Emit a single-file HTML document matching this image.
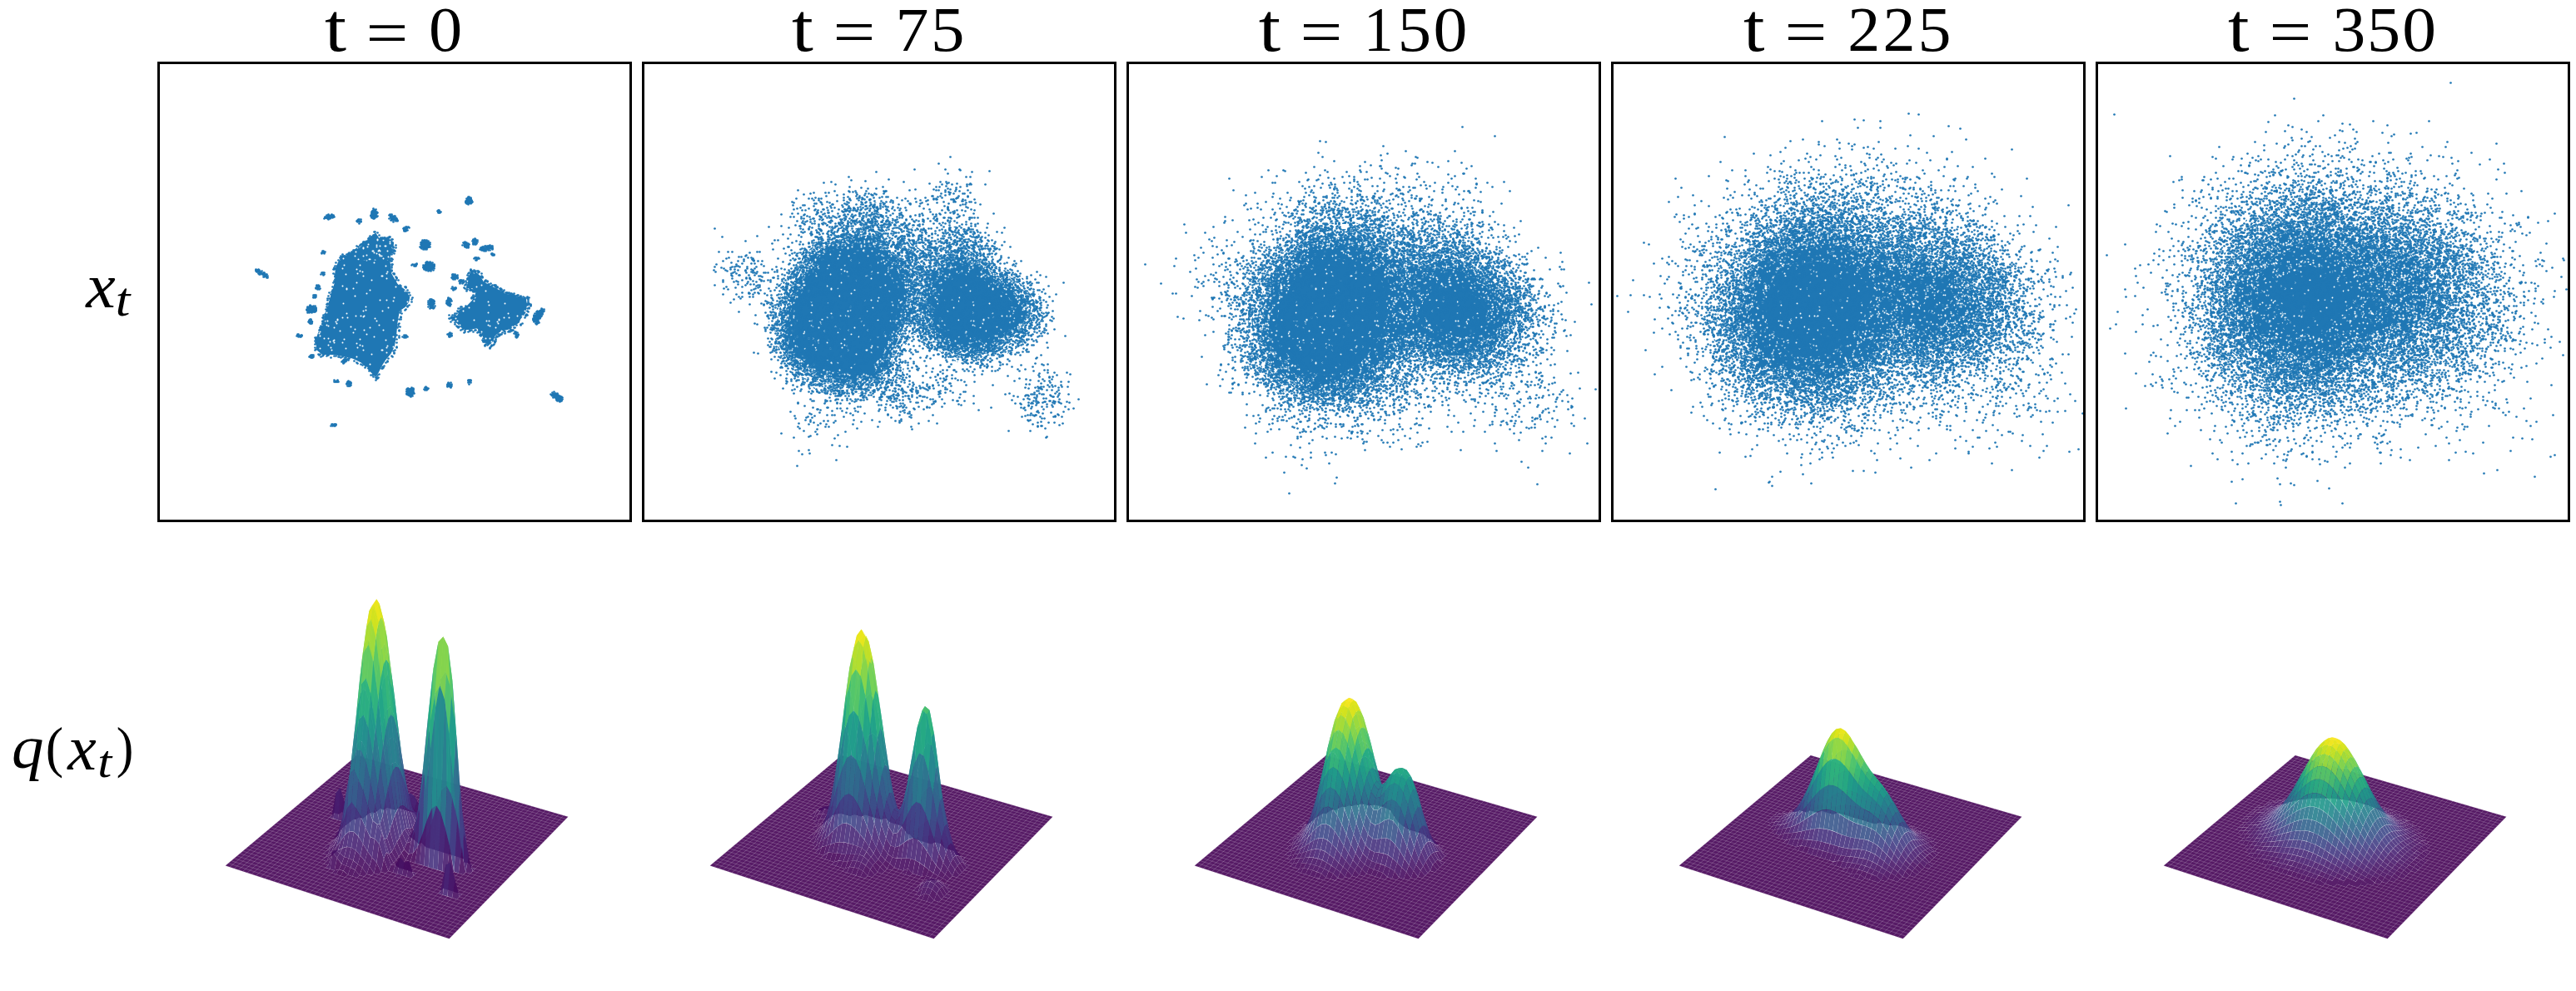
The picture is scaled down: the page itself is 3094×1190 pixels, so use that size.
<!DOCTYPE html>
<html><head><meta charset="utf-8"><title>Diffusion of data distribution</title>
<style>html,body{margin:0;padding:0;background:#fff;}body{width:3094px;height:1190px;overflow:hidden;font-family:"Liberation Serif",serif;}svg{display:block}</style>
</head><body>
<svg width="3094" height="1190" viewBox="0 0 3094 1190">
<clipPath id="bc0"><path clip-rule="evenodd" d="M270.7 1039.5 539.6 1127.3 682.4 980.7 428.8 907ZM389.5 1017.7 392.7 1014.8 396 1012 399.2 1009.1 402.4 1006.3 405.6 1003.5 400.4 1001.9 403.6 999.1 406.8 996.3 409.9 993.5 413.1 990.7 416.2 987.9 411.1 986.3 405.9 984.8 400.7 983.2 395.6 981.6 398.7 978.9 401.9 976.1 407 977.7 410.2 975 415.3 976.6 420.5 978.1 417.3 980.9 422.5 982.4 427.7 984 430.8 981.3 436 982.9 439.1 980.1 442.2 977.4 445.2 974.7 450.4 976.2 453.5 973.5 456.5 970.8 461.7 972.4 464.7 969.7 469.9 971.2 475.1 972.8 478.1 970.1 483.3 971.7 488.5 973.2 493.7 974.8 496.7 972.1 501.9 973.6 499 976.4 504.2 977.9 509.5 979.5 506.5 982.2 511.7 983.8 517 985.4 514.1 988.2 511.1 990.9 516.4 992.5 521.7 994.1 518.7 996.9 524 998.5 521.1 1001.3 526.4 1003 523.4 1005.8 520.4 1008.6 525.8 1010.3 522.8 1013.1 517.4 1011.5 514.4 1014.3 511.4 1017.2 516.8 1018.8 522.2 1020.5 527.6 1022.1 533 1023.8 538.4 1025.5 543.9 1027.1 549.3 1028.8 554.8 1030.5 560.3 1032.2 557.3 1035.1 562.8 1036.8 568.3 1038.5 565.3 1041.4 570.8 1043.1 567.9 1046.1 564.9 1049.1 559.3 1047.4 556.3 1050.3 550.8 1048.6 545.3 1046.9 542.2 1049.9 536.7 1048.2 531.2 1046.4 525.7 1044.7 520.2 1043 514.7 1041.3 509.3 1039.6 503.8 1037.9 498.4 1036.2 493 1034.5 487.5 1032.8 484.4 1035.8 481.3 1038.7 478.2 1041.7 483.6 1043.4 489.1 1045.1 494.5 1046.8 500 1048.5 496.9 1051.5 493.7 1054.5 488.3 1052.7 482.8 1051 479.6 1054 474.2 1052.3 477.3 1049.3 471.9 1047.6 466.4 1045.9 463.3 1048.8 457.8 1047.1 454.6 1050.1 449.2 1048.4 446 1051.4 440.6 1049.6 437.3 1052.6 431.9 1050.9 428.7 1053.9 423.3 1052.2 417.9 1050.4 414.6 1053.4 409.2 1051.7 403.8 1050 398.4 1048.3 401.7 1045.3 396.4 1043.6 391 1041.9 394.3 1038.9 389 1037.2 392.3 1034.3 387 1032.6 390.2 1029.7 393.5 1026.8 388.2 1025.1 391.5 1022.2 394.7 1019.3ZM546.5 990.6 551.8 992.2 557.2 993.8 554.3 996.6 551.3 999.4 546 997.8 540.6 996.2 543.6 993.4ZM532.5 1066.7 538 1068.5 543.6 1070.2 549.2 1072 554.8 1073.8 551.8 1076.8 548.7 1079.9 543.1 1078.1 537.4 1076.4 531.8 1074.6 526.3 1072.8 529.4 1069.7Z"/></clipPath>
<path fill="#440154" fill-opacity="0.9" fill-rule="evenodd" d="M270.7 1039.5 539.6 1127.3 682.4 980.7 428.8 907ZM389.5 1017.7 392.7 1014.8 396 1012 399.2 1009.1 402.4 1006.3 405.6 1003.5 400.4 1001.9 403.6 999.1 406.8 996.3 409.9 993.5 413.1 990.7 416.2 987.9 411.1 986.3 405.9 984.8 400.7 983.2 395.6 981.6 398.7 978.9 401.9 976.1 407 977.7 410.2 975 415.3 976.6 420.5 978.1 417.3 980.9 422.5 982.4 427.7 984 430.8 981.3 436 982.9 439.1 980.1 442.2 977.4 445.2 974.7 450.4 976.2 453.5 973.5 456.5 970.8 461.7 972.4 464.7 969.7 469.9 971.2 475.1 972.8 478.1 970.1 483.3 971.7 488.5 973.2 493.7 974.8 496.7 972.1 501.9 973.6 499 976.4 504.2 977.9 509.5 979.5 506.5 982.2 511.7 983.8 517 985.4 514.1 988.2 511.1 990.9 516.4 992.5 521.7 994.1 518.7 996.9 524 998.5 521.1 1001.3 526.4 1003 523.4 1005.8 520.4 1008.6 525.8 1010.3 522.8 1013.1 517.4 1011.5 514.4 1014.3 511.4 1017.2 516.8 1018.8 522.2 1020.5 527.6 1022.1 533 1023.8 538.4 1025.5 543.9 1027.1 549.3 1028.8 554.8 1030.5 560.3 1032.2 557.3 1035.1 562.8 1036.8 568.3 1038.5 565.3 1041.4 570.8 1043.1 567.9 1046.1 564.9 1049.1 559.3 1047.4 556.3 1050.3 550.8 1048.6 545.3 1046.9 542.2 1049.9 536.7 1048.2 531.2 1046.4 525.7 1044.7 520.2 1043 514.7 1041.3 509.3 1039.6 503.8 1037.9 498.4 1036.2 493 1034.5 487.5 1032.8 484.4 1035.8 481.3 1038.7 478.2 1041.7 483.6 1043.4 489.1 1045.1 494.5 1046.8 500 1048.5 496.9 1051.5 493.7 1054.5 488.3 1052.7 482.8 1051 479.6 1054 474.2 1052.3 477.3 1049.3 471.9 1047.6 466.4 1045.9 463.3 1048.8 457.8 1047.1 454.6 1050.1 449.2 1048.4 446 1051.4 440.6 1049.6 437.3 1052.6 431.9 1050.9 428.7 1053.9 423.3 1052.2 417.9 1050.4 414.6 1053.4 409.2 1051.7 403.8 1050 398.4 1048.3 401.7 1045.3 396.4 1043.6 391 1041.9 394.3 1038.9 389 1037.2 392.3 1034.3 387 1032.6 390.2 1029.7 393.5 1026.8 388.2 1025.1 391.5 1022.2 394.7 1019.3ZM546.5 990.6 551.8 992.2 557.2 993.8 554.3 996.6 551.3 999.4 546 997.8 540.6 996.2 543.6 993.4ZM532.5 1066.7 538 1068.5 543.6 1070.2 549.2 1072 554.8 1073.8 551.8 1076.8 548.7 1079.9 543.1 1078.1 537.4 1076.4 531.8 1074.6 526.3 1072.8 529.4 1069.7Z"/>
<g fill-opacity="0.9">
<path clip-path="url(#bc0)" stroke="#fff" stroke-opacity="0.25" stroke-width="0.75" fill="none" d="M270.7 1039.5L428.8 907M270.7 1039.5L539.6 1127.3M275.9 1041.2L433.7 908.4M274.2 1036.5L542.8 1124M281.2 1042.9L438.7 909.8M277.7 1033.6L546 1120.8M286.4 1044.6L443.6 911.3M281.2 1030.7L549.1 1117.5M291.6 1046.3L448.6 912.7M284.7 1027.8L552.3 1114.3M296.9 1048L453.6 914.2M288.1 1024.9L555.4 1111.1M302.2 1049.7L458.6 915.6M291.6 1022L558.5 1107.9M307.4 1051.5L463.6 917.1M295 1019.1L561.6 1104.7M312.7 1053.2L468.6 918.5M298.4 1016.2L564.7 1101.5M318 1054.9L473.6 920M301.8 1013.4L567.8 1098.3M323.3 1056.6L478.6 921.4M305.2 1010.5L570.9 1095.2M328.7 1058.4L483.6 922.9M308.6 1007.7L574 1092M334 1060.1L488.7 924.4M312 1004.9L577 1088.9M339.3 1061.9L493.7 925.8M315.4 1002.1L580.1 1085.8M344.7 1063.6L498.8 927.3M318.7 999.3L583.1 1082.7M350.1 1065.4L503.9 928.8M322 996.5L586.1 1079.6M355.4 1067.1L509 930.3M325.4 993.7L589.1 1076.5M360.8 1068.9L514 931.7M328.7 990.9L592.1 1073.4M366.2 1070.7L519.1 933.2M332 988.1L595.1 1070.3M371.6 1072.4L524.3 934.7M335.3 985.4L598.1 1067.3M377.1 1074.2L529.4 936.2M338.5 982.6L601 1064.2M382.5 1076L534.5 937.7M341.8 979.9L604 1061.2M388 1077.7L539.7 939.2M345.1 977.2L606.9 1058.2M393.4 1079.5L544.8 940.7M348.3 974.5L609.9 1055.2M398.9 1081.3L550 942.2M351.5 971.7L612.8 1052.2M404.4 1083.1L555.2 943.7M354.7 969L615.7 1049.2M409.9 1084.9L560.3 945.2M358 966.4L618.6 1046.2M415.4 1086.7L565.5 946.7M361.2 963.7L621.5 1043.3M420.9 1088.5L570.7 948.2M364.3 961L624.3 1040.3M426.4 1090.3L575.9 949.7M367.5 958.3L627.2 1037.4M432 1092.1L581.2 951.3M370.7 955.7L630.1 1034.4M437.5 1093.9L586.4 952.8M373.8 953L632.9 1031.5M443.1 1095.8L591.7 954.3M377 950.4L635.8 1028.6M448.7 1097.6L596.9 955.8M380.1 947.8L638.6 1025.7M454.3 1099.4L602.2 957.4M383.2 945.2L641.4 1022.8M459.9 1101.2L607.5 958.9M386.3 942.6L644.2 1019.9M465.5 1103.1L612.7 960.4M389.4 940L647 1017.1M471.1 1104.9L618 962M392.5 937.4L649.8 1014.2M476.7 1106.7L623.3 963.5M395.6 934.8L652.6 1011.4M482.4 1108.6L628.7 965.1M398.7 932.2L655.3 1008.5M488.1 1110.4L634 966.6M401.7 929.7L658.1 1005.7M493.7 1112.3L639.3 968.2M404.8 927.1L660.8 1002.9M499.4 1114.2L644.7 969.7M407.8 924.6L663.6 1000.1M505.1 1116L650 971.3M410.9 922L666.3 997.3M510.8 1117.9L655.4 972.8M413.9 919.5L669 994.5M516.6 1119.8L660.8 974.4M416.9 917L671.7 991.7M522.3 1121.6L666.2 976M419.9 914.5L674.4 988.9M528.1 1123.5L671.6 977.5M422.9 912L677.1 986.2M533.8 1125.4L677 979.1M425.8 909.5L679.8 983.4M539.6 1127.3L682.4 980.7M428.8 907L682.4 980.7"/>
<path fill="#46075a" d="M475.1 972.8l5.2-3.2 3 2.1-5.2-1.6z"/>
<path fill="#470d60" d="M461.7 972.4l5.1-15.3 3.1 14.1-5.2-1.5z"/>
<path fill="#46075a" d="M453.5 973.5l5.1-5.5 3.1 4.4-5.2-1.6z"/>
<path fill="#440154" d="M493.7 974.8l5.3 1.6 2.9-2.8-5.2-1.5z"/>
<path fill="#46075a" d="M480.3 969.6l5.2 1.6 3 2-5.2-1.5zM485.5 971.2l5.3-.5 2.9 4.1-5.2-1.6z"/>
<path fill="#471365" d="M466.9 957.1l5.1-3.8 3.1 19.5-5.2-1.6z"/>
<path fill="#46075a" d="M450.4 976.2l5.2-4.6 3-3.6-5.1 5.5zM442.2 977.4l5.1-2.7 3.1 1.5-5.1-1.5z"/>
<path fill="#471365" d="M458.7 968l5.1-11.3 3 .5-5.1 15.1zM472.1 953.3l5.2 9 3 7.2-5.2 3.3z"/>
<path fill="#470d60" d="M490.8 970.7l5.2-6.2 3 11.8-5.3-1.5zM407.1 977.7l4.8-19.5 3.4 18.3-5.1-1.5zM477.3 962.3l5.2 6.1 3 2.8-5.2-1.7z"/>
<path fill="#46075a" d="M447.3 974.7l5.2-3.5 3.1 .4-5.2 4.6zM439.1 980.1l5.1-5.1 3.1-.3-5.1 2.7z"/>
<path fill="#470d60" d="M411.9 958.2l5.4 22.6 3.2-2.7-5.2-1.6z"/>
<path fill="#471365" d="M398.8 978.8l4.6-26.4 3.6 25.3-5.1-1.6z"/>
<path fill="#470d60" d="M496 964.5l5.3 4.6 2.9 8.8-5.2-1.6z"/>
<path fill="#46075a" d="M501.3 969.1l5.2 13.1 2.9-2.7-5.2-1.6z"/>
<path fill="#470d60" d="M482.6 968.5l5.2-1.9 2.9 4-5.2 .6z"/>
<path fill="#471365" d="M455.6 971.6l5.1-5 3.1-9.9-5.2 11.3zM395.6 981.6l5.1 1.5 2.7-30.7-4.6 26.4z"/>
<path fill="#481d6f" d="M463.8 956.6l5.2-5.6 3 2.2-5.1 3.9z"/>
<path fill="#46075a" d="M436 982.8l5.1-8.3 3.1 .5-5.1 5.1zM427.7 984l5.1-3.9 3.2 2.8-5.2-1.6z"/>
<path fill="#471365" d="M452.5 971.2l5.2-6.5 3 1.9-5.1 5z"/>
<path fill="#470d60" d="M444.3 975l5.1-6.3 3.1 2.5-5.2 3.5z"/>
<path fill="#48186a" d="M474.3 958.4l5.2 5.1 3 4.9-5.2-6.1z"/>
<path fill="#481d6f" d="M469 951l5.2 7.3 3.1 3.9-5.2-8.9z"/>
<path fill="#470d60" d="M413.9 963.3l5.4 16.2 3.2 2.9-5.1-1.6z"/>
<path fill="#46075a" d="M419.3 979.5l5.2 4.3 3.2 .2-5.2-1.6z"/>
<path fill="#48186a" d="M487.8 966.5l5.3-14.1 2.9 12-5.2 6.2z"/>
<path fill="#481d6f" d="M460.8 966.5l5.1-5.5 3.1-10-5.2 5.7z"/>
<path fill="#48186a" d="M479.5 963.6l5.2-1 3 4-5.2 1.8z"/>
<path fill="#46075a" d="M508.9 973.6l5.1 14.6 3-2.8-5.2-1.6z"/>
<path fill="#470d60" d="M503.6 966.9l5.2 6.7 2.9 10.2-5.2-1.6z"/>
<path fill="#482374" d="M403.5 952.5l5-6.4 3.3 12-4.8 19.5z"/>
<path fill="#46075a" d="M424.6 983.8l5.1-2.7 3.1-1-5.1 3.9z"/>
<path fill="#470d60" d="M432.9 980.1l5.1-6.7 3.1 1.1-5.1 8.3z"/>
<path fill="#48186a" d="M498.4 956.9l5.2 10 2.9 15.3-5.2-13.1z"/>
<path fill="#470d60" d="M411.1 986.3l5.1 1.6 3.1-8.4-5.4-16.2z"/>
<path fill="#481d6f" d="M400.7 983.1l5.2 1.6 2.6-38.6-5.1 6.4zM408.5 946.1l5.4 17.1 3.4 17.6-5.4-22.6z"/>
<path fill="#46075a" d="M416.3 987.9l5.1-1.6 3.1-2.5-5.2-4.3z"/>
<path fill="#481d6f" d="M457.7 964.6l5.2-9 3 5.5-5.1 5.4zM493.1 952.4l5.2 4.5 3 12.1-5.2-4.6z"/>
<path fill="#471365" d="M441.1 974.5l5.1-9.9 3.1 4.1-5.1 6.3z"/>
<path fill="#481d6f" d="M466 961l5.1-3.6 3.1 1-5.2-7.4z"/>
<path fill="#48186a" d="M449.4 968.7l5.1-10.9 3.1 6.8-5.1 6.6zM405.9 984.7l5.2 1.6 2.8-23-5.4-17.2z"/>
<path fill="#481d6f" d="M471.3 957.5l5.1-2.4 3.1 8.4-5.2-5.1z"/>
<path fill="#46075a" d="M413.1 990.7l5.1-2 3.2-2.3-5.1 1.5z"/>
<path fill="#481d6f" d="M484.8 962.5l5.2-8.6 3-1.5-5.2 14.1z"/>
<path fill="#46075a" d="M421.4 986.3l5.1-4.1 3.2-1.1-5.1 2.7z"/>
<path fill="#471365" d="M505.9 970.4l5.2 20.5 2.9-2.8-5.1-14.5zM429.7 981.1l5.1-9.2 3.1 1.5-5.1 6.7z"/>
<path fill="#482374" d="M476.5 955.1l5.2-.3 3 7.7-5.2 1z"/>
<path fill="#482878" d="M463 955.5l5.1-9.3 3 11.2-5.1 3.6z"/>
<path fill="#48186a" d="M438 973.3l5-14.2 3.2 5.5-5.1 9.9z"/>
<path fill="#46075a" d="M409.9 993.5l5.2-2.4 3.1-2.4-5.1 2z"/>
<path fill="#48186a" d="M500.7 962.2l5.2 8.1 2.9 3.2-5.2-6.6z"/>
<path fill="#470d60" d="M418.3 988.7l5.1-5.3 3.1-1.2-5.1 4.1z"/>
<path fill="#482878" d="M490.1 953.8l5.2 2.9 3 .1-5.2-4.4z"/>
<path fill="#470d60" d="M543.6 993.4l5.6-15.8 2.6 14.6-5.3-1.6z"/>
<path fill="#482374" d="M495.4 956.8l5.2 5.3 3 4.7-5.2-9.9z"/>
<path fill="#46075a" d="M508.1 986.7l5.3 .7 3 5.1-5.3-1.6z"/>
<path fill="#482374" d="M446.3 964.5l5.1-16.5 3.1 9.8-5.1 10.8z"/>
<path fill="#482878" d="M454.6 957.7l5.1-14.6 3.1 12.4-5.1 9z"/>
<path fill="#471365" d="M502.9 980.3l5.2 6.3 3 4.3-5.2-20.5z"/>
<path fill="#482878" d="M481.8 954.7l5.1 1.5 3.1-2.4-5.2 8.7z"/>
<path fill="#46075a" d="M513.5 987.4l5.2 9.5 3-2.8-5.3-1.6z"/>
<path fill="#471365" d="M426.6 982.1l5-11.8 3.2 1.6-5.1 9.2zM549.2 977.6l5 19 2.9-2.8-5.3-1.6z"/>
<path fill="#46075a" d="M406.8 996.3l5.1-2.6 3.2-2.6-5.2 2.4z"/>
<path fill="#48186a" d="M497.6 972l5.2 8.2 3-9.8-5.2-8.2z"/>
<path fill="#482878" d="M487.1 956.1l5.2 7 2.9-6.3-5.1-2.9z"/>
<path fill="#470d60" d="M540.6 996.2l5.4 1.6 3.2-20.2-5.6 15.8zM415.1 991.1l5.1-6 3.2-1.7-5.1 5.3z"/>
<path fill="#482374" d="M492.4 963.2l5.2 8.7 2.9-9.7-5.1-5.3z"/>
<path fill="#472d7b" d="M468.2 946.2l5.2-6.4 3 15.2-5.2 2.3z"/>
<path fill="#482374" d="M434.8 971.7l5-18.8 3.2 6.3-5 14.1z"/>
<path fill="#471365" d="M499.9 979.8l5.2 3.8 3 3.1-5.2-6.4z"/>
<path fill="#470d60" d="M546 997.8l5.3 1.6 2.9-2.8-5-19z"/>
<path fill="#48186a" d="M494.6 968.7l5.2 11 3 .5-5.2-8.1z"/>
<path fill="#46075a" d="M403.6 999.1l5.1-2.5 3.2-2.8-5.1 2.5z"/>
<path fill="#48186a" d="M423.4 983.3l5-14 3.2 1-5.1 11.8z"/>
<path fill="#470d60" d="M411.9 993.7l5.1-6.3 3.2-2.3-5.1 6z"/>
<path fill="#46327e" d="M473.4 939.8l5.3-.7 3 15.5-5.2 .3z"/>
<path fill="#471365" d="M505.2 983.6l5.3-7.6 2.9 11.4-5.3-.8z"/>
<path fill="#482374" d="M489.3 955.8l5.2 12.8 3 3.3-5.2-8.6z"/>
<path fill="#453781" d="M459.8 943l5.1-15.1 3.1 18.2-5.1 9.3z"/>
<path fill="#472d7b" d="M443.1 959l5-23.2 3.2 12.2-5.1 16.5z"/>
<path fill="#471365" d="M515.9 975.4l5.1 25.9 3-2.8-5.3-1.6z"/>
<path fill="#46075a" d="M400.4 1001.9l5.2 1.6 3.1-6.9-5.1 2.5z"/>
<path fill="#472d7b" d="M484 944.8l5.2 10.9 3.1 7.4-5.2-7.1z"/>
<path fill="#46327e" d="M478.7 939l5.2 5.8 3.1 11.2-5.3-1.4z"/>
<path fill="#48186a" d="M510.6 976l5.3-.6 2.8 21.5-5.2-9.5z"/>
<path fill="#453781" d="M451.4 947.8l5.1-21.7 3.1 16.9-5.1 14.6z"/>
<path fill="#470d60" d="M408.7 996.6l5.1-6.2 3.2-3-5.1 6.3z"/>
<path fill="#48186a" d="M420.2 985l5-15.5 3.2-.2-5 14zM496.9 974.3l5.2 6.1 3 3.2-5.2-3.9z"/>
<path fill="#482878" d="M431.7 970.2l4.9-23.5 3.2 6.2-5 18.8z"/>
<path fill="#482374" d="M491.6 958.2l5.2 16 3 5.5-5.2-11z"/>
<path fill="#470d60" d="M518.2 988.7l5.2 17.1 3-2.8-5.3-1.7zM405.6 1003.5l5.1-9.4 3.1-3.7-5 6.2z"/>
<path fill="#481d6f" d="M502.2 980.4l5.4-9 2.9 4.5-5.3 7.6zM417 987.3l5-16.2 3.2-1.6-5 15.5z"/>
<path fill="#404588" d="M465 927.9l5.2-10.6 3.1 22.3-5.2 6.4z"/>
<path fill="#470d60" d="M402.4 1006.3l5.1-8 3.2-4.2-5.1 9.4z"/>
<path fill="#46327e" d="M486.3 939.5l5.2 18.5 3 10.5-5.1-12.8z"/>
<path fill="#443b84" d="M439.9 952.7l5-30.4 3.2 13.5-5 23.2z"/>
<path fill="#481d6f" d="M513 970l5.2 18.6 2.8 12.7-5.1-25.8z"/>
<path fill="#46327e" d="M428.5 969.2l4.9-27.6 3.2 5.1-5 23.5z"/>
<path fill="#482374" d="M493.9 966.4l5.2 11.3 3 2.7-5.2-6.1z"/>
<path fill="#481d6f" d="M413.9 990.3l4.9-15.9 3.2-3.3-5 16.2z"/>
<path fill="#471365" d="M515.2 986.1l5.2 22.5 3-2.8-5.2-17.1z"/>
<path fill="#482374" d="M507.7 971.4l5.2-1.4 2.9 5.4-5.2 .4z"/>
<path fill="#46075a" d="M399.2 1009.1l5.1-6.3 3.2-4.5-5.1 8z"/>
<path fill="#424086" d="M480.9 923.7l5.3 15.8 3.1 16.1-5.3-11.1z"/>
<path fill="#482374" d="M499.2 977.7l5.3-3.8 3-2.5-5.3 9z"/>
<path fill="#46075a" d="M517.4 1011.5l5.4 1.6 3-2.8-5.4-1.7z"/>
<path fill="#3e4989" d="M470.3 917.3l5.3-1.8 3 23.3-5.2 .7z"/>
<path fill="#3d4e8a" d="M456.6 926l5.1-22.3 3.1 24-5.1 15.2z"/>
<path fill="#3e4989" d="M448.2 935.6l5-30.1 3.2 20.6-5 21.7z"/>
<path fill="#481d6f" d="M410.7 994l5-14.7 3.1-4.9-4.9 15.9z"/>
<path fill="#46327e" d="M488.6 943.7l5.2 22.5 3 8-5.2-16z"/>
<path fill="#3e4989" d="M475.6 915.5l5.3 8.2 3 20.8-5.2-5.7z"/>
<path fill="#46075a" d="M396 1012l5.1-4.6 3.2-4.6-5.1 6.3z"/>
<path fill="#453781" d="M425.3 969.3l4.8-30.4 3.2 2.7-4.9 27.6z"/>
<path fill="#471365" d="M512.2 986.8l5.2 24.6 3-2.8-5.2-22.5z"/>
<path fill="#48186a" d="M407.5 998.2l5-12.7 3.2-6.2-5 14.7z"/>
<path fill="#482374" d="M510 971.7l5.2 14.3 3 2.6-5.2-18.6z"/>
<path fill="#482878" d="M504.6 973.8l5.2-2.1 3.1-1.7-5.2 1.4zM496.2 974.3l5.2 1.5 3.1-1.9-5.3 3.8z"/>
<path fill="#472d7b" d="M490.8 956.6l5.3 17.6 3 3.5-5.2-11.3z"/>
<path fill="#46075a" d="M392.7 1014.8l5.2-2.9 3.2-4.5-5.1 4.6z"/>
<path fill="#471365" d="M509.1 1001l5.3 13.3 3-2.9-5.2-24.6z"/>
<path fill="#3e4989" d="M436.7 946.4l4.9-37.4 3.2 13.3-4.9 30.3z"/>
<path fill="#48186a" d="M404.3 1002.7l5.1-10.3 3.1-7-5 12.8z"/>
<path fill="#46075a" d="M506 1011.6l5.4 5.5 3-2.8-5.3-13.3z"/>
<path fill="#443b84" d="M422.1 970.9l4.8-31.7 3.2-.3-4.9 30.4z"/>
<path fill="#404588" d="M483.2 917.6l5.3 25.8 3 14.6-5.1-18.6z"/>
<path fill="#470d60" d="M500.7 1005.2l5.3 6.4 3.1-10.6-5.3-8.5z"/>
<path fill="#46075a" d="M389.5 1017.7l5.2 1.6 3.2-7.4-5.2 2.9z"/>
<path fill="#482878" d="M501.6 975.8l5.2-1.1 3-3-5.2 2.1z"/>
<path fill="#471365" d="M401.1 1007.4l5.1-7.7 3.2-7.3-5.1 10.4z"/>
<path fill="#482374" d="M506.9 974.8l5.3 11.9 3-.7-5.3-14.2z"/>
<path fill="#48186a" d="M495.4 993.7l5.3 11.4 3-12.6-5.3-5.9z"/>
<path fill="#482878" d="M493.1 973.8l5.3 12.7 3-10.6-5.2-1.5z"/>
<path fill="#481d6f" d="M503.8 992.4l5.3 8.5 3-14.1-5.2-12z"/>
<path fill="#482374" d="M498.5 986.5l5.3 5.9 3.1-17.6-5.4 1.1z"/>
<path fill="#46075a" d="M497.6 1008.4l5.4 4.8 3-1.6-5.3-6.4z"/>
<path fill="#365c8d" d="M461.8 903.7l5.2-15.8 3.2 29.2-5.3 10.6z"/>
<path fill="#470d60" d="M397.9 1011.9l5.1-5.3 3.2-7-5.1 7.8z"/>
<path fill="#46075a" d="M503 1013.3l5.4-2 3 5.9-5.4-5.5z"/>
<path fill="#471365" d="M492.3 995.1l5.3 13.3 3-3.2-5.3-11.4z"/>
<path fill="#443b84" d="M418.9 974.2l4.8-31.2 3.2-3.8-4.9 31.7z"/>
<path fill="#424086" d="M485.5 925.9l5.3 30.4 3 9.9-5.2-22.5z"/>
<path fill="#482878" d="M490 972.1l5.3 21.6 3-7.2-5.2-12.7z"/>
<path fill="#470d60" d="M394.8 1019.3l5.1-6.3 3.1-6.4-5.1 5.3z"/>
<path fill="#453781" d="M487.8 946.4l5.3 27.2 3 .6-5.3-17.6z"/>
<path fill="#365c8d" d="M444.9 922.1l5-39.1 3.3 22.5-5.1 30.1z"/>
<path fill="#470d60" d="M508.4 1011.2l5.5-9.5 2.8 17.1-5.3-1.7z"/>
<path fill="#453781" d="M415.7 979.1l4.8-28.9 3.2-7.2-4.8 31.2z"/>
<path fill="#38588c" d="M477.8 895.7l5.3 21.9 3.1 21.7-5.3-15.9zM433.4 941.4l4.8-43.5 3.3 11.1-4.9 37.4z"/>
<path fill="#46075a" d="M391.5 1022.2l5.2-3.5 3.2-5.7-5.1 6.3z"/>
<path fill="#471365" d="M494.6 1006.2l5.4-2.9 2.9 9.9-5.3-4.8z"/>
<path fill="#32648e" d="M453.3 905.3l5.1-30.5 3.2 28.8-5.1 22.3z"/>
<path fill="#48186a" d="M489.2 994.8l5.3 11.3 3.1 2.3-5.3-13.3z"/>
<path fill="#46327e" d="M412.6 985.3l4.8-25.3 3.1-9.8-4.8 28.9z"/>
<path fill="#482878" d="M487 969.2l5.3 25.7 3-1.2-5.3-21.6z"/>
<path fill="#31688e" d="M467.1 887.9l5.3-3.3 3.1 30.6-5.3 1.8z"/>
<path fill="#472d7b" d="M409.4 992.3l4.9-20.9 3.1-11.4-4.9 25.3z"/>
<path fill="#482374" d="M406.2 999.5l5-16.1 3.1-12-4.9 20.9z"/>
<path fill="#46075a" d="M388.2 1025.1l5.3 1.7 3.2-8.1-5.2 3.5z"/>
<path fill="#32648e" d="M472.4 884.6l5.4 11.1 3.1 27.7-5.3-8.2z"/>
<path fill="#481d6f" d="M403.1 1006.6l5-11.6 3.1-11.6-5 16.2z"/>
<path fill="#48186a" d="M399.9 1013l5.1-7.7 3.1-10.3-5 11.6zM513.9 1001.7l5.6-16.9 2.6 35.6-5.3-1.6z"/>
<path fill="#424086" d="M484.7 936.1l5.3 35.8 3 1.7-5.2-27.2z"/>
<path fill="#48186a" d="M500 1003.3l5.5-18.3 2.9 26.2-5.4 2z"/>
<path fill="#470d60" d="M396.7 1018.7l5.1-4.6 3.2-8.8-5.1 7.7z"/>
<path fill="#481d6f" d="M486.1 995.4l5.4 9.1 3 1.6-5.3-11.3z"/>
<path fill="#472d7b" d="M483.9 967.4l5.3 27.2 3 .3-5.3-25.7z"/>
<path fill="#365c8d" d="M480.1 891.2l5.4 34.4 3 17.8-5.2-25.8z"/>
<path fill="#470d60" d="M393.5 1026.8l5.2-5.4 3.2-7.2-5.2 4.5z"/>
<path fill="#34608d" d="M430.2 938.6l4.7-47.7 3.3 7-4.8 43.5z"/>
<path fill="#48186a" d="M491.5 1004.6l5.4-8.2 3 6.9-5.3 2.8z"/>
<path fill="#3a538b" d="M482.4 906.5l5.3 39.6 3.1 10.2-5.3-30.4z"/>
<path fill="#46075a" d="M390.3 1029.7l5.2-2.4 3.2-5.8-5.2 5.3z"/>
<path fill="#481d6f" d="M483 1000.2l5.4 12.1 3-7.7-5.3-9.2z"/>
<path fill="#470d60" d="M485.3 1019.8l5.4 5.5 3.1-14.7-5.4 1.8z"/>
<path fill="#48186a" d="M488.4 1012.3l5.4-1.7 3.1-14.2-5.4 8.2z"/>
<path fill="#2d708e" d="M441.6 908.8l4.9-47.7 3.4 21.9-5 39z"/>
<path fill="#482374" d="M519.5 984.8l5.7-20.4 2.3 57.7-5.3-1.7z"/>
<path fill="#48186a" d="M479.9 1005.7l5.4 14.1 3-7.5-5.3-12.1z"/>
<path fill="#472d7b" d="M480.7 967.9l5.4 27.3 3-.6-5.3-27.2z"/>
<path fill="#46075a" d="M387 1032.6l5.3 1.7 3.2-7-5.2 2.4zM482.2 1024.2l5.3 8.6 3.1-7.4-5.3-5.5z"/>
<path fill="#471365" d="M398.7 1021.4l5.2-4.5 3.1-11.9-5.1 9.2z"/>
<path fill="#481d6f" d="M401.9 1014.1l5.1-9.2 3-15.3-5 15.6z"/>
<path fill="#3e4989" d="M481.6 927.3l5.3 41.7 3.1 2.9-5.3-35.8z"/>
<path fill="#46075a" d="M487.6 1032.8l5.4 1.7 3.1-10.1-5.4 1z"/>
<path fill="#482878" d="M405 1005.2l5-15.6 3.1-15-4.9 20.2z"/>
<path fill="#297b8e" d="M458.5 874.8l5.2-21.7 3.3 34.6-5.3 15.8z"/>
<path fill="#470d60" d="M395.5 1027.3l5.2-2.3 3.2-8.1-5.2 4.6z"/>
<path fill="#32648e" d="M426.9 939l4.8-49.7 3.2 1.6-4.8 47.7z"/>
<path fill="#471365" d="M476.8 1011.2l5.3 13 3.1-4.4-5.3-14.1z"/>
<path fill="#46327e" d="M408.2 994.8l4.9-20.2 3-17.6-4.9 26.2z"/>
<path fill="#46075a" d="M479 1028.4l5.4 7.4 3.1-3-5.4-8.6z"/>
<path fill="#48186a" d="M490.7 1025.3l5.4-.9 3.2-30.3-5.5 16.6z"/>
<path fill="#46327e" d="M477.6 972l5.4 28 3.1-4.7-5.4-27.4z"/>
<path fill="#472d7b" d="M505.6 985l5.6-35.8 2.6 52.4-5.4 9.5z"/>
<path fill="#46075a" d="M392.3 1034.3l5.1-5.4 3.3-3.8-5.2 2.2z"/>
<path fill="#471365" d="M552.4 998.7l4.9 36.4 2.9-3-5.4-1.6zM473.6 1017.3l5.4 11 3.1-4.1-5.4-13z"/>
<path fill="#2c738e" d="M474.7 862.4l5.3 28.7 3.2 26.2-5.4-21.9z"/>
<path fill="#424086" d="M411.3 983.2l4.8-26.2 3-19.2-4.8 33.4z"/>
<path fill="#46075a" d="M493 1034.5l5.4 1.7 3.2-19.4-5.5 7.6z"/>
<path fill="#277f8e" d="M450 882.7l5.1-39.1 3.2 31.1-5.1 30.5z"/>
<path fill="#472d7b" d="M497 996.2l5.5-27.4 2.9 16.2-5.4 18.2z"/>
<path fill="#32648e" d="M423.7 942.8l4.8-48.9 3.2-4.6-4.8 49.7z"/>
<path fill="#46327e" d="M525.2 964.5l5.7-16.1 2.1 75.3-5.4-1.7z"/>
<path fill="#46075a" d="M389 1037.2l5.3 1.7 3.2-10-5.2 5.4z"/>
<path fill="#472d7b" d="M474.5 978.5l5.4 27.1 3-5.6-5.3-28z"/>
<path fill="#46075a" d="M475.9 1032.5l5.4 6.2 3.1-2.9-5.4-7.4z"/>
<path fill="#3d4e8a" d="M414.3 971.2l4.9-33.4 3-18.3-4.8 40.2z"/>
<path fill="#471365" d="M400.7 1025l5.2-3.9 3.2-11-5.2 6.8z"/>
<path fill="#470d60" d="M470.5 1023.2l5.4 9.3 3.1-4.2-5.4-11z"/>
<path fill="#32648e" d="M479.3 887.5l5.4 48.4 3 10.2-5.3-39.6z"/>
<path fill="#482374" d="M403.9 1016.8l5.2-6.8 2.9-22-4.9 17z"/>
<path fill="#34608d" d="M420.6 949.9l4.7-45.6 3.1-10.4-4.7 48.9z"/>
<path fill="#3d4e8a" d="M478.4 921.9l5.4 45.2 3.1 1.9-5.4-41.7z"/>
<path fill="#38588c" d="M417.4 959.7l4.8-40.2 3.1-15.2-4.7 45.6z"/>
<path fill="#482878" d="M471.3 987l5.4 24.1 3.1-5.5-5.4-27.1z"/>
<path fill="#472d7b" d="M493.8 1010.5l5.4-16.5 3.3-25.2-5.5 27.4z"/>
<path fill="#471365" d="M397.5 1028.8l5.1-7.8 3.3 .2-5.2 3.8z"/>
<path fill="#482374" d="M547.2 974.7l5.2 24.1 2.4 31.6-5.5-1.7z"/>
<path fill="#26828e" d="M463.8 853.1l5.4-4.9 3.2 36.2-5.4 3.3z"/>
<path fill="#482374" d="M468.2 996.8l5.4 20.4 3.1-6.1-5.4-24.1z"/>
<path fill="#46075a" d="M472.8 1036l5.4 5.6 3.1-2.9-5.4-6.2z"/>
<path fill="#471365" d="M498.4 1036.2l5.4 1.7 3.3-35.3-5.5 14.2z"/>
<path fill="#2c738e" d="M476.9 862.7l5.5 43.5 3.1 19.4-5.4-34.4z"/>
<path fill="#26828e" d="M469.2 848.2l5.4 14.2 3.2 33-5.4-11z"/>
<path fill="#470d60" d="M467.3 1025.6l5.4 10.4 3.2-3.5-5.4-9.3z"/>
<path fill="#453781" d="M530.9 948.4l5.6-4.4 1.9 81.3-5.4-1.6z"/>
<path fill="#481d6f" d="M465 1006.3l5.5 16.8 3.1-5.9-5.5-20.4z"/>
<path fill="#277f8e" d="M438.3 897.7l4.9-55 3.3 18.4-4.9 47.6z"/>
<path fill="#470d60" d="M560.3 1012.8l5 28.6 3-2.9-5.5-1.7z"/>
<path fill="#472d7b" d="M541.9 953.9l5.3 20.9 2.1 53.9-5.4-1.7z"/>
<path fill="#481d6f" d="M406 1021.1l5.2-2.8 3.1-15.5-5.2 7.3z"/>
<path fill="#46327e" d="M407 1004.8l5-17 2.9-30.4-4.8 32z"/>
<path fill="#471365" d="M394.3 1038.9l5-15.7 3.3-2.2-5.1 7.9z"/>
<path fill="#453781" d="M536.5 944l5.4 9.9 1.9 73.1-5.4-1.7z"/>
<path fill="#482878" d="M496.1 1024.3l5.5-7.6 3.3-55.9-5.6 33.4z"/>
<path fill="#470d60" d="M391 1041.8l5.4 1.7 2.9-20.3-5 15.7z"/>
<path fill="#48186a" d="M402.7 1021l5.3 3.5 3.2-6.1-5.2 2.8z"/>
<path fill="#3a538b" d="M475.3 921l5.4 46.7 3.1-.6-5.4-45.2z"/>
<path fill="#481d6f" d="M461.8 1008l5.5 17.6 3.1-2.5-5.4-16.8z"/>
<path fill="#46075a" d="M469.6 1038.5l5.4-.2 3.2 3.3-5.4-5.6z"/>
<path fill="#470d60" d="M464.1 1023.4l5.5 15.1 3.1-2.5-5.4-10.3z"/>
<path fill="#404588" d="M410.1 989.4l4.8-32 3.1-14.1-4.9 31z"/>
<path fill="#48186a" d="M408.1 1024.5l5.3 4.4 3.1-12-5.2 1.5z"/>
<path fill="#481d6f" d="M503.8 1037.8l5.5 1.7 3.4-54.4-5.6 17.5z"/>
<path fill="#470d60" d="M562.6 1029.7l5.3 16.4 2.9-3-5.5-1.7z"/>
<path fill="#46327e" d="M409.1 1009.9l5.2-7.3 2.8-32.3-5 17.7z"/>
<path fill="#471365" d="M399.4 1023.2l5.4 6.8 3.2-5.5-5.4-3.5z"/>
<path fill="#470d60" d="M396.4 1043.5l5.3 1.8 3.1-15.2-5.5-6.9z"/>
<path fill="#482374" d="M555.4 975.5l4.8 37.4 2.6 23.8-5.5-1.7zM411.3 1018.3l5.3-1.5 3-18.6-5.3 4.6z"/>
<path fill="#471365" d="M404.8 1030l5.5 7.3 3.1-8.3-5.4-4.4z"/>
<path fill="#470d60" d="M475 1038.3l5.5-8.8 3.1 13.8-5.4-1.7z"/>
<path fill="#46075a" d="M466.4 1045.9l5.5 1.7 3.1-9.3-5.4 .2z"/>
<path fill="#38588c" d="M472.1 925.4l5.5 46.3 3.1-4-5.5-46.7z"/>
<path fill="#46075a" d="M401.7 1045.3l5.3-1.4 3.2-6.5-5.4-7.4z"/>
<path fill="#48186a" d="M413.5 1028.9l5.3 1.5 3.1-12.8-5.3-.7z"/>
<path fill="#470d60" d="M461 1031.3l5.4 14.5 3.2-7.3-5.5-15.1zM410.3 1037.4l5.3 2 3.2-8.9-5.4-1.5z"/>
<path fill="#3a538b" d="M413.1 974.3l4.9-31 3-20.9-4.8 34.3z"/>
<path fill="#2d708e" d="M476.1 871.6l5.4 55.5 3.1 8.8-5.4-48.4z"/>
<path fill="#46075a" d="M457.8 1047.1l5.5 1.7 3.1-2.9-5.4-14.6z"/>
<path fill="#453781" d="M459.5 980l5.5 26.1 3.1-9.5-5.5-32.7z"/>
<path fill="#46075a" d="M398.4 1048.3l5.4 1.7 3.2-6-5.3 1.3z"/>
<path fill="#3d4e8a" d="M511.3 949.2l5.8-49.5 2.3 84.9-5.5 17z"/>
<path fill="#482374" d="M458.6 999.3l5.5 24 3.2 2.3-5.5-17.6z"/>
<path fill="#470d60" d="M559.3 1047.4l5.6 1.7 2.9-3-5.2-16.4z"/>
<path fill="#46075a" d="M407.1 1043.9l5.3 1.7 3.2-6.2-5.3-2z"/>
<path fill="#48186a" d="M418.9 1030.4l5.3 2.9 3.1-12-5.4-3.7z"/>
<path fill="#3a538b" d="M468.9 934.7l5.5 43.6 3.1-6.6-5.4-46.3z"/>
<path fill="#470d60" d="M480.5 1029.5l5.4 6.5 3.1 9-5.4-1.7zM415.7 1039.4l5.3 2.3 3.2-8.4-5.4-2.8z"/>
<path fill="#46327e" d="M456.4 989.6l5.4 18.2 3.2-1.7-5.5-26.1z"/>
<path fill="#482878" d="M416.6 1016.8l5.3 .7 3.1-18.5-5.4-.8z"/>
<path fill="#424086" d="M462.6 963.9l5.5 32.7 3.1-9.8-5.5-38.8z"/>
<path fill="#46075a" d="M449.2 1048.4l5.4 1.7 3.2-3-5.5-11.1z"/>
<path fill="#470d60" d="M443.8 1040.2l5.4 8.2 3.1-12.4-5.4-6.3z"/>
<path fill="#3e4989" d="M465.8 948l5.5 38.8 3.1-8.5-5.5-43.6z"/>
<path fill="#471365" d="M438.3 1034.1l5.4 6 3.2-10.4-5.5-7.1zM424.3 1033.3l5.4 4.1 3.1-10.1-5.4-6z"/>
<path fill="#470d60" d="M471.9 1047.6l5.4 1.7 3.2-19.7-5.5 8.7z"/>
<path fill="#1f968b" d="M455.2 843.5l5.2-27.5 3.3 36.9-5.3 21.6z"/>
<path fill="#470d60" d="M429.7 1037.4l5.4 4.6 3.1-7.9-5.4-6.8z"/>
<path fill="#48186a" d="M432.9 1027.3l5.4 6.7 3.1-11.4-5.5-9.5z"/>
<path fill="#470d60" d="M435.1 1042l5.5 7.6 3.1-9.4-5.4-6.1z"/>
<path fill="#46075a" d="M412.4 1045.6l5.5 4.8 3.1-8.7-5.4-2.3z"/>
<path fill="#471365" d="M452.4 1035.9l5.4 11.2 3.1-15.8-5.5-18z"/>
<path fill="#46075a" d="M440.6 1049.6l5.4 1.7 3.2-2.9-5.5-8.2z"/>
<path fill="#470d60" d="M421.1 1041.7l5.4 2.9 3.1-7.1-5.4-4.1z"/>
<path fill="#1f968b" d="M446.6 860.8l5.1-47.2 3.3 30-5.1 39.1z"/>
<path fill="#238a8d" d="M435 890.6l4.8-60 3.3 12.1-4.8 55z"/>
<path fill="#481d6f" d="M557.5 1001.2l5.1 28.4 2.7 11.8-5-28.5z"/>
<path fill="#482374" d="M422 1017.5l5.4 3.7 3-16.9-5.4-5.3z"/>
<path fill="#440154" d="M403.8 1050l5.4 1.7 3.2-6-5.4-1.7z"/>
<path fill="#482374" d="M427.4 1021.2l5.4 6 3.1-14.1-5.4-8.8z"/>
<path fill="#470d60" d="M486 1036l5.4-2 3.1 12.8-5.4-1.8z"/>
<path fill="#482878" d="M509.3 1039.5l5.4 1.7 3.7-69.9-5.7 13.9z"/>
<path fill="#471365" d="M536.7 1048.1l5.5 1.7 3-2.9-5.1-30.9z"/>
<path fill="#470d60" d="M550.8 1048.6l5.5 1.7 3-3-5.1-26.1z"/>
<path fill="#46075a" d="M426.5 1044.7l5.4 6.2 3.2-8.9-5.4-4.5z"/>
<path fill="#470d60" d="M491.4 1034l5.5 17.5 3.1-3-5.5-1.7z"/>
<path fill="#3a538b" d="M502.5 968.6l5.8-47.8 2.8 28.4-5.6 35.6z"/>
<path fill="#46075a" d="M417.9 1050.4l5.4 1.8 3.2-7.5-5.5-3z"/>
<path fill="#482374" d="M441.5 1022.5l5.4 7.1 3-22.4-5.4-2.3z"/>
<path fill="#46075a" d="M431.9 1050.9l5.4 1.7 3.3-3-5.5-7.6z"/>
<path fill="#32648e" d="M416.2 956.7l4.8-34.3 3-27.8-4.8 42.9z"/>
<path fill="#218e8d" d="M471.4 826.7l5.5 35.7 3.2 28.6-5.4-28.9z"/>
<path fill="#481d6f" d="M446.9 1029.6l5.4 6.3 3.1-22.6-5.4-6.1z"/>
<path fill="#482374" d="M455.5 1013.3l5.4 17.9 3.2-7.9-5.5-24z"/>
<path fill="#443b84" d="M414.3 1002.6l5.3-4.6 2.8-34.9-5.2 7.2z"/>
<path fill="#482878" d="M436 1013l5.4 9.5 3-17.6-5.4-11.3z"/>
<path fill="#440154" d="M409.2 1051.7l5.4 1.7 3.3-3-5.5-4.7z"/>
<path fill="#471365" d="M477.3 1049.3l5.5 1.7 3.1-15-5.4-6.4z"/>
<path fill="#46075a" d="M474.2 1052.3l5.4 1.7 3.2-3-5.5-1.7zM423.3 1052.2l5.4 1.7 3.2-3-5.4-6.2z"/>
<path fill="#46327e" d="M453.1 990l5.4 9.1 3.3 8.7-5.5-18.1z"/>
<path fill="#481d6f" d="M554.3 1021.3l5 26 3.3-17.7-5.1-28.4z"/>
<path fill="#3d4e8a" d="M499.3 993.9l5.5-33.2 3.5-39.9-5.8 47.8z"/>
<path fill="#46327e" d="M430.5 1004.1l5.4 8.9 3-19.4-5.4-12.6z"/>
<path fill="#238a8d" d="M473.7 835.1l5.5 52.1 3.2 19-5.5-43.5z"/>
<path fill="#470d60" d="M482.8 1051l5.5 1.7 3.1-18.7-5.5 2z"/>
<path fill="#3d4e8a" d="M412.1 987.8l5-17.7 2.8-40.3-5 27.6z"/>
<path fill="#481d6f" d="M531.2 1046.4l5.5 1.7 3.4-32.1-5.3-21.1z"/>
<path fill="#470d60" d="M488.3 1052.7l5.4 1.8 3.1-3-5.4-17.5z"/>
<path fill="#46327e" d="M514.8 1041.2l5.4 1.7 3.8-75.3-5.6 3.7z"/>
<path fill="#424086" d="M419.6 998l5.4 .8 2.9-27.5-5.5-8.2z"/>
<path fill="#443b84" d="M425 998.8l5.4 5.3 3-23.2-5.4-9.6z"/>
<path fill="#46327e" d="M444.6 1004.7l5.3 2.3 3.1-17-5.4-4.6z"/>
<path fill="#482374" d="M545.3 1046.8l5.5 1.7 3.4-27.2-5-34.9z"/>
<path fill="#46327e" d="M450 1007l5.4 6.2 3.1-13.9-5.4-9.3z"/>
<path fill="#404588" d="M501.6 1016.7l5.5-14.3 3.7-88.4-5.8 46.8z"/>
<path fill="#482878" d="M525.7 1044.6l5.5 1.7 3.6-51.4-5.3-18.4z"/>
<path fill="#443b84" d="M439.1 993.4l5.4 11.3 3-19.4-5.4-16.4z"/>
<path fill="#424086" d="M447.7 985.2l5.4 4.6 3.1-.4-5.5-21.9z"/>
<path fill="#297b8e" d="M472.9 861.2l5.5 60.4 3.1 5.5-5.4-55.5z"/>
<path fill="#46327e" d="M520.2 1042.9l5.5 1.7 3.8-68.1-5.5-8.9z"/>
<path fill="#2a778e" d="M419.2 937.5l4.8-42.9 3-26.4-4.8 51.1z"/>
<path fill="#404588" d="M550.6 921.9l4.7 53.7 2 59.4-4.9-36.4z"/>
<path fill="#3e4989" d="M450.8 967.5l5.5 21.9 3.1-9.6-5.6-34.9z"/>
<path fill="#20928c" d="M431.7 889.1l4.8-62.2 3.3 3.7-4.8 60z"/>
<path fill="#21a585" d="M460.4 816l5.4-6.5 3.3 38.5-5.4 4.9z"/>
<path fill="#1fa187" d="M465.9 809.5l5.5 17.2 3.2 35.4-5.4-14.1z"/>
<path fill="#3e4989" d="M433.5 980.7l5.5 12.7 3-24.6-5.6-18z"/>
<path fill="#32648e" d="M414.9 957.2l5-27.4 3.1-14.6-5 27.9z"/>
<path fill="#38588c" d="M453.9 944.9l5.6 34.9 3.1-16.2-5.7-43.9z"/>
<path fill="#24868e" d="M422.2 919.3l4.8-51.1 3-21.6-4.7 57.5z"/>
<path fill="#3d4e8a" d="M442.1 968.6l5.5 16.5 3-17.8-5.5-27.9z"/>
<path fill="#1f968b" d="M428.5 893.6l4.7-61.3 3.2-5.4-4.7 62.2z"/>
<path fill="#218e8d" d="M425.3 904.1l4.7-57.5 3.2-14.3-4.7 61.3z"/>
<path fill="#3a538b" d="M428 971.1l5.5 9.6 2.9-29.9-5.5-13.8z"/>
<path fill="#26828e" d="M469.6 858.2l5.6 62.5 3.2 .9-5.5-60.4z"/>
<path fill="#34608d" d="M417.2 970.1l5.2-7.2 2.8-39.2-5.3 6.1z"/>
<path fill="#424086" d="M552.8 950.3l4.7 50.7 2.8 11.7-4.9-37.1z"/>
<path fill="#2c738e" d="M418 943.1l5-27.9 3-27.3-4.9 34.3z"/>
<path fill="#31688e" d="M457 919.7l5.6 43.9 3.1-15.8-5.6-51.8z"/>
<path fill="#26ad81" d="M443.2 842.4l5-53.7 3.4 24.9-5.1 47.2z"/>
<path fill="#34608d" d="M422.5 962.9l5.4 8.2 2.9-34.1-5.5-13.3z"/>
<path fill="#424086" d="M540.2 1015.8l5.1 31 3.8-60.3-4.8-50.7z"/>
<path fill="#2f6c8e" d="M517.1 899.7l6.1-50 1.9 114.5-5.6 20.4z"/>
<path fill="#424086" d="M549.3 986.4l4.9 34.7 3.3-20.1-4.7-50.7z"/>
<path fill="#26828e" d="M466.4 863.4l5.7 61.7 3.1-4.4-5.6-62.5z"/>
<path fill="#2a778e" d="M460.1 896l5.6 51.8 3.2-13.3-5.7-58.1z"/>
<path fill="#1f9e89" d="M470.5 812.1l5.5 59.2 3.2 15.9-5.5-52.1z"/>
<path fill="#32648e" d="M445.2 939.3l5.5 28 3-22.6-5.6-38.5zM436.5 950.6l5.5 18 3-29.2-5.6-24.8z"/>
<path fill="#2fb47c" d="M451.8 813.4l5.2-32.7 3.3 35.1-5.2 27.5z"/>
<path fill="#277f8e" d="M463.2 876.4l5.7 58.1 3.1-9.4-5.6-61.7z"/>
<path fill="#26ad81" d="M468.1 792.7l5.6 42.1 3.2 27.6-5.5-35.7z"/>
<path fill="#24868e" d="M421 922.2l4.9-34.3 3-36.4-4.9 42.8z"/>
<path fill="#2a778e" d="M419.9 929.6l5.3-6.2 3.1-22.7-5.2 14.5z"/>
<path fill="#31688e" d="M507.1 1002.4l5.6-17.5 4.1-118.9-6 48zM545.8 865.3l4.8 56.6 1.8 76.7-5.2-24.1z"/>
<path fill="#2d708e" d="M430.9 936.8l5.5 13.7 2.9-35.9-5.5-13.5z"/>
<path fill="#2a778e" d="M425.3 923.4l5.5 13.4 2.9-35.7-5.4-.4z"/>
<path fill="#277f8e" d="M508.3 920.5l6-61.2 2.8 40.4-5.9 49.3z"/>
<path fill="#297b8e" d="M448.2 906.2l5.6 38.4 3.1-25.1-5.8-47.6z"/>
<path fill="#48186a" d="M529.4 1069.7l6-31.3 2.6 30-5.5-1.8z"/>
<path fill="#3bbb75" d="M439.8 830.4l5-58.1 3.4 16.4-5 53.7z"/>
<path fill="#297b8e" d="M505 960.6l5.7-46.8 3.6-54.5-6 61.2z"/>
<path fill="#24868e" d="M423.1 914.9l5.2-14.5 2.9-36.5-5.1 24z"/>
<path fill="#277f8e" d="M439.5 914.4l5.6 24.8 2.9-33-5.7-32z"/>
<path fill="#4ac16d" d="M457 780.7l5.5-7.9 3.3 36.4-5.4 6.5z"/>
<path fill="#26ad81" d="M467.2 797l5.6 63.9 3.2 10.4-5.5-59.2z"/>
<path fill="#4ac16d" d="M462.5 772.8l5.6 19.9 3.3 33.8-5.5-17.3z"/>
<path fill="#1f9e89" d="M424 894.3l4.9-42.8 3-33.9-4.9 50.3z"/>
<path fill="#34608d" d="M534.9 994.7l5.2 21.1 4.2-80-4.9-54.3z"/>
<path fill="#48186a" d="M526.3 1072.8l5.5 1.7 3.6-36.1-6 31.3z"/>
<path fill="#470d60" d="M546.4 1056.4l5.4 20.4 3-3.1-5.6-1.7z"/>
<path fill="#24868e" d="M523.2 849.7l6-34.1 1.7 132.6-5.7 16z"/>
<path fill="#481d6f" d="M535.4 1038.4l5.7-2.7 2.5 34.4-5.6-1.7z"/>
<path fill="#20928c" d="M451.2 871.9l5.7 47.6 3.1-23.8-5.8-55.5z"/>
<path fill="#48186a" d="M541.1 1035.7l5.3 20.8 2.8 15.4-5.6-1.7z"/>
<path fill="#2c738e" d="M548.2 882.1l4.6 68 2.5 25.2-4.7-53.4z"/>
<path fill="#20928c" d="M428.3 900.4l5.5 .5 2.9-42.4-5.5 5.4z"/>
<path fill="#470d60" d="M543.1 1078.1l5.6 1.8 3.1-3.1-5.4-20.4z"/>
<path fill="#218e8d" d="M433.8 900.9l5.6 13.5 2.9-40.2-5.6-15.7z"/>
<path fill="#26828e" d="M540.6 823.4l5.2 41.9 1.4 109.2-5.3-20.8z"/>
<path fill="#65cb5e" d="M448.3 788.5l5.2-36.5 3.4 28.6-5.2 32.7z"/>
<path fill="#2d708e" d="M544.4 935.8l4.8 50.4 3.5-36.1-4.5-68z"/>
<path fill="#4ac16d" d="M436.5 826.6l4.9-59.8 3.4 5.5-5 58.1zM464.8 764.9l5.6 46.9 3.3 23-5.6-42.1z"/>
<path fill="#482374" d="M531.9 1074.5l5.5 1.8 3.6-40.6-5.6 2.7z"/>
<path fill="#2ab07f" d="M427 867.9l4.9-50.3 3.1-27.2-4.9 55.9z"/>
<path fill="#48186a" d="M537.5 1076.3l5.6 1.8 3.3-21.6-5.3-20.8z"/>
<path fill="#277f8e" d="M512.7 984.9l5.7-13.9 4.3-138.4-5.9 33.4z"/>
<path fill="#2fb47c" d="M463.9 791.9l5.7 66 3.2 3-5.6-63.9z"/>
<path fill="#21a585" d="M426 887.6l5.2-23.9 2.9-42.2-5.1 30zM454.3 840.2l5.8 55.5 3.1-19.5-5.8-61.7z"/>
<path fill="#1f9a8a" d="M442.4 874l5.7 32 2.9-34.2-5.7-38.9z"/>
<path fill="#52c569" d="M433.2 832.1l4.9-59.2 3.3-6.1-4.9 59.8z"/>
<path fill="#42be71" d="M430.1 846.3l4.9-55.9 3.1-17.5-4.9 59.2z"/>
<path fill="#1f968b" d="M529.2 815.6l5.9-9.3 1.4 137.5-5.6 4.4z"/>
<path fill="#297b8e" d="M529.5 976.2l5.3 18.5 4.5-113.2-5.2-41z"/>
<path fill="#35b779" d="M460.6 797.9l5.8 65.2 3.2-5.2-5.7-66z"/>
<path fill="#2ab07f" d="M457.4 814.5l5.8 61.7 3.2-13.1-5.8-65.2z"/>
<path fill="#1f968b" d="M535.1 806.3l5.5 17.1 1.3 130.3-5.4-9.9z"/>
<path fill="#218e8d" d="M518.4 971l5.6-3.7 4.6-143.9-5.8 9.2z"/>
<path fill="#95d840" d="M453.6 752l5.5-8.7 3.3 29.3-5.4 7.8z"/>
<path fill="#8bd646" d="M459.1 743.3l5.6 21.6 3.4 27.6-5.6-19.9z"/>
<path fill="#2ab07f" d="M431.2 863.7l5.5-5.4 2.9-43.9-5.5 7.1z"/>
<path fill="#238a8d" d="M524 967.3l5.5 8.9 4.6-135.7-5.5-17.1z"/>
<path fill="#2ab07f" d="M436.7 858.3l5.6 15.6 3-41-5.7-18.5z"/>
<path fill="#42be71" d="M428.9 851.3l5.2-30.1 3-38.4-5.1 34.7z"/>
<path fill="#95d840" d="M444.9 772.1l5.2-38.4 3.4 18.3-5.3 36.4z"/>
<path fill="#77d153" d="M461.4 746.9l5.8 49.8 3.2 15.1-5.6-46.9z"/>
<path fill="#2fb47c" d="M445.4 832.9l5.7 38.8 3.1-31.8-5.8-44.5z"/>
<path fill="#26ad81" d="M514.4 859.1l6.1-56.1 2.6 46.7-6 49.7z"/>
<path fill="#23a983" d="M510.8 913.7l5.9-48 3.7-62.7-6 56.3z"/>
<path fill="#1fa187" d="M543.4 816.7l4.7 65.2 2.5 39.8-4.8-56.4z"/>
<path fill="#77d153" d="M431.9 817.3l5.2-34.5 3.1-30.3-5.2 37.6z"/>
<path fill="#1f9e89" d="M539.5 881.3l4.8 54.3 3.7-53.7-4.7-65.2z"/>
<path fill="#5ac864" d="M448.4 795.3l5.8 44.6 3.1-25.6-5.8-48.6z"/>
<path fill="#b5de2b" d="M441.5 766.5l5.2-38.9 3.4 6.1-5.3 38.4z"/>
<path fill="#95d840" d="M458.1 740.8l5.8 50.8 3.2 5.1-5.7-49.8z"/>
<path fill="#65cb5e" d="M434.1 821.2l5.5-7.1 3-39.6-5.5 8.3zM439.7 814.1l5.6 18.6 3-37.4-5.7-20.8z"/>
<path fill="#c0df25" d="M455.7 724.9l5.6 21.8 3.4 17.9-5.6-21.3z"/>
<path fill="#cae11f" d="M450.2 733.6l5.5-8.7 3.3 18.2-5.5 8.6z"/>
<path fill="#aadc32" d="M435 790.1l5.2-37.6 3.2-18.7-5.2 38.8z"/>
<path fill="#8bd646" d="M451.6 765.7l5.8 48.6 3.2-16.7-5.8-50.5z"/>
<path fill="#b5de2b" d="M438.2 772.6l5.2-38.8 3.3-6.2-5.3 38.9z"/>
<path fill="#95d840" d="M454.8 747.1l5.8 50.5 3.2-5.9-5.7-50.9z"/>
<path fill="#aadc32" d="M437.1 782.5l5.5-8.3 3.1-30.5-5.5 8.8z"/>
<path fill="#a0da39" d="M442.7 774.2l5.7 20.9 3-29.4-5.7-22z"/>
<path fill="#dfe318" d="M452.3 719.4l5.7 21.2 3.4 6.1-5.7-21.8z"/>
<path fill="#eae51a" d="M446.8 727.4l5.5-8 3.2 5.4-5.4 8.6z"/>
<path fill="#65cb5e" d="M520.5 803l6-32.3 2.7 44.7-6 34.1z"/>
<path fill="#5ac864" d="M516.8 865.7l5.9-33.3 3.8-61.7-6 32.3z"/>
<path fill="#d5e21a" d="M445.9 743.6l5.6 21.9 3.1-18.6-5.6-21.7z"/>
<path fill="#dfe318" d="M440.2 752.3l5.5-8.9 3.2-18.2-5.5 8.6z"/>
<path fill="#5ac864" d="M538.1 776l5.2 40.7 2.5 48.3-5.1-41.9z"/>
<path fill="#eae51a" d="M449 725.2l5.7 21.7 3.3-6.3-5.7-21.2z"/>
<path fill="#f4e61e" d="M443.5 733.6l5.4-8.4 3.3-5.8-5.4 8z"/>
<path fill="#52c569" d="M534.2 840.2l5.2 41 3.9-64.5-5.2-40.7z"/>
<path fill="#95d840" d="M526.6 770.7l5.8-6.1 2.6 41.5-5.8 9.3z"/>
<path fill="#81d34d" d="M522.8 832.4l5.8-9.2 3.8-58.6-5.9 6.1z"/>
<path fill="#8bd646" d="M532.4 764.6l5.7 11.4 2.5 47.1-5.5-17z"/>
<path fill="#81d34d" d="M528.6 823.2l5.5 17 4-64.2-5.7-11.4z"/>
</g>
<clipPath id="bc1"><path clip-rule="evenodd" d="M852.7 1039.5 1121.6 1127.3 1264.4 980.7 1010.8 907ZM980.4 997.4 975.2 995.8 978.4 993.1 981.6 990.3 976.4 988.7 979.6 985.9 974.4 984.3 977.6 981.6 972.4 980 975.6 977.3 978.8 974.6 981.9 971.9 987 973.4 990.2 970.7 995.3 972.3 998.4 969.6 1003.5 971.1 1008.7 972.7 1013.8 974.3 1010.7 977 1015.9 978.5 1021.1 980.1 1024.2 977.4 1029.4 979 1034.6 980.5 1037.6 977.8 1042.8 979.4 1048 981 1053.2 982.6 1058.5 984.1 1061.5 981.4 1066.7 983 1072 984.6 1069 987.3 1074.2 988.9 1079.5 990.5 1084.8 992.1 1090.1 993.7 1087.1 996.5 1092.4 998.1 1089.4 1000.9 1094.7 1002.5 1100.1 1004.2 1097.1 1007 1102.4 1008.6 1107.8 1010.3 1113.2 1011.9 1118.6 1013.5 1121.5 1010.7 1126.9 1012.3 1132.3 1014 1137.8 1015.6 1134.8 1018.5 1140.2 1020.1 1145.7 1021.8 1151.1 1023.5 1148.2 1026.4 1153.7 1028 1159.2 1029.7 1156.2 1032.6 1161.7 1034.3 1158.8 1037.3 1164.3 1039 1161.3 1041.9 1158.4 1044.9 1163.9 1046.6 1161 1049.5 1155.4 1047.8 1152.4 1050.8 1149.4 1053.8 1143.9 1052.1 1140.9 1055.1 1137.8 1058.1 1134.8 1061.1 1140.4 1062.8 1137.3 1065.9 1142.9 1067.6 1139.9 1070.7 1136.8 1073.8 1142.5 1075.5 1139.4 1078.6 1133.8 1076.8 1130.7 1079.9 1127.6 1083 1122 1081.2 1118.9 1084.3 1113.2 1082.5 1107.6 1080.7 1102 1079 1105.1 1075.9 1099.5 1074.1 1102.7 1071 1097.1 1069.3 1100.2 1066.2 1103.3 1063.2 1106.4 1060.2 1109.5 1057.1 1104 1055.4 1107.1 1052.4 1101.6 1050.7 1096.1 1049 1093 1051.9 1087.5 1050.2 1082 1048.5 1085.1 1045.5 1079.6 1043.8 1074.2 1042.1 1071.1 1045.1 1065.6 1043.4 1062.5 1046.3 1059.3 1049.3 1053.9 1047.6 1050.7 1050.6 1047.5 1053.6 1042.1 1051.8 1038.9 1054.8 1033.4 1053.1 1028 1051.4 1022.6 1049.6 1017.2 1047.9 1011.8 1046.2 1015 1043.2 1009.6 1041.5 1004.2 1039.8 998.9 1038.1 1002.1 1035.2 996.8 1033.5 991.4 1031.8 986.1 1030.1 989.4 1027.2 984.1 1025.6 978.8 1023.9 982 1021 976.7 1019.3 980 1016.5 974.7 1014.8 978 1012 972.7 1010.3 976 1007.5 970.7 1005.9 974 1003.1 977.2 1000.2Z"/></clipPath>
<path fill="#440154" fill-opacity="0.9" fill-rule="evenodd" d="M852.7 1039.5 1121.6 1127.3 1264.4 980.7 1010.8 907ZM980.4 997.4 975.2 995.8 978.4 993.1 981.6 990.3 976.4 988.7 979.6 985.9 974.4 984.3 977.6 981.6 972.4 980 975.6 977.3 978.8 974.6 981.9 971.9 987 973.4 990.2 970.7 995.3 972.3 998.4 969.6 1003.5 971.1 1008.7 972.7 1013.8 974.3 1010.7 977 1015.9 978.5 1021.1 980.1 1024.2 977.4 1029.4 979 1034.6 980.5 1037.6 977.8 1042.8 979.4 1048 981 1053.2 982.6 1058.5 984.1 1061.5 981.4 1066.7 983 1072 984.6 1069 987.3 1074.2 988.9 1079.5 990.5 1084.8 992.1 1090.1 993.7 1087.1 996.5 1092.4 998.1 1089.4 1000.9 1094.7 1002.5 1100.1 1004.2 1097.1 1007 1102.4 1008.6 1107.8 1010.3 1113.2 1011.9 1118.6 1013.5 1121.5 1010.7 1126.9 1012.3 1132.3 1014 1137.8 1015.6 1134.8 1018.5 1140.2 1020.1 1145.7 1021.8 1151.1 1023.5 1148.2 1026.4 1153.7 1028 1159.2 1029.7 1156.2 1032.6 1161.7 1034.3 1158.8 1037.3 1164.3 1039 1161.3 1041.9 1158.4 1044.9 1163.9 1046.6 1161 1049.5 1155.4 1047.8 1152.4 1050.8 1149.4 1053.8 1143.9 1052.1 1140.9 1055.1 1137.8 1058.1 1134.8 1061.1 1140.4 1062.8 1137.3 1065.9 1142.9 1067.6 1139.9 1070.7 1136.8 1073.8 1142.5 1075.5 1139.4 1078.6 1133.8 1076.8 1130.7 1079.9 1127.6 1083 1122 1081.2 1118.9 1084.3 1113.2 1082.5 1107.6 1080.7 1102 1079 1105.1 1075.9 1099.5 1074.1 1102.7 1071 1097.1 1069.3 1100.2 1066.2 1103.3 1063.2 1106.4 1060.2 1109.5 1057.1 1104 1055.4 1107.1 1052.4 1101.6 1050.7 1096.1 1049 1093 1051.9 1087.5 1050.2 1082 1048.5 1085.1 1045.5 1079.6 1043.8 1074.2 1042.1 1071.1 1045.1 1065.6 1043.4 1062.5 1046.3 1059.3 1049.3 1053.9 1047.6 1050.7 1050.6 1047.5 1053.6 1042.1 1051.8 1038.9 1054.8 1033.4 1053.1 1028 1051.4 1022.6 1049.6 1017.2 1047.9 1011.8 1046.2 1015 1043.2 1009.6 1041.5 1004.2 1039.8 998.9 1038.1 1002.1 1035.2 996.8 1033.5 991.4 1031.8 986.1 1030.1 989.4 1027.2 984.1 1025.6 978.8 1023.9 982 1021 976.7 1019.3 980 1016.5 974.7 1014.8 978 1012 972.7 1010.3 976 1007.5 970.7 1005.9 974 1003.1 977.2 1000.2Z"/>
<g fill-opacity="0.9">
<path clip-path="url(#bc1)" stroke="#fff" stroke-opacity="0.25" stroke-width="0.75" fill="none" d="M852.7 1039.5L1010.8 907M852.7 1039.5L1121.6 1127.3M857.9 1041.2L1015.7 908.4M856.2 1036.5L1124.8 1124M863.2 1042.9L1020.7 909.8M859.7 1033.6L1128 1120.8M868.4 1044.6L1025.6 911.3M863.2 1030.7L1131.1 1117.5M873.6 1046.3L1030.6 912.7M866.7 1027.8L1134.3 1114.3M878.9 1048L1035.6 914.2M870.1 1024.9L1137.4 1111.1M884.2 1049.7L1040.6 915.6M873.6 1022L1140.5 1107.9M889.4 1051.5L1045.6 917.1M877 1019.1L1143.6 1104.7M894.7 1053.2L1050.6 918.5M880.4 1016.2L1146.7 1101.5M900 1054.9L1055.6 920M883.8 1013.4L1149.8 1098.3M905.3 1056.6L1060.6 921.4M887.2 1010.5L1152.9 1095.2M910.7 1058.4L1065.6 922.9M890.6 1007.7L1156 1092M916 1060.1L1070.7 924.4M894 1004.9L1159 1088.9M921.3 1061.9L1075.7 925.8M897.4 1002.1L1162.1 1085.8M926.7 1063.6L1080.8 927.3M900.7 999.3L1165.1 1082.7M932.1 1065.4L1085.9 928.8M904 996.5L1168.1 1079.6M937.4 1067.1L1091 930.3M907.4 993.7L1171.1 1076.5M942.8 1068.9L1096 931.7M910.7 990.9L1174.1 1073.4M948.2 1070.7L1101.1 933.2M914 988.1L1177.1 1070.3M953.6 1072.4L1106.3 934.7M917.3 985.4L1180.1 1067.3M959.1 1074.2L1111.4 936.2M920.5 982.6L1183 1064.2M964.5 1076L1116.5 937.7M923.8 979.9L1186 1061.2M970 1077.7L1121.7 939.2M927.1 977.2L1188.9 1058.2M975.4 1079.5L1126.8 940.7M930.3 974.5L1191.9 1055.2M980.9 1081.3L1132 942.2M933.5 971.7L1194.8 1052.2M986.4 1083.1L1137.2 943.7M936.7 969L1197.7 1049.2M991.9 1084.9L1142.3 945.2M940 966.4L1200.6 1046.2M997.4 1086.7L1147.5 946.7M943.2 963.7L1203.5 1043.3M1002.9 1088.5L1152.7 948.2M946.3 961L1206.3 1040.3M1008.4 1090.3L1157.9 949.7M949.5 958.3L1209.2 1037.4M1014 1092.1L1163.2 951.3M952.7 955.7L1212.1 1034.4M1019.5 1093.9L1168.4 952.8M955.8 953L1214.9 1031.5M1025.1 1095.8L1173.7 954.3M959 950.4L1217.8 1028.6M1030.7 1097.6L1178.9 955.8M962.1 947.8L1220.6 1025.7M1036.3 1099.4L1184.2 957.4M965.2 945.2L1223.4 1022.8M1041.9 1101.2L1189.5 958.9M968.3 942.6L1226.2 1019.9M1047.5 1103.1L1194.7 960.4M971.4 940L1229 1017.1M1053.1 1104.9L1200 962M974.5 937.4L1231.8 1014.2M1058.7 1106.7L1205.3 963.5M977.6 934.8L1234.6 1011.4M1064.4 1108.6L1210.7 965.1M980.7 932.2L1237.3 1008.5M1070.1 1110.4L1216 966.6M983.7 929.7L1240.1 1005.7M1075.7 1112.3L1221.3 968.2M986.8 927.1L1242.8 1002.9M1081.4 1114.2L1226.7 969.7M989.8 924.6L1245.6 1000.1M1087.1 1116L1232 971.3M992.9 922L1248.3 997.3M1092.8 1117.9L1237.4 972.8M995.9 919.5L1251 994.5M1098.6 1119.8L1242.8 974.4M998.9 917L1253.7 991.7M1104.3 1121.6L1248.2 976M1001.9 914.5L1256.4 988.9M1110.1 1123.5L1253.6 977.5M1004.9 912L1259.1 986.2M1115.8 1125.4L1259 979.1M1007.8 909.5L1261.8 983.4M1121.6 1127.3L1264.4 980.7M1010.8 907L1264.4 980.7"/>
<path fill="#46075a" d="M995.3 972.3l5.1-3.1 3.1 1.9-5.1-1.5zM987.1 973.4l5-4.9 3.2 3.8-5.1-1.6zM1000.4 969.2l5.1 1.8 3.2 1.7-5.1-1.6zM978.8 974.6l5-3.1 3.2 1.9-5.1-1.5zM1005.5 971l5.2 6 3.1-2.7-5.1-1.6z"/>
<path fill="#470d60" d="M992.1 968.5l5.1-.5 3.1 1.2-5 3.1zM983.8 971.5l5.1-2.3 3.2-.7-5.1 4.9z"/>
<path fill="#46075a" d="M975.6 977.3l5.1-2.8 3.1-3-5 3.1z"/>
<path fill="#470d60" d="M997.2 968l5.1 1.9 3.2 1.1-5.1-1.8z"/>
<path fill="#46075a" d="M1002.4 969.9l5.1 3.7 3.2 3.4-5.2-6zM972.5 980l5.1 1.6 3.1-7.1-5.1 2.8zM1021.1 980.1l5.1-2.2 3.2 1.1-5.2-1.6zM1007.6 973.6l5.1 3.2 3.2 1.7-5.1-1.5z"/>
<path fill="#470d60" d="M988.9 969.2l5.1-1.2 3.2 0-5.1 .5z"/>
<path fill="#46075a" d="M1034.6 980.5l5.1-2.4 3.1 1.3-5.2-1.6z"/>
<path fill="#470d60" d="M980.7 974.5l5-2.1 3.2-3.2-5.1 2.3z"/>
<path fill="#46075a" d="M1012.8 976.8l5.1 1 3.2 2.3-5.2-1.6zM1026.3 977.9l5.1-.8 3.1 3.4-5.1-1.5z"/>
<path fill="#471365" d="M994 968l5.2 1.9 3.1 0-5.1-1.9z"/>
<path fill="#46075a" d="M1039.8 978.1l5.1 0 3.1 2.9-5.2-1.6zM977.6 981.6l5-3.9 3.1-5.3-5 2.2z"/>
<path fill="#471365" d="M985.8 972.4l5-1.1 3.2-3.3-5.1 1.2z"/>
<path fill="#470d60" d="M999.2 969.9l5.2 4 3.1-.3-5.1-3.6z"/>
<path fill="#46075a" d="M1018 977.8l5.1-1.3 3.1 1.4-5.1 2.2zM1058.5 984.1l5.2-1.7 3 .6-5.2-1.6z"/>
<path fill="#470d60" d="M1004.4 973.9l5.2 3 3.1-.1-5.1-3.2z"/>
<path fill="#46075a" d="M974.4 984.3l5.2 1.6 3-8.2-5 3.9zM1045 978.1l5.2 0 3 4.4-5.2-1.5zM1031.5 977.1l5.1-1.7 3.1 2.7-5.1 2.4z"/>
<path fill="#471365" d="M990.9 971.3l5.1 1.5 3.2-2.9-5.2-1.9z"/>
<path fill="#470d60" d="M982.7 977.7l5.1-.5 3.1-5.9-5.1 1.2z"/>
<path fill="#46075a" d="M1063.7 982.4l5.3 4.9 3-2.7-5.3-1.6z"/>
<path fill="#470d60" d="M1009.6 976.9l5.2-.2 3.1 1.1-5.1-1z"/>
<path fill="#46075a" d="M1050.2 978.1l5.2 .5 3.1 5.5-5.2-1.6z"/>
<path fill="#471365" d="M996.1 972.8l5.1 3.1 3.2-2-5.2-4z"/>
<path fill="#470d60" d="M1023.1 976.5l5.2-3.4 3.1 4-5.1 .8z"/>
<path fill="#46075a" d="M979.6 985.9l5.1-2.5 3.1-6.1-5.2 .5z"/>
<path fill="#470d60" d="M1036.7 975.4l5.1-2.1 3.1 4.8-5.1 0zM987.8 977.3l5.1 .9 3.1-5.4-5.1-1.5zM1001.3 975.9l5.1 1.4 3.2-.4-5.2-3zM1055.4 978.6l5.3 1.2 3 2.6-5.2 1.7zM1014.8 976.7l5.1-4.1 3.2 3.9-5.1 1.3z"/>
<path fill="#46075a" d="M976.4 988.7l5.2 1.6 3.1-6.9-5.1 2.5z"/>
<path fill="#470d60" d="M993 978.2l5.1 1.1 3.1-3.4-5.1-3zM984.7 983.4l5.1 .3 3.1-5.5-5.1-.9z"/>
<path fill="#471365" d="M1041.9 973.3l5.2-1.9 3.1 6.7-5.2-.1zM1006.5 977.3l5.1-3 3.2 2.4-5.2 .2z"/>
<path fill="#470d60" d="M1060.7 979.7l5.2 2 3.1 5.6-5.3-4.9z"/>
<path fill="#471365" d="M1028.3 973l5.2-5 3.1 7.4-5.1 1.6zM998.2 979.4l5.1-1.5 3.1-.6-5.1-1.4z"/>
<path fill="#46075a" d="M981.6 990.3l5.1-2.2 3.1-4.3-5.1-.4zM1066 981.7l5.2 2.6 3 4.6-5.2-1.6z"/>
<path fill="#470d60" d="M989.8 983.7l5.2-.8 3.1-3.5-5.2-1.2z"/>
<path fill="#48186a" d="M1020 972.5l5.1-7.6 3.1 8.1-5.1 3.4z"/>
<path fill="#471365" d="M1047.1 971.4l5.2-1 3.1 8.2-5.2-.5z"/>
<path fill="#46075a" d="M1071.2 984.3l5.3 3.1 3 3.1-5.3-1.6zM978.4 993l5.1-1.5 3.2-3.4-5.1 2.2z"/>
<path fill="#481d6f" d="M1033.5 968l5.2-5.9 3.1 11.1-5.2 2.1z"/>
<path fill="#48186a" d="M1011.7 974.3l5-8.3 3.2 6.5-5.1 4.1z"/>
<path fill="#470d60" d="M986.7 988.1l5.1-2.1 3.2-3-5.2 .8z"/>
<path fill="#46075a" d="M1076.5 987.4l5.3 3.2 3 1.5-5.3-1.6z"/>
<path fill="#471365" d="M995 982.9l5.1-4.2 3.2-.8-5.1 1.5z"/>
<path fill="#48186a" d="M1003.3 977.9l5.1-6.7 3.2 3.1-5.1 2.9zM1052.4 970.4l5.2 .6 3 8.7-5.2-1.2z"/>
<path fill="#46075a" d="M1081.8 990.6l5.3 5.9 3-2.8-5.3-1.6zM975.2 995.8l5.2 1.6 3.1-5.9-5.1 1.6z"/>
<path fill="#48186a" d="M1057.7 971l5.2 2.4 3 8.2-5.2-1.9z"/>
<path fill="#46075a" d="M983.5 991.5l5.1-2.6 3.2-2.9-5.1 2.1z"/>
<path fill="#482374" d="M1025.2 964.9l5.1-10.5 3.1 13.5-5.1 5.1zM1038.8 962.1l5.1-5.4 3.1 14.6-5.1 1.9z"/>
<path fill="#471365" d="M991.8 986l5.1-6.2 3.2-1.1-5.1 4.2zM1062.9 973.4l5.3 3.9 3 7-5.2-2.7zM1068.2 977.3l5.3 5 3 5.1-5.2-3.1z"/>
<path fill="#481d6f" d="M1000.1 978.6l5.1-10.3 3.1 2.9-5 6.6z"/>
<path fill="#46075a" d="M980.4 997.4l5-5.1 3.2-3.4-5.1 2.6z"/>
<path fill="#482878" d="M1016.8 965.9l5-13.4 3.2 12.3-5 7.6z"/>
<path fill="#470d60" d="M1073.5 982.3l5.3 5.3 3 3-5.3-3.2z"/>
<path fill="#482374" d="M1008.5 971.1l5-13.2 3.2 8.1-5.1 8.2z"/>
<path fill="#470d60" d="M1078.8 987.6l5.3 5 3 3.9-5.3-5.9z"/>
<path fill="#46075a" d="M1084.1 992.6l5.3 8.3 3-2.8-5.3-1.6z"/>
<path fill="#471365" d="M988.7 988.9l5-6.9 3.2-2.2-5.1 6.2z"/>
<path fill="#482878" d="M1044 956.7l5.2-3.6 3.1 17.2-5.2 1z"/>
<path fill="#46075a" d="M977.2 1000.2l5.1-4 3.1-3.9-5 5.1z"/>
<path fill="#46327e" d="M1030.4 954.4l5.1-11.7 3.1 19.3-5.1 5.8z"/>
<path fill="#482374" d="M997 979.7l4.9-12.8 3.2 1.4-5 10.3z"/>
<path fill="#471365" d="M985.5 992.3l5-6.5 3.2-3.8-5 6.9z"/>
<path fill="#472d7b" d="M1049.3 953.1l5.2-.4 3.1 18.2-5.2-.6z"/>
<path fill="#46075a" d="M974 1003l5.1-2.5 3.2-4.3-5.1 4z"/>
<path fill="#470d60" d="M1081.1 988.1l5.3 6.9 3 5.9-5.3-8.3z"/>
<path fill="#472d7b" d="M1054.6 952.7l5.2 3.1 3.1 17.4-5.3-2.4z"/>
<path fill="#46075a" d="M1086.4 995l5.3 5.1 3 2.4-5.3-1.6z"/>
<path fill="#471365" d="M1075.8 979.7l5.3 8.3 3 4.5-5.3-4.9z"/>
<path fill="#472d7b" d="M1005.2 968.2l5-18.2 3.2 7.9-5 13.2z"/>
<path fill="#481d6f" d="M1070.5 970.6l5.2 9 3.1 8-5.3-5.4z"/>
<path fill="#471365" d="M982.3 996.2l5.1-5.2 3.1-5.2-5 6.5z"/>
<path fill="#453781" d="M1022 952.4l5-17.6 3.2 19.5-5.1 10.4z"/>
<path fill="#482878" d="M1059.9 955.8l5.2 6.4 3.1 15-5.3-4z"/>
<path fill="#482374" d="M1065.2 962.1l5.3 8.5 3 11.6-5.3-5z"/>
<path fill="#46075a" d="M1091.8 1000.2l5.3 6.8 3-2.8-5.4-1.7z"/>
<path fill="#482374" d="M993.8 981.9l4.9-13.7 3.2-1.3-5 12.8z"/>
<path fill="#46075a" d="M970.7 1005.9l5.3 1.6 3.1-7-5.1 2.6z"/>
<path fill="#453781" d="M1013.6 957.7l4.9-20.2 3.2 14.9-5 13.5z"/>
<path fill="#443b84" d="M1035.5 942.6l5.2-10.9 3.2 24.8-5.2 5.4z"/>
<path fill="#470d60" d="M979.1 1000.4l5.1-3.5 3.2-5.9-5.1 5.2z"/>
<path fill="#482374" d="M990.6 985.7l5-12.8 3.1-4.7-5 13.7z"/>
<path fill="#46075a" d="M976 1007.5l5.1-4.6 3.1-5.9-5.1 3.5z"/>
<path fill="#471365" d="M1083.5 990.1l5.2 7.7 3 2.3-5.2-5.1z"/>
<path fill="#470d60" d="M1088.8 997.8l5.3 4.6 2.9 4.6-5.2-6.8z"/>
<path fill="#453781" d="M1002 966.7l4.9-21.7 3.2 5-4.9 18.1z"/>
<path fill="#48186a" d="M1078.1 979l5.3 11 3 4.9-5.2-6.8z"/>
<path fill="#481d6f" d="M987.4 990.9l5-10.6 3.1-7.5-4.9 12.9z"/>
<path fill="#46075a" d="M972.7 1010.3l5.3 1.7 3.1-9.1-5.1 4.6zM1094.1 1002.4l5.4 2 2.9 4.2-5.3-1.6z"/>
<path fill="#404588" d="M1040.8 931.7l5.2-7.5 3.2 28.7-5.3 3.6z"/>
<path fill="#482374" d="M1072.8 965.2l5.2 13.7 3.1 9.1-5.2-8.5z"/>
<path fill="#48186a" d="M984.3 996.9l5-7.7 3.1-8.9-5 10.6z"/>
<path fill="#46075a" d="M1099.5 1004.4l5.4 .2 2.9 5.6-5.4-1.6z"/>
<path fill="#3d4e8a" d="M1027.1 934.7l5-19.7 3.3 27.4-5.1 11.8z"/>
<path fill="#471365" d="M981.1 1002.9l5.1-4.7 3.1-9-5 7.7z"/>
<path fill="#46075a" d="M1118.6 1013.5l5.4-2.8 2.9 1.6-5.4-1.6z"/>
<path fill="#46327e" d="M1067.5 950.2l5.2 15 3.1 14.3-5.3-9.1z"/>
<path fill="#470d60" d="M978 1012l5.1-5.9 3.1-7.9-5.1 4.7z"/>
<path fill="#3e4989" d="M1010.3 949.8l4.9-26.7 3.2 14.3-4.9 20.2z"/>
<path fill="#470d60" d="M1104.9 1004.6l5.4-.7 2.8 8-5.3-1.7z"/>
<path fill="#443b84" d="M998.8 968l4.9-22.9 3.2-.1-4.9 21.7z"/>
<path fill="#46075a" d="M974.7 1014.8l5.3 1.7 3.1-10.4-5.1 5.9z"/>
<path fill="#3d4e8a" d="M1046 924.2l5.3-2 3.2 30.3-5.3 .4z"/>
<path fill="#471365" d="M1085.8 992.5l5.3 5.2 3 4.6-5.3-4.5z"/>
<path fill="#3a538b" d="M1018.6 937.3l5-26 3.2 23.3-5 17.7z"/>
<path fill="#46075a" d="M1124 1010.7l5.4 1.7 2.9 1.6-5.4-1.7z"/>
<path fill="#481d6f" d="M1080.5 981.6l5.2 10.8 3 5.4-5.2-7.7z"/>
<path fill="#424086" d="M1062.1 936.5l5.3 13.7 3.1 20.2-5.3-8.5z"/>
<path fill="#471365" d="M1091.2 997.7l5.3 .4 2.9 6.2-5.3-2z"/>
<path fill="#470d60" d="M1110.3 1003.9l5.4-.5 2.8 10.1-5.3-1.6z"/>
<path fill="#46075a" d="M1129.4 1012.4l5.4 6.1 2.9-2.9-5.4-1.6z"/>
<path fill="#3d4e8a" d="M1051.4 922.2l5.3 4.3 3.1 29.1-5.3-3.1z"/>
<path fill="#3e4989" d="M1056.7 926.5l5.4 10 3 25.4-5.2-6.3z"/>
<path fill="#443b84" d="M995.6 972.7l4.9-21.6 3.2-6-4.9 22.9z"/>
<path fill="#482878" d="M1075.1 965l5.3 16.4 3 8.5-5.2-11z"/>
<path fill="#482374" d="M986.2 998.1l5.1-8.7 3-13.6-4.9 13.3z"/>
<path fill="#48186a" d="M983.1 1006.1l5.1-4.6 3.1-11.9-5 8.6z"/>
<path fill="#453781" d="M992.5 980.1l4.9-18 3.1-11-4.9 21.5z"/>
<path fill="#472d7b" d="M989.4 989.1l4.9-13.3 3.1-13.7-4.9 18z"/>
<path fill="#470d60" d="M980 1016.5l5.1-5.7 3.1-9.3-5.1 4.6z"/>
<path fill="#471365" d="M1096.6 998.1l5.4-3.2 2.8 9.6-5.3-.2z"/>
<path fill="#470d60" d="M1115.7 1003.4l5.5 .4 2.8 6.9-5.4 2.8z"/>
<path fill="#46075a" d="M976.8 1019.3l5.2 1.7 3.1-10.2-5.1 5.7z"/>
<path fill="#34608d" d="M1032.2 915l5.2-18.1 3.3 34.6-5.2 10.9z"/>
<path fill="#443b84" d="M1069.8 944.1l5.2 20.7 3.1 14-5.2-13.8z"/>
<path fill="#470d60" d="M1121.2 1003.8l5.4 1.9 2.8 6.7-5.4-1.7z"/>
<path fill="#38588c" d="M1007 944.8l4.8-31.4 3.3 9.7-4.9 26.7z"/>
<path fill="#482374" d="M1082.8 984.5l5.3 4.8 3 8.3-5.3-5.2z"/>
<path fill="#48186a" d="M1102 994.9l5.4-4.9 2.9 13.9-5.4 .6z"/>
<path fill="#470d60" d="M1126.6 1005.7l5.4 3.2 2.8 9.6-5.3-6.1z"/>
<path fill="#472d7b" d="M1077.4 970.5l5.3 13.8 3 8.1-5.2-10.8z"/>
<path fill="#48186a" d="M985.2 1010.8l5.1-3.3 3.1-13.4-5.1 7.4z"/>
<path fill="#470d60" d="M982 1021l5.2-4.2 3.1-9.3-5.2 3.3zM1132 1008.9l5.4 4.2 2.8 7-5.4-1.6z"/>
<path fill="#482374" d="M1088.2 989.3l5.4-3.4 2.9 12.1-5.4-.4zM988.3 1001.4l5.1-7.4 3-17.6-5 13.2z"/>
<path fill="#46075a" d="M978.8 1023.9l5.3 1.6 3.1-8.6-5.2 4.1zM1137.5 1013.1l5.3 4.5 2.9 4.2-5.5-1.7zM1142.9 1017.6l5.3 8.8 2.9-2.9-5.4-1.7z"/>
<path fill="#482374" d="M1107.5 990l5.4-4.4 2.8 17.7-5.4 .6z"/>
<path fill="#3d4e8a" d="M1064.4 921.3l5.3 22.7 3.1 20.9-5.3-14.9z"/>
<path fill="#453781" d="M991.4 989.4l4.9-13.2 3-20.4-4.9 19.8z"/>
<path fill="#2f6c8e" d="M1023.7 911.2l5-28.4 3.3 32-5 19.7z"/>
<path fill="#31688e" d="M1015.2 922.8l5-33.7 3.3 22.2-5 25.9z"/>
<path fill="#443b84" d="M1072.1 947.9l5.3 22.4 3 11.1-5.2-16.4z"/>
<path fill="#471365" d="M987.2 1016.8l5.3-1.4 3-12.6-5.2 4.8z"/>
<path fill="#46075a" d="M984.1 1025.5l5.3 1.7 3.1-11.8-5.3 1.5z"/>
<path fill="#365c8d" d="M1003.7 944.9l4.9-33 3.2 1.5-4.9 31.4z"/>
<path fill="#482878" d="M1093.7 985.9l5.4-9.8 2.8 18.7-5.4 3.2z"/>
<path fill="#2f6c8e" d="M1037.4 896.9l5.3-12.6 3.3 39.7-5.3 7.5z"/>
<path fill="#482374" d="M990.4 1007.4l5.1-4.7 3-18.5-5.1 9.9zM1113 985.6l5.4-1.7 2.7 19.8-5.4-.4z"/>
<path fill="#404588" d="M994.4 975.6l4.9-19.8 3-20.2-4.8 26.2z"/>
<path fill="#46327e" d="M1079.8 975.8l5.3 3.6 3 9.8-5.3-4.9z"/>
<path fill="#470d60" d="M989.4 1027.2l5.2-3.6 3.1-10-5.2 1.9z"/>
<path fill="#365c8d" d="M1000.5 950.9l4.9-31.1 3.2-7.9-4.9 33z"/>
<path fill="#38588c" d="M997.5 961.8l4.8-26.2 3.1-15.8-4.9 31.1z"/>
<path fill="#34608d" d="M1059 900.7l5.3 20.6 3.1 28.7-5.3-13.8z"/>
<path fill="#482878" d="M1118.5 983.8l5.4 2.2 2.7 19.6-5.4-1.9z"/>
<path fill="#48186a" d="M992.5 1015.4l5.2-1.8 3-16.2-5.1 5.5z"/>
<path fill="#443b84" d="M1074.4 959.4l5.3 16.2 3 8.7-5.2-13.8z"/>
<path fill="#46075a" d="M986.1 1030.1l5.3 1.7 3.2-8.1-5.2 3.5z"/>
<path fill="#453781" d="M993.4 993.9l5.1-9.9 2.9-24.7-4.9 17.1z"/>
<path fill="#470d60" d="M1145.5 1017.7l5.3 6.5 2.8 3.8-5.4-1.7z"/>
<path fill="#471365" d="M1140.1 1009.5l5.3 8.1 2.8 8.7-5.3-8.7z"/>
<path fill="#482374" d="M1124 986l5.3 6 2.7 16.8-5.4-3.2z"/>
<path fill="#48186a" d="M1134.7 1000.4l5.3 9.1 2.8 8-5.3-4.5z"/>
<path fill="#46075a" d="M1150.9 1024.2l5.3 8.4 2.9-2.9-5.4-1.7z"/>
<path fill="#481d6f" d="M1129.4 992l5.3 8.4 2.7 12.6-5.4-4.2z"/>
<path fill="#46327e" d="M1085.3 979.4l5.3-8.6 2.9 15-5.3 3.4z"/>
<path fill="#2c738e" d="M1042.7 884.3l5.4-4.1 3.2 41.7-5.3 2.1z"/>
<path fill="#38588c" d="M1066.7 918.9l5.3 28.8 3.1 17.1-5.2-20.9z"/>
<path fill="#453781" d="M1099.2 976.1l5.5-13.1 2.7 26.8-5.4 4.9z"/>
<path fill="#471365" d="M994.6 1023.6l5.3 .3 3.1-11.9-5.3 1.7z"/>
<path fill="#46075a" d="M991.5 1031.8l5.3 1.7 3.1-9.6-5.3-.2z"/>
<path fill="#472d7b" d="M995.6 1002.7l5.2-5.5 2.9-24.2-5.1 11.2z"/>
<path fill="#2d708e" d="M1053.5 886l5.4 14.7 3.2 35.5-5.4-10z"/>
<path fill="#482374" d="M997.8 1013.6l5.2-1.7 3-19.5-5.2 5z"/>
<path fill="#2c738e" d="M1048.1 880.2l5.4 5.8 3.2 40.2-5.3-4.3z"/>
<path fill="#46075a" d="M996.8 1033.5l5.3 1.7 3.1-10.8-5.3-.5z"/>
<path fill="#471365" d="M999.9 1023.9l5.3 .5 3.1-13.2-5.3 .8z"/>
<path fill="#3d4e8a" d="M996.4 976.2l5-17.2 2.9-28.7-4.8 25.3z"/>
<path fill="#3a538b" d="M1069 931.4l5.3 27.8 3.1 11.1-5.3-22.4z"/>
<path fill="#297b8e" d="M1011.9 913.2l4.9-39.3 3.3 15.2-4.9 33.7z"/>
<path fill="#443b84" d="M1076.8 970.4l5.2 2.7 3.1 6.1-5.3-3.6z"/>
<path fill="#46075a" d="M1153.4 1028.5l5.4 8.7 2.9-2.9-5.5-1.7z"/>
<path fill="#470d60" d="M1148 1020.4l5.4 8.1 2.8 4.1-5.3-8.4z"/>
<path fill="#26828e" d="M1028.8 882.7l5.1-25.9 3.4 39.9-5.2 18.1z"/>
<path fill="#46075a" d="M1002.1 1035.2l5.3-1.9 3.2-8.1-5.4-.8z"/>
<path fill="#482878" d="M1003.1 1011.9l5.2-.9 3-21.9-5.3 3.3z"/>
<path fill="#48186a" d="M1005.3 1024.4l5.3 .8 3.1-13.8-5.4-.2z"/>
<path fill="#3e4989" d="M1071.3 952.2l5.3 17.9 3.1 5.5-5.3-16.2z"/>
<path fill="#48186a" d="M1142.7 1008.6l5.3 11.7 2.8 3.9-5.3-6.6z"/>
<path fill="#424086" d="M1090.8 970.7l5.4-18.7 2.8 23.9-5.4 9.8zM1104.8 963l5.5-12 2.6 34.4-5.4 4.4z"/>
<path fill="#443b84" d="M1000.8 997.2l5.2-5 2.9-29.6-5.2 10.4z"/>
<path fill="#3e4989" d="M998.6 984l5.1-11.3 2.8-32.5-5 19.1z"/>
<path fill="#46075a" d="M998.9 1038.1l5.3 1.7 3.2-6.4-5.3 1.8z"/>
<path fill="#482374" d="M1137.4 993.2l5.2 15.3 2.8 9.1-5.3-8.2z"/>
<path fill="#470d60" d="M1007.4 1033.3l5.4 .9 3.1-8.3-5.3-.7z"/>
<path fill="#48186a" d="M1010.6 1025.2l5.3 .7 3.1-13.2-5.3-1.3z"/>
<path fill="#404588" d="M1082.2 973l5.4-12.3 2.9 10-5.3 8.5z"/>
<path fill="#2d708e" d="M1061.3 887.6l5.3 31.1 3.1 25.1-5.3-22.7z"/>
<path fill="#24868e" d="M1020.3 888.9l4.9-36.4 3.4 30.2-5 28.4z"/>
<path fill="#482878" d="M1008.4 1011l5.3 .3 3-22.8-5.4 .6z"/>
<path fill="#32648e" d="M999.4 955.6l4.8-25.3 3.1-28.2-4.9 33.2z"/>
<path fill="#48186a" d="M1061.1 1018.1l5.3 7.5 3.1-10.6-5.3-8.5z"/>
<path fill="#46075a" d="M1004.2 1039.8l5.4 1.7 3.2-7.3-5.4-.8z"/>
<path fill="#404588" d="M1073.7 971.6l5.3 3.6 3-2.2-5.3-2.6z"/>
<path fill="#470d60" d="M1150.5 1027.4l5.4 7.5 2.9 2.3-5.4-8.6z"/>
<path fill="#46075a" d="M1155.9 1035l5.4 6.9 3-3-5.5-1.6z"/>
<path fill="#471365" d="M1066.5 1025.6l5.4 3.8 3.1-11.9-5.4-2.4zM1057.9 1026.6l5.4 6.2 3.1-7.2-5.4-7.5z"/>
<path fill="#482878" d="M1064.2 1006.4l5.4 8.5 3-13.8-5.3-8.1z"/>
<path fill="#46327e" d="M1132.2 975.6l5.1 17.6 2.7 16.1-5.3-9.1z"/>
<path fill="#470d60" d="M1063.3 1032.9l5.4 3.8 3.2-7.3-5.4-3.7z"/>
<path fill="#48186a" d="M1016 1025.9l5.3 .1 3.1-11.7-5.3-1.6z"/>
<path fill="#470d60" d="M1012.8 1034.2l5.3 .1 3.2-8.2-5.3-.1z"/>
<path fill="#482374" d="M1069.6 1015l5.4 2.4 3.1-17.4-5.4 1.2z"/>
<path fill="#471365" d="M1145.2 1015.2l5.3 12.1 2.9 1.2-5.4-8.1z"/>
<path fill="#481d6f" d="M1052.5 1017.5l5.4 9.1 3.1-8.5-5.4-12.2z"/>
<path fill="#472d7b" d="M1013.7 1011.3l5.3 1.2 3-21.6-5.3-2.4z"/>
<path fill="#453781" d="M1067.4 992.8l5.3 8.2 3.1-14.7-5.4-6.2z"/>
<path fill="#482878" d="M1055.7 1005.9l5.3 12.1 3.1-11.6-5.4-15.8z"/>
<path fill="#470d60" d="M1068.8 1036.7l5.4 5.4 3.1-11.4-5.4-1.3z"/>
<path fill="#3d4e8a" d="M1068.2 952.2l5.3 19.2 3.1-1.3-5.3-17.9z"/>
<path fill="#26828e" d="M1008.6 911.6l4.9-41 3.2 3.3-4.9 39.3z"/>
<path fill="#3e4989" d="M1110.4 951l5.5-6.1 2.5 38.7-5.4 1.8z"/>
<path fill="#424086" d="M1070.5 980l5.3 6.1 3.1-10.7-5.3-3.7z"/>
<path fill="#471365" d="M1071.9 1029.4l5.4 1.2 3.2-14.9-5.5 1.8z"/>
<path fill="#46075a" d="M1009.6 1041.5l5.4 1.7 3.1-8.9-5.3-.1z"/>
<path fill="#470d60" d="M1054.8 1032l5.4 5.5 3.1-4.6-5.4-6.3z"/>
<path fill="#471365" d="M1049.3 1024.7l5.4 7.2 3.1-5.3-5.3-9z"/>
<path fill="#46075a" d="M1060.2 1037.6l5.4 5.7 3.1-6.6-5.4-3.8z"/>
<path fill="#404588" d="M1006.1 992.2l5.2-3.3 2.9-33.4-5.3 7.1z"/>
<path fill="#48186a" d="M1021.3 1026l5.4-.3 3.1-9.6-5.3-1.8z"/>
<path fill="#482878" d="M1019.1 1012.6l5.3 1.6 3.1-18.6-5.4-4.7z"/>
<path fill="#453781" d="M1058.8 990.5l5.3 15.8 3.1-13.5-5.3-18.6z"/>
<path fill="#34608d" d="M1065.9 920.3l5.4 31.6 3 7.3-5.3-27.8z"/>
<path fill="#424086" d="M1126.9 959l5.2 16.6 2.6 24.6-5.3-8.4z"/>
<path fill="#46075a" d="M1065.6 1043.4l5.5 1.7 3.1-3-5.5-5.4z"/>
<path fill="#2f6c8e" d="M1063.6 895l5.4 36.1 3 16.6-5.3-28.8z"/>
<path fill="#453781" d="M1072.8 1001l5.4-1.2 3.1-20.4-5.4 6.9z"/>
<path fill="#470d60" d="M1074.2 1042.1l5.4 1.7 3.2-13.2-5.5 .1z"/>
<path fill="#481d6f" d="M1043.9 1016.6l5.4 8 3.1-7.1-5.4-11.5z"/>
<path fill="#470d60" d="M1018.2 1034.3l5.3-.5 3.2-8.1-5.4 .4z"/>
<path fill="#2a778e" d="M1002.4 935.3l4.9-33.2 3-21.5-4.9 38.9z"/>
<path fill="#482374" d="M1140 997l5.2 18.1 2.8 5.2-5.3-11.7z"/>
<path fill="#482878" d="M1047.1 1005.9l5.3 11.6 3.1-11.7-5.4-16.8z"/>
<path fill="#46075a" d="M1153 1036.6l5.4 8.2 2.9-2.9-5.4-6.9z"/>
<path fill="#482878" d="M1024.5 1014.2l5.3 1.7 3.1-14.2-5.4-6.1z"/>
<path fill="#3e4989" d="M1079.1 975.2l5.4-11.6 3.1-3-5.5 12.3z"/>
<path fill="#3d4e8a" d="M1065.1 960.2l5.3 19.7 3.1-8.4-5.3-19.3z"/>
<path fill="#404588" d="M1062 974.1l5.3 18.6 3-12.8-5.3-19.7z"/>
<path fill="#482878" d="M1075 1017.4l5.5-1.9 3.2-23.8-5.5 8.3z"/>
<path fill="#470d60" d="M1147.6 1027.5l5.4 9.1 2.9-1.6-5.4-7.6z"/>
<path fill="#46075a" d="M1015 1043.2l5.3-2.4 3.2-7-5.3 .5z"/>
<path fill="#3d4e8a" d="M1116 944.9l5.4 2.7 2.5 38.2-5.4-2.2z"/>
<path fill="#471365" d="M1046.2 1028.9l5.4 6.5 3.1-3.4-5.4-7.3z"/>
<path fill="#46075a" d="M1051.6 1035.5l5.4 5.4 3.2-3.3-5.5-5.6z"/>
<path fill="#482374" d="M1029.9 1016l5.3 2.5 3.1-9.7-5.3-7z"/>
<path fill="#26828e" d="M1005.4 919.5l4.9-38.9 3.2-10.1-4.9 41.1z"/>
<path fill="#48186a" d="M1077.3 1030.6l5.5-.1 3.1-18.8-5.4 4z"/>
<path fill="#3e4989" d="M1121.5 947.6l5.3 11.4 2.5 32.8-5.4-6z"/>
<path fill="#48186a" d="M1040.7 1022.8l5.4 6.1 3.1-4.2-5.3-8zM1026.7 1025.7l5.4 .2 3.1-7.3-5.3-2.5z"/>
<path fill="#46075a" d="M1057 1041l5.5 5.3 3.1-2.9-5.4-5.8z"/>
<path fill="#482878" d="M1038.5 1008.7l5.3 7.8 3.1-10.6-5.4-13.3z"/>
<path fill="#481d6f" d="M1035.3 1018.5l5.4 4.3 3.1-6.2-5.4-7.8z"/>
<path fill="#404588" d="M1075.9 986.1l5.4-6.9 3.2-15.6-5.4 11.8z"/>
<path fill="#31688e" d="M1001.5 959l5-19 2.9-37.5-5 27.8z"/>
<path fill="#1f968b" d="M1034 856.8l5.3-18.1 3.3 45.3-5.2 12.7z"/>
<path fill="#470d60" d="M1079.6 1043.8l5.5 1.7 3.2-15-5.5 .1z"/>
<path fill="#365c8d" d="M1003.7 972.7l5.2-10.4 2.8-39.6-5.1 17.5z"/>
<path fill="#38588c" d="M1096.4 951.9l5.6-24.5 2.6 35.4-5.5 13.1z"/>
<path fill="#443b84" d="M1050.2 988.9l5.4 16.8 3-15.2-5.4-23.1z"/>
<path fill="#471365" d="M1023.6 1033.8l5.3-.1 3.2-7.7-5.4-.2z"/>
<path fill="#3e4989" d="M1011.4 988.9l5.3-.6 2.9-34.8-5.4 2z"/>
<path fill="#24868e" d="M1055.8 859.4l5.4 28.2 3.2 33.5-5.4-20.7z"/>
<path fill="#46075a" d="M1011.8 1046.2l5.4 1.7 3.1-7.1-5.3 2.4z"/>
<path fill="#481d6f" d="M1142.3 1012.5l5.3 14.9 2.9-.1-5.3-12z"/>
<path fill="#48186a" d="M1032.1 1025.9l5.4 2.4 3.1-5.5-5.3-4.2z"/>
<path fill="#453781" d="M1033 1001.6l5.4 7 3-16-5.4-13.7z"/>
<path fill="#46075a" d="M1150 1039.6l5.4 8.2 3-3-5.4-8.2z"/>
<path fill="#471365" d="M1037.6 1028.4l5.4 4.8 3.1-4.3-5.4-6z"/>
<path fill="#470d60" d="M1020.4 1040.8l5.3 .6 3.2-7.6-5.4 0z"/>
<path fill="#46075a" d="M1048.4 1039.1l5.5 8.5 3.1-6.6-5.4-5.5z"/>
<path fill="#470d60" d="M1043 1033.2l5.4 5.9 3.2-3.6-5.5-6.5z"/>
<path fill="#443b84" d="M1041.6 992.4l5.4 13.4 3-16.9-5.4-20.6z"/>
<path fill="#440154" d="M1155.4 1047.8l5.6 1.7 2.9-2.9-5.5-1.7z"/>
<path fill="#38588c" d="M1087.7 960.4l5.6-25.4 2.8 16.9-5.4 18.6z"/>
<path fill="#46075a" d="M1053.9 1047.6l5.4 1.7 3.2-3-5.5-5.3z"/>
<path fill="#471365" d="M1144.6 1030.6l5.4 9 2.9-3-5.3-9.1z"/>
<path fill="#424086" d="M1027.6 995.4l5.3 6.1 3.1-22.7-5.5-12.4z"/>
<path fill="#471365" d="M1029 1033.7l5.3 1.7 3.2-7-5.4-2.4z"/>
<path fill="#470d60" d="M1085.1 1045.5l5.5-2.4 3.1-12-5.4-.6z"/>
<path fill="#453781" d="M1134.8 972.2l5.1 24.6 2.8 11.7-5.2-15.4z"/>
<path fill="#481d6f" d="M1082.8 1030.5l5.5-.1 3.2-22.5-5.5 3.8z"/>
<path fill="#3e4989" d="M1016.7 988.3l5.4 2.4 2.9-33.3-5.4-3.9z"/>
<path fill="#46075a" d="M1017.2 1047.9l5.4 1.7 3.1-8.2-5.4-.5zM1082 1048.5l5.5 1.7 3.1-7.1-5.5 2.4z"/>
<path fill="#404588" d="M1022.1 990.7l5.4 4.7 3-29-5.5-9z"/>
<path fill="#3d4e8a" d="M1053.4 967.3l5.3 23.1 3.1-16.4-5.4-28.8z"/>
<path fill="#424086" d="M1078.2 999.8l5.5-8.3 3.2-29.5-5.5 17.4z"/>
<path fill="#471365" d="M1034.4 1035.4l5.4 3.7 3.1-5.9-5.4-4.8z"/>
<path fill="#31688e" d="M1062.7 918.5l5.4 33.4 3.1 0-5.3-31.6z"/>
<path fill="#470d60" d="M1025.8 1041.4l5.4 1.6 3.1-7.6-5.4-1.6z"/>
<path fill="#46327e" d="M1080.5 1015.5l5.5-4 3.2-31.7-5.5 11.9z"/>
<path fill="#46075a" d="M1045.3 1043.9l5.4 6.6 3.2-2.9-5.5-8.5z"/>
<path fill="#470d60" d="M1039.8 1039.2l5.4 4.7 3.2-4.8-5.4-5.9zM1090.6 1043.1l5.5 5.8 3.1-15.9-5.4-1.9z"/>
<path fill="#46075a" d="M1147 1044l5.4 6.8 3-3-5.4-8.2z"/>
<path fill="#481d6f" d="M1139.3 1015.7l5.3 14.8 2.9-3.1-5.2-14.9z"/>
<path fill="#46075a" d="M1087.5 1050.2l5.5 1.7 3.1-2.9-5.5-5.9zM1022.6 1049.6l5.4 1.7 3.2-8.3-5.5-1.5z"/>
<path fill="#46327e" d="M1137.2 989.5l5.1 22.8 2.8 2.8-5.1-18.1z"/>
<path fill="#470d60" d="M1141.6 1036.5l5.4 7.5 3-4.4-5.4-9zM1031.2 1043l5.4 2.8 3.2-6.6-5.5-3.7z"/>
<path fill="#482374" d="M1088.3 1030.4l5.5 .6 3.2-24.6-5.5 1.5z"/>
<path fill="#470d60" d="M1096.1 1048.9l5.5 1.8 3.1-14.5-5.4-3.2z"/>
<path fill="#34608d" d="M1056.5 945.2l5.4 28.7 3-14-5.4-32.4z"/>
<path fill="#46075a" d="M1036.6 1045.8l5.5 6 3.1-7.9-5.4-4.7z"/>
<path fill="#1f9e89" d="M1016.8 873.7l5-41.9 3.4 20.7-5 36.3z"/>
<path fill="#3d4e8a" d="M1036.1 978.6l5.4 13.8 3-24.1-5.4-22z"/>
<path fill="#1fa187" d="M1039.3 838.7l5.4-6.2 3.3 47.4-5.3 4.1z"/>
<path fill="#1f9a8a" d="M1050.2 839.8l5.5 19.6 3.2 41-5.4-14.7z"/>
<path fill="#31688e" d="M1059.6 927.5l5.4 32.4 3.1-8-5.4-33.4z"/>
<path fill="#3a538b" d="M1044.7 968.1l5.4 20.6 3-21.5-5.4-28.7z"/>
<path fill="#46075a" d="M1028 1051.4l5.4 1.7 3.2-7.3-5.4-2.8zM1042.1 1051.8l5.4 1.7 3.2-2.9-5.5-6.7z"/>
<path fill="#481d6f" d="M1136.2 1024.6l5.3 11.9 3-6-5.2-14.8z"/>
<path fill="#470d60" d="M1138.5 1043.6l5.4 8.4 3-8-5.4-7.5z"/>
<path fill="#46075a" d="M1143.9 1052.1l5.5 1.7 3-3-5.4-6.8z"/>
<path fill="#31688e" d="M1008.9 962.3l5.3-7.1 2.8-44.6-5.3 12.1z"/>
<path fill="#470d60" d="M1101.6 1050.7l5.5 1.7 3.1-12.2-5.4-4z"/>
<path fill="#482374" d="M1093.8 1031l5.4 1.9 3.3-24.3-5.5-2.2z"/>
<path fill="#21a585" d="M1025.4 852.4l5-32.8 3.4 36.9-5.1 26z"/>
<path fill="#471365" d="M1133 1035.7l5.4 7.8 3.1-7-5.3-11.9z"/>
<path fill="#46075a" d="M1033.4 1053.1l5.5 1.7 3.2-3-5.5-6z"/>
<path fill="#38588c" d="M1081.4 979.2l5.4-17.4 3.4-23.3-5.6 24.9z"/>
<path fill="#24868e" d="M1004.4 930.1l4.9-27.9 3-36.1-5 35.8z"/>
<path fill="#34608d" d="M1084.6 963.4l5.6-24.9 3.1-3.5-5.7 25.4z"/>
<path fill="#1fa187" d="M1044.7 832.5l5.5 7.3 3.3 45.9-5.4-5.8z"/>
<path fill="#218e8d" d="M1058.1 856l5.4 38.8 3.2 23.9-5.4-31.1z"/>
<path fill="#277f8e" d="M1060.4 878.7l5.4 41.3 3.2 11.1-5.4-36.1z"/>
<path fill="#3d4e8a" d="M1129.7 943l5 29 2.7 21-5.2-17.6z"/>
<path fill="#46075a" d="M1107.1 1052.4l5.5-.7 3.1-7.2-5.5-4.3zM1135.4 1049.9l5.4 5.2 3.1-3-5.5-8.5z"/>
<path fill="#482374" d="M1099.3 1032.9l5.4 3.2 3.3-21.7-5.5-5.8z"/>
<path fill="#470d60" d="M1129.9 1045.2l5.4 4.7 3.1-6.3-5.4-7.9z"/>
<path fill="#481d6f" d="M1104.8 1036.1l5.4 4 3.2-17.7-5.4-8z"/>
<path fill="#48186a" d="M1110.3 1040.1l5.4 4.3 3.2-13.3-5.4-8.7z"/>
<path fill="#424086" d="M1086 1011.5l5.5-3.8 3.3-39-5.5 11.1z"/>
<path fill="#471365" d="M1115.8 1044.4l5.4 3.9 3.1-9.4-5.4-7.8zM1124.4 1038.8l5.4 6.3 3.1-9.4-5.3-11.4z"/>
<path fill="#453781" d="M1134.1 992.9l5.2 22.6 2.9-3.2-5.1-22.8z"/>
<path fill="#2f6c8e" d="M1102 927.4l5.8-23.1 2.5 46.5-5.6 12z"/>
<path fill="#470d60" d="M1121.3 1048.4l5.5 3.3 3-6.5-5.4-6.3z"/>
<path fill="#46075a" d="M1112.6 1051.7l5.5 2 3.1-5.3-5.5-3.9z"/>
<path fill="#440154" d="M1104 1055.4l5.5 1.7 3.1-5.4-5.5 .7z"/>
<path fill="#482374" d="M1127.7 1024.3l5.3 11.3 3.1-11-5.2-17.8z"/>
<path fill="#34608d" d="M1030.6 966.2l5.4 12.4 3-32.3-5.5-19.9z"/>
<path fill="#46075a" d="M1126.8 1051.7l5.5 2.9 3-4.7-5.4-4.7z"/>
<path fill="#277f8e" d="M1006.6 940l5.1-17.5 2.8-45.4-5.1 25.4z"/>
<path fill="#482374" d="M1119 1031l5.4 7.8 3.1-14.5-5.3-14.8z"/>
<path fill="#46327e" d="M1131 1006.8l5.1 17.7 3.1-9-5.1-22.6z"/>
<path fill="#46075a" d="M1132.3 1054.6l5.5 3.5 3-3-5.4-5.2zM1118.2 1053.7l5.5 1.8 3-3.8-5.5-3.3z"/>
<path fill="#2d708e" d="M1014.2 955.2l5.4-2 2.8-46.5-5.4 3.9z"/>
<path fill="#38588c" d="M1083.7 991.5l5.5-12 3.4-40.9-5.6 23.4z"/>
<path fill="#3e4989" d="M1132.1 957.7l5 31.6 2.8 7.5-5.1-24.6z"/>
<path fill="#2f6c8e" d="M1047.8 938.4l5.4 28.7 3.1-22.1-5.5-36.3z"/>
<path fill="#46075a" d="M1109.5 1057.1l5.6-.7 3-2.6-5.5-2.1z"/>
<path fill="#472d7b" d="M1113.5 1022.3l5.4 8.6 3.3-21.4-5.3-16.9z"/>
<path fill="#46075a" d="M1123.7 1055.5l5.6 1.8 3-2.7-5.5-2.9z"/>
<path fill="#2f6c8e" d="M1025.1 957.1l5.4 9.1 3-39.8-5.6-14.1z"/>
<path fill="#2d708e" d="M1019.6 953.2l5.4 3.9 2.9-44.8-5.5-5.6z"/>
<path fill="#404588" d="M1091.5 1007.7l5.5-1.5 3.4-43.2-5.5 5.7z"/>
<path fill="#2f6c8e" d="M1039.1 946.1l5.5 21.9 3-29.6-5.5-30.8z"/>
<path fill="#2c738e" d="M1093.4 934.7l5.7-33.5 2.8 26.1-5.6 24.4z"/>
<path fill="#440154" d="M1129.3 1057.3l5.5 3.8 3-3-5.5-3.5z"/>
<path fill="#453781" d="M1122.3 1009.3l5.3 14.9 3.1-17.5-5.1-24z"/>
<path fill="#26ad81" d="M1013.5 870.3l5-43.7 3.3 5.2-5 41.9z"/>
<path fill="#46075a" d="M1115.1 1056.4l5.6 .3 3-1.2-5.5-1.7z"/>
<path fill="#1f9e89" d="M1007.3 901.9l4.9-35.8 3.1-27.3-5 41.5z"/>
<path fill="#31688e" d="M1124.5 914.6l5.1 28.3 2.5 32.4-5.2-16.6z"/>
<path fill="#443b84" d="M1108.1 1014.2l5.4 8 3.3-29.6-5.3-15.9z"/>
<path fill="#46075a" d="M1106.4 1060.2l5.6-2.5 3.1-1.3-5.6 .7z"/>
<path fill="#238a8d" d="M1057.2 875.1l5.5 43.2 3.1 1.7-5.4-41.3z"/>
<path fill="#3e4989" d="M1097 1006.2l5.5 2.2 3.5-42.6-5.5-2.8z"/>
<path fill="#46075a" d="M1120.7 1056.7l5.5 .9 3-.3-5.5-1.8z"/>
<path fill="#404588" d="M1102.6 1008.4l5.4 5.8 3.4-37.5-5.4-10.9z"/>
<path fill="#277f8e" d="M1050.9 908.7l5.5 36.3 3.1-17.7-5.5-41.5z"/>
<path fill="#297b8e" d="M1107.8 904.3l5.7-12.8 2.4 53.1-5.6 6.2z"/>
<path fill="#26ad81" d="M1010.3 880.3l5-41.5 3.1-12.2-4.9 43.7z"/>
<path fill="#3a538b" d="M1129 961.3l5.1 31.4 3-3.4-5.1-31.6z"/>
<path fill="#3e4989" d="M1125.7 982.6l5.2 24 3.1-13.9-5-31.4z"/>
<path fill="#46075a" d="M1126.3 1057.6l5.5 2.3 3 1.2-5.5-3.8zM1112 1057.7l5.6-1.4 3 .4-5.5-.3z"/>
<path fill="#23a983" d="M1052.5 821.4l5.4 34.5 3.3 31.4-5.4-28.1z"/>
<path fill="#238a8d" d="M1054 885.8l5.5 41.5 3.2-9-5.5-43.2z"/>
<path fill="#46075a" d="M1103.3 1063.2l5.6-4.2 3.1-1.3-5.6 2.5zM1131.8 1060l5.5 5.9 3.1-3.1-5.6-1.7z"/>
<path fill="#42be71" d="M1030.5 819.6l5.3-22.5 3.4 41.3-5.3 18.1z"/>
<path fill="#2a778e" d="M1119.1 895.1l5.3 19.5 2.4 44.1-5.3-11.3z"/>
<path fill="#2c738e" d="M1087 961.7l5.6-23.3 3.3-33.2-5.7 33.1z"/>
<path fill="#20928c" d="M1011.8 922.5l5.2-12.2 2.8-50.9-5.3 17.7z"/>
<path fill="#3d4e8a" d="M1116.9 992.4l5.3 16.9 3.3-26.7-5.1-28.4z"/>
<path fill="#277f8e" d="M1113.5 891.5l5.6 3.6 2.3 52.3-5.5-2.8z"/>
<path fill="#31688e" d="M1089.3 979.5l5.5-11.1 3.5-51.9-5.7 22.1z"/>
<path fill="#470d60" d="M1117.7 1056.3l5.5-.1 3 1.4-5.5-.9z"/>
<path fill="#26828e" d="M1033.5 926.1l5.6 19.9 2.9-38.4-5.5-27.7z"/>
<path fill="#21a585" d="M1054.8 834.5l5.6 44 3.1 16.3-5.4-38.8z"/>
<path fill="#2f6c8e" d="M1127 919.2l5 38.2 2.8 14.6-5.1-29z"/>
<path fill="#277f8e" d="M1090.2 938.2l5.8-33 3.1-4-5.8 33.5z"/>
<path fill="#1fa187" d="M1009.4 902.2l5.1-25.4 2.9-43.2-5.1 32.4z"/>
<path fill="#46075a" d="M1100.2 1066.2l5.6-4.2 3.1-3-5.6 4.2z"/>
<path fill="#4ac16d" d="M1021.9 831.6l5.1-36.9 3.4 24.9-5.2 32.6z"/>
<path fill="#470d60" d="M1109 1059l5.6-2.7 3 0-5.6 1.3z"/>
<path fill="#238a8d" d="M1042.2 907.4l5.5 30.8 3-29.6-5.5-38.7z"/>
<path fill="#470d60" d="M1123.3 1056.2l5.5 2.7 3 1-5.5-2.2z"/>
<path fill="#46075a" d="M1128.8 1059l5.6 4.7 2.9 2.2-5.5-5.9zM1134.4 1063.7l5.5 7 3-3.1-5.6-1.7zM1097.1 1069.3l5.6 1.7 3.1-9-5.6 4.2z"/>
<path fill="#471365" d="M1114.6 1056.3l5.6-.9 3 .8-5.5 .1z"/>
<path fill="#42be71" d="M1046.9 797.8l5.5 23.6 3.3 37.8-5.5-19.7z"/>
<path fill="#470d60" d="M1105.9 1062l5.5-2.8 3.2-2.9-5.6 2.7z"/>
<path fill="#32648e" d="M1111.5 976.4l5.4 16 3.4-38.2-5.2-27.4z"/>
<path fill="#1f9e89" d="M1017 910.3l5.4-3.9 2.8-53-5.4 6z"/>
<path fill="#20928c" d="M1028 912l5.5 14.1 2.9-46.2-5.6-19.3z"/>
<path fill="#5ac864" d="M1035.8 797.1l5.5-7.8 3.4 42.9-5.4 6.2z"/>
<path fill="#31688e" d="M1120.5 954.2l5.1 28.2 3.3-21.3-5-37.9z"/>
<path fill="#471365" d="M1120.2 1055.4l5.6 3.1 3 .4-5.5-2.7z"/>
<path fill="#20928c" d="M1099.2 901l5.8-32.9 2.7 36-5.7 23z"/>
<path fill="#2a778e" d="M1094.9 968.4l5.6-5.6 3.6-58.5-5.7 12.2z"/>
<path fill="#46075a" d="M1131.4 1064.6l5.4 9.1 3.1-3-5.5-7z"/>
<path fill="#1f9e89" d="M1022.5 906.4l5.4 5.6 2.9-51.4-5.5-7.2z"/>
<path fill="#470d60" d="M1125.8 1058.6l5.5 6 3-.9-5.5-4.7zM1102.7 1071l5.6-5.8 3.2-6-5.6 2.8z"/>
<path fill="#2c738e" d="M1123.9 923.2l5.1 37.9 3-3.7-5-38.2z"/>
<path fill="#65cb5e" d="M1041.3 789.3l5.6 8.5 3.3 41.7-5.5-7.3z"/>
<path fill="#471365" d="M1111.5 1059.2l5.6-.9 3.1-2.9-5.6 .9z"/>
<path fill="#1fa187" d="M1045.3 869.9l5.5 38.6 3.1-22.9-5.6-44z"/>
<path fill="#2ab07f" d="M1051.6 829l5.6 45.8 3.2 3.7-5.6-44z"/>
<path fill="#46075a" d="M1099.6 1074.1l5.5 1.8 3.2-10.6-5.6 5.7z"/>
<path fill="#2c738e" d="M1106 965.5l5.5 10.9 3.6-49.6-5.4-18.9z"/>
<path fill="#42be71" d="M1012.3 865.8l5-32.2 3.1-31.8-5.1 36.7z"/>
<path fill="#471365" d="M1117.2 1058.3l5.5 3.2 3-2.9-5.5-3.2z"/>
<path fill="#46075a" d="M1128.3 1067.6l5.5 9.2 3-3.1-5.5-9.1z"/>
<path fill="#297b8e" d="M1100.5 962.8l5.5 2.7 3.7-57.6-5.6-3.6z"/>
<path fill="#6ece58" d="M1018.5 826.4l5.1-38.2 3.3 6.5-5.1 36.9z"/>
<path fill="#471365" d="M1108.4 1065.2l5.5-.1 3.2-6.8-5.6 .9z"/>
<path fill="#238a8d" d="M1121.9 880.6l5.1 38.3 2.6 23.8-5-28.2z"/>
<path fill="#46075a" d="M1133.8 1076.8l5.6 1.8 3.1-3.1-5.7-1.7z"/>
<path fill="#470d60" d="M1122.7 1061.5l5.6 6.1 3-3-5.5-6z"/>
<path fill="#2ab07f" d="M1048.4 841.6l5.6 44 3.1-10.8-5.5-45.8z"/>
<path fill="#21a585" d="M1036.5 879.6l5.6 27.7 3-37.4-5.6-34.3z"/>
<path fill="#218e8d" d="M1092.6 938.4l5.7-22.1 3.5-43.6-5.8 32.5z"/>
<path fill="#470d60" d="M1105.1 1075.9l5.7-3.1 3.1-7.7-5.6 .2z"/>
<path fill="#52c569" d="M1049.2 795.9l5.6 38.3 3.2 21.5-5.5-34.3z"/>
<path fill="#3bbb75" d="M1014.5 876.8l5.3-17.7 2.9-47.7-5.3 22.2z"/>
<path fill="#471365" d="M1114 1065.1l5.5 2.8 3.2-6.4-5.6-3.1z"/>
<path fill="#46075a" d="M1125.2 1072.8l5.5 7.1 3.1-3.1-5.5-9.2z"/>
<path fill="#6ece58" d="M1015.3 838.5l5.1-36.7 3.2-13.6-5.1 38.2z"/>
<path fill="#46075a" d="M1102 1079l5.6 1.7 3.2-7.9-5.7 3.1z"/>
<path fill="#470d60" d="M1119.6 1067.9l5.5 4.9 3.1-5.2-5.5-6.1zM1110.8 1072.8l5.6 2.3 3.1-7.2-5.5-2.8z"/>
<path fill="#8bd646" d="M1027.1 794.6l5.2-24.6 3.4 26.9-5.3 22.5z"/>
<path fill="#46075a" d="M1116.4 1075.1l5.6 6.1 3.1-8.4-5.5-4.9z"/>
<path fill="#1fa187" d="M1096 905l5.8-32.3 3.2-4.6-5.9 32.8z"/>
<path fill="#46075a" d="M1107.6 1080.7l5.6 1.8 3.2-7.4-5.6-2.3zM1122 1081.2l5.6 1.8 3.1-3.1-5.6-7.1z"/>
<path fill="#24868e" d="M1115.2 926.6l5.2 27.4 3.4-30.9-5.1-37.9z"/>
<path fill="#46075a" d="M1113.2 1082.5l5.7 1.8 3.1-3.1-5.6-6.1z"/>
<path fill="#21a585" d="M1105.1 868.1l5.8-20.2 2.6 43.3-5.7 12.9z"/>
<path fill="#3bbb75" d="M1030.9 860.3l5.6 19.3 3-44-5.7-23.5z"/>
<path fill="#1fa187" d="M1116.5 852.7l5.3 27.9 2.6 33.8-5.3-19.5z"/>
<path fill="#1f968b" d="M1118.7 885.2l5.2 37.8 3.1-4.1-5.1-38.3z"/>
<path fill="#52c569" d="M1019.8 859.1l5.5-6 2.9-49.4-5.5 7.7z"/>
<path fill="#4ac16d" d="M1039.6 835.5l5.6 34.2 3-28.3-5.6-38.3z"/>
<path fill="#95d840" d="M1043.5 770.5l5.5 25.3 3.4 25.3-5.5-23.5z"/>
<path fill="#77d153" d="M1045.9 789.3l5.6 39.5 3.3 5.4-5.6-38.3z"/>
<path fill="#26ad81" d="M1110.9 847.9l5.6 4.8 2.6 42.2-5.6-3.7z"/>
<path fill="#5ac864" d="M1025.3 853.1l5.5 7.2 3-48.2-5.6-8.4z"/>
<path fill="#21a585" d="M1098.4 916.3l5.7-12.3 3.6-51-5.8 19.7z"/>
<path fill="#b5de2b" d="M1032.4 770l5.5-8.2 3.3 27.3-5.4 7.8z"/>
<path fill="#8bd646" d="M1017.4 833.4l5.3-22.3 3-33.9-5.3 24.6z"/>
<path fill="#1fa187" d="M1109.7 907.7l5.4 18.8 3.6-41.4-5.3-27.3z"/>
<path fill="#c0df25" d="M1023.7 787.9l5.3-24.7 3.3 6.8-5.3 24.4z"/>
<path fill="#77d153" d="M1042.7 803.1l5.6 38.3 3.2-12.6-5.6-39.5z"/>
<path fill="#c0df25" d="M1037.9 761.8l5.6 8.7 3.3 27-5.5-8.4z"/>
<path fill="#23a983" d="M1104.1 904l5.6 3.7 3.6-49.9-5.6-4.8z"/>
<path fill="#b5de2b" d="M1020.4 801.6l5.3-24.4 3.2-14-5.3 24.7z"/>
<path fill="#35b779" d="M1101.9 872.4l5.8-19.4 3.1-5.1-5.8 19.9z"/>
<path fill="#2fb47c" d="M1113.4 857.8l5.3 27.1 3.1-4.6-5.3-27.6z"/>
<path fill="#8bd646" d="M1033.9 811.9l5.6 23.4 3-32.2-5.6-25.4z"/>
<path fill="#b5de2b" d="M1022.7 811.1l5.5-7.7 3-34.4-5.4 8.2z"/>
<path fill="#cae11f" d="M1040.2 763.7l5.6 25.3 3.3 6.6-5.6-25.1z"/>
<path fill="#eae51a" d="M1029.1 763l5.4-7.3 3.2 6-5.3 8.1z"/>
<path fill="#4ac16d" d="M1107.8 852.9l5.5 4.6 3.1-4.9-5.5-4.7z"/>
<path fill="#b5de2b" d="M1028.2 803.5l5.6 8.4 3.1-34.2-5.6-8.7z"/>
<path fill="#c0df25" d="M1037 777.7l5.6 25.2 3.2-13.9-5.6-25.3z"/>
<path fill="#eae51a" d="M1034.6 755.6l5.5 7.9 3.3 6.8-5.4-8.5zM1025.8 777l5.4-8.3 3.3-13-5.5 7.5zM1031.4 768.8l5.5 8.7 3.1-13.8-5.5-8z"/>
</g>
<clipPath id="bc2"><path clip-rule="evenodd" d="M1434.7 1039.5 1703.6 1127.3 1846.4 980.7 1592.8 907ZM1548.2 1016 1551.5 1013.2 1546.2 1011.5 1549.5 1008.7 1552.7 1005.9 1556 1003.1 1559.2 1000.2 1562.4 997.4 1557.2 995.8 1560.4 993.1 1563.6 990.3 1566.7 987.5 1571.9 989.1 1575.1 986.3 1578.2 983.6 1581.3 980.9 1584.5 978.1 1587.6 975.4 1592.7 977 1595.8 974.3 1598.9 971.6 1604.1 973.1 1607.2 970.4 1610.2 967.7 1615.4 969.3 1618.4 966.6 1623.6 968.1 1626.6 965.4 1631.8 967 1634.8 964.3 1639.9 965.9 1645.1 967.4 1648.1 964.7 1653.3 966.3 1658.5 967.8 1663.7 969.4 1668.9 970.9 1674.1 972.5 1679.4 974.1 1684.6 975.6 1681.7 978.4 1686.9 979.9 1684 982.7 1689.3 984.3 1686.3 987 1691.6 988.6 1688.7 991.4 1694 993 1691 995.7 1696.3 997.4 1701.7 999 1707 1000.6 1712.4 1002.2 1717.8 1003.8 1714.8 1006.7 1720.2 1008.3 1725.6 1009.9 1722.7 1012.8 1728.1 1014.4 1733.6 1016.1 1730.6 1018.9 1736.1 1020.6 1733.1 1023.5 1738.6 1025.1 1735.7 1028 1732.7 1031 1729.8 1033.9 1735.3 1035.6 1732.3 1038.5 1729.3 1041.4 1726.3 1044.4 1723.3 1047.4 1717.8 1045.7 1714.8 1048.6 1711.8 1051.6 1708.7 1054.6 1703.2 1052.9 1700.1 1055.9 1694.6 1054.1 1691.5 1057.1 1686 1055.4 1680.5 1053.7 1677.4 1056.7 1671.9 1054.9 1666.4 1053.2 1663.2 1056.2 1657.7 1054.5 1652.3 1052.7 1646.8 1051 1641.3 1049.3 1638.2 1052.3 1632.7 1050.6 1629.5 1053.6 1624.1 1051.8 1620.9 1054.8 1615.4 1053.1 1612.2 1056.1 1606.8 1054.4 1603.5 1057.4 1598.1 1055.6 1592.7 1053.9 1589.4 1056.9 1584 1055.2 1578.6 1053.4 1573.2 1051.7 1567.8 1050 1562.4 1048.3 1557.1 1046.5 1560.4 1043.6 1555 1041.9 1549.7 1040.2 1553 1037.2 1547.7 1035.5 1551 1032.6 1545.7 1030.9 1549 1028 1543.7 1026.3 1547 1023.4 1550.2 1020.6 1545 1018.9Z"/></clipPath>
<path fill="#440154" fill-opacity="0.9" fill-rule="evenodd" d="M1434.7 1039.5 1703.6 1127.3 1846.4 980.7 1592.8 907ZM1548.2 1016 1551.5 1013.2 1546.2 1011.5 1549.5 1008.7 1552.7 1005.9 1556 1003.1 1559.2 1000.2 1562.4 997.4 1557.2 995.8 1560.4 993.1 1563.6 990.3 1566.7 987.5 1571.9 989.1 1575.1 986.3 1578.2 983.6 1581.3 980.9 1584.5 978.1 1587.6 975.4 1592.7 977 1595.8 974.3 1598.9 971.6 1604.1 973.1 1607.2 970.4 1610.2 967.7 1615.4 969.3 1618.4 966.6 1623.6 968.1 1626.6 965.4 1631.8 967 1634.8 964.3 1639.9 965.9 1645.1 967.4 1648.1 964.7 1653.3 966.3 1658.5 967.8 1663.7 969.4 1668.9 970.9 1674.1 972.5 1679.4 974.1 1684.6 975.6 1681.7 978.4 1686.9 979.9 1684 982.7 1689.3 984.3 1686.3 987 1691.6 988.6 1688.7 991.4 1694 993 1691 995.7 1696.3 997.4 1701.7 999 1707 1000.6 1712.4 1002.2 1717.8 1003.8 1714.8 1006.7 1720.2 1008.3 1725.6 1009.9 1722.7 1012.8 1728.1 1014.4 1733.6 1016.1 1730.6 1018.9 1736.1 1020.6 1733.1 1023.5 1738.6 1025.1 1735.7 1028 1732.7 1031 1729.8 1033.9 1735.3 1035.6 1732.3 1038.5 1729.3 1041.4 1726.3 1044.4 1723.3 1047.4 1717.8 1045.7 1714.8 1048.6 1711.8 1051.6 1708.7 1054.6 1703.2 1052.9 1700.1 1055.9 1694.6 1054.1 1691.5 1057.1 1686 1055.4 1680.5 1053.7 1677.4 1056.7 1671.9 1054.9 1666.4 1053.2 1663.2 1056.2 1657.7 1054.5 1652.3 1052.7 1646.8 1051 1641.3 1049.3 1638.2 1052.3 1632.7 1050.6 1629.5 1053.6 1624.1 1051.8 1620.9 1054.8 1615.4 1053.1 1612.2 1056.1 1606.8 1054.4 1603.5 1057.4 1598.1 1055.6 1592.7 1053.9 1589.4 1056.9 1584 1055.2 1578.6 1053.4 1573.2 1051.7 1567.8 1050 1562.4 1048.3 1557.1 1046.5 1560.4 1043.6 1555 1041.9 1549.7 1040.2 1553 1037.2 1547.7 1035.5 1551 1032.6 1545.7 1030.9 1549 1028 1543.7 1026.3 1547 1023.4 1550.2 1020.6 1545 1018.9Z"/>
<g fill-opacity="0.9">
<path clip-path="url(#bc2)" stroke="#fff" stroke-opacity="0.25" stroke-width="0.75" fill="none" d="M1434.7 1039.5L1592.8 907M1434.7 1039.5L1703.6 1127.3M1439.9 1041.2L1597.7 908.4M1438.2 1036.5L1706.8 1124M1445.2 1042.9L1602.7 909.8M1441.7 1033.6L1710 1120.8M1450.4 1044.6L1607.6 911.3M1445.2 1030.7L1713.1 1117.5M1455.6 1046.3L1612.6 912.7M1448.7 1027.8L1716.3 1114.3M1460.9 1048L1617.6 914.2M1452.1 1024.9L1719.4 1111.1M1466.2 1049.7L1622.6 915.6M1455.6 1022L1722.5 1107.9M1471.4 1051.5L1627.6 917.1M1459 1019.1L1725.6 1104.7M1476.7 1053.2L1632.6 918.5M1462.4 1016.2L1728.7 1101.5M1482 1054.9L1637.6 920M1465.8 1013.4L1731.8 1098.3M1487.3 1056.6L1642.6 921.4M1469.2 1010.5L1734.9 1095.2M1492.7 1058.4L1647.6 922.9M1472.6 1007.7L1738 1092M1498 1060.1L1652.7 924.4M1476 1004.9L1741 1088.9M1503.3 1061.9L1657.7 925.8M1479.4 1002.1L1744.1 1085.8M1508.7 1063.6L1662.8 927.3M1482.7 999.3L1747.1 1082.7M1514.1 1065.4L1667.9 928.8M1486 996.5L1750.1 1079.6M1519.4 1067.1L1673 930.3M1489.4 993.7L1753.1 1076.5M1524.8 1068.9L1678 931.7M1492.7 990.9L1756.1 1073.4M1530.2 1070.7L1683.1 933.2M1496 988.1L1759.1 1070.3M1535.6 1072.4L1688.3 934.7M1499.3 985.4L1762.1 1067.3M1541.1 1074.2L1693.4 936.2M1502.5 982.6L1765 1064.2M1546.5 1076L1698.5 937.7M1505.8 979.9L1768 1061.2M1552 1077.7L1703.7 939.2M1509.1 977.2L1770.9 1058.2M1557.4 1079.5L1708.8 940.7M1512.3 974.5L1773.9 1055.2M1562.9 1081.3L1714 942.2M1515.5 971.7L1776.8 1052.2M1568.4 1083.1L1719.2 943.7M1518.7 969L1779.7 1049.2M1573.9 1084.9L1724.3 945.2M1522 966.4L1782.6 1046.2M1579.4 1086.7L1729.5 946.7M1525.2 963.7L1785.5 1043.3M1584.9 1088.5L1734.7 948.2M1528.3 961L1788.3 1040.3M1590.4 1090.3L1739.9 949.7M1531.5 958.3L1791.2 1037.4M1596 1092.1L1745.2 951.3M1534.7 955.7L1794.1 1034.4M1601.5 1093.9L1750.4 952.8M1537.8 953L1796.9 1031.5M1607.1 1095.8L1755.7 954.3M1541 950.4L1799.8 1028.6M1612.7 1097.6L1760.9 955.8M1544.1 947.8L1802.6 1025.7M1618.3 1099.4L1766.2 957.4M1547.2 945.2L1805.4 1022.8M1623.9 1101.2L1771.5 958.9M1550.3 942.6L1808.2 1019.9M1629.5 1103.1L1776.7 960.4M1553.4 940L1811 1017.1M1635.1 1104.9L1782 962M1556.5 937.4L1813.8 1014.2M1640.7 1106.7L1787.3 963.5M1559.6 934.8L1816.6 1011.4M1646.4 1108.6L1792.7 965.1M1562.7 932.2L1819.3 1008.5M1652.1 1110.4L1798 966.6M1565.7 929.7L1822.1 1005.7M1657.7 1112.3L1803.3 968.2M1568.8 927.1L1824.8 1002.9M1663.4 1114.2L1808.7 969.7M1571.8 924.6L1827.6 1000.1M1669.1 1116L1814 971.3M1574.9 922L1830.3 997.3M1674.8 1117.9L1819.4 972.8M1577.9 919.5L1833 994.5M1680.6 1119.8L1824.8 974.4M1580.9 917L1835.7 991.7M1686.3 1121.6L1830.2 976M1583.9 914.5L1838.4 988.9M1692.1 1123.5L1835.6 977.5M1586.9 912L1841.1 986.2M1697.8 1125.4L1841 979.1M1589.8 909.5L1843.8 983.4M1703.6 1127.3L1846.4 980.7M1592.8 907L1846.4 980.7"/>
<path fill="#46075a" d="M1631.8 967l5.1-1.6 3 .5-5.1-1.6zM1645.1 967.4l5.2-1.5 3 .4-5.2-1.6zM1623.6 968.1l5.1-2.1 3 1-5.1-1.5zM1636.9 965.4l5.2 .3 3 1.7-5.1-1.5zM1650.3 965.9l5.2 1.1 3 .8-5.2-1.5zM1615.4 969.3l5.1-2.2 3.1 1-5.2-1.5zM1607.2 970.4l5.1-1.8 3.1 .7-5.2-1.6zM1628.7 966l5.2-.4 3-.2-5.1 1.6zM1655.5 967l5.2 1.3 3 1.1-5.2-1.6z"/>
<path fill="#470d60" d="M1642.1 965.7l5.2 .3 3-.1-5.2 1.5zM1620.5 967.1l5.2-1 3-.1-5.1 2.1z"/>
<path fill="#46075a" d="M1660.7 968.3l5.2 1.7 3 .9-5.2-1.5z"/>
<path fill="#470d60" d="M1633.9 965.6l5.2-.6 3 .7-5.1-.3z"/>
<path fill="#46075a" d="M1612.3 968.6l5.1-1.1 3.1-.4-5.1 2.2z"/>
<path fill="#470d60" d="M1647.3 966l5.2 .7 3 .3-5.2-1z"/>
<path fill="#46075a" d="M1604.1 973.1l5.1-3.6 3.1-.9-5.1 1.8zM1666 970l5.2 1.9 2.9 .6-5.2-1.6z"/>
<path fill="#470d60" d="M1625.7 966.1l5.1-1.5 3.1 1-5.1 .4z"/>
<path fill="#46075a" d="M1595.9 974.3l5.1-2.3 3.1 1.1-5.2-1.5z"/>
<path fill="#470d60" d="M1652.6 966.7l5.1 1.1 3 .5-5.2-1.3z"/>
<path fill="#471365" d="M1639.1 965l5.2-.4 3 1.4-5.1-.3z"/>
<path fill="#46075a" d="M1671.2 972l5.2 2.1 3 0-5.3-1.6z"/>
<path fill="#471365" d="M1617.5 967.5l5.1-2.3 3 .9-5.1 .9z"/>
<path fill="#470d60" d="M1657.8 967.9l5.2 1.7 2.9 .4-5.1-1.7zM1609.2 969.5l5.1-2.5 3.1 .5-5.1 1.1z"/>
<path fill="#46075a" d="M1676.4 974.1l5.3 4.2 2.9-2.7-5.2-1.5z"/>
<path fill="#471365" d="M1630.9 964.5l5.1-1.9 3.1 2.4-5.2 .6z"/>
<path fill="#470d60" d="M1601 972l5.1-2.1 3.1-.4-5.1 3.6z"/>
<path fill="#471365" d="M1644.4 964.5l5.1 .1 3 2.1-5.1-.7z"/>
<path fill="#46075a" d="M1592.8 977l5-3.7 3.1-1.3-5 2.3z"/>
<path fill="#470d60" d="M1663 969.6l5.2 2.3 3 0-5.2-1.9z"/>
<path fill="#46075a" d="M1584.5 978.1l5.1-1.6 3.1 .5-5.1-1.6z"/>
<path fill="#48186a" d="M1622.7 965.1l5.1-3.2 3 2.6-5.1 1.6zM1649.6 964.6l5.1 .8 3 2.4-5.1-1.1z"/>
<path fill="#470d60" d="M1668.3 971.9l5.2 2.6 2.9-.4-5.2-2.1z"/>
<path fill="#481d6f" d="M1636.1 962.6l5.2-1.7 3 3.6-5.2 .5z"/>
<path fill="#48186a" d="M1614.4 967l5.1-4.1 3.1 2.2-5.1 2.3z"/>
<path fill="#471365" d="M1606.2 969.9l5-4.2 3.1 1.3-5.1 2.5z"/>
<path fill="#46075a" d="M1673.5 974.6l5.2 2.8 2.9 .9-5.2-4.2z"/>
<path fill="#48186a" d="M1654.8 965.4l5.2 1.9 2.9 2.3-5.1-1.8z"/>
<path fill="#471365" d="M1597.9 973.2l5.1-3.4 3.1 .1-5.1 2.1z"/>
<path fill="#470d60" d="M1589.6 976.4l5.1-2.1 3.1-1-5 3.7z"/>
<path fill="#46075a" d="M1678.8 977.4l5.2 5.3 2.9-2.8-5.2-1.5zM1581.4 980.9l5-2.6 3.2-1.8-5.1 1.6z"/>
<path fill="#482374" d="M1627.9 961.8l5.1-3.7 3 4.5-5.1 1.9z"/>
<path fill="#481d6f" d="M1641.4 960.9l5.1-.9 3 4.5-5.2 0z"/>
<path fill="#471365" d="M1660.1 967.3l5.1 2.8 3 1.8-5.2-2.3z"/>
<path fill="#482374" d="M1619.6 962.8l5.1-5.5 3 4.5-5.1 3.3z"/>
<path fill="#471365" d="M1665.3 970.1l5.2 3.4 2.9 1-5.1-2.6z"/>
<path fill="#482374" d="M1646.6 960l5.1 .4 3 5-5.1-.9zM1611.3 965.6l5.1-6.4 3.1 3.6-5.1 4.1z"/>
<path fill="#470d60" d="M1670.6 973.6l5.2 3.7 2.9 .1-5.2-2.8z"/>
<path fill="#46075a" d="M1578.2 983.6l5.1-3.4 3.1-1.9-5 2.6z"/>
<path fill="#48186a" d="M1594.8 974.2l5-4.9 3.2 .5-5.1 3.4z"/>
<path fill="#481d6f" d="M1603.1 969.7l5-6.2 3.1 2.2-5.1 4.1z"/>
<path fill="#470d60" d="M1586.5 978.3l5.1-3.1 3.1-.9-5.1 2.1z"/>
<path fill="#482878" d="M1633.1 958l5.1-3.4 3 6.2-5.1 1.7z"/>
<path fill="#470d60" d="M1675.8 977.3l5.2 3.6 3 1.8-5.3-5.3z"/>
<path fill="#46075a" d="M1681.1 980.9l5.2 6.1 2.9-2.8-5.2-1.5z"/>
<path fill="#482374" d="M1651.8 960.4l5.2 2.1 3 4.7-5.2-1.9zM1657.1 962.5l5.1 3.5 3 4-5.1-2.8z"/>
<path fill="#472d7b" d="M1624.8 957.2l5.1-6.2 3 7-5.1 3.7z"/>
<path fill="#46075a" d="M1575.1 986.3l5.1-4.1 3.1-2-5.1 3.4z"/>
<path fill="#46327e" d="M1638.3 954.6l5.2-2.2 2.9 7.5-5.1 .8z"/>
<path fill="#471365" d="M1583.4 980.2l5-4.1 3.2-.9-5.1 3.1z"/>
<path fill="#481d6f" d="M1662.4 966l5.1 4.6 3 2.9-5.2-3.4zM1591.6 975.1l5.1-6.5 3.1 .7-5 4.9z"/>
<path fill="#46327e" d="M1616.5 959l5.1-8.3 3 6.5-5 5.5z"/>
<path fill="#48186a" d="M1667.6 970.6l5.2 5 2.9 1.7-5.1-3.7z"/>
<path fill="#482374" d="M1599.9 969.2l5.1-8.5 3.1 2.8-5.1 6.2z"/>
<path fill="#472d7b" d="M1608.2 963.4l5.1-9.2 3 4.9-5 6.4z"/>
<path fill="#471365" d="M1672.9 975.7l5.2 4.9 2.9 .3-5.2-3.6z"/>
<path fill="#470d60" d="M1678.1 980.6l5.3 4.4 2.9 2-5.2-6.1z"/>
<path fill="#453781" d="M1643.6 952.4l5.1-.1 3 8-5.1-.5z"/>
<path fill="#470d60" d="M1571.9 989.1l5.1-4.7 3.1-2.2-5 4.1z"/>
<path fill="#46075a" d="M1683.4 985l5.2 6.3 3-2.7-5.3-1.6zM1563.6 990.3l5.1-1.2 3.2 0-5.2-1.6z"/>
<path fill="#471365" d="M1580.2 982.2l5.1-4.8 3.1-1.3-5.1 4.1z"/>
<path fill="#443b84" d="M1630.1 950.9l5-5.6 3 9.1-5.1 3.5z"/>
<path fill="#482374" d="M1588.5 976.1l5-8.1 3.1 .6-5 6.5z"/>
<path fill="#453781" d="M1648.8 952.3l5.2 2.3 3 7.7-5.2-2.1z"/>
<path fill="#46327e" d="M1654.1 954.5l5.2 4.6 2.9 6.8-5.1-3.6z"/>
<path fill="#472d7b" d="M1596.8 968.5l5-10.8 3.1 3-5 8.4z"/>
<path fill="#470d60" d="M1568.7 989.1l5.1-2.2 3.2-2.5-5.1 4.7z"/>
<path fill="#424086" d="M1621.7 950.6l5.1-9.1 3 9.4-5.1 6.1z"/>
<path fill="#472d7b" d="M1659.4 959.1l5.1 6.1 3 5.3-5.1-4.6z"/>
<path fill="#482374" d="M1664.7 965.3l5.1 6.8 3 3.5-5.1-5z"/>
<path fill="#46075a" d="M1560.4 993l5.1-1.1 3.2-2.8-5.1 1.2z"/>
<path fill="#481d6f" d="M1669.9 972.2l5.2 6.7 3 1.7-5.2-4.9z"/>
<path fill="#471365" d="M1675.2 978.9l5.2 5.9 3 .2-5.3-4.3z"/>
<path fill="#48186a" d="M1577 984.4l5.1-5.4 3.1-1.7-5 4.8z"/>
<path fill="#470d60" d="M1680.5 984.8l5.2 4.7 2.9 1.8-5.2-6.3z"/>
<path fill="#443b84" d="M1605.1 960.5l5-12.1 3.1 5.8-5 9.1z"/>
<path fill="#424086" d="M1613.4 954l5-11.5 3.1 8.2-5.1 8.3z"/>
<path fill="#404588" d="M1635.3 945.3l5.1-3.8 3 10.7-5.1 2.2z"/>
<path fill="#46075a" d="M1685.7 989.5l5.3 6.2 2.9-2.7-5.2-1.6z"/>
<path fill="#482374" d="M1585.3 977.2l5-9.3 3.2 .1-5 8z"/>
<path fill="#46075a" d="M1557.2 995.8l5.2 1.6 3.1-5.5-5.1 1.2z"/>
<path fill="#470d60" d="M1565.5 991.8l5.1-2.2 3.2-2.7-5.1 2.2z"/>
<path fill="#48186a" d="M1573.9 986.8l5-5.7 3.2-2.1-5.1 5.3z"/>
<path fill="#3e4989" d="M1640.5 941.5l5.2-.9 3 11.5-5.2 .1z"/>
<path fill="#453781" d="M1593.6 967.9l5-13 3.1 2.8-5 10.7z"/>
<path fill="#3a538b" d="M1626.9 941.4l5.1-8.2 3.1 11.9-5.2 5.7z"/>
<path fill="#481d6f" d="M1672.2 975.6l5.3 7.7 2.9 1.5-5.2-5.8z"/>
<path fill="#471365" d="M1677.5 983.4l5.3 5.9 2.9 .2-5.2-4.7z"/>
<path fill="#470d60" d="M1682.8 989.3l5.3 4.1 2.9 2.3-5.3-6.2z"/>
<path fill="#482878" d="M1667 966.5l5.2 9 2.9 3.3-5.1-6.6z"/>
<path fill="#470d60" d="M1562.4 997.4l5-4.6 3.2-3.1-5.1 2.2z"/>
<path fill="#482878" d="M1582.2 978.8l5-10.2 3.1-.7-5 9.3z"/>
<path fill="#3e4989" d="M1645.8 940.6l5.2 2.6 3 11.1-5.2-2.3z"/>
<path fill="#46327e" d="M1661.7 957.3l5.1 9.1 3 5.6-5.1-6.8z"/>
<path fill="#46075a" d="M1688.1 993.5l5.3 2.6 2.9 1.3-5.3-1.7z"/>
<path fill="#404588" d="M1601.9 957.5l5-15.2 3.1 6.1-5 12.1z"/>
<path fill="#424086" d="M1656.4 949l5.1 8.2 3 7.9-5.1-6.2z"/>
<path fill="#3e4989" d="M1651.1 943.2l5.2 5.8 3 9.9-5.2-4.6z"/>
<path fill="#48186a" d="M1570.7 989.6l5-5.7 3.2-2.8-5 5.7z"/>
<path fill="#38588c" d="M1618.6 942.4l5-12.4 3.1 11.4-5.1 9.1z"/>
<path fill="#3a538b" d="M1610.2 948.2l5-15 3.1 9.3-5 11.5z"/>
<path fill="#46075a" d="M1693.4 996.1l5.4 1.9 2.9 1-5.3-1.6z"/>
<path fill="#470d60" d="M1559.2 1000.2l5.1-4.1 3.2-3.3-5.1 4.6z"/>
<path fill="#443b84" d="M1590.4 967.7l5-14.8 3.1 2-4.9 12.9z"/>
<path fill="#472d7b" d="M1579 981l5-10.7 3.1-1.7-5 10.2z"/>
<path fill="#365c8d" d="M1632.2 933.1l5.1-5.7 3.1 13.9-5.2 3.8z"/>
<path fill="#46075a" d="M1698.8 998l5.3 1.6 2.9 1-5.3-1.6z"/>
<path fill="#481d6f" d="M1674.6 980.4l5.2 7.1 2.9 1.8-5.2-5.9z"/>
<path fill="#48186a" d="M1567.5 992.7l5-5.3 3.2-3.5-5 5.7z"/>
<path fill="#471365" d="M1679.9 987.6l5.2 4.4 2.9 1.4-5.2-4z"/>
<path fill="#482878" d="M1669.3 970.4l5.2 9.8 2.9 3.1-5.1-7.7z"/>
<path fill="#471365" d="M1685.2 992.1l5.3 2.3 2.9 1.7-5.3-2.6z"/>
<path fill="#46075a" d="M1556 1003l5.1-3.3 3.2-3.6-5.1 4.1zM1704.1 999.6l5.4 1.8 2.9 .8-5.4-1.6z"/>
<path fill="#453781" d="M1664 958.7l5.2 11.5 2.9 5.2-5.1-8.8z"/>
<path fill="#3a538b" d="M1598.7 954.7l5-18 3.1 5.6-5 15.1z"/>
<path fill="#472d7b" d="M1575.8 983.8l5-10.7 3.1-2.8-4.9 10.7z"/>
<path fill="#470d60" d="M1690.5 994.4l5.3 1.3 2.9 2.3-5.2-1.9z"/>
<path fill="#48186a" d="M1564.3 996.1l5.1-4.8 3.1-3.9-5 5.3z"/>
<path fill="#46075a" d="M1709.5 1001.4l5.3 5.2 3-2.8-5.4-1.6z"/>
<path fill="#32648e" d="M1637.4 927.4l5.2-1.7 3.1 14.7-5.2 .8z"/>
<path fill="#404588" d="M1587.2 968.4l5-16.2 3.2 .7-5 14.8z"/>
<path fill="#3e4989" d="M1658.7 946.5l5.2 11.9 3 7.9-5.1-9.2z"/>
<path fill="#31688e" d="M1623.8 929.9l5.1-11.2 3 14.3-5.1 8.3z"/>
<path fill="#46075a" d="M1552.7 1005.9l5.2-2.5 3.2-3.7-5.1 3.4z"/>
<path fill="#470d60" d="M1695.9 995.7l5.3 1.2 2.9 2.7-5.3-1.6z"/>
<path fill="#32648e" d="M1607 942.1l5-18.4 3.2 9.5-5.1 15z"/>
<path fill="#38588c" d="M1653.4 935.9l5.1 10.6 3.1 10.5-5.2-8.2z"/>
<path fill="#32648e" d="M1642.7 925.7l5.3 2.9 3 14.4-5.2-2.6z"/>
<path fill="#482878" d="M1671.6 975.5l5.2 8.1 3 3.9-5.2-7.1z"/>
<path fill="#481d6f" d="M1676.9 983.7l5.2 4.2 3 4.1-5.2-4.4z"/>
<path fill="#471365" d="M1561.1 999.7l5.1-4 3.2-4.4-5.1 4.8z"/>
<path fill="#2f6c8e" d="M1615.4 933l5-15.8 3.1 12.7-5 12.4z"/>
<path fill="#472d7b" d="M1572.6 987.2l5-10.2 3.2-3.9-5 10.7z"/>
<path fill="#34608d" d="M1648 928.6l5.3 7.3 3 12.9-5.2-5.8z"/>
<path fill="#470d60" d="M1701.3 996.9l5.3 1.9 2.9 2.6-5.3-1.8z"/>
<path fill="#481d6f" d="M1682.3 987.9l5.2 1.3 2.9 5.2-5.2-2.4z"/>
<path fill="#453781" d="M1666.3 963.5l5.2 11.8 3 4.9-5.2-9.7z"/>
<path fill="#404588" d="M1584 970.1l5-17 3.2-.9-5 16.2z"/>
<path fill="#46075a" d="M1549.5 1008.7l5.2-1.6 3.2-3.7-5.2 2.5z"/>
<path fill="#470d60" d="M1706.6 998.8l5.4 2.8 2.8 5-5.3-5.2z"/>
<path fill="#365c8d" d="M1595.5 952.6l5-20.3 3.1 4.4-5 17.9z"/>
<path fill="#471365" d="M1557.9 1003.4l5.1-3.1 3.2-4.6-5.1 4z"/>
<path fill="#482878" d="M1569.4 991.2l5-9.2 3.2-5-5 10.2z"/>
<path fill="#481d6f" d="M1687.6 989.2l5.3 0 2.9 6.5-5.3-1.3z"/>
<path fill="#470d60" d="M1712 1001.6l5.4 3.4 2.8 3.3-5.3-1.7z"/>
<path fill="#3e4989" d="M1661 948.7l5.2 14.5 3 7-5.2-11.6z"/>
<path fill="#2a778e" d="M1629 918.7l5.2-7.8 3.1 16.3-5.2 5.7z"/>
<path fill="#46075a" d="M1717.4 1005l5.3 7.8 2.9-2.9-5.4-1.6zM1546.3 1011.5l5.2 1.7 3.2-6.1-5.2 1.6z"/>
<path fill="#482374" d="M1566.3 995.6l5-7.9 3.1-5.7-5 9.2z"/>
<path fill="#3e4989" d="M1580.9 972.9l4.9-17 3.2-2.8-5 16.9z"/>
<path fill="#470d60" d="M1554.7 1007.1l5.1-2.1 3.2-4.6-5.1 3z"/>
<path fill="#481d6f" d="M1693 989.2l5.4 .4 2.8 7.3-5.3-1.3z"/>
<path fill="#453781" d="M1668.6 968.7l5.2 8.3 3 6.5-5.1-8z"/>
<path fill="#46327e" d="M1674 977.2l5.2 3.1 2.9 7.5-5.2-4.2z"/>
<path fill="#34608d" d="M1655.7 933.6l5.2 14.9 3 9.9-5.1-12z"/>
<path fill="#2c738e" d="M1603.8 936.4l5-21.4 3.2 8.7-5.1 18.4z"/>
<path fill="#481d6f" d="M1698.4 989.6l5.4 2 2.8 7.2-5.3-1.9zM1563.1 1000.3l5-6.4 3.2-6.2-5 7.9z"/>
<path fill="#470d60" d="M1551.5 1013.2l5.1-3.6 3.2-4.6-5.1 2.1z"/>
<path fill="#32648e" d="M1592.3 951.9l4.9-22 3.2 2.4-5 20.3z"/>
<path fill="#277f8e" d="M1620.6 917.1l5.1-14.1 3.1 15.5-5.1 11.2z"/>
<path fill="#404588" d="M1577.7 976.8l4.9-16.2 3.2-4.7-5 17z"/>
<path fill="#472d7b" d="M1679.4 980.3l5.3-.7 2.8 9.4-5.3-1.2z"/>
<path fill="#277f8e" d="M1634.3 910.9l5.2-2.6 3.1 17.2-5.2 1.7z"/>
<path fill="#3e4989" d="M1663.3 954.9l5.2 13.6 3 6.8-5.2-11.9z"/>
<path fill="#481d6f" d="M1703.8 991.6l5.3 3.9 2.9 6-5.3-2.7z"/>
<path fill="#277f8e" d="M1612.1 923.5l5.1-19.1 3.1 12.7-5 15.9z"/>
<path fill="#2d708e" d="M1650.3 920.5l5.2 13 3.1 12.8-5.2-10.6z"/>
<path fill="#48186a" d="M1559.9 1005l5-4.9 3.2-6.2-5 6.4zM1709.2 995.5l5.3 5.2 2.8 4.3-5.2-3.4z"/>
<path fill="#471365" d="M1714.6 1000.7l5.3 5.7 2.8 6.3-5.3-7.7z"/>
<path fill="#46075a" d="M1548.2 1016l5.2-2.1 3.2-4.3-5.1 3.6z"/>
<path fill="#470d60" d="M1719.9 1006.5l5.4 5.2 2.8 2.7-5.4-1.6z"/>
<path fill="#404588" d="M1574.5 981.8l5-14.8 3.1-6.4-4.9 16.2z"/>
<path fill="#277f8e" d="M1639.6 908.3l5.3 3.3 3 16.8-5.2-2.9z"/>
<path fill="#297b8e" d="M1645 911.6l5.2 8.9 3.1 15.2-5.3-7.3z"/>
<path fill="#46327e" d="M1684.8 979.6l5.3-2 2.8 11.4-5.3 0z"/>
<path fill="#46075a" d="M1725.3 1011.8l5.3 7.1 2.9-2.8-5.4-1.7z"/>
<path fill="#34608d" d="M1658 937.4l5.2 17.2 3 8.6-5.2-14.5z"/>
<path fill="#471365" d="M1556.7 1009.5l5.1-3.3 3.1-6.1-5 4.9z"/>
<path fill="#2f6c8e" d="M1589.1 952.9l4.9-22.9 3.2-.1-5 22z"/>
<path fill="#443b84" d="M1571.4 987.5l4.9-12.8 3.2-7.7-5 14.8z"/>
<path fill="#46075a" d="M1545 1018.9l5.2 1.7 3.2-6.7-5.2 2.1z"/>
<path fill="#277f8e" d="M1600.5 932.1l5-24 3.2 6.9-5 21.4z"/>
<path fill="#453781" d="M1690.2 977.6l5.3-.7 2.8 12.6-5.3-.5zM1568.2 993.7l5-10.6 3.1-8.4-5 12.8z"/>
<path fill="#3e4989" d="M1665.6 960.3l5.2 8 3 8.7-5.1-8.4z"/>
<path fill="#471365" d="M1553.4 1013.9l5.2-2 3.2-5.7-5.1 3.4z"/>
<path fill="#404588" d="M1671 968.3l5.3 1.2 2.9 10.6-5.3-3.1z"/>
<path fill="#20928c" d="M1625.8 903l5.2-9.8 3.1 17.5-5.2 7.7z"/>
<path fill="#472d7b" d="M1565 1000l5-8.3 3.2-8.6-5 10.6z"/>
<path fill="#453781" d="M1695.6 976.9l5.4 2.1 2.7 12.5-5.3-2z"/>
<path fill="#2c738e" d="M1652.6 919.3l5.3 17.9 3 11.3-5.2-15z"/>
<path fill="#2f6c8e" d="M1585.9 955.7l4.9-22.9 3.2-2.8-5 22.9z"/>
<path fill="#365c8d" d="M1660.3 945.3l5.2 14.8 3 8.4-5.2-13.6z"/>
<path fill="#470d60" d="M1550.2 1020.5l5.2-3.4 3.2-5.1-5.2 2zM1722.4 1009.4l5.4 6.7 2.8 2.8-5.3-7.1z"/>
<path fill="#46075a" d="M1727.8 1016.1l5.3 7.4 3-2.9-5.5-1.7z"/>
<path fill="#48186a" d="M1717.1 1001.1l5.3 8.3 2.8 2.3-5.2-5.2z"/>
<path fill="#482374" d="M1561.8 1006.1l5.1-6.1 3.1-8.3-5 8.4z"/>
<path fill="#404588" d="M1676.4 969.5l5.4-3.3 2.8 13.2-5.3 .7z"/>
<path fill="#482374" d="M1711.8 992.2l5.2 8.8 2.9 5.4-5.3-5.7z"/>
<path fill="#453781" d="M1701.1 979l5.2 5.4 2.8 10.9-5.3-3.9z"/>
<path fill="#472d7b" d="M1706.4 984.4l5.3 7.8 2.8 8.4-5.3-5.3z"/>
<path fill="#20928c" d="M1608.9 914.7l5.1-21.9 3.1 11.5-5 19.1z"/>
<path fill="#1f9a8a" d="M1617.4 904.2l5.1-16.7 3.1 15.4-5.1 14z"/>
<path fill="#481d6f" d="M1558.6 1011.9l5.1-4.1 3.2-7.7-5 6.1z"/>
<path fill="#46075a" d="M1547 1023.4l5.2-1.6 3.2-4.6-5.2 3.4z"/>
<path fill="#31688e" d="M1582.7 960.4l4.9-22 3.2-5.6-5 22.9z"/>
<path fill="#24868e" d="M1647.2 903.7l5.3 15.5 3.1 14.1-5.2-13.1z"/>
<path fill="#1f9e89" d="M1631.1 893.2l5.3-3.5 3.1 18.4-5.3 2.6z"/>
<path fill="#238a8d" d="M1597.3 929.6l5-25.7 3.2 4.2-5 23.9z"/>
<path fill="#471365" d="M1555.4 1017.1l5.2-2.4 3.2-6.8-5.2 4.1z"/>
<path fill="#2c738e" d="M1654.9 925.6l5.3 19.5 3 9.5-5.2-17.2z"/>
<path fill="#3d4e8a" d="M1681.9 966.2l5.4-4.3 2.8 15.5-5.4 1.9z"/>
<path fill="#32648e" d="M1579.5 966.8l5-20.3 3.1-8.1-4.9 22z"/>
<path fill="#470d60" d="M1724.9 1014.9l5.4 6.8 2.8 1.8-5.3-7.4z"/>
<path fill="#46075a" d="M1543.7 1026.3l5.3 1.7 3.2-6.2-5.2 1.7zM1730.3 1021.8l5.4 6.2 2.9-2.9-5.5-1.6z"/>
<path fill="#365c8d" d="M1576.4 974.4l5-17.9 3.1-10-5 20.3z"/>
<path fill="#48186a" d="M1719.6 1005l5.3 9.8 2.8 1.2-5.2-6.5z"/>
<path fill="#1f968b" d="M1641.8 893.4l5.4 10.3 3 16.5-5.2-8.9z"/>
<path fill="#470d60" d="M1552.2 1021.8l5.2-1 3.2-6-5.2 2.4z"/>
<path fill="#34608d" d="M1662.6 951.4l5.3 7 3 9.7-5.2-8z"/>
<path fill="#1f9e89" d="M1636.5 889.7l5.3 3.7 3.1 17.9-5.3-3.3z"/>
<path fill="#3a538b" d="M1573.3 982.8l4.9-15 3.1-11.3-4.9 17.9z"/>
<path fill="#404588" d="M1570.1 991.5l5-12 3.1-11.7-4.9 15z"/>
<path fill="#453781" d="M1567 999.9l4.9-9.1 3.2-11.3-4.9 12z"/>
<path fill="#365c8d" d="M1668 958.4l5.4-1 2.9 11.9-5.3-1.2z"/>
<path fill="#482878" d="M1714.3 992.9l5.2 12 2.9 4.4-5.2-8.2z"/>
<path fill="#472d7b" d="M1563.8 1007.7l5.1-6.4 3.1-10.4-5 9.1z"/>
<path fill="#38588c" d="M1687.3 961.9l5.5-2 2.7 16.7-5.4 .8z"/>
<path fill="#2f6c8e" d="M1657.2 935.9l5.3 15.2 3 9-5.2-14.8z"/>
<path fill="#46075a" d="M1549 1028l5.2-2 3.2-5.2-5.2 1z"/>
<path fill="#482374" d="M1560.6 1014.7l5.2-4 3.1-9.2-5.1 6.4z"/>
<path fill="#218e8d" d="M1594.1 929.7l5-26.6 3.2 .8-5 25.7z"/>
<path fill="#453781" d="M1709 980.1l5.2 12.6 2.8 8.3-5.1-8.9z"/>
<path fill="#1fa187" d="M1605.6 907.8l5.1-24.2 3.2 9.1-5.1 22z"/>
<path fill="#238a8d" d="M1649.5 904.9l5.3 20.4 3.1 11.9-5.3-17.9z"/>
<path fill="#470d60" d="M1727.4 1022.2l5.3 8.7 2.9-2.9-5.3-6.2z"/>
<path fill="#48186a" d="M1557.4 1020.8l5.2-2.2 3.2-7.8-5.2 4z"/>
<path fill="#26ad81" d="M1622.6 887.4l5.2-11.4 3.1 17-5.2 9.7z"/>
<path fill="#471365" d="M1722.1 1012.8l5.3 9.4 2.8-.5-5.3-6.8z"/>
<path fill="#38588c" d="M1692.8 959.9l5.4 2.3 2.7 16.6-5.3-2.2z"/>
<path fill="#34608d" d="M1673.5 957.3l5.4-5.8 2.8 14.5-5.3 3.3z"/>
<path fill="#3e4989" d="M1703.7 969.2l5.2 10.9 2.8 11.9-5.3-7.8z"/>
<path fill="#46075a" d="M1545.7 1030.9l5.3 1.7 3.2-6.6-5.2 2z"/>
<path fill="#3a538b" d="M1698.3 962.2l5.3 7 2.7 14.9-5.3-5.3z"/>
<path fill="#470d60" d="M1554.2 1026l5.2-.8 3.2-6.5-5.2 2.1z"/>
<path fill="#482878" d="M1716.8 999.4l5.2 13.3 2.9 2.1-5.3-9.7z"/>
<path fill="#2ab07f" d="M1614.1 892.6l5.1-18.9 3.2 13.7-5.2 16.7z"/>
<path fill="#20928c" d="M1590.9 932.5l4.9-26.6 3.2-2.9-5 26.7z"/>
<path fill="#26828e" d="M1651.8 914.5l5.4 21.1 3 9.5-5.3-19.5z"/>
<path fill="#470d60" d="M1724.5 1022.7l5.2 11.1 3-2.9-5.3-8.7z"/>
<path fill="#472d7b" d="M1565.9 1010.6l5.1-5.5 3.1-11.9-5.1 8.3z"/>
<path fill="#46075a" d="M1551 1032.6l5.2-2 3.2-5.4-5.2 .8z"/>
<path fill="#424086" d="M1569 1001.3l5-8.3 3.1-13.6-4.9 11.5z"/>
<path fill="#482374" d="M1562.7 1018.6l5.1-3.2 3.2-10.1-5.2 5.5z"/>
<path fill="#2d708e" d="M1659.6 943.5l5.2 5.9 3.1 8.8-5.2-7z"/>
<path fill="#1fa187" d="M1644.1 887.3l5.3 17.4 3.1 14.3-5.2-15.4z"/>
<path fill="#3d4e8a" d="M1572.1 990.7l5-11.5 3.1-14.7-4.9 14.8z"/>
<path fill="#443b84" d="M1711.5 983.2l5.2 16 2.8 5.7-5.2-12z"/>
<path fill="#48186a" d="M1559.5 1025.2l5.2-1.5 3.1-8.2-5.1 3.2z"/>
<path fill="#481d6f" d="M1719.2 1010.9l5.2 11.7 2.9-.5-5.3-9.3z"/>
<path fill="#2f6c8e" d="M1679 951.5l5.4-6.2 2.8 16.4-5.4 4.3z"/>
<path fill="#35b779" d="M1627.9 876l5.3-4.2 3.1 17.7-5.2 3.5z"/>
<path fill="#218e8d" d="M1587.7 938.1l5-25.7 3.1-6.5-5 26.6z"/>
<path fill="#34608d" d="M1575.2 979.3l5-14.9 3.1-15.1-5 18.3z"/>
<path fill="#46075a" d="M1547.7 1035.5l5.3 1.7 3.2-6.5-5.2 1.9z"/>
<path fill="#2d708e" d="M1665 949.4l5.4-2.8 2.9 10.6-5.3 1z"/>
<path fill="#277f8e" d="M1654.1 927.9l5.4 15.4 3 7.8-5.3-15.2z"/>
<path fill="#2d708e" d="M1578.3 967.5l5-18.2 3.1-14.4-5 21.4z"/>
<path fill="#2ab07f" d="M1602.4 903.6l5-25.6 3.3 5.6-5.1 24.2z"/>
<path fill="#470d60" d="M1556.2 1030.6l5.3-.2 3.2-6.6-5.3 1.4z"/>
<path fill="#24868e" d="M1584.5 946.2l5-23.9 3.1-9.9-4.9 25.7z"/>
<path fill="#277f8e" d="M1581.4 956.3l5-21.4 3.1-12.6-5 23.9z"/>
<path fill="#46075a" d="M1726.9 1032.1l5.4 6.4 2.9-2.9-5.4-1.7z"/>
<path fill="#2fb47c" d="M1638.7 875.7l5.3 11.6 3.2 16.2-5.4-10.4z"/>
<path fill="#471365" d="M1721.5 1023.8l5.4 8.3 2.8 1.7-5.3-11.1z"/>
<path fill="#46327e" d="M1713.9 994.3l5.2 16.4 2.9 1.9-5.2-13.1z"/>
<path fill="#3bbb75" d="M1633.3 871.8l5.3 3.9 3.2 17.4-5.4-3.6z"/>
<path fill="#3a538b" d="M1706.2 966.7l5.2 16.2 2.8 9.7-5.1-12.5z"/>
<path fill="#472d7b" d="M1567.9 1015.4l5.2-3.7 3.1-12.5-5.2 6.2z"/>
<path fill="#481d6f" d="M1564.7 1023.7l5.3-1.8 3.1-10-5.2 3.6z"/>
<path fill="#46075a" d="M1553 1037.2l5.2-1.4 3.3-5.3-5.3 .2z"/>
<path fill="#1fa187" d="M1646.4 891.9l5.4 22.4 3 11-5.3-20.4z"/>
<path fill="#424086" d="M1571.1 1005.1l5.1-6.1 3-14.8-5 9z"/>
<path fill="#2c738e" d="M1684.5 945.3l5.4-3 2.8 17.4-5.4 2z"/>
<path fill="#471365" d="M1561.5 1030.4l5.3-.4 3.1-8-5.2 1.8z"/>
<path fill="#482374" d="M1716.2 1010.3l5.3 13.4 2.9-1.1-5.3-11.7z"/>
<path fill="#2a778e" d="M1670.5 946.5l5.4-7.5 2.9 12.3-5.4 5.8z"/>
<path fill="#52c569" d="M1619.4 873.6l5.2-12.6 3.1 14.8-5.2 11.4z"/>
<path fill="#3a538b" d="M1574.1 993l5.2-9.1 3-16.9-5 12.4z"/>
<path fill="#4ac16d" d="M1610.8 883.4l5.2-20.3 3.1 10.6-5.1 18.8z"/>
<path fill="#32648e" d="M1700.9 953.1l5.2 13.5 2.8 13.3-5.2-10.9z"/>
<path fill="#46075a" d="M1549.7 1040.2l5.3 1.7 3.2-6.1-5.2 1.4zM1723.9 1034.8l5.4 6.6 3-2.9-5.4-6.4z"/>
<path fill="#1f968b" d="M1648.7 905.5l5.4 22.2 3 7.9-5.3-21.1z"/>
<path fill="#470d60" d="M1558.3 1035.8l5.3 .5 3.2-6.3-5.3 .5z"/>
<path fill="#277f8e" d="M1656.5 938.5l5.2 5.2 3.1 5.5-5.2-5.8z"/>
<path fill="#471365" d="M1718.5 1026l5.4 8.7 2.9-2.6-5.3-8.3z"/>
<path fill="#2c738e" d="M1690 942.3l5.4 2.4 2.8 17.2-5.4-2.3z"/>
<path fill="#3d4e8a" d="M1708.7 974.5l5.1 19.6 2.9 5.1-5.2-16z"/>
<path fill="#35b779" d="M1599.1 902.8l5.1-26.4 3.2 1.6-5.1 25.6z"/>
<path fill="#482878" d="M1570 1021.9l5.3-1.6 3.1-11.7-5.3 3.3z"/>
<path fill="#2d708e" d="M1695.5 944.7l5.3 8.4 2.8 15.9-5.3-7.1z"/>
<path fill="#48186a" d="M1566.8 1030l5.3-.4 3.1-9.1-5.2 1.6z"/>
<path fill="#31688e" d="M1577.2 979.2l5.1-12.5 3-18.1-4.9 15.8z"/>
<path fill="#443b84" d="M1573.2 1011.7l5.2-3.3 3-14.7-5.1 5.6z"/>
<path fill="#238a8d" d="M1651 922.9l5.4 15.4 3.1 5-5.4-15.4z"/>
<path fill="#46075a" d="M1555 1041.9l5.4 1.7 3.2-7.3-5.3-.5z"/>
<path fill="#443b84" d="M1711 991.5l5.2 18.6 2.9 .6-5.2-16.4z"/>
<path fill="#277f8e" d="M1662 943.7l5.3-3.8 3 6.5-5.3 2.8z"/>
<path fill="#482878" d="M1713.2 1012l5.3 13.9 2.9-2.2-5.2-13.4z"/>
<path fill="#471365" d="M1563.6 1036.3l5.3 .5 3.2-7.1-5.3 .4z"/>
<path fill="#46075a" d="M1720.9 1038l5.4 6.4 3-3-5.4-6.6z"/>
<path fill="#35b779" d="M1641 872.8l5.3 18.9 3.2 13-5.4-17.4z"/>
<path fill="#3d4e8a" d="M1576.3 999l5.2-5.5 3-17.6-5.2 8.3z"/>
<path fill="#471365" d="M1715.5 1029.7l5.4 8.3 3-3.3-5.4-8.6z"/>
<path fill="#297b8e" d="M1580.3 964.2l5-15.8 3.1-18.4-5 19.1z"/>
<path fill="#26828e" d="M1676 938.9l5.5-7.1 2.8 13.3-5.4 6.2z"/>
<path fill="#481d6f" d="M1572.2 1029.6l5.2 .2 3.2-10.1-5.3 .8z"/>
<path fill="#472d7b" d="M1575.3 1020.3l5.3-.8 3.1-13-5.3 2.1z"/>
<path fill="#46075a" d="M1560.4 1043.6l5.3-1.3 3.2-5.5-5.3-.5z"/>
<path fill="#35b779" d="M1595.9 905.6l5.1-26.3 3.2-2.9-5.1 26.4z"/>
<path fill="#6ece58" d="M1624.7 861l5.3-4.6 3.1 15.2-5.3 4.1z"/>
<path fill="#471365" d="M1568.9 1036.8l5.4 .8 3.1-7.7-5.3-.2z"/>
<path fill="#31688e" d="M1703.4 955.2l5.2 19.1 2.8 8.6-5.2-16.2z"/>
<path fill="#404588" d="M1578.5 1008.4l5.2-2.1 3-16.3-5.2 3.7z"/>
<path fill="#482878" d="M1710.2 1016.3l5.3 13.3 2.9-3.7-5.2-13.9z"/>
<path fill="#24868e" d="M1653.4 937.9l5.3 5.1 3 .6-5.2-5z"/>
<path fill="#46075a" d="M1717.8 1045.6l5.5 1.8 3-3-5.4-6.4z"/>
<path fill="#31688e" d="M1579.3 983.9l5.2-8.2 3-19.9-5.1 11.2z"/>
<path fill="#218e8d" d="M1583.4 949l5-19 3.1-17.3-5 21.9z"/>
<path fill="#482374" d="M1636.8 1024.3l5.4 6.2 3-10-5.3-6.2z"/>
<path fill="#471365" d="M1712.5 1034.5l5.3 11.1 3-7.6-5.3-8.3z"/>
<path fill="#453781" d="M1640 1014.2l5.3 6.1 3.1-13.2-5.4-5.2z"/>
<path fill="#2fb47c" d="M1643.3 881.6l5.4 23.7 3.1 9-5.4-22.4z"/>
<path fill="#424086" d="M1708 992.4l5.2 19.4 2.9-1.7-5.2-18.6z"/>
<path fill="#482374" d="M1577.5 1029.8l5.3 1 3.1-10.5-5.3-.6z"/>
<path fill="#46075a" d="M1557.1 1046.5l5.3 1.7 3.3-5.9-5.3 1.3z"/>
<path fill="#481d6f" d="M1642.2 1030.5l5.4 3.5 3.1-10.9-5.4-2.6z"/>
<path fill="#5ac864" d="M1635.5 860.4l5.3 12.3 3.2 14.3-5.3-11.5z"/>
<path fill="#48186a" d="M1633.6 1032.4l5.4 5.6 3.1-7.4-5.4-6.2z"/>
<path fill="#46327e" d="M1631.4 1014.6l5.3 9.6 3-10-5.3-10.7z"/>
<path fill="#470d60" d="M1565.7 1042.3l5.3 1.2 3.2-5.9-5.3-.8z"/>
<path fill="#6ece58" d="M1607.5 877.7l5.2-21.1 3.2 6.5-5.2 20.3z"/>
<path fill="#238a8d" d="M1667.5 939.8l5.4-8.3 2.9 7.4-5.4 7.4z"/>
<path fill="#21a585" d="M1645.6 899.8l5.4 22.8 3.1 5.1-5.4-22.2z"/>
<path fill="#46327e" d="M1580.7 1019.5l5.3 .6 3-13.6-5.3 .1z"/>
<path fill="#424086" d="M1634.5 1003.3l5.4 10.8 3-12.3-5.3-11.1z"/>
<path fill="#35b779" d="M1592.7 912.2l5.1-25.7 3.1-7.2-5 26.3z"/>
<path fill="#482374" d="M1628.2 1024.4l5.4 7.9 3-8-5.3-9.6z"/>
<path fill="#471365" d="M1574.3 1037.6l5.3 1.3 3.2-8-5.3-1z"/>
<path fill="#365c8d" d="M1705.7 969.5l5.2 21.7 2.9 2.9-5.2-19.5z"/>
<path fill="#46327e" d="M1645.4 1020.3l5.4 2.6 3.1-15.2-5.4-.6z"/>
<path fill="#20928c" d="M1647.9 921.9l5.4 15.8 3.1 .6-5.4-15.4z"/>
<path fill="#77d153" d="M1630.1 856.4l5.3 4 3.2 15.1-5.4-3.9z"/>
<path fill="#471365" d="M1639.1 1038l5.4 3.6 3.1-7.5-5.4-3.5z"/>
<path fill="#1fa187" d="M1586.4 934.6l5.1-21.9 3.1-14.8-5.1 24.1z"/>
<path fill="#3e4989" d="M1643.1 1001.7l5.3 5.1 3.1-16.1-5.3-3.2z"/>
<path fill="#24868e" d="M1658.9 943.1l5.3-3.9 3 .6-5.3 3.8z"/>
<path fill="#26ad81" d="M1589.6 922l5-24.1 3.1-11.4-5 25.7z"/>
<path fill="#482374" d="M1707.1 1022.8l5.3 11.6 3-4.8-5.3-13.3z"/>
<path fill="#365c8d" d="M1581.5 993.5l5.3-3.7 3-19.5-5.3 5.6z"/>
<path fill="#3a538b" d="M1637.7 990.5l5.3 11.2 3-14.3-5.3-10.5z"/>
<path fill="#481d6f" d="M1647.7 1034l5.4 2 3.1-12.1-5.4-.8z"/>
<path fill="#48186a" d="M1625 1032.6l5.4 6.3 3.1-6.5-5.4-8z"/>
<path fill="#81d34d" d="M1616.1 862.9l5.2-13.1 3.2 11.1-5.3 12.6z"/>
<path fill="#470d60" d="M1709.4 1040l5.4 8.6 3-3-5.4-11.1z"/>
<path fill="#471365" d="M1630.5 1039l5.4 4.6 3.1-5.6-5.4-5.5z"/>
<path fill="#482374" d="M1582.9 1030.8l5.3 2 3.1-10.4-5.3-2.1z"/>
<path fill="#218e8d" d="M1681.6 931.7l5.4-3.1 2.9 13.5-5.5 2.9z"/>
<path fill="#3e4989" d="M1583.8 1006.3l5.3 0 3-17-5.3 .7z"/>
<path fill="#471365" d="M1644.5 1041.6l5.4 2.4 3.2-7.9-5.5-2z"/>
<path fill="#46075a" d="M1562.4 1048.2l5.4 1.8 3.2-6.4-5.3-1.3z"/>
<path fill="#453781" d="M1622.8 1013.9l5.3 10.4 3-9.7-5.3-12.9z"/>
<path fill="#470d60" d="M1571.1 1043.5l5.3 1.5 3.2-6.1-5.3-1.3zM1635.9 1043.6l5.4 5.7 3.2-7.7-5.5-3.6z"/>
<path fill="#46327e" d="M1586.1 1020.1l5.3 2.2 3-13.4-5.3-2.4z"/>
<path fill="#482878" d="M1619.6 1024.6l5.3 8 3.1-8.2-5.3-10.4z"/>
<path fill="#24868e" d="M1650.3 942.1l5.3 6 3-5-5.3-5.2z"/>
<path fill="#471365" d="M1579.7 1038.9l5.3 1.9 3.2-7.9-5.4-2z"/>
<path fill="#404588" d="M1625.9 1001.6l5.4 12.9 3-11.2-5.4-15.3z"/>
<path fill="#277f8e" d="M1582.4 966.7l5.1-11.1 3.1-21.2-5.2 14.2z"/>
<path fill="#297b8e" d="M1698 940l5.3 15 2.9 11.4-5.2-13.4z"/>
<path fill="#3e4989" d="M1648.5 1006.9l5.4 .6 3.1-18.8-5.4 2z"/>
<path fill="#32648e" d="M1640.8 976.7l5.3 10.6 3.1-15-5.3-9.2z"/>
<path fill="#46327e" d="M1650.8 1022.9l5.4 .8 3.1-17.1-5.4 1.2z"/>
<path fill="#34608d" d="M1646.2 987.3l5.4 3.1 3.1-17.3-5.4-.7z"/>
<path fill="#424086" d="M1704.9 997.5l5.2 18.6 3-4.3-5.2-19.4z"/>
<path fill="#481d6f" d="M1704 1030.6l5.4 9.3 3-5.4-5.3-11.7z"/>
<path fill="#482374" d="M1588.3 1032.8l5.3 2.9 3.1-9.6-5.3-3.6z"/>
<path fill="#471365" d="M1621.8 1039.6l5.4 4.8 3.2-5.4-5.4-6.3z"/>
<path fill="#481d6f" d="M1616.4 1033.6l5.4 5.9 3.1-6.9-5.4-7.9z"/>
<path fill="#38588c" d="M1629.1 987.9l5.3 15.3 3-12.7-5.3-17z"/>
<path fill="#46075a" d="M1641.3 1049.3l5.5 1.7 3.1-7-5.4-2.4z"/>
<path fill="#46327e" d="M1591.5 1022.3l5.3 3.6 3.1-12.4-5.4-4.6z"/>
<path fill="#470d60" d="M1627.3 1044.5l5.4 6 3.1-6.9-5.4-4.6z"/>
<path fill="#481d6f" d="M1653.1 1036l5.4 1.6 3.2-12.9-5.5-.8z"/>
<path fill="#482878" d="M1611 1026.7l5.3 6.8 3.1-8.9-5.4-9.1z"/>
<path fill="#2c738e" d="M1644 962.9l5.3 9.2 3.1-13.6-5.4-7.5z"/>
<path fill="#470d60" d="M1650 1044l5.4 1.9 3.1-8.2-5.4-1.6z"/>
<path fill="#453781" d="M1614.1 1015.4l5.4 9.1 3-10.6-5.3-11.9z"/>
<path fill="#277f8e" d="M1647.1 950.9l5.4 7.4 3-10.1-5.3-6z"/>
<path fill="#46075a" d="M1567.8 1050l5.4 1.7 3.2-6.7-5.4-1.4z"/>
<path fill="#470d60" d="M1576.4 1045l5.4 1.8 3.2-6-5.4-1.9z"/>
<path fill="#471365" d="M1585.1 1040.8l5.3 2.4 3.2-7.4-5.4-2.9z"/>
<path fill="#3e4989" d="M1589.2 1006.3l5.3 2.4 3-16.8-5.3-2.6z"/>
<path fill="#472d7b" d="M1596.9 1026l5.3 4.6 3.1-10.8-5.3-6.3z"/>
<path fill="#1f968b" d="M1644.8 925.5l5.3 16.4 3.1-4.2-5.3-15.8z"/>
<path fill="#481d6f" d="M1593.7 1035.7l5.4 3.6 3.1-8.5-5.4-4.7z"/>
<path fill="#46075a" d="M1632.7 1050.6l5.5 1.7 3.1-3-5.4-5.7z"/>
<path fill="#482374" d="M1602.3 1030.7l5.4 5.1 3.1-9-5.4-7z"/>
<path fill="#470d60" d="M1706.3 1045.4l5.4 6.2 3.1-3-5.4-8.6z"/>
<path fill="#218e8d" d="M1687.1 928.6l5.4 2.6 2.9 13.3-5.4-2.4z"/>
<path fill="#48186a" d="M1607.8 1035.9l5.3 5 3.2-7.3-5.4-6.8z"/>
<path fill="#46327e" d="M1605.5 1019.7l5.4 6.9 3-11.1-5.4-9.4z"/>
<path fill="#24868e" d="M1655.7 948.1l5.3-3.3 3.2-5.6-5.3 4z"/>
<path fill="#31688e" d="M1632.2 973.4l5.4 17 3-13.7-5.4-17.9z"/>
<path fill="#3e4989" d="M1617.3 1001.9l5.3 11.9 3.1-12.2-5.4-15.1z"/>
<path fill="#238a8d" d="M1692.6 931.2l5.3 8.8 2.9 12.8-5.3-8.3z"/>
<path fill="#2c738e" d="M1649.4 972.2l5.4 .6 3.1-15.9-5.4 1.7z"/>
<path fill="#471365" d="M1613.2 1040.9l5.4 4.5 3.1-5.8-5.4-6z"/>
<path fill="#443b84" d="M1701.8 1006.3l5.2 16.3 3.1-6.5-5.2-18.6z"/>
<path fill="#471365" d="M1700.9 1038.5l5.4 6.8 3-5.4-5.3-9.3z"/>
<path fill="#2c738e" d="M1584.6 975.7l5.2-5.6 3-22-5.2 7.7z"/>
<path fill="#32648e" d="M1586.8 989.8l5.3-.8 3.1-20.3-5.4 1.6z"/>
<path fill="#404588" d="M1594.6 1008.7l5.3 4.6 3.1-15.5-5.4-5.9z"/>
<path fill="#443b84" d="M1600 1013.4l5.4 6.2 3-13.5-5.3-8.2z"/>
<path fill="#470d60" d="M1618.6 1045.4l5.5 6.4 3.1-7.3-5.4-4.9z"/>
<path fill="#48186a" d="M1599.1 1039.3l5.4 3.9 3.2-7.3-5.4-5.1z"/>
<path fill="#46075a" d="M1646.8 1051l5.5 1.7 3.1-6.7-5.5-1.9z"/>
<path fill="#453781" d="M1656.3 1023.7l5.4 .8 3.1-18.2-5.4 .3z"/>
<path fill="#471365" d="M1590.5 1043.2l5.4 2.8 3.1-6.6-5.4-3.6z"/>
<path fill="#481d6f" d="M1658.6 1037.6l5.4 2 3.2-12.7-5.5-2.2z"/>
<path fill="#65cb5e" d="M1637.8 861.7l5.4 19.7 3.1 10.3-5.3-18.9z"/>
<path fill="#277f8e" d="M1652.5 958.4l5.4-1.7 3.1-11.7-5.3 3.3z"/>
<path fill="#470d60" d="M1655.4 1046l5.5 1.9 3.1-8.2-5.4-2z"/>
<path fill="#34608d" d="M1702.7 969.6l5.2 22.5 3-.9-5.2-21.7z"/>
<path fill="#404588" d="M1608.6 1005.9l5.4 9.4 3-13.4-5.3-12.1z"/>
<path fill="#32648e" d="M1651.7 990.4l5.4-1.9 3.1-20.1-5.4 4.7z"/>
<path fill="#46075a" d="M1624.1 1051.8l5.4 1.7 3.2-2.9-5.5-6.1z"/>
<path fill="#1f968b" d="M1673 931.4l5.4-7 2.9 7.2-5.4 7.1z"/>
<path fill="#470d60" d="M1581.8 1046.8l5.4 2.1 3.2-5.7-5.4-2.4z"/>
<path fill="#2a778e" d="M1635.3 958.7l5.4 17.9 3-13.7-5.3-17.9z"/>
<path fill="#3d4e8a" d="M1654 1007.5l5.4-1.1 3.2-21.2-5.5 3.5z"/>
<path fill="#46327e" d="M1698.7 1017.3l5.2 13.1 3.1-7.7-5.3-16.4z"/>
<path fill="#26ad81" d="M1642.4 898.4l5.4 23.3 3.1 .9-5.3-22.8z"/>
<path fill="#471365" d="M1604.5 1043.2l5.5 3.7 3.1-5.9-5.4-5z"/>
<path fill="#46075a" d="M1573.2 1051.7l5.4 1.7 3.2-6.5-5.4-1.8z"/>
<path fill="#81d34d" d="M1604.2 876.2l5.2-21.5 3.2 1.9-5.1 21.1z"/>
<path fill="#1f968b" d="M1585.4 948.3l5.1-14.1 3.1-21-5.1 16.8z"/>
<path fill="#20928c" d="M1664.3 939l5.5-8.2 3 .7-5.4 8.2z"/>
<path fill="#365c8d" d="M1620.4 986.4l5.4 15.1 3-13.6-5.4-18.2z"/>
<path fill="#218e8d" d="M1641.6 933.5l5.4 17.3 3.1-8.8-5.4-16.5z"/>
<path fill="#2a778e" d="M1700.5 948.6l5.2 20.6 2.9 5.1-5.2-19.1z"/>
<path fill="#482374" d="M1695.5 1028.7l5.3 9.7 3.1-7.9-5.3-13.2z"/>
<path fill="#470d60" d="M1610 1046.9l5.4 6.2 3.2-7.7-5.4-4.4z"/>
<path fill="#24868e" d="M1638.5 945l5.3 17.9 3.1-12.1-5.3-17.3z"/>
<path fill="#470d60" d="M1697.7 1045.6l5.5 7.2 3.1-7.4-5.5-6.9zM1595.9 1046l5.4 3 3.2-5.8-5.4-3.8z"/>
<path fill="#46075a" d="M1703.2 1052.9l5.5 1.7 3-3-5.4-6.2z"/>
<path fill="#481d6f" d="M1664.1 1039.7l5.4 2.8 3.1-11.7-5.4-3.9z"/>
<path fill="#470d60" d="M1660.9 1047.9l5.5 5.3 3.1-10.6-5.5-2.9z"/>
<path fill="#4ac16d" d="M1640.1 875.2l5.4 24.4 3.2 5.7-5.4-23.7z"/>
<path fill="#46075a" d="M1652.3 1052.7l5.4 1.8 3.2-6.5-5.5-2z"/>
<path fill="#470d60" d="M1587.2 1049l5.5 4.9 3.1-7.9-5.4-2.7z"/>
<path fill="#48186a" d="M1692.3 1038.9l5.4 6.6 3.1-7-5.4-9.7z"/>
<path fill="#46075a" d="M1615.4 1053.1l5.5 1.7 3.2-3-5.5-6.4z"/>
<path fill="#3a538b" d="M1603.1 997.6l5.4 8.3 3-16.2-5.4-10.6z"/>
<path fill="#32648e" d="M1592.2 989l5.4 2.7 3-20-5.4-3z"/>
<path fill="#453781" d="M1661.8 1024.5l5.4 2.2 3.1-18.1-5.4-2.3z"/>
<path fill="#aadc32" d="M1621.4 849.7l5.3-4.6 3.2 11.1-5.3 4.6z"/>
<path fill="#470d60" d="M1601.3 1049l5.5 5.3 3.1-7.3-5.4-3.8z"/>
<path fill="#365c8d" d="M1611.8 989.6l5.3 12.1 3.1-15.3-5.4-15.2z"/>
<path fill="#46075a" d="M1578.6 1053.4l5.4 1.7 3.2-6.1-5.4-2.1z"/>
<path fill="#34608d" d="M1597.7 991.7l5.3 5.9 3.1-18.5-5.4-7.4z"/>
<path fill="#48186a" d="M1669.6 1042.5l5.4 3.5 3.1-9.9-5.4-5.3z"/>
<path fill="#2d708e" d="M1623.5 969.6l5.4 18.2 3.1-14.5-5.4-20.8z"/>
<path fill="#470d60" d="M1689.2 1047l5.4 7.1 3.1-8.5-5.4-6.6zM1666.4 1053.2l5.5 1.7 3.1-8.8-5.5-3.5z"/>
<path fill="#471365" d="M1675 1046l5.5 7.6 3.1-11.8-5.4-5.7z"/>
<path fill="#482878" d="M1686.9 1030.6l5.3 8.2 3.1-10.1-5.3-12z"/>
<path fill="#48186a" d="M1683.7 1041.7l5.4 5.3 3.1-8.1-5.4-8.2z"/>
<path fill="#46075a" d="M1694.6 1054.1l5.5 1.8 3.1-3-5.5-7.3zM1592.7 1053.9l5.4 1.7 3.2-6.6-5.4-2.9zM1606.8 1054.3l5.4 1.8 3.2-3-5.4-6.1z"/>
<path fill="#2a778e" d="M1654.8 972.8l5.5-4.7 3.1-18-5.4 6.9z"/>
<path fill="#46075a" d="M1657.8 1054.5l5.4 1.7 3.1-3-5.4-5.2z"/>
<path fill="#46327e" d="M1667.3 1026.7l5.4 4 3.1-16.6-5.4-5.5z"/>
<path fill="#482374" d="M1678.2 1036l5.4 5.7 3.1-11-5.3-8.8z"/>
<path fill="#470d60" d="M1680.5 1053.7l5.5 1.7 3.1-8.3-5.5-5.3z"/>
<path fill="#34608d" d="M1699.6 975.5l5.2 21.7 3.1-5.1-5.2-22.5z"/>
<path fill="#472d7b" d="M1672.8 1030.7l5.3 5.2 3.2-14-5.4-7.8z"/>
<path fill="#3a538b" d="M1659.5 1006.4l5.4-.3 3.2-22.5-5.5 1.6z"/>
<path fill="#443b84" d="M1690.1 1016.6l5.3 12 3-11.4-5.2-16z"/>
<path fill="#46075a" d="M1584 1055.2l5.4 1.7 3.3-3-5.5-4.9z"/>
<path fill="#277f8e" d="M1589.9 970.1l5.3-1.7 3-22.8-5.3 2.5z"/>
<path fill="#46075a" d="M1671.9 1054.9l5.5 1.8 3.1-3-5.5-7.6z"/>
<path fill="#aadc32" d="M1612.8 856.4l5.2-13.1 3.2 6.5-5.2 13z"/>
<path fill="#218e8d" d="M1587.6 955.6l5.2-7.7 3.1-23.2-5.3 9.7z"/>
<path fill="#26ad81" d="M1588.5 929.8l5-16.8 3.2-19.3-5.1 18.9z"/>
<path fill="#95d840" d="M1632.3 849.1l5.3 12.4 3.3 11-5.3-12.1z"/>
<path fill="#20928c" d="M1661.2 944.8l5.4-7.7 3.1-6.3-5.4 8.2z"/>
<path fill="#46075a" d="M1686 1055.4l5.5 1.7 3.1-3-5.5-7z"/>
<path fill="#26ad81" d="M1639.3 901.6l5.4 23.7 3.1-3.6-5.4-23.3z"/>
<path fill="#46075a" d="M1598.1 1055.6l5.4 1.7 3.3-2.9-5.5-5.4z"/>
<path fill="#2f6c8e" d="M1657.1 988.5l5.5-3.5 3.2-22.2-5.5 5.6z"/>
<path fill="#3e4989" d="M1693.3 1001.1l5.3 16 3-11-5.2-19.5z"/>
<path fill="#26828e" d="M1626.7 952.4l5.4 20.8 3-14.7-5.4-22.6z"/>
<path fill="#453781" d="M1681.4 1021.8l5.4 8.8 3.1-13.9-5.3-12.6z"/>
<path fill="#8bd646" d="M1601 879l5.2-21.4 3.2-2.9-5.2 21.5z"/>
<path fill="#238a8d" d="M1658 956.7l5.4-6.8 3.2-12.8-5.4 7.9z"/>
<path fill="#b5de2b" d="M1626.8 845.1l5.4 4 3.2 11.1-5.4-4z"/>
<path fill="#365c8d" d="M1696.5 986.6l5.2 19.4 3.1-8.7-5.2-21.8z"/>
<path fill="#1f9e89" d="M1678.6 924.3l5.4-2.3 2.9 6.5-5.4 3z"/>
<path fill="#2f6c8e" d="M1606.2 978.9l5.4 10.6 3-18.4-5.4-13.2z"/>
<path fill="#2c738e" d="M1614.9 971l5.4 15.3 3-16.7-5.4-18.4z"/>
<path fill="#218e8d" d="M1695.1 933l5.3 15.3 2.9 6.7-5.3-15z"/>
<path fill="#38588c" d="M1665 1006.1l5.4 2.3 3.2-22.4-5.5-2.4z"/>
<path fill="#404588" d="M1676 1013.9l5.3 7.8 3.2-17.7-5.4-10.8z"/>
<path fill="#277f8e" d="M1595.3 968.5l5.3 3 3.1-22.5-5.4-3.4z"/>
<path fill="#20928c" d="M1629.8 935.8l5.4 22.7 3.1-13.7-5.4-23.7z"/>
<path fill="#1f9e89" d="M1669.9 930.6l5.4-6.7 3.1 .4-5.5 7z"/>
<path fill="#42be71" d="M1591.5 912.5l5.1-18.8 3.2-16.4-5.1 20.3z"/>
<path fill="#2a778e" d="M1600.7 971.5l5.4 7.3 3-20.9-5.4-8.9z"/>
<path fill="#277f8e" d="M1697.4 948.3l5.3 21.1 3-.2-5.3-20.6z"/>
<path fill="#23a983" d="M1636.1 909.4l5.4 23.9 3.1-8-5.4-23.7z"/>
<path fill="#3a538b" d="M1670.5 1008.4l5.4 5.4 3.2-20.7-5.5-7z"/>
<path fill="#81d34d" d="M1597.8 886.3l5.2-21.2 3.2-7.5-5.2 21.4z"/>
<path fill="#3d4e8a" d="M1684.7 1003.9l5.3 12.6 3.1-15.4-5.3-16.4z"/>
<path fill="#1fa187" d="M1632.9 921.1l5.5 23.7 3.1-11.5-5.5-23.9zM1684.1 921.9l5.4 2.7 3 6.3-5.4-2.5z"/>
<path fill="#65cb5e" d="M1594.7 897.6l5.1-20.3 3.2-12.2-5.2 21.2z"/>
<path fill="#5ac864" d="M1636.9 873.4l5.5 24.7 3.1 1.5-5.4-24.4z"/>
<path fill="#1f9e89" d="M1689.6 924.6l5.3 8.2 3 7-5.3-8.7z"/>
<path fill="#8bd646" d="M1634.6 855l5.4 20 3.2 6.4-5.4-19.7z"/>
<path fill="#24868e" d="M1618 951.1l5.4 18.4 3-17.2-5.4-21.1z"/>
<path fill="#26828e" d="M1660.3 968.1l5.5-5.6 3.2-19.1-5.5 6.7z"/>
<path fill="#2c738e" d="M1662.6 985l5.5-1.7 3.2-23.2-5.5 2.7z"/>
<path fill="#23a983" d="M1590.6 934.2l5.3-9.7 3-22.8-5.2 11.5z"/>
<path fill="#1f9a8a" d="M1592.9 947.9l5.3-2.6 3-24-5.3 3.4z"/>
<path fill="#24868e" d="M1609.3 957.7l5.4 13.2 3.1-19.7-5.5-15.7z"/>
<path fill="#32648e" d="M1688 984.6l5.2 16.3 3.1-14.5-5.2-19.1z"/>
<path fill="#1f9e89" d="M1666.7 936.9l5.4-6.8 3.2-6.2-5.4 6.7z"/>
<path fill="#277f8e" d="M1694.3 954.6l5.3 20.7 3-5.9-5.2-21.1z"/>
<path fill="#32648e" d="M1679.2 992.9l5.4 10.9 3.1-19.1-5.3-13.6z"/>
<path fill="#cae11f" d="M1609.5 854.5l5.3-12.9 3.2 1.7-5.3 13.1z"/>
<path fill="#d5e21a" d="M1618.2 843.2l5.3-4.2 3.1 6-5.3 4.5z"/>
<path fill="#1f968b" d="M1663.5 949.9l5.5-6.8 3.2-13-5.5 7z"/>
<path fill="#2a778e" d="M1691.2 967.2l5.2 19.1 3.1-11-5.2-20.7z"/>
<path fill="#23a983" d="M1675.5 923.8l5.3-1.6 3.1-.3-5.3 2.3z"/>
<path fill="#2c738e" d="M1668.2 983.4l5.4 2.4 3.2-23.1-5.4-2.6z"/>
<path fill="#1f9e89" d="M1621.1 931.1l5.4 21.1 3.1-16.5-5.5-23.2z"/>
<path fill="#1f968b" d="M1603.8 948.7l5.4 9 3-22.2-5.4-10.5z"/>
<path fill="#1f9e89" d="M1598.3 945.4l5.4 3.3 3-23.7-5.4-3.7z"/>
<path fill="#1f968b" d="M1692 932.8l5.4 15.2 3 .3-5.3-15.3z"/>
<path fill="#2d708e" d="M1673.7 985.8l5.4 7.1 3.2-21.8-5.4-8.4z"/>
<path fill="#65cb5e" d="M1633.7 876.4l5.5 25 3.1-3.3-5.4-24.7z"/>
<path fill="#c0df25" d="M1629.1 842.7l5.4 12 3.2 6.7-5.4-12.3z"/>
<path fill="#238a8d" d="M1665.9 962.5l5.5-2.6 3.2-19.5-5.5 3z"/>
<path fill="#4ac16d" d="M1593.7 913l5.2-11.5 3.1-20.5-5.3 12.7z"/>
<path fill="#dfe318" d="M1623.6 838.9l5.3 3.8 3.3 6.2-5.4-4z"/>
<path fill="#1fa187" d="M1612.4 935.3l5.5 15.7 3-19.9-5.5-17.8z"/>
<path fill="#23a983" d="M1681.1 922.2l5.3 2.5 3-.3-5.3-2.4z"/>
<path fill="#2ab07f" d="M1624.2 912.5l5.5 23.1 3.1-14.7-5.5-24.4z"/>
<path fill="#297b8e" d="M1682.5 970.9l5.3 13.6 3.1-17.3-5.2-15.1z"/>
<path fill="#21a585" d="M1686.6 924.9l5.3 7.6 3 .3-5.3-8.2z"/>
<path fill="#5ac864" d="M1630.5 884.2l5.5 24.9 3.2-7.7-5.5-25z"/>
<path fill="#35b779" d="M1595.9 924.5l5.4-3.4 3-23.5-5.4 4.1z"/>
<path fill="#a0da39" d="M1631.4 853.1l5.5 20 3.1 1.9-5.4-20z"/>
<path fill="#23a983" d="M1672.3 929.9l5.4-2.3 3.1-5.4-5.4 1.7z"/>
<path fill="#cae11f" d="M1606.3 857.3l5.2-12.9 3.2-2.8-5.2 12.9z"/>
<path fill="#42be71" d="M1627.4 896.4l5.5 24.5 3.1-11.7-5.5-25z"/>
<path fill="#1f968b" d="M1688.9 939l5.3 15.4 3.1-6.3-5.3-15.3z"/>
<path fill="#1f9e89" d="M1669.1 943.1l5.5-2.9 3.1-12.4-5.4 2.4z"/>
<path fill="#218e8d" d="M1671.4 959.9l5.5 2.5 3.2-19.3-5.5-2.6z"/>
<path fill="#238a8d" d="M1685.8 952l5.3 15 3-12.5-5.2-15.5z"/>
<path fill="#24868e" d="M1677 962.5l5.4 8.4 3.2-18.9-5.4-8.9z"/>
<path fill="#81d34d" d="M1596.7 893.4l5.3-12.7 3.1-16.7-5.2 13.3z"/>
<path fill="#eae51a" d="M1614.9 841.4l5.3-3.5 3.2 1-5.3 4.1z"/>
<path fill="#2ab07f" d="M1606.8 924.8l5.5 10.4 3-22-5.4-11.6z"/>
<path fill="#cae11f" d="M1603 864.9l5.3-13.2 3.2-7.3-5.3 12.9z"/>
<path fill="#23a983" d="M1677.9 927.6l5.4 2.6 3.1-5.3-5.4-2.6z"/>
<path fill="#35b779" d="M1601.3 921.1l5.5 3.7 3-23.2-5.4-4zM1615.5 913.1l5.5 17.8 3-18.5-5.5-19.4z"/>
<path fill="#21a585" d="M1683.5 930.4l5.3 8.4 3.1-6.2-5.4-7.6z"/>
<path fill="#aadc32" d="M1599.9 877.1l5.1-13.2 3.3-12.2-5.2 13.2z"/>
<path fill="#1fa187" d="M1674.7 940.2l5.4 2.6 3.2-12.3-5.5-2.7z"/>
<path fill="#1f9a8a" d="M1680.3 942.9l5.3 8.9 3.1-12.9-5.3-8.4z"/>
<path fill="#dfe318" d="M1625.8 841.3l5.5 11.5 3.2 1.9-5.5-12z"/>
<path fill="#aadc32" d="M1628.2 856l5.5 20.1 3.1-3-5.5-20z"/>
<path fill="#6ece58" d="M1599 901.5l5.3-4.1 3.1-21-5.4 4.6z"/>
<path fill="#f4e61e" d="M1620.4 837.8l5.3 3.3 3.2 1.4-5.3-3.6z"/>
<path fill="#5ac864" d="M1618.7 892.9l5.4 19.3 3.1-15.9-5.5-20.2z"/>
<path fill="#f4e61e" d="M1611.7 844.2l5.2-3.6 3.3-2.8-5.3 3.6z"/>
<path fill="#5ac864" d="M1609.9 901.3l5.5 11.7 3-20.1-5.4-12.4z"/>
<path fill="#a0da39" d="M1625 863.6l5.5 20.3 3.1-7.7-5.5-20.2z"/>
<path fill="#8bd646" d="M1621.8 876.1l5.5 20.1 3.1-12.2-5.5-20.4z"/>
<path fill="#6ece58" d="M1604.4 897.4l5.4 3.9 3.1-20.8-5.4-4.1z"/>
<path fill="#aadc32" d="M1602.1 880.7l5.3-4.6 3.2-16.8-5.4 4.7z"/>
<path fill="#dfe318" d="M1622.6 844.1l5.5 11.6 3.1-2.8-5.4-11.6z"/>
<path fill="#eae51a" d="M1608.4 851.5l5.3-4.3 3.2-6.6-5.3 3.8z"/>
<path fill="#fde725" d="M1617.2 840.5l5.3 3.4 3.1-2.7-5.3-3.3z"/>
<path fill="#d5e21a" d="M1605.2 863.8l5.4-4.7 3.1-11.7-5.3 4.3z"/>
<path fill="#95d840" d="M1613.1 880.3l5.4 12.4 3.1-16.7-5.5-12.6z"/>
<path fill="#aadc32" d="M1607.5 876.2l5.5 4 3.1-16.8-5.5-4.1z"/>
<path fill="#dfe318" d="M1619.4 851.2l5.5 12.2 3.1-7.6-5.4-11.7z"/>
<path fill="#c0df25" d="M1616.3 863.3l5.4 12.6 3.1-12.4-5.5-12.3z"/>
<path fill="#f4e61e" d="M1613.9 847.2l5.4 3.8 3.1-7-5.4-3.3z"/>
<path fill="#d5e21a" d="M1610.7 859.1l5.4 4 3.1-11.9-5.4-3.8z"/>
</g>
<clipPath id="bc3"><path clip-rule="evenodd" d="M2016.7 1039.5 2285.6 1127.3 2428.4 980.7 2174.8 907ZM2140 1007.5 2134.7 1005.9 2138 1003.1 2132.7 1001.4 2127.6 999.8 2130.8 997 2125.6 995.4 2128.8 992.6 2123.7 991 2126.9 988.3 2121.7 986.7 2124.9 983.9 2128.1 981.2 2131.3 978.4 2134.5 975.7 2139.6 977.3 2142.8 974.6 2147.9 976.1 2151 973.4 2156.2 975 2159.3 972.3 2164.4 973.8 2169.6 975.4 2172.7 972.7 2177.8 974.3 2183 975.8 2186.1 973.1 2191.2 974.7 2196.4 976.2 2201.6 977.8 2204.7 975.1 2209.9 976.7 2215.1 978.2 2220.3 979.8 2225.5 981.4 2230.7 983 2236 984.6 2241.2 986.2 2246.5 987.7 2251.8 989.3 2254.8 986.6 2260.1 988.2 2265.3 989.8 2270.7 991.4 2273.6 988.6 2278.9 990.2 2284.2 991.8 2287.2 989 2292.5 990.6 2297.8 992.2 2303.2 993.8 2308.5 995.4 2305.6 998.2 2311 999.8 2316.4 1001.5 2313.5 1004.3 2318.9 1005.9 2324.3 1007.5 2321.4 1010.4 2326.8 1012 2323.9 1014.9 2321 1017.7 2326.5 1019.4 2323.5 1022.3 2329 1023.9 2326.1 1026.8 2323.2 1029.7 2320.2 1032.6 2317.3 1035.6 2322.8 1037.3 2319.8 1040.2 2316.8 1043.1 2311.3 1041.4 2308.3 1044.4 2305.3 1047.4 2302.3 1050.3 2299.3 1053.3 2293.8 1051.6 2290.7 1054.6 2285.2 1052.9 2282.1 1055.9 2279.1 1058.9 2273.5 1057.1 2268 1055.4 2264.9 1058.4 2259.4 1056.7 2256.3 1059.7 2250.7 1057.9 2245.2 1056.2 2239.7 1054.5 2236.6 1057.5 2231.1 1055.7 2225.6 1054 2220.2 1052.3 2223.3 1049.3 2217.9 1047.6 2212.4 1045.9 2215.6 1042.9 2210.2 1041.2 2204.8 1039.5 2199.4 1037.8 2202.5 1034.9 2197.2 1033.2 2191.8 1031.5 2186.4 1029.8 2181.1 1028.1 2175.8 1026.5 2170.4 1024.8 2165.1 1023.1 2159.8 1021.5 2154.5 1019.8 2157.8 1016.9 2152.5 1015.3 2147.2 1013.6 2142 1012 2145.2 1009.1Z"/></clipPath>
<path fill="#440154" fill-opacity="0.9" fill-rule="evenodd" d="M2016.7 1039.5 2285.6 1127.3 2428.4 980.7 2174.8 907ZM2140 1007.5 2134.7 1005.9 2138 1003.1 2132.7 1001.4 2127.6 999.8 2130.8 997 2125.6 995.4 2128.8 992.6 2123.7 991 2126.9 988.3 2121.7 986.7 2124.9 983.9 2128.1 981.2 2131.3 978.4 2134.5 975.7 2139.6 977.3 2142.8 974.6 2147.9 976.1 2151 973.4 2156.2 975 2159.3 972.3 2164.4 973.8 2169.6 975.4 2172.7 972.7 2177.8 974.3 2183 975.8 2186.1 973.1 2191.2 974.7 2196.4 976.2 2201.6 977.8 2204.7 975.1 2209.9 976.7 2215.1 978.2 2220.3 979.8 2225.5 981.4 2230.7 983 2236 984.6 2241.2 986.2 2246.5 987.7 2251.8 989.3 2254.8 986.6 2260.1 988.2 2265.3 989.8 2270.7 991.4 2273.6 988.6 2278.9 990.2 2284.2 991.8 2287.2 989 2292.5 990.6 2297.8 992.2 2303.2 993.8 2308.5 995.4 2305.6 998.2 2311 999.8 2316.4 1001.5 2313.5 1004.3 2318.9 1005.9 2324.3 1007.5 2321.4 1010.4 2326.8 1012 2323.9 1014.9 2321 1017.7 2326.5 1019.4 2323.5 1022.3 2329 1023.9 2326.1 1026.8 2323.2 1029.7 2320.2 1032.6 2317.3 1035.6 2322.8 1037.3 2319.8 1040.2 2316.8 1043.1 2311.3 1041.4 2308.3 1044.4 2305.3 1047.4 2302.3 1050.3 2299.3 1053.3 2293.8 1051.6 2290.7 1054.6 2285.2 1052.9 2282.1 1055.9 2279.1 1058.9 2273.5 1057.1 2268 1055.4 2264.9 1058.4 2259.4 1056.7 2256.3 1059.7 2250.7 1057.9 2245.2 1056.2 2239.7 1054.5 2236.6 1057.5 2231.1 1055.7 2225.6 1054 2220.2 1052.3 2223.3 1049.3 2217.9 1047.6 2212.4 1045.9 2215.6 1042.9 2210.2 1041.2 2204.8 1039.5 2199.4 1037.8 2202.5 1034.9 2197.2 1033.2 2191.8 1031.5 2186.4 1029.8 2181.1 1028.1 2175.8 1026.5 2170.4 1024.8 2165.1 1023.1 2159.8 1021.5 2154.5 1019.8 2157.8 1016.9 2152.5 1015.3 2147.2 1013.6 2142 1012 2145.2 1009.1Z"/>
<g fill-opacity="0.9">
<path clip-path="url(#bc3)" stroke="#fff" stroke-opacity="0.25" stroke-width="0.75" fill="none" d="M2016.7 1039.5L2174.8 907M2016.7 1039.5L2285.6 1127.3M2021.9 1041.2L2179.7 908.4M2020.2 1036.5L2288.8 1124M2027.2 1042.9L2184.7 909.8M2023.7 1033.6L2292 1120.8M2032.4 1044.6L2189.6 911.3M2027.2 1030.7L2295.1 1117.5M2037.6 1046.3L2194.6 912.7M2030.7 1027.8L2298.3 1114.3M2042.9 1048L2199.6 914.2M2034.1 1024.9L2301.4 1111.1M2048.2 1049.7L2204.6 915.6M2037.6 1022L2304.5 1107.9M2053.4 1051.5L2209.6 917.1M2041 1019.1L2307.6 1104.7M2058.7 1053.2L2214.6 918.5M2044.4 1016.2L2310.7 1101.5M2064 1054.9L2219.6 920M2047.8 1013.4L2313.8 1098.3M2069.3 1056.6L2224.6 921.4M2051.2 1010.5L2316.9 1095.2M2074.7 1058.4L2229.6 922.9M2054.6 1007.7L2320 1092M2080 1060.1L2234.7 924.4M2058 1004.9L2323 1088.9M2085.3 1061.9L2239.7 925.8M2061.4 1002.1L2326.1 1085.8M2090.7 1063.6L2244.8 927.3M2064.7 999.3L2329.1 1082.7M2096.1 1065.4L2249.9 928.8M2068 996.5L2332.1 1079.6M2101.4 1067.1L2255 930.3M2071.4 993.7L2335.1 1076.5M2106.8 1068.9L2260 931.7M2074.7 990.9L2338.1 1073.4M2112.2 1070.7L2265.1 933.2M2078 988.1L2341.1 1070.3M2117.6 1072.4L2270.3 934.7M2081.3 985.4L2344.1 1067.3M2123.1 1074.2L2275.4 936.2M2084.5 982.6L2347 1064.2M2128.5 1076L2280.5 937.7M2087.8 979.9L2350 1061.2M2134 1077.7L2285.7 939.2M2091.1 977.2L2352.9 1058.2M2139.4 1079.5L2290.8 940.7M2094.3 974.5L2355.9 1055.2M2144.9 1081.3L2296 942.2M2097.5 971.7L2358.8 1052.2M2150.4 1083.1L2301.2 943.7M2100.7 969L2361.7 1049.2M2155.9 1084.9L2306.3 945.2M2104 966.4L2364.6 1046.2M2161.4 1086.7L2311.5 946.7M2107.2 963.7L2367.5 1043.3M2166.9 1088.5L2316.7 948.2M2110.3 961L2370.3 1040.3M2172.4 1090.3L2321.9 949.7M2113.5 958.3L2373.2 1037.4M2178 1092.1L2327.2 951.3M2116.7 955.7L2376.1 1034.4M2183.5 1093.9L2332.4 952.8M2119.8 953L2378.9 1031.5M2189.1 1095.8L2337.7 954.3M2123 950.4L2381.8 1028.6M2194.7 1097.6L2342.9 955.8M2126.1 947.8L2384.6 1025.7M2200.3 1099.4L2348.2 957.4M2129.2 945.2L2387.4 1022.8M2205.9 1101.2L2353.5 958.9M2132.3 942.6L2390.2 1019.9M2211.5 1103.1L2358.7 960.4M2135.4 940L2393 1017.1M2217.1 1104.9L2364 962M2138.5 937.4L2395.8 1014.2M2222.7 1106.7L2369.3 963.5M2141.6 934.8L2398.6 1011.4M2228.4 1108.6L2374.7 965.1M2144.7 932.2L2401.3 1008.5M2234.1 1110.4L2380 966.6M2147.7 929.7L2404.1 1005.7M2239.7 1112.3L2385.3 968.2M2150.8 927.1L2406.8 1002.9M2245.4 1114.2L2390.7 969.7M2153.8 924.6L2409.6 1000.1M2251.1 1116L2396 971.3M2156.9 922L2412.3 997.3M2256.8 1117.9L2401.4 972.8M2159.9 919.5L2415 994.5M2262.6 1119.8L2406.8 974.4M2162.9 917L2417.7 991.7M2268.3 1121.6L2412.2 976M2165.9 914.5L2420.4 988.9M2274.1 1123.5L2417.6 977.5M2168.9 912L2423.1 986.2M2279.8 1125.4L2423 979.1M2171.8 909.5L2425.8 983.4M2285.6 1127.3L2428.4 980.7M2174.8 907L2428.4 980.7"/>
<path fill="#46075a" d="M2156.2 975l5.1-1.9 3.1 .7-5.1-1.5zM2169.6 975.4l5.1-2.6 3.1 1.5-5.1-1.6zM2183 975.8l5.1-2.2 3.1 1.1-5.1-1.6zM2147.9 976.1l5.1-1.9 3.2 .8-5.2-1.6z"/>
<path fill="#470d60" d="M2161.3 973.1l5.1-.2 3.2 2.5-5.1-1.6z"/>
<path fill="#46075a" d="M2139.6 977.3l5.1-1.4 3.2 .2-5.1-1.5z"/>
<path fill="#470d60" d="M2174.7 972.8l5.1-.1 3.2 3.1-5.1-1.6z"/>
<path fill="#46075a" d="M2201.6 977.8l5.2-1.6 3 .5-5.1-1.6z"/>
<path fill="#470d60" d="M2188.2 973.6l5.1 .4 3.1 2.2-5.1-1.5z"/>
<path fill="#46075a" d="M2131.3 978.4l5.1-.6 3.2-.5-5.1-1.6z"/>
<path fill="#470d60" d="M2153 974.2l5.1-.4 3.1-.7-5 1.9zM2166.4 972.9l5.1-.7 3.2 .6-5.1 2.6zM2144.7 975.9l5.1-.3 3.2-1.4-5.1 1.9zM2193.3 974l5.2 .3 3.1 3.5-5.1-1.6z"/>
<path fill="#46075a" d="M2206.8 976.2l5.2 1 3 1-5.1-1.5z"/>
<path fill="#471365" d="M2179.9 972.7l5.1-.5 3.1 1.4-5.1 2.2z"/>
<path fill="#46075a" d="M2136.4 977.8l5.1 .1 3.2-2-5.1 1.4z"/>
<path fill="#471365" d="M2158.1 973.8l5.1-1.2 3.2 .3-5.1 .2z"/>
<path fill="#46075a" d="M2128.1 981.2l5.1-.8 3.2-2.6-5.1 .6zM2212 977.2l5.2 1 3.1 1.6-5.2-1.6z"/>
<path fill="#470d60" d="M2198.5 974.2l5.2 .3 3.1 1.6-5.2 1.7z"/>
<path fill="#471365" d="M2171.6 972.1l5.1-1.4 3.1 2-5.1 .1zM2149.8 975.6l5.1-1.2 3.2-.6-5.1 .4zM2185.1 972.2l5.1-.8 3.1 2.6-5.1-.5z"/>
<path fill="#470d60" d="M2141.5 977.9l5.1-.7 3.2-1.6-5.1 .3zM2217.3 978.2l5.2 1.2 3 2-5.2-1.6z"/>
<path fill="#48186a" d="M2163.3 972.6l5-2.2 3.2 1.7-5.1 .8z"/>
<path fill="#46075a" d="M2133.2 980.4l5.1 0 3.2-2.5-5.1-.1z"/>
<path fill="#471365" d="M2203.8 974.5l5.1 .2 3.1 2.5-5.2-1.1z"/>
<path fill="#46075a" d="M2124.9 983.9l5.1-.6 3.2-2.9-5.1 .8z"/>
<path fill="#481d6f" d="M2176.8 970.6l5-2.1 3.2 3.7-5.1 .4z"/>
<path fill="#48186a" d="M2190.3 971.3l5.1-1 3.1 3.9-5.1-.3zM2155 974.4l5-2.3 3.2 .5-5 1.2z"/>
<path fill="#470d60" d="M2222.5 979.4l5.2 1.3 3 2.3-5.2-1.6z"/>
<path fill="#471365" d="M2146.7 977.2l5-1.7 3.2-1.1-5 1.2z"/>
<path fill="#470d60" d="M2138.4 980.4l5-.9 3.2-2.3-5.1 .7z"/>
<path fill="#471365" d="M2209 974.7l5.1 .4 3.1 3.1-5.2-1.1z"/>
<path fill="#46075a" d="M2130 983.3l5.1 .1 3.2-3-5.1 0z"/>
<path fill="#482374" d="M2168.4 970.4l5.1-3.2 3.1 3.4-5 1.5z"/>
<path fill="#470d60" d="M2227.7 980.7l5.3 1.4 3 2.5-5.2-1.6z"/>
<path fill="#46075a" d="M2121.7 986.7l5.2 1.5 3.1-4.9-5.1 .6z"/>
<path fill="#481d6f" d="M2195.5 970.2l5.1-1.2 3.1 5.4-5.2-.2z"/>
<path fill="#482374" d="M2181.9 968.5l5.1-2.8 3.1 5.6-5.1 .8zM2160.1 972.1l5-3.6 3.2 1.9-5 2.1z"/>
<path fill="#48186a" d="M2214.2 975.1l5.2 .7 3 3.6-5.1-1.2z"/>
<path fill="#470d60" d="M2233 982.1l5.2 1.4 3 2.6-5.2-1.5z"/>
<path fill="#481d6f" d="M2151.8 975.4l5-3.1 3.2-.2-5 2.2z"/>
<path fill="#48186a" d="M2143.5 979.5l5-1.9 3.2-2.1-5 1.7z"/>
<path fill="#470d60" d="M2135.2 983.4l5-.7 3.2-3.1-5 .8z"/>
<path fill="#46075a" d="M2126.9 988.2l5.1-1.4 3.1-3.4-5.1-.1z"/>
<path fill="#482374" d="M2200.7 969l5.1-1.1 3.1 6.8-5.2-.3z"/>
<path fill="#46075a" d="M2251.8 989.3l5.3-1.4 2.9 .3-5.2-1.6z"/>
<path fill="#472d7b" d="M2173.6 967.1l5-4.3 3.1 5.6-5 2.1z"/>
<path fill="#48186a" d="M2219.5 975.8l5.1 .9 3.1 4-5.2-1.3z"/>
<path fill="#470d60" d="M2238.3 983.6l5.2 1.4 3 2.7-5.2-1.6z"/>
<path fill="#472d7b" d="M2187.1 965.6l5.1-3.2 3.1 7.7-5.1 1.1z"/>
<path fill="#46075a" d="M2123.7 991l5.1 1.6 3.1-5.7-5 1.4z"/>
<path fill="#46327e" d="M2165.3 968.4l5-5.1 3.1 3.8-5 3.2z"/>
<path fill="#470d60" d="M2132 986.8l5.1-.2 3.1-3.8-5 .6z"/>
<path fill="#48186a" d="M2140.3 982.7l5-1.8 3.2-3.3-5 2z"/>
<path fill="#470d60" d="M2243.6 985l5.2 1.3 3 3-5.3-1.6z"/>
<path fill="#46075a" d="M2257.1 987.9l5.3 .9 2.9 1-5.2-1.6z"/>
<path fill="#48186a" d="M2224.7 976.7l5.2 1.2 3 4.2-5.1-1.5z"/>
<path fill="#46075a" d="M2270.7 991.4l5.3-1.4 2.9 .2-5.3-1.6z"/>
<path fill="#482878" d="M2205.9 967.9l5.1-.9 3.1 8-5.1-.4z"/>
<path fill="#482374" d="M2148.6 977.5l5-3.4 3.2-1.8-5 3.1z"/>
<path fill="#472d7b" d="M2156.9 972.2l5-4.6 3.2 .8-5 3.6z"/>
<path fill="#46075a" d="M2284.2 991.8l5.4-.5 2.9-.7-5.3-1.6z"/>
<path fill="#48186a" d="M2230 977.9l5.2 1.5 3 4.1-5.2-1.5z"/>
<path fill="#470d60" d="M2262.4 988.8l5.3 .8 2.9 1.8-5.2-1.6z"/>
<path fill="#443b84" d="M2178.8 962.7l5-5.4 3.1 8.2-5 2.8z"/>
<path fill="#453781" d="M2192.3 962.3l5.1-3.5 3.1 10.1-5.1 1.2z"/>
<path fill="#470d60" d="M2248.8 986.3l5.3 1.1 3 .5-5.3 1.4z"/>
<path fill="#46075a" d="M2276 990l5.3 1 2.9 .8-5.3-1.6z"/>
<path fill="#470d60" d="M2128.8 992.6l5.1-1.9 3.2-4.1-5.1 .3z"/>
<path fill="#46075a" d="M2289.6 991.3l5.3 1.5 2.9-.6-5.3-1.6z"/>
<path fill="#472d7b" d="M2211.2 967l5.1-.4 3 9.1-5.1-.7z"/>
<path fill="#471365" d="M2137.1 986.6l5.1-1.2 3.1-4.4-5 1.8z"/>
<path fill="#482374" d="M2145.5 980.9l4.9-3.1 3.2-3.7-5 3.5z"/>
<path fill="#48186a" d="M2235.3 979.4l5.2 1.6 3 3.9-5.2-1.4z"/>
<path fill="#424086" d="M2170.4 963.1l5-6.6 3.1 6.1-5 4.4z"/>
<path fill="#470d60" d="M2267.8 989.6l5.2 .7 3-.3-5.3 1.3z"/>
<path fill="#46075a" d="M2294.9 992.8l5.4 1.7 2.9-.7-5.4-1.6zM2281.4 991.1l5.3 1.2 2.9-1-5.3 .5z"/>
<path fill="#46327e" d="M2153.8 974l4.9-5.1 3.2-1.4-5 4.7z"/>
<path fill="#470d60" d="M2254.2 987.4l5.2 .7 3 .7-5.3-.9z"/>
<path fill="#46075a" d="M2125.6 995.4l5.2 1.6 3.1-6.3-5.1 1.9z"/>
<path fill="#443b84" d="M2162.1 967.4l4.9-6.6 3.2 2.4-5 5.1z"/>
<path fill="#46327e" d="M2216.4 966.6l5.2 .3 3 9.7-5.1-1z"/>
<path fill="#471365" d="M2133.9 990.7l5.2-.4 3.1-4.9-5.1 1.2z"/>
<path fill="#424086" d="M2197.5 958.8l5.1-3.4 3.1 12.3-5.1 1.1z"/>
<path fill="#48186a" d="M2240.6 981l5.2 1.5 3 3.7-5.2-1.3z"/>
<path fill="#46075a" d="M2300.3 994.5l5.3 3.7 2.9-2.8-5.3-1.6z"/>
<path fill="#481d6f" d="M2142.3 985.4l5-2.3 3.1-5.2-5 3.1z"/>
<path fill="#3e4989" d="M2183.9 957.2l5.1-6.2 3.1 11.2-5.1 3.3z"/>
<path fill="#46075a" d="M2286.7 992.3l5.3 1.5 2.9-1-5.3-1.5z"/>
<path fill="#470d60" d="M2273.1 990.3l5.3 .8 2.9 0-5.3-1.1z"/>
<path fill="#471365" d="M2259.5 988.1l5.2 .6 3 .9-5.3-.8z"/>
<path fill="#46327e" d="M2221.7 966.9l5.2 1 3 9.9-5.2-1.3z"/>
<path fill="#470d60" d="M2130.8 997l5.1-1.8 3.1-4.8-5.1 .4z"/>
<path fill="#481d6f" d="M2245.9 982.5l5.2 1.3 3 3.5-5.2-1.1z"/>
<path fill="#46327e" d="M2150.6 977.7l4.9-4.7 3.2-4.1-4.9 5.1z"/>
<path fill="#48186a" d="M2139.1 990.3l5.1-1.2 3.1-5.9-5 2.3z"/>
<path fill="#46075a" d="M2292.1 993.8l5.3 1.8 2.9-1.1-5.3-1.7z"/>
<path fill="#470d60" d="M2278.4 991.1l5.3 1.1 2.9 .1-5.2-1.2z"/>
<path fill="#3e4989" d="M2202.7 955.4l5.2-2.9 3.1 14.3-5.2 .9z"/>
<path fill="#471365" d="M2264.8 988.7l5.3 .4 2.9 1.2-5.2-.7z"/>
<path fill="#46327e" d="M2227 967.9l5.2 1.6 3 9.8-5.2-1.5z"/>
<path fill="#3a538b" d="M2175.5 956.3l5-8.1 3.2 8.9-5 5.4z"/>
<path fill="#424086" d="M2158.9 968.7l4.9-7.1 3.2-.8-5 6.5z"/>
<path fill="#481d6f" d="M2251.2 983.8l5.2 .9 3 3.4-5.2-.8z"/>
<path fill="#46075a" d="M2127.6 999.8l5.1 1.6 3.2-6.2-5.1 1.8zM2297.4 995.6l5.3 2.1 2.9 .5-5.3-3.6z"/>
<path fill="#472d7b" d="M2147.4 983.1l5-3.7 3.1-6.3-4.9 4.8z"/>
<path fill="#3d4e8a" d="M2167.2 960.7l4.9-8.5 3.2 4.2-5 6.6z"/>
<path fill="#471365" d="M2135.9 995.2l5.2-.2 3.1-5.8-5.1 1.2zM2283.8 992.2l5.3 1.5 2.9 .1-5.3-1.5z"/>
<path fill="#38588c" d="M2189.1 951l5.1-6.6 3.1 14.2-5.1 3.5z"/>
<path fill="#46327e" d="M2232.3 969.5l5.2 2.1 3 9.3-5.2-1.6z"/>
<path fill="#48186a" d="M2270.2 989.1l5.2 .5 3 1.5-5.3-.8z"/>
<path fill="#46075a" d="M2302.8 997.7l5.3 2.2 2.9-.1-5.4-1.6z"/>
<path fill="#482374" d="M2144.3 989.1l5-2.2 3.1-7.3-5 3.6z"/>
<path fill="#3d4e8a" d="M2208 952.5l5.2-2 3.1 15.9-5.2 .4z"/>
<path fill="#481d6f" d="M2256.6 984.7l5.2 .5 2.9 3.4-5.2-.5z"/>
<path fill="#470d60" d="M2132.8 1001.4l5.2 1.6 3.1-7.9-5.2 .1z"/>
<path fill="#471365" d="M2289.2 993.8l5.3 1.9 2.9-.1-5.3-1.7z"/>
<path fill="#424086" d="M2155.7 972.9l4.9-6.5 3.2-4.8-5 7.1z"/>
<path fill="#46327e" d="M2237.6 971.5l5.2 2.2 3 8.7-5.2-1.5z"/>
<path fill="#46075a" d="M2308.1 999.9l5.4 4.4 2.9-2.8-5.4-1.6z"/>
<path fill="#48186a" d="M2141.1 995l5.1-.8 3.1-7.1-5.1 2.1zM2275.5 989.6l5.3 1 2.9 1.6-5.2-1.1z"/>
<path fill="#470d60" d="M2294.5 995.7l5.3 2.4 2.9-.4-5.3-2z"/>
<path fill="#482374" d="M2261.9 985.1l5.3 .3 2.9 3.6-5.3-.4z"/>
<path fill="#46327e" d="M2242.9 973.7l5.2 1.9 3 8.1-5.2-1.3z"/>
<path fill="#443b84" d="M2152.6 979.4l4.9-5.2 3.1-7.8-4.9 6.6z"/>
<path fill="#3a538b" d="M2213.3 950.5l5.2-.8 3.1 17-5.2-.3z"/>
<path fill="#32648e" d="M2180.7 948.1l5-9.3 3.2 12-5.1 6.2z"/>
<path fill="#470d60" d="M2138 1003l5.1-2.5 3.1-6.2-5.1 .8z"/>
<path fill="#38588c" d="M2163.9 961.4l5-9.2 3.2-.1-5 8.5z"/>
<path fill="#32648e" d="M2194.3 944.3l5.1-6.4 3.2 17.3-5.2 3.4z"/>
<path fill="#48186a" d="M2280.9 990.6l5.3 1.6 2.9 1.5-5.3-1.5z"/>
<path fill="#472d7b" d="M2149.4 986.9l5.1-3.2 3-9.3-5 5.2z"/>
<path fill="#470d60" d="M2299.9 998.1l5.3 2.7 2.9-.9-5.3-2.2z"/>
<path fill="#32648e" d="M2172.3 952l5-10.4 3.1 6.5-5 8.1z"/>
<path fill="#46327e" d="M2248.3 975.6l5.2 1.5 2.9 7.4-5.2-.9z"/>
<path fill="#482374" d="M2146.3 994.2l5.1-1.4 3.1-9-5.1 3.3zM2267.3 985.4l5.2 .5 2.9 3.7-5.2-.6z"/>
<path fill="#46075a" d="M2134.7 1005.9l5.3 1.6 3.1-7-5.1 2.6z"/>
<path fill="#470d60" d="M2305.3 1000.8l5.3 2.7 2.9 .8-5.4-4.4z"/>
<path fill="#38588c" d="M2218.6 949.7l5.2 .6 3.1 17.4-5.3-1z"/>
<path fill="#48186a" d="M2286.3 992.2l5.3 2.2 2.8 1.3-5.2-1.9z"/>
<path fill="#471365" d="M2143.1 1000.5l5.2-.1 3.1-7.5-5.1 1.4z"/>
<path fill="#46075a" d="M2310.6 1003.6l5.4 2.6 2.9-.3-5.4-1.6z"/>
<path fill="#38588c" d="M2160.8 966.2l5-8.5 3.1-5.5-5 9.2z"/>
<path fill="#46327e" d="M2253.6 977l5.3 1 2.8 7-5.2-.5z"/>
<path fill="#48186a" d="M2291.7 994.5l5.2 2.9 2.9 .7-5.3-2.4z"/>
<path fill="#482878" d="M2272.7 985.9l5.2 1 2.9 3.6-5.2-1z"/>
<path fill="#38588c" d="M2223.9 950.3l5.3 1.9 3 17.1-5.3-1.6z"/>
<path fill="#470d60" d="M2140 1007.5l5.2 1.6 3.1-8.6-5.2 0z"/>
<path fill="#2d708e" d="M2199.5 937.9l5.2-5.6 3.2 19.9-5.2 2.9z"/>
<path fill="#46075a" d="M2316 1006.2l5.4 4.2 2.9-2.9-5.4-1.6z"/>
<path fill="#3d4e8a" d="M2157.7 974.2l4.9-6.8 3.2-9.7-5 8.6z"/>
<path fill="#471365" d="M2297 997.4l5.3 3.3 2.9 .1-5.3-2.6z"/>
<path fill="#424086" d="M2154.6 983.7l5-4.5 3.1-11.6-5 6.8z"/>
<path fill="#472d7b" d="M2151.5 992.8l5.1-2.2 3-11.1-5 4.4z"/>
<path fill="#2a778e" d="M2185.8 938.7l5.1-9.9 3.2 15.4-5.1 6.6z"/>
<path fill="#38588c" d="M2229.2 952.2l5.3 2.9 3 16.2-5.3-2z"/>
<path fill="#481d6f" d="M2148.3 1000.4l5.2-.4 3.1-9.2-5.2 2.1z"/>
<path fill="#482878" d="M2278 986.9l5.3 1.8 2.9 3.4-5.3-1.6z"/>
<path fill="#453781" d="M2259 978l5.2 .6 2.9 6.7-5.2-.3z"/>
<path fill="#471365" d="M2302.4 1000.8l5.3 3.4 2.9-.7-5.3-2.7z"/>
<path fill="#2d708e" d="M2169 952l5.1-11.1 3.1 .7-5 10.3z"/>
<path fill="#470d60" d="M2145.2 1009.1l5.2-2.2 3.1-6.9-5.2 .5z"/>
<path fill="#3a538b" d="M2234.6 955.1l5.2 3.3 3 15.1-5.2-2.2z"/>
<path fill="#482878" d="M2283.4 988.7l5.2 2.8 2.9 2.9-5.2-2.3z"/>
<path fill="#470d60" d="M2307.8 1004.2l5.3 3.3 2.9-1.3-5.4-2.6z"/>
<path fill="#297b8e" d="M2177.4 941.5l5-11.7 3.2 8.9-5 9.2z"/>
<path fill="#453781" d="M2264.4 978.6l5.2 .7 2.9 6.4-5.3-.4z"/>
<path fill="#3a538b" d="M2239.9 958.4l5.3 3.3 2.9 13.7-5.2-1.9z"/>
<path fill="#2a778e" d="M2204.8 932.3l5.2-4.1 3.2 22.1-5.3 1.9z"/>
<path fill="#46075a" d="M2142 1012l5.2 1.6 3.2-6.6-5.2 2.2zM2313.1 1007.6l5.4 3 2.9-.2-5.4-4.2z"/>
<path fill="#482374" d="M2288.8 991.6l5.2 3.7 2.9 2-5.2-2.8zM2153.6 999.9l5.1-.8 3.1-11.1-5.2 2.8z"/>
<path fill="#453781" d="M2156.7 990.6l5.1-2.8 3-13.8-5.1 5.5z"/>
<path fill="#471365" d="M2150.4 1006.9l5.2 .5 3.1-8.1-5.2 .8z"/>
<path fill="#481d6f" d="M2294.2 995.3l5.2 4.3 2.9 1.1-5.3-3.3z"/>
<path fill="#46075a" d="M2318.5 1010.6l5.4 4.3 2.9-2.9-5.4-1.6z"/>
<path fill="#2d708e" d="M2165.9 957.5l5-10.3 3.1-6.3-5 11.1z"/>
<path fill="#3a538b" d="M2245.3 961.7l5.3 2.8 2.9 12.3-5.3-1.4z"/>
<path fill="#3d4e8a" d="M2159.7 979.2l5.1-5.4 3-14.4-5 8.2z"/>
<path fill="#443b84" d="M2269.8 979.3l5.2 1.4 2.9 6-5.3-1z"/>
<path fill="#48186a" d="M2299.5 999.6l5.3 4.4 2.9 .2-5.3-3.4z"/>
<path fill="#32648e" d="M2162.8 967.4l5-8.3 3.1-11.9-5 10.4z"/>
<path fill="#470d60" d="M2147.2 1013.6l5.3 1.7 3.1-7.9-5.2-.4z"/>
<path fill="#24868e" d="M2191 928.8l5.1-9.7 3.3 18.6-5.2 6.4z"/>
<path fill="#471365" d="M2304.9 1004.1l5.3 4.2 2.9-.8-5.3-3.3z"/>
<path fill="#3d4e8a" d="M2250.7 964.5l5.2 2.1 2.9 11.2-5.2-1z"/>
<path fill="#277f8e" d="M2210.1 928.2l5.2-2.1 3.2 23.4-5.3 .7z"/>
<path fill="#443b84" d="M2275.2 980.6l5.2 2.5 2.9 5.5-5.3-1.9z"/>
<path fill="#472d7b" d="M2158.8 999.1l5.1-1 3.1-13.4-5.2 3.3z"/>
<path fill="#48186a" d="M2155.7 1007.4l5.2 .3 3-9.5-5.2 1.1z"/>
<path fill="#470d60" d="M2310.3 1008.3l5.3 3.8 2.9-1.5-5.4-3zM2152.5 1015.3l5.2 1.6 3.1-9.1-5.2-.3z"/>
<path fill="#453781" d="M2280.6 983.1l5.1 3.8 2.9 4.5-5.2-2.8z"/>
<path fill="#46075a" d="M2315.6 1012.1l5.4 5.6 2.9-2.8-5.4-4.3z"/>
<path fill="#404588" d="M2161.9 987.8l5.1-3.3 3-16.7-5.1 6.3z"/>
<path fill="#3a538b" d="M2256 966.6l5.3 1.6 2.9 10.2-5.3-.6z"/>
<path fill="#24868e" d="M2174.2 940.7l5-12.6 3.2 1.6-5.1 11.7z"/>
<path fill="#46327e" d="M2285.9 986.9l5.2 4.8 2.9 3.5-5.1-3.7z"/>
<path fill="#20928c" d="M2182.6 929.6l5-12.4 3.2 11.5-5.1 9.8z"/>
<path fill="#26828e" d="M2215.4 926.1l5.3 .1 3.1 23.9-5.3-.6z"/>
<path fill="#481d6f" d="M2160.9 1007.7l5.2 .3 3.1-11-5.2 1.2z"/>
<path fill="#472d7b" d="M2291.3 991.8l5.2 5.5 2.9 2.2-5.2-4.2z"/>
<path fill="#482374" d="M2296.7 997.5l5.2 5.6 2.9 .9-5.3-4.3z"/>
<path fill="#470d60" d="M2157.8 1016.9l5.2-1.6 3.1-7.2-5.2-.3z"/>
<path fill="#32648e" d="M2164.9 973.8l5.1-6.2 3-17.6-5.1 9.4z"/>
<path fill="#453781" d="M2164 998l5.2-1.1 3-15.7-5.2 3.6z"/>
<path fill="#3a538b" d="M2261.4 968.1l5.3 1.6 2.9 9.4-5.3-.8z"/>
<path fill="#48186a" d="M2302 1003.2l5.3 5.3 2.9-.2-5.3-4.2z"/>
<path fill="#471365" d="M2307.4 1008.6l5.3 4.7 2.9-1.2-5.3-3.7z"/>
<path fill="#26828e" d="M2220.8 926.2l5.3 2.3 3 23.5-5.3-1.9z"/>
<path fill="#1f9a8a" d="M2196.2 919.1l5.2-8.5 3.2 21.5-5.2 5.6z"/>
<path fill="#24868e" d="M2171 947l5-11.6 3.2-7.4-5.1 12.6z"/>
<path fill="#46075a" d="M2154.5 1019.8l5.3 1.6 3.2-6-5.2 1.5z"/>
<path fill="#297b8e" d="M2167.9 959.1l5.1-9.4 3-14.3-5 11.8z"/>
<path fill="#470d60" d="M2312.8 1013.3l5.3 3.9 2.9 .5-5.4-5.6z"/>
<path fill="#482374" d="M2166.2 1008l5.2 .3 3-12.4-5.2 1.2z"/>
<path fill="#3a538b" d="M2266.8 969.7l5.3 2.3 2.9 8.5-5.3-1.4z"/>
<path fill="#471365" d="M2163 1015.3l5.3 1.1 3.1-8-5.3-.3z"/>
<path fill="#38588c" d="M2167.1 984.5l5.1-3.5 3-19.8-5.1 6.6z"/>
<path fill="#26828e" d="M2226.1 928.5l5.4 4 3 22.3-5.3-2.8z"/>
<path fill="#46075a" d="M2318.2 1017.2l5.3 5 2.9-2.8-5.4-1.7z"/>
<path fill="#277f8e" d="M2231.5 932.5l5.3 5.1 3 20.6-5.3-3.4z"/>
<path fill="#424086" d="M2169.3 996.9l5.2-1.2 3-17.8-5.2 3.4z"/>
<path fill="#3d4e8a" d="M2272.3 972l5.2 3.6 2.9 7.3-5.3-2.5z"/>
<path fill="#46075a" d="M2159.8 1021.4l5.3 1.7 3.2-6.6-5.3-1.1z"/>
<path fill="#2a778e" d="M2236.9 937.6l5.3 5.3 3 18.6-5.3-3.3z"/>
<path fill="#471365" d="M2168.3 1016.4l5.3 1.2 3.1-8.7-5.3-.5z"/>
<path fill="#3e4989" d="M2277.7 975.6l5.2 5.1 2.9 6-5.3-3.8z"/>
<path fill="#482878" d="M2171.5 1008.3l5.2 .5 3-13.7-5.2 .9z"/>
<path fill="#482374" d="M2299.1 1001.7l5.3 6.7 2.9 .1-5.3-5.2z"/>
<path fill="#472d7b" d="M2293.8 994.4l5.2 7.2 2.9 1.5-5.2-5.6z"/>
<path fill="#2c738e" d="M2242.3 942.9l5.3 4.9 2.9 16.4-5.3-2.8z"/>
<path fill="#404588" d="M2283.1 980.7l5.1 6.3 2.9 4.7-5.1-4.9z"/>
<path fill="#443b84" d="M2288.4 987.2l5.2 7 2.9 3.1-5.2-5.5z"/>
<path fill="#48186a" d="M2304.5 1008.5l5.3 5.7 2.9-.9-5.3-4.7z"/>
<path fill="#471365" d="M2309.9 1014.2l5.3 4.7 2.9-1.7-5.4-3.9z"/>
<path fill="#2c738e" d="M2170.1 967.6l5.1-6.6 3-21-5.1 10z"/>
<path fill="#1fa187" d="M2179.3 927.8l5.1-13.3 3.2 2.7-5.1 12.3z"/>
<path fill="#46075a" d="M2165.1 1023.1l5.3 1.7 3.2-7.2-5.3-1.1z"/>
<path fill="#23a983" d="M2187.8 917.1l5.1-12.2 3.1 14-5.1 9.6z"/>
<path fill="#21a585" d="M2201.5 910.6l5.3-6.5 3.2 23.8-5.3 4.2z"/>
<path fill="#2d708e" d="M2247.7 947.8l5.3 4 2.9 14.5-5.3-2.1z"/>
<path fill="#470d60" d="M2315.2 1018.9l5.4 3.7 2.9-.4-5.3-5z"/>
<path fill="#48186a" d="M2173.6 1017.6l5.3 1.2 3.1-9.2-5.3-.7z"/>
<path fill="#3e4989" d="M2174.5 995.8l5.3-.9 2.9-19.9-5.2 2.9z"/>
<path fill="#32648e" d="M2172.3 981l5.2-3.4 2.9-22.8-5.1 6.4z"/>
<path fill="#472d7b" d="M2176.8 1008.8l5.2 .6 3-14.6-5.2 .4z"/>
<path fill="#2d708e" d="M2253.1 951.8l5.3 3.3 2.9 12.8-5.3-1.6z"/>
<path fill="#46075a" d="M2320.7 1022.6l5.4 4.2 2.9-2.9-5.5-1.6z"/>
<path fill="#470d60" d="M2170.5 1024.8l5.3 1.6 3.1-7.5-5.3-1.3z"/>
<path fill="#20928c" d="M2173.1 949.7l5.1-9.9 3-17-5 12.5z"/>
<path fill="#48186a" d="M2178.9 1018.8l5.3 1.4 3.1-9.6-5.3-1z"/>
<path fill="#1fa187" d="M2176.1 935.1l5.1-12.3 3.2-8.3-5.1 13.3z"/>
<path fill="#2d708e" d="M2258.5 955.1l5.3 3.1 2.9 11.3-5.3-1.6z"/>
<path fill="#481d6f" d="M2301.6 1008.3l5.3 6.8 2.9-.9-5.3-5.7z"/>
<path fill="#46327e" d="M2182.1 1009.5l5.2 .9 3.1-15.2-5.3-.3z"/>
<path fill="#471365" d="M2306.9 1015.1l5.4 5.5 2.9-1.7-5.4-4.6z"/>
<path fill="#472d7b" d="M2296.2 1000.1l5.3 8 2.9 .3-5.3-6.6z"/>
<path fill="#470d60" d="M2175.8 1026.4l5.3 1.7 3.1-7.9-5.3-1.3z"/>
<path fill="#3d4e8a" d="M2179.8 994.9l5.3-.3 3-21.5-5.3 1.9z"/>
<path fill="#2ab07f" d="M2206.8 904.1l5.3-3.6 3.2 25.3-5.3 2.1z"/>
<path fill="#470d60" d="M2312.3 1020.6l5.4 4.2 2.9-2.2-5.4-3.7z"/>
<path fill="#443b84" d="M2290.9 991.1l5.2 8.8 2.9 1.7-5.2-7.1z"/>
<path fill="#2f6c8e" d="M2263.9 958.2l5.3 3.7 2.9 9.9-5.3-2.3z"/>
<path fill="#48186a" d="M2184.3 1020.2l5.3 1.4 3.1-9.7-5.3-1.3z"/>
<path fill="#46075a" d="M2317.7 1024.8l5.4 4.9 3-2.9-5.4-4.2z"/>
<path fill="#3e4989" d="M2285.5 982l5.3 8.9 2.8 3.3-5.2-7z"/>
<path fill="#2d708e" d="M2177.5 977.6l5.3-2.8 2.9-25.6-5.2 5.6z"/>
<path fill="#31688e" d="M2269.3 961.9l5.3 5.1 2.9 8.4-5.3-3.6z"/>
<path fill="#24868e" d="M2175.3 961l5.2-6.4 2.9-24.2-5.2 9.6z"/>
<path fill="#470d60" d="M2181.1 1028.1l5.3 1.7 3.2-8.1-5.4-1.5z"/>
<path fill="#46327e" d="M2187.4 1010.4l5.3 1.3 3-15.5-5.3-1z"/>
<path fill="#38588c" d="M2280.2 973.8l5.2 8 2.9 5.2-5.2-6.4z"/>
<path fill="#34608d" d="M2274.8 967l5.2 6.7 2.9 6.8-5.2-5.1z"/>
<path fill="#3bbb75" d="M2193 904.8l5.2-10.7 3.1 16.3-5.1 8.4z"/>
<path fill="#3a538b" d="M2185.1 994.6l5.3 .3 3-22.5-5.3 .7z"/>
<path fill="#48186a" d="M2189.6 1021.6l5.3 1.6 3.1-9.8-5.3-1.5z"/>
<path fill="#2fb47c" d="M2212.2 900.5l5.3-.4 3.2 25.8-5.3-.1z"/>
<path fill="#48186a" d="M2304 1016.3l5.3 6.1 3-1.8-5.4-5.4z"/>
<path fill="#3bbb75" d="M2184.5 914.3l5.1-13.1 3.2 3.7-5.1 12z"/>
<path fill="#470d60" d="M2186.5 1029.8l5.3 1.7 3.1-8.3-5.3-1.5z"/>
<path fill="#482374" d="M2298.7 1008.4l5.2 7.8 2.9-1.1-5.2-6.8z"/>
<path fill="#46327e" d="M2192.8 1011.7l5.2 1.6 3.1-15.4-5.3-1.7z"/>
<path fill="#470d60" d="M2309.4 1022.5l5.4 4.6 2.9-2.3-5.4-4.1z"/>
<path fill="#453781" d="M2293.3 998.9l5.3 9.3 2.8-.1-5.2-8z"/>
<path fill="#46075a" d="M2314.8 1027.2l5.4 5.4 2.9-2.9-5.4-4.8z"/>
<path fill="#48186a" d="M2195 1023.2l5.3 1.5 3.1-9.6-5.3-1.6z"/>
<path fill="#38588c" d="M2190.5 995l5.3 1 3-23-5.3-.6z"/>
<path fill="#2a778e" d="M2182.8 974.8l5.3-2 2.9-27.6-5.2 4z"/>
<path fill="#35b779" d="M2217.6 900.1l5.3 2.8 3.1 25.3-5.3-2.3z"/>
<path fill="#470d60" d="M2191.8 1031.5l5.4 1.7 3.1-8.5-5.4-1.5z"/>
<path fill="#46327e" d="M2198.1 1013.3l5.3 1.6 3.1-14.9-5.3-2.1z"/>
<path fill="#23a983" d="M2178.3 939.8l5.1-9.7 3.1-19.5-5.2 12.2z"/>
<path fill="#404588" d="M2288 988.4l5.2 10.3 2.9 1.2-5.2-8.8z"/>
<path fill="#2fb47c" d="M2223 902.9l5.4 5.4 3 24-5.3-4.1z"/>
<path fill="#1f9a8a" d="M2239.3 923.1l5.3 7.3 3 17.1-5.3-4.8z"/>
<path fill="#3bbb75" d="M2181.3 922.6l5.1-12.1 3.2-9.3-5.1 13z"/>
<path fill="#48186a" d="M2200.3 1024.7l5.4 1.4 3.1-9.4-5.4-1.6z"/>
<path fill="#21a585" d="M2233.8 915.4l5.4 7.7 3 19.6-5.3-5.4z"/>
<path fill="#26ad81" d="M2228.4 908.3l5.4 7.1 3 22-5.3-5.2z"/>
<path fill="#20928c" d="M2244.7 930.4l5.3 6.3 3 14.9-5.3-4.1z"/>
<path fill="#1f968b" d="M2180.5 954.6l5.2-5.6 3-27.1-5.2 8.5z"/>
<path fill="#38588c" d="M2282.6 977.6l5.2 10.6 2.9 2.7-5.2-8.8zM2195.8 996l5.3 1.6 3.1-22.7-5.4-1.9z"/>
<path fill="#481d6f" d="M2301.1 1018l5.3 6.6 2.9-2.2-5.3-6.1z"/>
<path fill="#46327e" d="M2203.5 1015l5.3 1.5 3-14.3-5.3-2.2z"/>
<path fill="#470d60" d="M2197.2 1033.2l5.3 1.6 3.2-8.7-5.4-1.3z"/>
<path fill="#471365" d="M2306.4 1024.7l5.4 4.9 3-2.4-5.4-4.7z"/>
<path fill="#218e8d" d="M2250.1 936.7l5.3 5.3 3 12.9-5.3-3.3z"/>
<path fill="#482878" d="M2295.7 1009.4l5.3 8.4 2.9-1.6-5.3-7.8z"/>
<path fill="#46075a" d="M2311.9 1029.7l5.3 5.8 3-2.9-5.4-5.4z"/>
<path fill="#238a8d" d="M2255.5 942l5.4 5 2.9 11-5.3-3.2z"/>
<path fill="#31688e" d="M2277.2 967.7l5.3 9.7 2.9 4.4-5.2-8z"/>
<path fill="#65cb5e" d="M2198.3 894l5.2-8.2 3.2 18.1-5.2 6.4z"/>
<path fill="#481d6f" d="M2205.7 1026.1l5.4 1.1 3.1-9.2-5.4-1.3z"/>
<path fill="#277f8e" d="M2188.1 972.8l5.3-.7 3-29-5.3 2.1z"/>
<path fill="#443b84" d="M2290.4 999l5.2 10.2 2.9-1-5.2-9.2z"/>
<path fill="#38588c" d="M2201.2 997.6l5.3 2.1 3.1-21.9-5.4-2.9z"/>
<path fill="#46327e" d="M2208.9 1016.5l5.3 1.3 3-13.7-5.3-1.9z"/>
<path fill="#26828e" d="M2261 947l5.3 5.4 2.9 9.3-5.3-3.7z"/>
<path fill="#2c738e" d="M2271.8 959.2l5.3 8.3 2.9 6.1-5.2-6.7z"/>
<path fill="#277f8e" d="M2266.4 952.4l5.3 6.7 2.9 7.7-5.2-5.1z"/>
<path fill="#470d60" d="M2202.6 1034.8l5.3-1.3 3.1-6.2-5.3-1.2z"/>
<path fill="#3a538b" d="M2206.6 999.7l5.3 2.2 3.1-20.7-5.4-3.4z"/>
<path fill="#3d4e8a" d="M2285 987.3l5.2 11.5 3-.1-5.3-10.3z"/>
<path fill="#481d6f" d="M2298.1 1020.4l5.3 6.9 2.9-2.7-5.3-6.6z"/>
<path fill="#6ece58" d="M2189.7 901l5.2-11.5 3.2 4.5-5.2 10.7z"/>
<path fill="#481d6f" d="M2211.1 1027.2l5.4 .8 3.1-9.1-5.4-.9z"/>
<path fill="#471365" d="M2303.5 1027.3l5.3 5.1 3-2.7-5.4-5z"/>
<path fill="#46327e" d="M2214.3 1017.9l5.3 .9 3.1-13.2-5.4-1.5z"/>
<path fill="#472d7b" d="M2292.7 1011.6l5.3 8.7 2.9-2.4-5.3-8.5z"/>
<path fill="#470d60" d="M2308.9 1032.5l5.4 3.7 2.9-.6-5.4-5.9z"/>
<path fill="#26828e" d="M2193.5 972.1l5.3 .7 3-29.6-5.4-.1z"/>
<path fill="#46075a" d="M2199.4 1037.8l5.4 1.7 3.1-6-5.3 1.4z"/>
<path fill="#3a538b" d="M2212 1001.9l5.3 2 3.1-19.4-5.4-3.3z"/>
<path fill="#470d60" d="M2208 1033.5l5.3 1 3.1-6.4-5.3-.8z"/>
<path fill="#21a585" d="M2185.8 949l5.3-4.1 2.9-29.4-5.2 6.4z"/>
<path fill="#3bbb75" d="M2183.5 930.1l5.2-8.5 3.1-21.9-5.3 10.9z"/>
<path fill="#46075a" d="M2314.3 1036.3l5.5 3.9 3-2.9-5.5-1.7z"/>
<path fill="#32648e" d="M2279.6 975.4l5.3 11.7 2.9 1.1-5.2-10.5z"/>
<path fill="#424086" d="M2287.4 1000.9l5.2 10.5 2.9-2.2-5.2-10.2z"/>
<path fill="#481d6f" d="M2216.5 1028.1l5.4 .5 3.1-9.1-5.4-.5z"/>
<path fill="#46327e" d="M2219.7 1018.8l5.3 .5 3.1-12.7-5.3-1z"/>
<path fill="#81d34d" d="M2203.6 885.8l5.3-4.8 3.2 19.3-5.3 3.6z"/>
<path fill="#3d4e8a" d="M2217.4 1003.9l5.3 1.5 3.1-18.1-5.4-2.8z"/>
<path fill="#26828e" d="M2198.9 972.8l5.3 1.9 3-29.2-5.4-2.3z"/>
<path fill="#46075a" d="M2204.8 1039.5l5.4 1.7 3.1-6.7-5.4-1z"/>
<path fill="#481d6f" d="M2295.1 1023.8l5.3 6.6 3-3.1-5.4-6.8z"/>
<path fill="#6ece58" d="M2186.5 910.3l5.2-10.6 3.2-10.2-5.2 11.5z"/>
<path fill="#471365" d="M2300.5 1030.5l5.4 5 2.9-3-5.4-5.1zM2213.4 1034.5l5.3 .9 3.2-6.7-5.4-.6z"/>
<path fill="#2c738e" d="M2274.3 964.1l5.2 11 3 2.3-5.3-9.7z"/>
<path fill="#472d7b" d="M2289.7 1015.2l5.3 8.5 2.9-3.3-5.3-8.8z"/>
<path fill="#470d60" d="M2305.9 1035.5l5.4 5.9 3-5.2-5.4-3.7z"/>
<path fill="#3a538b" d="M2282 988.8l5.2 11.8 3-1.8-5.3-11.4z"/>
<path fill="#26828e" d="M2204.2 974.7l5.4 2.9 3-28-5.3-4.1z"/>
<path fill="#3d4e8a" d="M2222.8 1005.4l5.3 .9 3.1-16.9-5.3-2.1z"/>
<path fill="#482374" d="M2221.9 1028.6l5.4 .5 3.1-9.3-5.4-.3z"/>
<path fill="#453781" d="M2225.1 1019.3l5.3 .3 3.1-12.4-5.3-.6z"/>
<path fill="#46075a" d="M2311.3 1041.4l5.5 1.7 3-2.9-5.5-3.9z"/>
<path fill="#277f8e" d="M2209.6 977.6l5.4 3.4 3.1-26.3-5.4-5.1z"/>
<path fill="#470d60" d="M2210.2 1041.2l5.4 1.7 3.1-7.5-5.4-.8z"/>
<path fill="#424086" d="M2284.3 1004.8l5.3 10.2 2.9-3.6-5.2-10.5z"/>
<path fill="#26828e" d="M2268.9 954.3l5.2 9.5 3 3.6-5.3-8.2z"/>
<path fill="#2ab07f" d="M2191.1 944.9l5.3-2.1 3-30.9-5.3 3.6z"/>
<path fill="#471365" d="M2218.8 1035.4l5.4 .7 3.1-6.9-5.4-.5z"/>
<path fill="#2a778e" d="M2215.1 981l5.3 3.3 3.1-24.2-5.4-5.4z"/>
<path fill="#95d840" d="M2209 881l5.3-.8 3.2 19.7-5.3 .4z"/>
<path fill="#23a983" d="M2247.1 925.8l5.3 7 3 9-5.3-5.4z"/>
<path fill="#218e8d" d="M2263.4 946.2l5.3 7.9 3 4.8-5.2-6.6z"/>
<path fill="#1fa187" d="M2252.5 932.8l5.3 6.5 3 7.4-5.2-4.9z"/>
<path fill="#481d6f" d="M2292 1027.9l5.4 6.2 3-3.6-5.4-6.7z"/>
<path fill="#2ab07f" d="M2241.6 917.5l5.4 8.3 3 10.6-5.3-6.3z"/>
<path fill="#1f9a8a" d="M2258 939.3l5.2 6.8 3.1 6.1-5.3-5.4z"/>
<path fill="#31688e" d="M2276.6 976.3l5.3 12.3 2.9-1.5-5.2-11.7z"/>
<path fill="#3d4e8a" d="M2228.2 1006.4l5.4 .6 3.1-16-5.4-1.6z"/>
<path fill="#471365" d="M2297.4 1034.2l5.5 4.7 2.9-3.4-5.4-5z"/>
<path fill="#aadc32" d="M2195 889.3l5.3-8.7 3.1 5.1-5.2 8.1z"/>
<path fill="#482878" d="M2286.6 1020l5.3 7.8 3-4.1-5.3-8.5z"/>
<path fill="#2c738e" d="M2220.5 984.3l5.3 2.8 3.1-22.2-5.3-4.8z"/>
<path fill="#3bbb75" d="M2236.2 908.2l5.3 9.3 3.1 12.6-5.3-7.3z"/>
<path fill="#46075a" d="M2302.9 1038.9l5.4 5.5 3-3-5.4-5.8z"/>
<path fill="#482374" d="M2227.4 1029.1l5.3 .6 3.1-9.4-5.3-.5z"/>
<path fill="#453781" d="M2230.5 1019.6l5.4 .5 3.1-12.1-5.4-.8z"/>
<path fill="#3a538b" d="M2278.9 993.1l5.3 11.5 3-3.9-5.3-11.9z"/>
<path fill="#65cb5e" d="M2188.8 921.6l5.3-6.4 3-23.7-5.3 8.2z"/>
<path fill="#470d60" d="M2215.6 1042.9l5.4-1.3 3.2-5.4-5.4-.8z"/>
<path fill="#52c569" d="M2230.7 898.6l5.4 9.6 3.1 14.6-5.4-7.7z"/>
<path fill="#443b84" d="M2281.3 1010.5l5.2 9.3 3-4.7-5.3-10.3z"/>
<path fill="#2d708e" d="M2225.9 987.1l5.4 2.1 3.1-20.2-5.4-4.1z"/>
<path fill="#95d840" d="M2214.4 880.2l5.4 3.2 3.1 19.3-5.3-2.8z"/>
<path fill="#48186a" d="M2224.2 1036.2l5.4 .8 3.1-7.2-5.4-.6z"/>
<path fill="#77d153" d="M2225.3 889.9l5.4 8.7 3.1 16.5-5.4-7.1z"/>
<path fill="#3a538b" d="M2233.7 1007l5.3 .7 3.1-15.1-5.3-1.6z"/>
<path fill="#2fb47c" d="M2196.5 942.8l5.3 .2 3-31.5-5.3 .4z"/>
<path fill="#297b8e" d="M2271.2 964.6l5.3 11.5 3-1-5.3-11z"/>
<path fill="#8bd646" d="M2219.8 883.4l5.4 6.5 3.1 18.2-5.3-5.5z"/>
<path fill="#48186a" d="M2289 1032.6l5.4 5.5 2.9-3.9-5.3-6.2z"/>
<path fill="#482374" d="M2283.6 1025.7l5.3 6.8 3-4.6-5.3-7.8z"/>
<path fill="#443b84" d="M2236 1020.1l5.3 1.1 3.1-11.8-5.3-1.4z"/>
<path fill="#2d708e" d="M2231.4 989.2l5.3 1.6 3.1-18.6-5.3-3.2z"/>
<path fill="#482878" d="M2232.8 1029.7l5.4 1 3.1-9.4-5.4-1z"/>
<path fill="#470d60" d="M2294.4 1038.2l5.4 4.2 3-3.5-5.4-4.7z"/>
<path fill="#3d4e8a" d="M2275.9 999.9l5.2 10.4 3-5.7-5.2-11.5z"/>
<path fill="#31688e" d="M2273.6 981.1l5.2 11.8 3-4.3-5.2-12.2z"/>
<path fill="#a0da39" d="M2191.8 899.5l5.2-8.2 3.2-10.8-5.2 9z"/>
<path fill="#46075a" d="M2212.4 1045.9l5.5 1.7 3.1-6-5.4 1.3z"/>
<path fill="#453781" d="M2278.2 1017.4l5.3 8.1 2.9-5.6-5.2-9.3z"/>
<path fill="#46075a" d="M2299.9 1042.4l5.4 5 3-3-5.4-5.5z"/>
<path fill="#470d60" d="M2221.1 1041.6l5.4 1.1 3.1-5.6-5.4-.9z"/>
<path fill="#48186a" d="M2229.7 1037.1l5.4 1.1 3.1-7.3-5.4-1z"/>
<path fill="#3a538b" d="M2239.1 1007.7l5.4 1.4 3.1-14.1-5.4-2.3z"/>
<path fill="#238a8d" d="M2265.8 954.3l5.3 10 3-.4-5.3-9.6z"/>
<path fill="#2fb47c" d="M2201.9 943l5.3 2.3 3.1-31-5.4-2.8z"/>
<path fill="#2f6c8e" d="M2236.8 990.8l5.4 1.6 3.1-17-5.4-3.1z"/>
<path fill="#404588" d="M2272.8 1008.4l5.2 8.9 3-6.9-5.2-10.4z"/>
<path fill="#443b84" d="M2241.4 1021.2l5.4 1.9 3.1-11.2-5.4-2.5z"/>
<path fill="#482878" d="M2238.3 1030.8l5.4 1.6 3-9.1-5.3-1.9z"/>
<path fill="#481d6f" d="M2280.5 1031.7l5.3 5.8 3-4.9-5.3-6.9z"/>
<path fill="#32648e" d="M2270.5 989.1l5.2 10.6 3-6.8-5.2-11.8z"/>
<path fill="#471365" d="M2285.9 1037.6l5.4 4.7 3-4.1-5.4-5.5z"/>
<path fill="#1f9a8a" d="M2260.4 945.6l5.3 8.4 3 .1-5.3-7.9z"/>
<path fill="#472d7b" d="M2275 1024.9l5.4 6.7 3-5.9-5.3-8.2z"/>
<path fill="#2ab07f" d="M2207.3 945.3l5.4 4 3-29.6-5.4-5.4z"/>
<path fill="#cae11f" d="M2200.4 880.4l5.2-5.1 3.2 5.6-5.3 4.7z"/>
<path fill="#297b8e" d="M2268.2 969.8l5.2 11.1 3-4.7-5.2-11.6z"/>
<path fill="#3d4e8a" d="M2244.6 1009.2l5.4 2.5 3.1-13.1-5.4-3.6z"/>
<path fill="#1f9a8a" d="M2223.6 959.8l5.4 4.9 3.1-22.9-5.4-7.3z"/>
<path fill="#1fa187" d="M2218.2 954.5l5.3 5.3 3.1-25.3-5.4-7.7z"/>
<path fill="#26ad81" d="M2212.7 949.3l5.4 5.2 3.1-27.7-5.4-7.1z"/>
<path fill="#46075a" d="M2217.9 1047.6l5.4 1.7 3.2-6.5-5.5-1.2z"/>
<path fill="#470d60" d="M2226.5 1042.8l5.4 1.3 3.1-5.8-5.4-1.2z"/>
<path fill="#81d34d" d="M2194.1 915.2l5.3-3.6 3.1-24.9-5.4 4.8z"/>
<path fill="#21a585" d="M2254.9 938.2l5.4 7.2 3 .6-5.3-6.7z"/>
<path fill="#20928c" d="M2229.1 964.7l5.3 4 3.2-20.6-5.4-6.3z"/>
<path fill="#470d60" d="M2291.4 1042.3l5.4 3.7 3-3.6-5.4-4.2z"/>
<path fill="#443b84" d="M2269.6 1017.5l5.3 7.3 3-7.4-5.3-8.9z"/>
<path fill="#48186a" d="M2235.1 1038.2l5.4 1.6 3.1-7.3-5.4-1.6z"/>
<path fill="#2f6c8e" d="M2242.3 992.4l5.3 2.3 3.2-15.6-5.4-3.7z"/>
<path fill="#26ad81" d="M2249.5 931.2l5.3 6.8 3 1.1-5.3-6.3z"/>
<path fill="#38588c" d="M2267.3 999.2l5.3 9 3-8.4-5.2-10.6z"/>
<path fill="#453781" d="M2246.9 1023.1l5.4 2.9 3-10.3-5.3-3.8z"/>
<path fill="#35b779" d="M2244 923.4l5.3 7.5 3.1 1.7-5.3-6.8z"/>
<path fill="#218e8d" d="M2234.5 968.7l5.4 3.3 3.1-18.6-5.4-5.3z"/>
<path fill="#3e4989" d="M2250.1 1011.7l5.3 3.8 3.1-11.8-5.3-5.1z"/>
<path fill="#482878" d="M2243.8 1032.4l5.3 2.4 3.1-8.6-5.4-2.9z"/>
<path fill="#3e4989" d="M2264.2 1010.1l5.3 7.3 3-9-5.3-9z"/>
<path fill="#46075a" d="M2296.8 1046.1l5.5 4.2 3-2.9-5.4-4.9z"/>
<path fill="#482374" d="M2271.9 1032.2l5.4 5.4 3-5.9-5.3-6.7z"/>
<path fill="#472d7b" d="M2266.5 1026.3l5.3 5.8 3-7.2-5.3-7.3z"/>
<path fill="#31688e" d="M2247.7 994.7l5.4 3.6 3.1-14.1-5.3-5.1z"/>
<path fill="#4ac16d" d="M2238.6 914.4l5.3 8.8 3 2.4-5.3-8.1z"/>
<path fill="#404588" d="M2255.5 1015.6l5.4 4.9 3-10.3-5.3-6.4z"/>
<path fill="#2c738e" d="M2265.1 979l5.2 9.9 3-7.9-5.2-11.2z"/>
<path fill="#443b84" d="M2261 1020.6l5.3 5.6 3.1-8.7-5.3-7.2z"/>
<path fill="#46327e" d="M2252.4 1026.1l5.3 3.8 3.1-9.2-5.3-4.9z"/>
<path fill="#48186a" d="M2277.4 1037.7l5.4 4.7 3-4.8-5.4-5.8z"/>
<path fill="#238a8d" d="M2262.7 959.9l5.3 9.7 3-5.2-5.2-10.1z"/>
<path fill="#38588c" d="M2258.7 1003.6l5.3 6.4 3.1-10.7-5.3-8.2z"/>
<path fill="#238a8d" d="M2240 972l5.4 3.1 3.1-16.7-5.4-4.9z"/>
<path fill="#34608d" d="M2253.2 998.4l5.4 5.1 3.1-12.5-5.4-6.7z"/>
<path fill="#31688e" d="M2261.9 990.9l5.3 8.2 3-10-5.3-9.9z"/>
<path fill="#471365" d="M2232 1044.1l5.4 1.6 3.1-5.8-5.4-1.6z"/>
<path fill="#48186a" d="M2240.6 1039.8l5.4 2.1 3.1-7-5.4-2.3z"/>
<path fill="#471365" d="M2282.8 1042.5l5.5 3.9 3-4.1-5.4-4.7z"/>
<path fill="#472d7b" d="M2257.9 1030l5.3 4.3 3.1-7.9-5.4-5.6z"/>
<path fill="#46075a" d="M2223.3 1049.3l5.5-.4 3.1-4.8-5.4-1.3z"/>
<path fill="#482374" d="M2249.2 1034.8l5.4 3 3.1-7.8-5.4-3.8z"/>
<path fill="#26828e" d="M2245.4 975.1l5.4 3.8 3.1-15.1-5.3-5.4z"/>
<path fill="#6ece58" d="M2233.1 904.4l5.3 9.8 3.1 3.1-5.3-9.1z"/>
<path fill="#482374" d="M2263.3 1034.4l5.4 4.5 3-6.7-5.3-5.7z"/>
<path fill="#2c738e" d="M2256.4 984.1l5.3 6.7 3.1-11.7-5.3-8.5z"/>
<path fill="#1f9a8a" d="M2257.3 951.8l5.3 7.9 3-5.6-5.3-8.4z"/>
<path fill="#cae11f" d="M2197.2 891.2l5.3-4.7 3.1-11.2-5.3 5.2z"/>
<path fill="#26828e" d="M2259.6 970.5l5.3 8.4 3-9.2-5.3-9.7z"/>
<path fill="#277f8e" d="M2250.9 978.9l5.4 5.1 3.1-13.4-5.4-6.7z"/>
<path fill="#46075a" d="M2288.3 1046.5l5.4 5.1 3.1-5.5-5.5-3.7z"/>
<path fill="#48186a" d="M2268.8 1039l5.4 4.2 3-5.5-5.4-5.4z"/>
<path fill="#dfe318" d="M2205.8 875.3l5.3-.9 3.1 5.6-5.3 .8z"/>
<path fill="#481d6f" d="M2254.7 1037.9l5.4 3.4 3.1-6.9-5.4-4.3z"/>
<path fill="#21a585" d="M2251.8 944.9l5.4 6.7 3-6.1-5.3-7.2z"/>
<path fill="#95d840" d="M2199.5 911.6l5.4-.3 3-25.4-5.4 .8z"/>
<path fill="#23a983" d="M2237.7 947.9l5.4 5.3 3.1-14.7-5.4-7z"/>
<path fill="#26ad81" d="M2246.4 938.4l5.3 6.4 3-6.6-5.3-7z"/>
<path fill="#48186a" d="M2246.1 1041.9l5.4 2.5 3.1-6.5-5.4-3z"/>
<path fill="#218e8d" d="M2254.1 963.7l5.4 6.7 3-10.5-5.3-8z"/>
<path fill="#1fa187" d="M2243.2 953.2l5.3 5 3.1-13.2-5.3-6.4z"/>
<path fill="#2ab07f" d="M2232.2 941.6l5.4 6.3 3.1-16.4-5.4-8.2z"/>
<path fill="#471365" d="M2274.2 1043.3l5.5 3.8 3-4.6-5.4-4.8zM2237.4 1045.7l5.5 1.9 3.1-5.6-5.4-2.1z"/>
<path fill="#1f9a8a" d="M2248.7 958.2l5.3 5.4 3.1-11.8-5.4-6.7z"/>
<path fill="#35b779" d="M2240.9 931.4l5.3 6.9 3.1-7.2-5.3-7.7z"/>
<path fill="#8bd646" d="M2227.6 894l5.4 10.1 3.1 3.9-5.4-9.4z"/>
<path fill="#46075a" d="M2293.8 1051.6l5.5 1.7 3-3-5.5-4.2z"/>
<path fill="#48186a" d="M2260.2 1041.3l5.4 3.6 3.1-5.9-5.4-4.5z"/>
<path fill="#46075a" d="M2228.8 1048.9l5.5 1.6 3.1-4.7-5.5-1.6z"/>
<path fill="#3bbb75" d="M2226.8 934.3l5.3 7.3 3.1-18.4-5.3-9.2z"/>
<path fill="#470d60" d="M2279.7 1047.2l5.5 5.6 3-6.3-5.4-4z"/>
<path fill="#4ac16d" d="M2235.5 923.1l5.3 8.1 3-7.9-5.3-8.8z"/>
<path fill="#46075a" d="M2220.2 1052.3l5.4 1.7 3.2-5.1-5.5 .4z"/>
<path fill="#471365" d="M2251.5 1044.4l5.5 2.8 3.1-5.8-5.5-3.4z"/>
<path fill="#b5de2b" d="M2222.1 884.6l5.4 9.2 3.1 4.6-5.3-8.5z"/>
<path fill="#52c569" d="M2221.3 926.6l5.4 7.7 3.1-20.3-5.4-9.6z"/>
<path fill="#471365" d="M2265.6 1044.9l5.5 3.4 3.1-5-5.5-4.3z"/>
<path fill="#eae51a" d="M2211.2 874.4l5.3 3.3 3.2 5.5-5.3-3.2z"/>
<path fill="#46075a" d="M2285.2 1052.9l5.5 1.7 3-3-5.4-5.1z"/>
<path fill="#95d840" d="M2204.9 911.3l5.4 2.7 3.1-24.9-5.4-3.2z"/>
<path fill="#470d60" d="M2242.9 1047.7l5.5 2.1 3.1-5.3-5.5-2.5z"/>
<path fill="#6ece58" d="M2230 913.8l5.3 9.2 3.1-8.7-5.4-9.9z"/>
<path fill="#d5e21a" d="M2216.7 877.7l5.3 6.7 3.2 5.3-5.3-6.4z"/>
<path fill="#46075a" d="M2234.3 1050.6l5.4 3.9 3.2-6.8-5.5-1.9z"/>
<path fill="#6ece58" d="M2215.8 919.5l5.4 7.1 3.1-22.3-5.4-8.7z"/>
<path fill="#8bd646" d="M2210.4 914.1l5.4 5.4 3.1-23.9-5.5-6.5z"/>
<path fill="#471365" d="M2257 1047.2l5.5 2.9 3.1-5.2-5.5-3.5z"/>
<path fill="#470d60" d="M2271.1 1048.4l5.5 3.1 3.1-4.3-5.5-3.9z"/>
<path fill="#dfe318" d="M2202.6 886.5l5.3-.8 3.1-11.3-5.3 .9z"/>
<path fill="#46075a" d="M2225.6 1054l5.5 1.7 3.1-5.1-5.4-1.7z"/>
<path fill="#8bd646" d="M2224.5 904.2l5.3 9.5 3.1-9.5-5.3-10.2z"/>
<path fill="#46075a" d="M2276.6 1051.5l5.5 4.4 3.1-3-5.5-5.7z"/>
<path fill="#470d60" d="M2248.4 1049.8l5.5 2.4 3.1-5-5.5-2.7zM2262.5 1050.1l5.5 5.3 3.1-7-5.5-3.4z"/>
<path fill="#46075a" d="M2239.8 1054.5l5.4 1.7 3.2-6.3-5.5-2.2z"/>
<path fill="#b5de2b" d="M2219 895.5l5.4 8.6 3-10.2-5.3-9.3z"/>
<path fill="#46075a" d="M2231.1 1055.7l5.5 1.8 3.1-3-5.4-3.9z"/>
<path fill="#eae51a" d="M2208.1 885.7l5.3 3.2 3.1-11.2-5.4-3.3z"/>
<path fill="#470d60" d="M2253.9 1052.2l5.5 4.5 3.1-6.6-5.5-2.8z"/>
<path fill="#46075a" d="M2268 1055.4l5.5 1.7 3.1-5.6-5.5-3.1z"/>
<path fill="#d5e21a" d="M2213.5 888.9l5.4 6.5 3.1-10.8-5.4-6.9z"/>
<path fill="#46075a" d="M2245.2 1056.2l5.5 1.7 3.2-5.7-5.5-2.3zM2259.4 1056.7l5.5 1.7 3.1-3-5.5-5.3zM2273.5 1057.1l5.6 1.8 3-3-5.5-4.4zM2250.8 1057.9l5.5 1.8 3.1-3-5.5-4.5z"/>
</g>
<clipPath id="bc4"><path clip-rule="evenodd" d="M2598.7 1039.5 2867.6 1127.3 3010.4 980.7 2756.8 907ZM2687.5 1000.6 2690.8 997.8 2685.6 996.1 2688.9 993.4 2692.1 990.6 2695.4 987.8 2690.2 986.2 2693.5 983.5 2696.7 980.7 2699.9 978 2703.1 975.3 2706.3 972.6 2709.4 969.9 2712.6 967.2 2717.7 968.7 2720.8 966.1 2724 963.4 2727.1 960.7 2732.2 962.2 2735.3 959.6 2740.4 961.1 2743.5 958.5 2748.6 960 2751.7 957.3 2754.7 954.7 2759.8 956.2 2764.9 957.7 2768 955.1 2773.1 956.6 2776.1 954 2781.2 955.5 2784.2 952.9 2789.3 954.4 2794.5 955.9 2797.5 953.3 2802.6 954.8 2807.7 956.3 2812.9 957.9 2815.8 955.2 2821 956.7 2826.2 958.3 2831.3 959.8 2836.5 961.3 2841.7 962.9 2846.9 964.4 2852.2 966 2857.4 967.5 2862.6 969.1 2867.9 970.6 2873.1 972.2 2878.4 973.8 2883.7 975.3 2880.8 978 2886.1 979.6 2891.4 981.2 2888.5 983.9 2893.8 985.5 2899.2 987.1 2896.3 989.9 2901.7 991.5 2907 993.1 2904.2 995.9 2909.5 997.5 2906.7 1000.3 2912.1 1001.9 2909.2 1004.7 2914.6 1006.3 2911.7 1009.2 2917.1 1010.8 2914.3 1013.7 2919.7 1015.3 2916.8 1018.2 2913.9 1021 2919.4 1022.7 2916.5 1025.6 2913.6 1028.5 2910.7 1031.4 2916.2 1033.1 2913.2 1036 2910.3 1039 2907.3 1041.9 2904.4 1044.9 2901.4 1047.8 2895.9 1046.1 2892.9 1049.1 2889.9 1052.1 2886.9 1055.1 2881.3 1053.3 2878.3 1056.3 2875.2 1059.3 2869.7 1057.6 2866.6 1060.6 2861.1 1058.9 2858 1061.9 2852.4 1060.2 2849.3 1063.2 2843.8 1061.4 2840.7 1064.5 2835.1 1062.7 2832 1065.7 2826.5 1064 2821 1062.2 2817.8 1065.3 2812.3 1063.5 2806.8 1061.8 2803.6 1064.8 2798.1 1063.1 2792.6 1061.3 2789.4 1064.3 2783.9 1062.6 2778.4 1060.8 2773 1059.1 2767.5 1057.4 2762.1 1055.6 2756.7 1053.9 2751.3 1052.2 2745.9 1050.4 2740.5 1048.7 2735.1 1047 2729.7 1045.3 2724.4 1043.6 2719 1041.9 2722.3 1038.9 2717 1037.2 2711.7 1035.5 2706.4 1033.8 2709.7 1030.9 2704.4 1029.2 2699.1 1027.6 2702.4 1024.7 2697.1 1023 2700.4 1020.1 2695.2 1018.5 2698.5 1015.6 2693.3 1013.9 2688 1012.3 2691.3 1009.5 2694.6 1006.6 2689.4 1005 2692.7 1002.2Z"/></clipPath>
<path fill="#440154" fill-opacity="0.9" fill-rule="evenodd" d="M2598.7 1039.5 2867.6 1127.3 3010.4 980.7 2756.8 907ZM2687.5 1000.6 2690.8 997.8 2685.6 996.1 2688.9 993.4 2692.1 990.6 2695.4 987.8 2690.2 986.2 2693.5 983.5 2696.7 980.7 2699.9 978 2703.1 975.3 2706.3 972.6 2709.4 969.9 2712.6 967.2 2717.7 968.7 2720.8 966.1 2724 963.4 2727.1 960.7 2732.2 962.2 2735.3 959.6 2740.4 961.1 2743.5 958.5 2748.6 960 2751.7 957.3 2754.7 954.7 2759.8 956.2 2764.9 957.7 2768 955.1 2773.1 956.6 2776.1 954 2781.2 955.5 2784.2 952.9 2789.3 954.4 2794.5 955.9 2797.5 953.3 2802.6 954.8 2807.7 956.3 2812.9 957.9 2815.8 955.2 2821 956.7 2826.2 958.3 2831.3 959.8 2836.5 961.3 2841.7 962.9 2846.9 964.4 2852.2 966 2857.4 967.5 2862.6 969.1 2867.9 970.6 2873.1 972.2 2878.4 973.8 2883.7 975.3 2880.8 978 2886.1 979.6 2891.4 981.2 2888.5 983.9 2893.8 985.5 2899.2 987.1 2896.3 989.9 2901.7 991.5 2907 993.1 2904.2 995.9 2909.5 997.5 2906.7 1000.3 2912.1 1001.9 2909.2 1004.7 2914.6 1006.3 2911.7 1009.2 2917.1 1010.8 2914.3 1013.7 2919.7 1015.3 2916.8 1018.2 2913.9 1021 2919.4 1022.7 2916.5 1025.6 2913.6 1028.5 2910.7 1031.4 2916.2 1033.1 2913.2 1036 2910.3 1039 2907.3 1041.9 2904.4 1044.9 2901.4 1047.8 2895.9 1046.1 2892.9 1049.1 2889.9 1052.1 2886.9 1055.1 2881.3 1053.3 2878.3 1056.3 2875.2 1059.3 2869.7 1057.6 2866.6 1060.6 2861.1 1058.9 2858 1061.9 2852.4 1060.2 2849.3 1063.2 2843.8 1061.4 2840.7 1064.5 2835.1 1062.7 2832 1065.7 2826.5 1064 2821 1062.2 2817.8 1065.3 2812.3 1063.5 2806.8 1061.8 2803.6 1064.8 2798.1 1063.1 2792.6 1061.3 2789.4 1064.3 2783.9 1062.6 2778.4 1060.8 2773 1059.1 2767.5 1057.4 2762.1 1055.6 2756.7 1053.9 2751.3 1052.2 2745.9 1050.4 2740.5 1048.7 2735.1 1047 2729.7 1045.3 2724.4 1043.6 2719 1041.9 2722.3 1038.9 2717 1037.2 2711.7 1035.5 2706.4 1033.8 2709.7 1030.9 2704.4 1029.2 2699.1 1027.6 2702.4 1024.7 2697.1 1023 2700.4 1020.1 2695.2 1018.5 2698.5 1015.6 2693.3 1013.9 2688 1012.3 2691.3 1009.5 2694.6 1006.6 2689.4 1005 2692.7 1002.2Z"/>
<g fill-opacity="0.9">
<path clip-path="url(#bc4)" stroke="#fff" stroke-opacity="0.25" stroke-width="0.75" fill="none" d="M2598.7 1039.5L2756.8 907M2598.7 1039.5L2867.6 1127.3M2603.9 1041.2L2761.7 908.4M2602.2 1036.5L2870.8 1124M2609.2 1042.9L2766.7 909.8M2605.7 1033.6L2874 1120.8M2614.4 1044.6L2771.6 911.3M2609.2 1030.7L2877.1 1117.5M2619.6 1046.3L2776.6 912.7M2612.7 1027.8L2880.3 1114.3M2624.9 1048L2781.6 914.2M2616.1 1024.9L2883.4 1111.1M2630.2 1049.7L2786.6 915.6M2619.6 1022L2886.5 1107.9M2635.4 1051.5L2791.6 917.1M2623 1019.1L2889.6 1104.7M2640.7 1053.2L2796.6 918.5M2626.4 1016.2L2892.7 1101.5M2646 1054.9L2801.6 920M2629.8 1013.4L2895.8 1098.3M2651.3 1056.6L2806.6 921.4M2633.2 1010.5L2898.9 1095.2M2656.7 1058.4L2811.6 922.9M2636.6 1007.7L2902 1092M2662 1060.1L2816.7 924.4M2640 1004.9L2905 1088.9M2667.3 1061.9L2821.7 925.8M2643.4 1002.1L2908.1 1085.8M2672.7 1063.6L2826.8 927.3M2646.7 999.3L2911.1 1082.7M2678.1 1065.4L2831.9 928.8M2650 996.5L2914.1 1079.6M2683.4 1067.1L2837 930.3M2653.4 993.7L2917.1 1076.5M2688.8 1068.9L2842 931.7M2656.7 990.9L2920.1 1073.4M2694.2 1070.7L2847.1 933.2M2660 988.1L2923.1 1070.3M2699.6 1072.4L2852.3 934.7M2663.3 985.4L2926.1 1067.3M2705.1 1074.2L2857.4 936.2M2666.5 982.6L2929 1064.2M2710.5 1076L2862.5 937.7M2669.8 979.9L2932 1061.2M2716 1077.7L2867.7 939.2M2673.1 977.2L2934.9 1058.2M2721.4 1079.5L2872.8 940.7M2676.3 974.5L2937.9 1055.2M2726.9 1081.3L2878 942.2M2679.5 971.7L2940.8 1052.2M2732.4 1083.1L2883.2 943.7M2682.7 969L2943.7 1049.2M2737.9 1084.9L2888.3 945.2M2686 966.4L2946.6 1046.2M2743.4 1086.7L2893.5 946.7M2689.2 963.7L2949.5 1043.3M2748.9 1088.5L2898.7 948.2M2692.3 961L2952.3 1040.3M2754.4 1090.3L2903.9 949.7M2695.5 958.3L2955.2 1037.4M2760 1092.1L2909.2 951.3M2698.7 955.7L2958.1 1034.4M2765.5 1093.9L2914.4 952.8M2701.8 953L2960.9 1031.5M2771.1 1095.8L2919.7 954.3M2705 950.4L2963.8 1028.6M2776.7 1097.6L2924.9 955.8M2708.1 947.8L2966.6 1025.7M2782.3 1099.4L2930.2 957.4M2711.2 945.2L2969.4 1022.8M2787.9 1101.2L2935.5 958.9M2714.3 942.6L2972.2 1019.9M2793.5 1103.1L2940.7 960.4M2717.4 940L2975 1017.1M2799.1 1104.9L2946 962M2720.5 937.4L2977.8 1014.2M2804.7 1106.7L2951.3 963.5M2723.6 934.8L2980.6 1011.4M2810.4 1108.6L2956.7 965.1M2726.7 932.2L2983.3 1008.5M2816.1 1110.4L2962 966.6M2729.7 929.7L2986.1 1005.7M2821.7 1112.3L2967.3 968.2M2732.8 927.1L2988.8 1002.9M2827.4 1114.2L2972.7 969.7M2735.8 924.6L2991.6 1000.1M2833.1 1116L2978 971.3M2738.9 922L2994.3 997.3M2838.8 1117.9L2983.4 972.8M2741.9 919.5L2997 994.5M2844.6 1119.8L2988.8 974.4M2744.9 917L2999.7 991.7M2850.3 1121.6L2994.2 976M2747.9 914.5L3002.4 988.9M2856.1 1123.5L2999.6 977.5M2750.9 912L3005.1 986.2M2861.8 1125.4L3005 979.1M2753.8 909.5L3007.8 983.4M2867.6 1127.3L3010.4 980.7M2756.8 907L3010.4 980.7"/>
<path fill="#46075a" d="M2781.2 955.5l5.1-.5 3-.6-5.1-1.5zM2794.5 955.9l5.1-.4 3-.7-5.1-1.5zM2773.1 956.6l5.1-.8 3-.3-5.1-1.5zM2786.3 955.1l5.1 .9 3.1-.1-5.1-1.5zM2751.7 957.3l5-.4 3.1-.7-5.1-1.5zM2799.6 955.5l5.1 1.1 3-.3-5.1-1.5zM2764.9 957.7l5.1-1 3.1-.1-5.1-1.5zM2812.9 957.8l5.1-.4 3-.7-5.2-1.5zM2778.2 955.8l5.1 .8 3-1.5-5.1 .4zM2791.5 956.1l5.1 .9 3-1.5-5.1 .4zM2756.8 956.9l5 .8 3.1 0-5.1-1.5zM2804.8 956.6l5.1 1.1 3 .1-5.2-1.5zM2818.1 957.4l5.1 1.3 3-.4-5.2-1.6zM2770 956.7l5.1 .6 3.1-1.5-5.1 .8zM2748.6 960l5-1.2 3.1-1.9-5 .4z"/>
<path fill="#470d60" d="M2783.3 956.7l5.1 .7 3-1.3-5.1-1zM2796.6 957l5.1 .9 3-1.3-5.1-1.1z"/>
<path fill="#46075a" d="M2761.9 957.7l5 .5 3.1-1.5-5.1 1zM2809.9 957.7l5.2 1.1 2.9-1.4-5.1 .5zM2823.2 958.7l5.2 1.3 2.9-.2-5.1-1.5zM2740.4 961.1l5-.9 3.2-.2-5.1-1.5z"/>
<path fill="#470d60" d="M2775.2 957.4l5 .4 3.1-1.1-5.1-.9z"/>
<path fill="#46075a" d="M2732.2 962.2l5-.6 3.2-.5-5.1-1.5z"/>
<path fill="#470d60" d="M2788.5 957.4l5.1 .6 3-1-5.1-.9zM2753.7 958.8l5 .5 3.1-1.6-5.1-.8zM2801.8 957.9l5.1 .8 3-1-5.1-1.1z"/>
<path fill="#46075a" d="M2828.4 960l5.2 1.4 2.9-.1-5.1-1.5z"/>
<path fill="#470d60" d="M2815.1 958.8l5.2 1.2 2.9-1.3-5.1-1.3zM2767 958.2l5.1 .3 3-1.1-5.1-.7z"/>
<path fill="#46075a" d="M2745.5 960.2l5 .4 3.1-1.7-5 1.1zM2724 963.4l5-.3 3.2-.9-5.1-1.5z"/>
<path fill="#470d60" d="M2780.3 957.9l5.1 .3 3-.8-5.1-.7zM2793.6 958l5.1 .5 3-.6-5.1-.9zM2758.8 959.3l5.1 .2 3-1.3-5-.5z"/>
<path fill="#46075a" d="M2833.6 961.4l5.2 1.4 2.9 .1-5.2-1.6zM2737.3 961.6l5 .5 3.1-1.9-5 .9z"/>
<path fill="#470d60" d="M2807 958.7l5.1 .9 3-.8-5.2-1.1zM2820.3 960l5.1 1.1 3-1.1-5.2-1.3z"/>
<path fill="#471365" d="M2772.1 958.5l5.1 .1 3-.7-5-.5z"/>
<path fill="#46075a" d="M2729.1 963.1l5 .7 3.1-2.2-5 .6z"/>
<path fill="#470d60" d="M2750.6 960.6l5 .2 3.1-1.5-5-.4z"/>
<path fill="#471365" d="M2785.4 958.2l5.1 .2 3.1-.4-5.1-.6z"/>
<path fill="#46075a" d="M2838.8 962.8l5.2 1.5 2.9 .1-5.2-1.5z"/>
<path fill="#471365" d="M2798.8 958.5l5.1 .5 3-.3-5.1-.8z"/>
<path fill="#470d60" d="M2812.1 959.6l5.2 .9 2.9-.5-5.1-1.2zM2825.5 961.2l5.1 1.2 3-1-5.2-1.3z"/>
<path fill="#46075a" d="M2720.9 966l5-.6 3.1-2.3-5 .3z"/>
<path fill="#471365" d="M2763.9 959.5l5.1-.1 3-.8-5-.3z"/>
<path fill="#470d60" d="M2742.4 962.1l5 .2 3.1-1.7-5-.4z"/>
<path fill="#471365" d="M2777.3 958.6l5-.2 3.1-.2-5.1-.3z"/>
<path fill="#470d60" d="M2734.2 963.8l5 .2 3.1-1.9-5-.5z"/>
<path fill="#471365" d="M2755.7 960.8l5.1-.3 3-1-5-.2z"/>
<path fill="#46075a" d="M2844 964.3l5.2 1.6 2.9 .1-5.2-1.6z"/>
<path fill="#48186a" d="M2790.6 958.4l5.1 .1 3 0-5.1-.5z"/>
<path fill="#470d60" d="M2830.7 962.4l5.2 1.3 2.9-.9-5.2-1.4z"/>
<path fill="#471365" d="M2804 959l5.1 .5 3 .1-5.1-.8zM2817.3 960.5l5.2 1 2.9-.3-5.1-1.2z"/>
<path fill="#46075a" d="M2725.9 965.4l5.1 .5 3.1-2.1-5-.7z"/>
<path fill="#48186a" d="M2769.1 959.4l5-.5 3.1-.3-5.1 0z"/>
<path fill="#471365" d="M2747.5 962.3l5-.3 3.1-1.2-5-.1z"/>
<path fill="#46075a" d="M2849.3 965.9l5.2 1.6 2.9 0-5.2-1.5zM2717.7 968.7l5-.9 3.2-2.3-5 .6z"/>
<path fill="#48186a" d="M2782.4 958.4l5.1-.3 3 .3-5-.2z"/>
<path fill="#470d60" d="M2835.9 963.8l5.2 1.4 2.9-.9-5.2-1.4zM2739.3 964l5-.1 3.1-1.6-5-.1z"/>
<path fill="#471365" d="M2822.5 961.5l5.2 1.1 2.9-.2-5.1-1.2z"/>
<path fill="#48186a" d="M2795.8 958.5l5.1 0 3 .5-5.1-.5zM2760.8 960.5l5.1-.7 3.1-.4-5.1 .1zM2809.2 959.6l5.1 .5 2.9 .4-5-.9z"/>
<path fill="#46075a" d="M2709.5 969.9l5-.3 3.2-.9-5.1-1.5z"/>
<path fill="#470d60" d="M2731 965.9l5.1 .1 3.1-1.9-5.1-.3z"/>
<path fill="#46075a" d="M2854.5 967.5l5.2 1.7 2.9-.1-5.2-1.6z"/>
<path fill="#481d6f" d="M2774.2 958.9l5-.8 3.1 .3-5 .2z"/>
<path fill="#48186a" d="M2752.6 962l5-.7 3.1-.8-5 .3z"/>
<path fill="#470d60" d="M2841.1 965.2l5.2 1.6 2.9-.9-5.2-1.6zM2722.8 967.8l5 .3 3.2-2.2-5.1-.4z"/>
<path fill="#471365" d="M2827.8 962.6l5.1 1.2 2.9 0-5.1-1.4z"/>
<path fill="#481d6f" d="M2787.6 958.1l5-.6 3.1 1-5.1-.1z"/>
<path fill="#48186a" d="M2814.4 960.1l5.1 .7 2.9 .7-5-1z"/>
<path fill="#471365" d="M2744.4 963.9l5-.7 3.1-1.1-5 .2z"/>
<path fill="#481d6f" d="M2801 958.5l5 0 3 1-5-.5zM2766 959.8l5-1.1 3.1 .2-5 .5z"/>
<path fill="#46075a" d="M2714.5 969.6l5.1 .6 3.1-2.4-5 .9zM2859.8 969.2l5.2 1.7 2.9-.3-5.3-1.5z"/>
<path fill="#471365" d="M2736.1 966l5.1-.5 3.1-1.6-5 .2z"/>
<path fill="#470d60" d="M2846.4 966.8l5.2 1.6 2.9-.9-5.2-1.6z"/>
<path fill="#46075a" d="M2706.3 972.6l5-.4 3.2-2.6-5 .3z"/>
<path fill="#471365" d="M2833 963.8l5.1 1.4 3 0-5.2-1.4z"/>
<path fill="#482374" d="M2779.4 958l5-1 3 1-5 .4z"/>
<path fill="#481d6f" d="M2757.7 961.3l5-1.3 3.1-.2-4.9 .7z"/>
<path fill="#470d60" d="M2727.9 968.1l5-.2 3.2-1.9-5.1-.1z"/>
<path fill="#481d6f" d="M2819.6 960.8l5.1 .9 3 .9-5.1-1.1z"/>
<path fill="#482374" d="M2792.8 957.5l5-.6 3 1.6-5-.1zM2806.2 958.5l5.1 .1 2.9 1.5-5-.6z"/>
<path fill="#46075a" d="M2865 970.9l5.3 1.8 2.8-.5-5.2-1.6z"/>
<path fill="#481d6f" d="M2749.5 963.2l5-1.3 3.1-.6-5 .7z"/>
<path fill="#470d60" d="M2851.6 968.5l5.2 1.7 2.9-1-5.2-1.7zM2719.6 970.2l5.1 .2 3.1-2.3-5-.3z"/>
<path fill="#482374" d="M2771.1 958.6l5-1.5 3.1 1-5 .7z"/>
<path fill="#471365" d="M2838.2 965.2l5.2 1.6 2.9 0-5.2-1.6z"/>
<path fill="#48186a" d="M2741.2 965.5l5-1.1 3.2-1.2-5 .7z"/>
<path fill="#46075a" d="M2711.3 972.2l5.1 .5 3.2-2.5-5.1-.5z"/>
<path fill="#481d6f" d="M2824.8 961.7l5.1 1 3 1.1-5.1-1.2z"/>
<path fill="#46075a" d="M2870.3 972.7l5.2 1.8 2.9-.7-5.3-1.6z"/>
<path fill="#482878" d="M2784.6 956.9l5-1.3 3 1.9-5 .5z"/>
<path fill="#471365" d="M2733 967.9l5-.8 3.1-1.6-5 .5z"/>
<path fill="#46075a" d="M2703.1 975.3l5-.5 3.2-2.6-5 .4z"/>
<path fill="#470d60" d="M2856.9 970.2l5.2 1.9 2.9-1.2-5.2-1.7z"/>
<path fill="#482374" d="M2811.4 958.6l5.1 .3 2.9 1.9-5-.7zM2762.9 959.9l5-1.8 3.1 .6-5 1.1z"/>
<path fill="#482878" d="M2798 956.9l5-.6 3 2.2-5-.1z"/>
<path fill="#471365" d="M2843.5 966.8l5.1 1.7 2.9 0-5.1-1.7zM2724.7 970.4l5.1-.4 3.1-2-5 .2z"/>
<path fill="#46075a" d="M2875.5 974.6l5.3 3.4 2.9-2.7-5.3-1.5z"/>
<path fill="#482374" d="M2754.6 961.9l5-2 3.1 .1-4.9 1.2z"/>
<path fill="#481d6f" d="M2830.1 962.7l5.1 1.3 2.9 1.2-5.1-1.4z"/>
<path fill="#470d60" d="M2716.5 972.7l5 .1 3.2-2.4-5.1-.1z"/>
<path fill="#472d7b" d="M2776.3 957l5-1.9 3 1.8-4.9 1.1z"/>
<path fill="#470d60" d="M2862.1 972.1l5.3 1.9 2.8-1.3-5.2-1.7z"/>
<path fill="#482374" d="M2746.4 964.3l4.9-1.8 3.2-.6-5 1.3z"/>
<path fill="#471365" d="M2848.7 968.6l5.2 1.8 2.9-.2-5.2-1.7z"/>
<path fill="#482878" d="M2816.6 958.9l5.1 .5 3 2.2-5.1-.8z"/>
<path fill="#46075a" d="M2708.2 974.9l5 .4 3.2-2.6-5.1-.5z"/>
<path fill="#46327e" d="M2789.8 955.6l5-1.4 3 2.6-5 .6z"/>
<path fill="#481d6f" d="M2738.1 967.1l5-1.5 3.1-1.2-4.9 1.1z"/>
<path fill="#472d7b" d="M2803.2 956.2l5-.4 3 2.7-5-.1z"/>
<path fill="#46075a" d="M2699.9 978l5-.4 3.2-2.7-5 .4z"/>
<path fill="#481d6f" d="M2835.3 964.1l5.1 1.5 3 1.2-5.2-1.6z"/>
<path fill="#472d7b" d="M2768.1 958l4.9-2.4 3.1 1.4-5 1.6z"/>
<path fill="#46075a" d="M2867.4 974.1l5.2 1.9 2.9-1.4-5.2-1.9z"/>
<path fill="#48186a" d="M2729.8 970l5-1 3.2-1.8-5 .8z"/>
<path fill="#471365" d="M2854 970.5l5.2 2 2.9-.4-5.2-1.8zM2721.6 972.8l5-.5 3.2-2.2-5.1 .3z"/>
<path fill="#482878" d="M2821.9 959.4l5.1 .9 2.9 2.4-5.1-1.1z"/>
<path fill="#472d7b" d="M2759.8 959.8l5-2.6 3 .8-4.9 1.9z"/>
<path fill="#470d60" d="M2713.3 975.3l5 .1 3.2-2.6-5.1 0z"/>
<path fill="#453781" d="M2781.5 955l5-2.2 3 2.8-5 1.2z"/>
<path fill="#46075a" d="M2872.7 976l5.2 2 2.9 0-5.3-3.4z"/>
<path fill="#481d6f" d="M2840.6 965.7l5.1 1.8 2.9 1-5.1-1.7z"/>
<path fill="#46327e" d="M2808.4 955.7l5.1-.2 2.9 3.3-5-.3z"/>
<path fill="#472d7b" d="M2751.5 962.4l5-2.6 3.1 .1-5 1.9z"/>
<path fill="#453781" d="M2795 954.1l5-1.4 3 3.5-5.1 .5z"/>
<path fill="#46075a" d="M2705 977.6l5 .5 3.2-2.7-5-.5z"/>
<path fill="#471365" d="M2859.2 972.5l5.3 2.2 2.8-.7-5.2-1.9z"/>
<path fill="#482878" d="M2743.2 965.6l5-2.3 3.1-.8-4.9 1.8z"/>
<path fill="#46075a" d="M2696.7 980.7l5-.3 3.2-2.8-5 .4z"/>
<path fill="#482878" d="M2827.1 960.2l5.1 1.3 2.9 2.5-5-1.3z"/>
<path fill="#481d6f" d="M2735 969l4.9-1.9 3.2-1.4-5 1.5z"/>
<path fill="#46075a" d="M2878 978l5.2 2 2.9-.4-5.3-1.5z"/>
<path fill="#453781" d="M2773.2 955.5l5-2.9 3 2.4-4.9 1.9z"/>
<path fill="#481d6f" d="M2845.8 967.5l5.2 2.1 2.9 .8-5.2-1.8z"/>
<path fill="#48186a" d="M2726.7 972.3l5-1.3 3.1-2-5 1.1z"/>
<path fill="#470d60" d="M2864.5 974.7l5.3 2.2 2.8-.9-5.2-1.9z"/>
<path fill="#471365" d="M2718.4 975.4l5-.6 3.2-2.5-5 .5z"/>
<path fill="#453781" d="M2813.7 955.4l5 .2 3 3.7-5.1-.6z"/>
<path fill="#470d60" d="M2710.1 978.1l5 0 3.2-2.7-5 0z"/>
<path fill="#46075a" d="M2883.3 980.1l5.2 3.8 2.9-2.7-5.3-1.6z"/>
<path fill="#453781" d="M2764.9 957.1l5-3.4 3.1 1.8-5 2.4z"/>
<path fill="#424086" d="M2786.7 952.7l5-2.4 3 3.8-5 1.3z"/>
<path fill="#482878" d="M2832.4 961.5l5.1 1.6 2.9 2.5-5.1-1.6z"/>
<path fill="#48186a" d="M2851.1 969.6l5.2 2.3 2.8 .6-5.1-2z"/>
<path fill="#443b84" d="M2800.2 952.6l5-1.2 3 4.2-5.1 .5z"/>
<path fill="#46075a" d="M2701.8 980.4l5.1 .5 3.1-2.8-5-.5z"/>
<path fill="#470d60" d="M2869.8 976.9l5.3 2.3 2.8-1.2-5.2-1.9z"/>
<path fill="#453781" d="M2756.7 959.7l4.9-3.4 3.1 .8-5 2.7z"/>
<path fill="#46075a" d="M2693.5 983.5l5-.2 3.2-2.9-5 .4z"/>
<path fill="#46327e" d="M2748.4 963.2l4.9-3.3 3.1-.1-4.9 2.6z"/>
<path fill="#482878" d="M2740.1 967.1l4.9-2.8 3.2-1-5 2.3z"/>
<path fill="#48186a" d="M2856.4 971.9l5.1 2.5 2.9 .3-5.1-2.1z"/>
<path fill="#482374" d="M2731.8 971l5-2.1 3.1-1.8-4.9 1.9z"/>
<path fill="#453781" d="M2818.9 955.5l5.1 .6 2.9 4-5-.8z"/>
<path fill="#482878" d="M2837.6 963.1l5.1 1.9 3 2.4-5.1-1.8z"/>
<path fill="#48186a" d="M2723.5 974.8l5-1.4 3.2-2.3-5 1.2z"/>
<path fill="#404588" d="M2778.4 952.5l5-3.3 3 3.5-5 2.2z"/>
<path fill="#470d60" d="M2875.1 979.2l5.3 2.2 2.8-1.4-5.2-1.9z"/>
<path fill="#471365" d="M2715.2 978.1l5-.6 3.2-2.7-5 .6z"/>
<path fill="#470d60" d="M2706.9 980.9l5.1 .1 3.1-2.9-5 0z"/>
<path fill="#404588" d="M2805.4 951.3l5.1-.9 2.9 4.9-5 .2zM2791.9 950.2l5-2.4 3 4.8-5 1.4z"/>
<path fill="#48186a" d="M2861.6 974.4l5.2 2.5 2.9 0-5.2-2.2z"/>
<path fill="#482878" d="M2842.9 965.1l5.1 2.3 2.9 2.2-5-2.1z"/>
<path fill="#404588" d="M2770.1 953.6l5-4 3 2.9-5 2.9z"/>
<path fill="#46075a" d="M2880.4 981.4l5.3 2.3 2.8 .2-5.2-3.8zM2698.6 983.3l5 .6 3.2-3-5-.5z"/>
<path fill="#443b84" d="M2824.2 956l5.1 1.1 2.9 4.2-5.1-1.2z"/>
<path fill="#46075a" d="M2690.2 986.2l5.2 1.6 3.1-4.5-5 .2z"/>
<path fill="#471365" d="M2866.9 977l5.3 2.6 2.8-.4-5.2-2.3z"/>
<path fill="#404588" d="M2761.8 956.1l5-4.3 3 1.9-4.9 3.3z"/>
<path fill="#482878" d="M2848.2 967.4l5.1 2.6 2.9 1.9-5.1-2.3z"/>
<path fill="#46075a" d="M2885.7 983.7l5.3 2.1 2.8-.3-5.3-1.6z"/>
<path fill="#482374" d="M2728.6 973.4l5-2.2 3.2-2.2-5 2.1z"/>
<path fill="#424086" d="M2753.5 959.8l5-4.3 3.1 .7-5 3.4z"/>
<path fill="#48186a" d="M2720.3 977.5l5-1.3 3.2-2.7-5 1.3z"/>
<path fill="#472d7b" d="M2736.9 968.9l5-3.1 3.1-1.5-4.9 2.7z"/>
<path fill="#453781" d="M2745.2 964.2l5-3.8 3.1-.5-5 3.2z"/>
<path fill="#471365" d="M2712 981l5.1-.5 3.1-2.9-5 .5z"/>
<path fill="#3e4989" d="M2810.6 950.4l5.2-.5 2.9 5.5-5.1-.1z"/>
<path fill="#3d4e8a" d="M2783.6 949l5-3.5 3 4.7-5 2.4z"/>
<path fill="#443b84" d="M2829.4 957.1l5.1 1.7 3 4.1-5.1-1.6z"/>
<path fill="#470d60" d="M2703.7 983.9l5.1 .2 3.1-3.1-5-.1z"/>
<path fill="#471365" d="M2872.2 979.6l5.3 2.6 2.8-.8-5.2-2.2z"/>
<path fill="#482374" d="M2853.5 970.1l5.1 2.8 2.9 1.5-5.1-2.5z"/>
<path fill="#3d4e8a" d="M2797.1 947.8l5.1-2.2 3 5.6-5.1 1.3z"/>
<path fill="#46075a" d="M2695.4 987.8l5-.9 3.2-3-5.1-.6zM2891 985.9l5.3 4 2.9-2.8-5.3-1.6z"/>
<path fill="#443b84" d="M2834.7 958.7l5.1 2.2 2.9 4-5-2z"/>
<path fill="#470d60" d="M2877.5 982.2l5.3 2.6 2.9-1.1-5.3-2.2z"/>
<path fill="#3a538b" d="M2775.3 949.5l5-4.5 3 4-5 3.3z"/>
<path fill="#481d6f" d="M2858.8 973l5.1 3 2.9 .9-5.1-2.5z"/>
<path fill="#3d4e8a" d="M2815.9 949.9l5.1 .1 3 5.9-5.1-.6z"/>
<path fill="#48186a" d="M2717.1 980.5l5.1-1.3 3.1-3-5 1.4z"/>
<path fill="#482374" d="M2725.5 976.2l4.9-2.3 3.2-2.7-5 2.3z"/>
<path fill="#471365" d="M2708.8 984.1l5.1-.4 3.1-3.2-5 .5z"/>
<path fill="#46327e" d="M2733.8 971.1l4.9-3.2 3.1-2.1-4.9 3.1z"/>
<path fill="#3a538b" d="M2766.9 951.6l5.1-5.1 3 3-5 4z"/>
<path fill="#453781" d="M2840 960.9l5.1 2.7 2.9 3.7-5.1-2.4z"/>
<path fill="#481d6f" d="M2864.1 976.1l5.2 3 2.8 .5-5.2-2.6z"/>
<path fill="#470d60" d="M2700.5 986.9l5.1 .3 3.1-3.1-5-.2zM2882.8 984.8l5.3 2.5 2.9-1.4-5.3-2.2z"/>
<path fill="#443b84" d="M2742.1 965.7l4.9-4.2 3.1-1.1-4.9 3.7z"/>
<path fill="#365c8d" d="M2788.8 945.4l5.1-3.6 3 5.9-5.1 2.4z"/>
<path fill="#3d4e8a" d="M2758.6 955.4l5-5.3 3.1 1.6-5 4.3z"/>
<path fill="#38588c" d="M2802.3 945.5l5.2-1.8 2.9 6.5-5.1 1z"/>
<path fill="#46075a" d="M2692.1 990.6l5.1-.6 3.2-3.1-5 .9z"/>
<path fill="#404588" d="M2750.3 960.2l5-4.9 3.1 .2-5 4.2z"/>
<path fill="#3d4e8a" d="M2821.2 950l5.1 .9 2.9 6-5.1-1z"/>
<path fill="#48186a" d="M2869.4 979.2l5.2 3.1 2.8-.1-5.2-2.5z"/>
<path fill="#453781" d="M2845.3 963.6l5.1 3.1 2.9 3.3-5.1-2.7z"/>
<path fill="#46075a" d="M2888.2 987.3l5.3 2.4 2.8 .2-5.3-4z"/>
<path fill="#48186a" d="M2713.9 983.7l5.1-1.1 3.2-3.3-5.1 1.3z"/>
<path fill="#471365" d="M2705.6 987.2l5.1-.1 3.2-3.4-5.1 .4z"/>
<path fill="#482374" d="M2722.3 979.2l4.9-2.1 3.2-3.1-4.9 2.2z"/>
<path fill="#46327e" d="M2850.6 966.8l5.1 3.4 2.9 2.7-5.1-2.9z"/>
<path fill="#471365" d="M2874.7 982.3l5.2 3 2.9-.5-5.3-2.5z"/>
<path fill="#34608d" d="M2780.5 944.8l5-4.8 3 5.4-5 3.5z"/>
<path fill="#46075a" d="M2893.5 989.7l5.3 2.3 2.8-.5-5.3-1.6z"/>
<path fill="#46327e" d="M2730.6 973.8l4.9-3.2 3.2-2.7-4.9 3.2z"/>
<path fill="#470d60" d="M2697.2 990l5.1 .5 3.2-3.2-5.1-.4z"/>
<path fill="#3d4e8a" d="M2826.5 950.9l5.1 1.6 2.9 6.1-5.1-1.7z"/>
<path fill="#365c8d" d="M2807.6 943.7l5.1-1.2 3 7.2-5.1 .5z"/>
<path fill="#46075a" d="M2688.9 993.4l5.1-.3 3.2-3.1-5.1 .6z"/>
<path fill="#472d7b" d="M2855.9 970.3l5.1 3.6 2.9 2.1-5.1-3z"/>
<path fill="#443b84" d="M2738.9 967.7l4.9-4.4 3.2-1.8-5 4.1z"/>
<path fill="#471365" d="M2880 985.4l5.2 2.9 2.9-1-5.3-2.4z"/>
<path fill="#32648e" d="M2794 941.8l5.1-3.3 3 6.9-5.1 2.2z"/>
<path fill="#34608d" d="M2772.1 946.4l5.1-5.7 3 4.2-5 4.5z"/>
<path fill="#46075a" d="M2898.8 992l5.3 3.9 2.9-2.8-5.3-1.6z"/>
<path fill="#3e4989" d="M2747.2 961.3l4.9-5.4 3.1-.6-4.9 4.9z"/>
<path fill="#482878" d="M2861.2 974l5.1 3.7 2.9 1.4-5.1-3z"/>
<path fill="#3d4e8a" d="M2831.8 952.5l5.1 2.5 2.9 5.8-5.1-2.3z"/>
<path fill="#38588c" d="M2755.5 955.1l5-6 3.1 1-5 5.2z"/>
<path fill="#365c8d" d="M2763.8 949.9l5-6.1 3.1 2.7-5 5z"/>
<path fill="#48186a" d="M2710.7 987.1l5.1-.8 3.2-3.6-5.1 1.1z"/>
<path fill="#470d60" d="M2885.3 988.3l5.3 2.8 2.8-1.4-5.2-2.3z"/>
<path fill="#482374" d="M2719.1 982.6l5-1.8 3.2-3.6-5 2.1z"/>
<path fill="#470d60" d="M2702.4 990.5l5.1 .1 3.2-3.5-5.1 .2z"/>
<path fill="#482374" d="M2866.5 977.8l5.2 3.7 2.8 .8-5.1-3.1z"/>
<path fill="#46075a" d="M2694 993.1l5.1 .7 3.2-3.3-5.1-.5z"/>
<path fill="#32648e" d="M2812.9 942.5l5.1-.3 3 7.6-5.2-.1z"/>
<path fill="#46327e" d="M2727.4 977.1l4.9-3.2 3.2-3.3-4.9 3.3z"/>
<path fill="#3e4989" d="M2837.1 954.9l5.1 3.2 2.9 5.4-5.1-2.8z"/>
<path fill="#46075a" d="M2685.6 996.1l5.2 1.7 3.2-4.6-5.1 .2z"/>
<path fill="#470d60" d="M2890.6 991.1l5.3 2.6 2.9-1.7-5.3-2.2z"/>
<path fill="#481d6f" d="M2871.8 981.6l5.2 3.6 2.9 .2-5.2-3z"/>
<path fill="#2f6c8e" d="M2785.7 939.9l5.1-4.8 3 6.6-5.1 3.5z"/>
<path fill="#424086" d="M2735.7 970.5l4.9-4.4 3.2-2.8-4.9 4.4z"/>
<path fill="#3e4989" d="M2842.4 958.1l5.1 3.7 2.9 4.8-5.1-3.1z"/>
<path fill="#2f6c8e" d="M2799.3 938.4l5.1-2.8 3 7.9-5.1 1.8z"/>
<path fill="#471365" d="M2707.5 990.6l5.1-.5 3.2-3.7-5.1 .7z"/>
<path fill="#48186a" d="M2877.1 985.2l5.3 3.5 2.8-.4-5.2-2.9z"/>
<path fill="#46075a" d="M2896 993.7l5.3 2.5 2.8-.3-5.3-3.9z"/>
<path fill="#481d6f" d="M2715.9 986.3l5-1.5 3.2-4-5 1.9z"/>
<path fill="#3d4e8a" d="M2744 963.2l5-5.7 3.1-1.6-5 5.4z"/>
<path fill="#470d60" d="M2699.1 993.8l5.2 .4 3.2-3.6-5.1 0z"/>
<path fill="#32648e" d="M2818.2 942.1l5.1 .7 3 7.9-5.2-.9z"/>
<path fill="#424086" d="M2847.7 961.8l5.1 4.2 2.9 4.1-5.1-3.4z"/>
<path fill="#46075a" d="M2690.8 997.8l5.1-.7 3.2-3.3-5.1-.6z"/>
<path fill="#472d7b" d="M2724.2 980.7l5-2.8 3.1-3.9-4.9 3.2z"/>
<path fill="#2d708e" d="M2777.3 940.5l5.1-6.1 3 5.5-5 4.8z"/>
<path fill="#443b84" d="M2853 966.1l5.1 4.4 2.9 3.3-5.1-3.6z"/>
<path fill="#471365" d="M2882.4 988.8l5.3 3.2 2.9-.9-5.3-2.7z"/>
<path fill="#365c8d" d="M2752.3 955.7l5-6.6 3.1 0-5 6z"/>
<path fill="#46075a" d="M2901.3 996.2l5.4 4.1 2.8-2.8-5.3-1.6z"/>
<path fill="#2d708e" d="M2768.9 943.6l5.1-6.8 3.1 3.8-5.1 5.7z"/>
<path fill="#453781" d="M2858.3 970.6l5.1 4.5 2.9 2.5-5.1-3.7z"/>
<path fill="#31688e" d="M2760.6 948.9l5-7 3.1 1.8-5 6.2z"/>
<path fill="#443b84" d="M2732.5 973.9l4.9-4.3 3.2-3.5-4.9 4.4z"/>
<path fill="#32648e" d="M2823.5 942.8l5.2 1.7 2.9 7.8-5.2-1.6z"/>
<path fill="#470d60" d="M2887.8 992.1l5.3 3 2.8-1.4-5.3-2.6z"/>
<path fill="#2c738e" d="M2804.5 935.6l5.2-2 3 8.7-5.2 1.2z"/>
<path fill="#472d7b" d="M2863.6 975.2l5.2 4.5 2.8 1.8-5.1-3.7z"/>
<path fill="#471365" d="M2704.3 994.2l5.1-.2 3.2-3.8-5.1 .5z"/>
<path fill="#481d6f" d="M2712.7 990.1l5-1.1 3.2-4.1-5 1.5z"/>
<path fill="#2a778e" d="M2790.9 935l5.1-4.5 3 7.8-5.1 3.3z"/>
<path fill="#470d60" d="M2695.9 997.2l5.1 .5 3.3-3.5-5.2-.3z"/>
<path fill="#46075a" d="M2687.5 1000.6l5.2 1.6 3.2-5-5.1 .6z"/>
<path fill="#482878" d="M2721 984.8l5-2.5 3.2-4.3-5 2.9zM2868.9 979.9l5.2 4.3 2.9 1-5.2-3.6z"/>
<path fill="#3d4e8a" d="M2740.8 965.9l5-5.7 3.1-2.7-4.9 5.6z"/>
<path fill="#32648e" d="M2828.8 944.4l5.2 2.8 2.9 7.6-5.2-2.5z"/>
<path fill="#470d60" d="M2893.1 995.1l5.3 2.8 2.9-1.7-5.3-2.4z"/>
<path fill="#482374" d="M2874.2 984.4l5.3 4.1 2.8 .2-5.2-3.4z"/>
<path fill="#443b84" d="M2729.4 977.9l4.9-3.9 3.2-4.3-4.9 4.2z"/>
<path fill="#34608d" d="M2834.1 947.2l5.2 3.6 2.9 7.1-5.2-3.2z"/>
<path fill="#46075a" d="M2898.5 997.9l5.3 2.6 2.8-.2-5.3-4.1z"/>
<path fill="#34608d" d="M2749.1 957.3l5-6.9 3.1-1.3-5 6.6z"/>
<path fill="#48186a" d="M2879.6 988.6l5.2 3.9 2.9-.5-5.3-3.2zM2709.5 994l5.1-.6 3.1-4.3-5 1.1z"/>
<path fill="#470d60" d="M2701.1 997.7l5.1 .2 3.2-3.8-5.1 .1z"/>
<path fill="#2a778e" d="M2809.8 933.6l5.2-.9 3 9.3-5.2 .3z"/>
<path fill="#277f8e" d="M2782.5 934.3l5.1-6.1 3.1 6.8-5.1 4.8z"/>
<path fill="#46075a" d="M2692.7 1002.2l5.1-.9 3.2-3.5-5.1-.6z"/>
<path fill="#482878" d="M2717.8 989l5.1-1.9 3.1-4.6-5 2.4z"/>
<path fill="#365c8d" d="M2839.4 950.8l5.2 4.5 2.9 6.3-5.1-3.7z"/>
<path fill="#46075a" d="M2903.8 1000.5l5.4 4.2 2.8-2.8-5.3-1.6z"/>
<path fill="#471365" d="M2884.9 992.5l5.3 3.6 2.8-1-5.2-3z"/>
<path fill="#3d4e8a" d="M2737.6 969.5l5-5.4 3.2-3.9-5 5.7z"/>
<path fill="#2d708e" d="M2757.4 948.9l5-7.7 3.2 .6-5.1 7.1z"/>
<path fill="#38588c" d="M2844.8 955.3l5.1 5.1 2.9 5.5-5.1-4.2z"/>
<path fill="#26828e" d="M2796.2 930.4l5.1-3.8 3 8.8-5.1 2.8z"/>
<path fill="#277f8e" d="M2774.1 936.6l5.1-7.3 3.1 5-5.1 6.1z"/>
<path fill="#453781" d="M2726.2 982.3l4.9-3.3 3.2-4.9-4.9 3.9z"/>
<path fill="#3d4e8a" d="M2850.1 960.4l5.1 5.4 2.9 4.6-5.1-4.5z"/>
<path fill="#297b8e" d="M2765.8 941.7l5-7.9 3.1 2.9-5 6.9z"/>
<path fill="#471365" d="M2890.2 996.1l5.4 3.3 2.8-1.5-5.3-2.8z"/>
<path fill="#404588" d="M2855.4 965.9l5.1 5.5 2.9 3.7-5.1-4.6z"/>
<path fill="#297b8e" d="M2815.1 932.7l5.3 .4 2.9 9.5-5.2-.7z"/>
<path fill="#443b84" d="M2860.7 971.6l5.2 5.5 2.9 2.6-5.2-4.5z"/>
<path fill="#471365" d="M2706.2 998l5.2-.3 3.1-4.3-5.1 .7z"/>
<path fill="#470d60" d="M2697.8 1001.3l5.2 .5 3.2-3.8-5.1-.2z"/>
<path fill="#482374" d="M2714.6 993.4l5.1-1.4 3.2-4.8-5.1 1.9z"/>
<path fill="#46075a" d="M2689.4 1005l5.2 1.6 3.2-5.3-5.1 .9z"/>
<path fill="#46327e" d="M2866.1 977.3l5.1 5.2 2.9 1.7-5.2-4.3z"/>
<path fill="#32648e" d="M2745.9 960l5-6.9 3.2-2.7-5 6.9z"/>
<path fill="#470d60" d="M2895.6 999.4l5.3 2.9 2.9-1.8-5.3-2.6z"/>
<path fill="#472d7b" d="M2871.4 982.7l5.2 5 2.8 .8-5.2-4.1z"/>
<path fill="#3e4989" d="M2734.5 973.9l4.9-5 3.2-4.8-4.9 5.4z"/>
<path fill="#46327e" d="M2723 987.1l5-2.7 3.1-5.3-4.9 3.4z"/>
<path fill="#482374" d="M2876.7 987.8l5.2 4.6 2.9 .1-5.2-3.9z"/>
<path fill="#277f8e" d="M2820.5 933.1l5.2 1.7 2.9 9.4-5.2-1.7z"/>
<path fill="#46075a" d="M2901 1002.3l5.3 2.7 2.9-.3-5.4-4.2z"/>
<path fill="#238a8d" d="M2787.8 928.1l5.1-5.7 3 7.9-5.1 4.6z"/>
<path fill="#481d6f" d="M2882 992.5l5.3 4.2 2.8-.6-5.2-3.5z"/>
<path fill="#238a8d" d="M2801.4 926.6l5.2-2.8 3 9.6-5.1 2z"/>
<path fill="#2c738e" d="M2754.2 950.2l5.1-8.1 3.1-.9-5 7.7z"/>
<path fill="#471365" d="M2703 1001.8l5.1 .2 3.2-4.2-5.1 .2z"/>
<path fill="#481d6f" d="M2711.4 997.7l5.1-.7 3.2-4.8-5.1 1.3z"/>
<path fill="#46075a" d="M2694.6 1006.6l5.1-1.1 3.3-3.7-5.2-.5zM2906.4 1005l5.3 4.2 2.9-2.9-5.4-1.6z"/>
<path fill="#404588" d="M2731.3 978.9l5-4.3 3.1-5.6-4.9 5z"/>
<path fill="#48186a" d="M2887.4 996.8l5.3 3.8 2.8-1.2-5.3-3.2z"/>
<path fill="#34608d" d="M2742.8 963.9l4.9-6.6 3.2-4.2-5 6.9z"/>
<path fill="#297b8e" d="M2825.8 934.8l5.2 3 3 9.1-5.3-2.7z"/>
<path fill="#472d7b" d="M2719.8 992l5-2 3.2-5.5-5 2.8z"/>
<path fill="#218e8d" d="M2779.4 929.2l5.1-7.3 3 6.2-5.1 6.1z"/>
<path fill="#26828e" d="M2762.6 941l5-8.6 3.1 1.4-5 7.8z"/>
<path fill="#471365" d="M2892.7 1000.6l5.3 3.4 2.9-1.7-5.3-2.9z"/>
<path fill="#2a778e" d="M2831.1 937.8l5.3 4.3 2.9 8.5-5.2-3.7z"/>
<path fill="#238a8d" d="M2771 933.7l5-8.4 3.1 3.9-5.1 7.3z"/>
<path fill="#48186a" d="M2708.2 1002l5.1-.3 3.2-4.6-5.1 .7z"/>
<path fill="#2c738e" d="M2836.5 942.1l5.2 5.3 2.9 7.7-5.2-4.5z"/>
<path fill="#424086" d="M2728.2 984.4l4.9-3.6 3.2-6.1-5 4.4z"/>
<path fill="#470d60" d="M2699.8 1005.5l5.1 .6 3.2-4.1-5.1-.2z"/>
<path fill="#20928c" d="M2806.8 923.7l5.2-1.5 3 10.3-5.2 .9z"/>
<path fill="#46075a" d="M2691.3 1009.5l5.2-.4 3.2-3.6-5.1 1.1z"/>
<path fill="#2f6c8e" d="M2841.8 947.4l5.2 6.1 2.9 6.7-5.1-5.1z"/>
<path fill="#3d4e8a" d="M2857.8 967l5.2 6.7 2.9 3.4-5.2-5.5z"/>
<path fill="#424086" d="M2863.2 973.9l5.1 6.3 2.9 2.4-5.1-5.3z"/>
<path fill="#38588c" d="M2852.5 960.2l5.1 6.7 3 4.5-5.2-5.5z"/>
<path fill="#34608d" d="M2847.2 953.5l5.1 6.5 2.9 5.7-5.1-5.4z"/>
<path fill="#470d60" d="M2898.1 1004l5.3 3 2.9-2-5.3-2.6z"/>
<path fill="#482374" d="M2716.6 997l5.1-1.4 3.1-5.4-5 2z"/>
<path fill="#453781" d="M2868.5 980.4l5.2 6 2.8 1.3-5.1-4.9z"/>
<path fill="#365c8d" d="M2739.6 968.8l4.9-6.1 3.2-5.4-4.9 6.6z"/>
<path fill="#2c738e" d="M2751.1 952.9l5-8 3.1-2.8-5 8z"/>
<path fill="#472d7b" d="M2873.8 986.6l5.2 5.4 2.9 .5-5.2-4.6z"/>
<path fill="#1f9a8a" d="M2793 922.3l5.2-4.9 3 9-5.1 3.9z"/>
<path fill="#482374" d="M2879.1 992.2l5.3 4.9 2.8-.3-5.2-4.2z"/>
<path fill="#46075a" d="M2903.5 1007l5.4 2.6 2.8-.4-5.3-4.2z"/>
<path fill="#453781" d="M2725 990l5-2.8 3.1-6.2-5 3.6z"/>
<path fill="#481d6f" d="M2884.5 997.2l5.3 4.3 2.8-.9-5.3-3.8z"/>
<path fill="#471365" d="M2705 1006.1l5.1 .2 3.2-4.5-5.1 .2z"/>
<path fill="#38588c" d="M2736.4 974.5l5-5.4 3.2-6.3-4.9 6.1z"/>
<path fill="#481d6f" d="M2713.4 1001.8l5.1-.7 3.2-5.3-5.1 1.3z"/>
<path fill="#470d60" d="M2696.5 1009.1l5.2 .8 3.2-3.8-5.1-.6z"/>
<path fill="#46075a" d="M2908.9 1009.7l5.4 3.9 2.8-2.8-5.4-1.6z"/>
<path fill="#1f968b" d="M2812.1 922.2l5.2 .1 3 10.6-5.2-.4z"/>
<path fill="#471365" d="M2889.8 1001.6l5.3 3.8 2.9-1.4-5.3-3.4z"/>
<path fill="#24868e" d="M2759.4 941.9l5-8.9 3.2-.6-5.1 8.6z"/>
<path fill="#46075a" d="M2688 1012.3l5.3 1.6 3.2-4.8-5.2 .4z"/>
<path fill="#2c738e" d="M2747.9 957.1l5-7.7 3.2-4.6-5.1 8.1z"/>
<path fill="#472d7b" d="M2721.8 995.6l5.1-1.9 3.1-6.3-5 2.8z"/>
<path fill="#1fa187" d="M2784.6 921.7l5.1-6.8 3.1 7.3-5.1 5.8z"/>
<path fill="#470d60" d="M2895.2 1005.5l5.4 3.3 2.8-1.8-5.3-3z"/>
<path fill="#3d4e8a" d="M2733.3 980.8l5-4.5 3.1-7-4.9 5.4z"/>
<path fill="#1f968b" d="M2767.8 932.2l5-9 3.2 2.1-5.1 8.3zM2817.4 922.3l5.3 1.7 3 10.5-5.3-1.7z"/>
<path fill="#48186a" d="M2710.2 1006.3l5.1-.1 3.2-5-5.1 .6z"/>
<path fill="#470d60" d="M2701.7 1010l5.2 .6 3.2-4.3-5.2-.2z"/>
<path fill="#1f9e89" d="M2776.2 925.2l5.1-8.4 3.1 5-5.1 7.3z"/>
<path fill="#21a585" d="M2798.3 917.3l5.2-3.7 3.1 9.9-5.2 2.9z"/>
<path fill="#46075a" d="M2693.3 1013.9l5.2 1.7 3.2-5.6-5.2-.9z"/>
<path fill="#470d60" d="M2900.6 1008.9l5.4 2.9 2.8-2.1-5.3-2.7z"/>
<path fill="#453781" d="M2870.9 985l5.2 6.4 2.9 .6-5.2-5.4z"/>
<path fill="#424086" d="M2865.6 977.7l5.2 7.1 2.8 1.6-5.1-5.9z"/>
<path fill="#472d7b" d="M2876.2 991.5l5.3 5.7 2.8-.1-5.2-4.9z"/>
<path fill="#482374" d="M2718.6 1001.1l5.1-1.2 3.1-6-5 1.9z"/>
<path fill="#404588" d="M2730.1 987.3l5.1-3.5 3.1-7.3-5 4.5z"/>
<path fill="#2d708e" d="M2744.7 962.6l5-7.1 3.2-6.1-5 7.7z"/>
<path fill="#3d4e8a" d="M2860.2 970l5.2 7.5 2.9 2.8-5.2-6.4z"/>
<path fill="#482374" d="M2881.6 997.4l5.2 5 2.9-.8-5.2-4.4z"/>
<path fill="#365c8d" d="M2854.9 961.8l5.2 7.9 2.9 4-5.2-6.7z"/>
<path fill="#1f968b" d="M2822.8 924l5.2 3.4 3 10.2-5.2-3.1z"/>
<path fill="#46075a" d="M2906 1011.8l5.4 2.6 2.8-.7-5.3-4z"/>
<path fill="#238a8d" d="M2756.2 944.6l5.1-8.9 3.1-2.7-5.1 8.9z"/>
<path fill="#48186a" d="M2886.9 1002.5l5.3 4.3 2.9-1.3-5.3-3.8z"/>
<path fill="#31688e" d="M2849.6 953.7l5.1 8 3 5.1-5.2-6.7z"/>
<path fill="#453781" d="M2727 993.7l5-2.5 3.2-7.2-5.1 3.5z"/>
<path fill="#20928c" d="M2828.1 927.4l5.3 4.9 2.9 9.6-5.2-4.3z"/>
<path fill="#2a778e" d="M2844.2 945.8l5.2 7.7 2.9 6.5-5.1-6.6z"/>
<path fill="#471365" d="M2706.9 1010.6l5.2 .4 3.2-4.7-5.2 .1z"/>
<path fill="#46075a" d="M2698.5 1015.6l5.1-1 3.3-4-5.2-.6z"/>
<path fill="#31688e" d="M2741.6 969.1l5-6.3 3.2-7.3-5 7.1z"/>
<path fill="#471365" d="M2892.3 1006.9l5.3 3.8 2.9-1.8-5.3-3.4z"/>
<path fill="#277f8e" d="M2838.9 938.6l5.1 7.2 3 7.5-5.2-6.1z"/>
<path fill="#481d6f" d="M2715.4 1006.2l5.1-.4 3.2-5.7-5.1 1.1z"/>
<path fill="#238a8d" d="M2833.5 932.3l5.2 6.3 3 8.6-5.2-5.3z"/>
<path fill="#46075a" d="M2911.4 1014.5l5.4 3.7 2.9-2.9-5.4-1.6z"/>
<path fill="#26ad81" d="M2803.7 913.6l5.2-2.1 3 10.5-5.2 1.5z"/>
<path fill="#2ab07f" d="M2789.9 914.8l5.2-6 3 8.4-5.2 4.9z"/>
<path fill="#470d60" d="M2897.7 1010.7l5.4 3.2 2.8-2.1-5.3-2.9z"/>
<path fill="#472d7b" d="M2723.8 999.9l5.1-1.6 3.1-6.9-5 2.5z"/>
<path fill="#365c8d" d="M2738.5 976.3l5-5.3 3.1-8.1-5 6.4z"/>
<path fill="#1f9e89" d="M2764.6 932.8l5.1-9.5 3.1-.2-5.1 9.1z"/>
<path fill="#24868e" d="M2753 949.1l5.1-8.5 3.1-4.9-5 8.9z"/>
<path fill="#48186a" d="M2712.2 1011l5.1 .1 3.2-5.3-5.1 .5z"/>
<path fill="#470d60" d="M2703.7 1014.6l5.2 .7 3.2-4.3-5.2-.4z"/>
<path fill="#3a538b" d="M2735.3 983.8l5.1-4.2 3.1-8.4-5 5.3z"/>
<path fill="#46327e" d="M2873.3 990.9l5.3 6.4 2.8 0-5.2-5.7z"/>
<path fill="#46075a" d="M2695.2 1018.5l5.2 1.6 3.2-5.5-5.1 1z"/>
<path fill="#470d60" d="M2903.1 1014l5.4 2.8 2.9-2.3-5.4-2.6z"/>
<path fill="#482878" d="M2878.7 997.5l5.2 5.7 2.9-.8-5.2-5z"/>
<path fill="#424086" d="M2868 983.3l5.2 7.4 2.9 .7-5.2-6.4z"/>
<path fill="#2ab07f" d="M2781.4 916.7l5.2-7.9 3 5.9-5.1 6.9z"/>
<path fill="#482374" d="M2720.6 1005.8l5.1-.8 3.2-6.5-5.1 1.6z"/>
<path fill="#481d6f" d="M2884 1003.3l5.3 4.9 2.9-1.3-5.3-4.4z"/>
<path fill="#26ad81" d="M2773 923l5.1-9.1 3.1 2.9-5.1 8.3z"/>
<path fill="#3d4e8a" d="M2862.6 974.9l5.3 8.2 2.8 1.7-5.2-7z"/>
<path fill="#404588" d="M2732.2 991.2l5.1-3 3.1-8.4-5.1 4.2z"/>
<path fill="#46075a" d="M2908.5 1016.8l5.4 4.2 2.9-2.8-5.4-3.7z"/>
<path fill="#48186a" d="M2889.4 1008.3l5.3 4.2 2.9-1.8-5.3-3.8z"/>
<path fill="#2ab07f" d="M2809 911.5l5.3-.3 3 10.9-5.3-.1z"/>
<path fill="#26828e" d="M2749.9 955.3l5-7.9 3.2-6.8-5 8.6z"/>
<path fill="#34608d" d="M2857.3 965.9l5.2 8.8 2.9 2.8-5.2-7.5z"/>
<path fill="#453781" d="M2729 998.3l5.1-2 3.1-7.9-5 3z"/>
<path fill="#471365" d="M2708.9 1015.4l5.2 .5 3.2-4.7-5.2-.2zM2894.8 1012.5l5.3 3.6 2.9-2.1-5.3-3.3z"/>
<path fill="#2f6c8e" d="M2852 956.5l5.2 9.2 2.9 4-5.2-7.9z"/>
<path fill="#46075a" d="M2700.5 1020.1l5.1-.7 3.3-4-5.2-.8z"/>
<path fill="#481d6f" d="M2717.4 1011.1l5.2-.1 3.1-5.9-5.1 .8z"/>
<path fill="#1fa187" d="M2761.4 935.5l5.1-9.5 3.1-2.7-5.1 9.4z"/>
<path fill="#297b8e" d="M2746.8 962.7l5-7 3.1-8.2-4.9 7.9z"/>
<path fill="#3bbb75" d="M2795.2 908.7l5.2-4.5 3 9.2-5.2 3.7z"/>
<path fill="#297b8e" d="M2846.6 947.1l5.2 9.2 3 5.3-5.2-7.9z"/>
<path fill="#2fb47c" d="M2814.4 911.2l5.2 1.8 3 10.8-5.2-1.8z"/>
<path fill="#470d60" d="M2900.2 1016.1l5.4 3.1 2.9-2.4-5.4-2.8z"/>
<path fill="#472d7b" d="M2725.9 1005l5.1-1.1 3.1-7.4-5.1 2z"/>
<path fill="#2d708e" d="M2743.6 971l5.1-5.9 3.1-9.2-5 7z"/>
<path fill="#472d7b" d="M2875.8 997.8l5.2 6.3 2.9-.9-5.3-5.6z"/>
<path fill="#443b84" d="M2870.4 990.4l5.2 7.3 2.9-.3-5.2-6.5z"/>
<path fill="#482374" d="M2881.1 1004.3l5.3 5.4 2.9-1.5-5.3-4.8z"/>
<path fill="#238a8d" d="M2841.3 937.9l5.1 9 3 6.6-5.1-7.8z"/>
<path fill="#34608d" d="M2740.5 979.6l5.1-4.7 3.1-9.6-5.1 5.9z"/>
<path fill="#471365" d="M2714.2 1015.9l5.2 .4 3.1-5.2-5.1 .1z"/>
<path fill="#46075a" d="M2905.6 1019.2l5.4 2.7 2.9-.9-5.4-4.2z"/>
<path fill="#470d60" d="M2705.7 1019.4l5.2 .9 3.2-4.3-5.2-.6z"/>
<path fill="#2ab07f" d="M2819.7 913l5.3 3.7 3 10.5-5.2-3.4z"/>
<path fill="#3e4989" d="M2865 981.9l5.3 8.3 2.9 .5-5.3-7.4z"/>
<path fill="#48186a" d="M2886.5 1009.8l5.3 4.5 2.9-1.8-5.3-4.2z"/>
<path fill="#46075a" d="M2697.2 1023l5.2 1.7 3.2-5.3-5.2 .7z"/>
<path fill="#3a538b" d="M2737.4 988.2l5.1-3.5 3.1-9.5-5.1 4.6z"/>
<path fill="#482374" d="M2722.6 1011l5.2-.4 3.1-6.6-5.1 1.1z"/>
<path fill="#1f968b" d="M2835.9 929.5l5.2 8.3 3 7.8-5.2-7.2z"/>
<path fill="#2fb47c" d="M2769.8 923.1l5.1-9.5 3.1 .2-5.1 9.1z"/>
<path fill="#1f9e89" d="M2758.2 940.4l5.1-9.1 3.2-5.3-5.1 9.4z"/>
<path fill="#23a983" d="M2825.1 916.7l5.3 5.7 3 9.7-5.3-4.9z"/>
<path fill="#1fa187" d="M2830.5 922.4l5.2 7.1 3 8.9-5.2-6.3z"/>
<path fill="#4ac16d" d="M2786.7 908.7l5.2-6.8 3.1 6.8-5.2 5.9z"/>
<path fill="#404588" d="M2734.2 996.3l5.2-2.3 3.1-9-5.1 3.4z"/>
<path fill="#471365" d="M2891.9 1014.4l5.3 3.9 2.9-2.2-5.3-3.6z"/>
<path fill="#365c8d" d="M2859.7 972.5l5.2 9.2 2.9 1.4-5.2-8.1z"/>
<path fill="#46075a" d="M2911.1 1021.9l5.4 3.7 2.9-2.9-5.5-1.7z"/>
<path fill="#42be71" d="M2778.2 913.7l5.2-8.6 3.1 3.7-5.2 7.8z"/>
<path fill="#453781" d="M2731.1 1003.9l5.1-1.4 3.1-8.3-5.1 2.4z"/>
<path fill="#52c569" d="M2800.5 904.1l5.3-2.6 3 9.8-5.2 2.1z"/>
<path fill="#470d60" d="M2897.3 1018.3l5.4 3.3 2.9-2.4-5.4-3.1zM2710.9 1020.3l5.2 .8 3.2-4.7-5.2-.4z"/>
<path fill="#2f6c8e" d="M2854.4 962.3l5.2 9.9 2.9 2.5-5.2-8.8z"/>
<path fill="#48186a" d="M2719.4 1016.4l5.2 .2 3.2-5.9-5.2 .4z"/>
<path fill="#46075a" d="M2702.4 1024.7l5.2-.4 3.3-4-5.3-.9z"/>
<path fill="#1f968b" d="M2755.1 947.2l5-8.3 3.2-7.6-5.1 9.1z"/>
<path fill="#482878" d="M2727.9 1010.6l5.2-.5 3.1-7.4-5.2 1.4zM2878.2 1005.5l5.2 5.8 2.9-1.6-5.2-5.4z"/>
<path fill="#46075a" d="M2902.7 1021.6l5.4 2.9 2.9-2.6-5.4-2.7z"/>
<path fill="#46327e" d="M2872.8 998.5l5.2 6.9 2.9-1.2-5.2-6.3z"/>
<path fill="#238a8d" d="M2751.9 955.6l5.1-7.4 3.2-9.3-5.1 8.5z"/>
<path fill="#297b8e" d="M2849 951.7l5.2 10.4 3 3.6-5.2-9.2z"/>
<path fill="#481d6f" d="M2883.5 1011.5l5.4 4.9 2.9-2-5.4-4.6z"/>
<path fill="#424086" d="M2867.4 990.4l5.3 7.9 2.9-.6-5.3-7.3z"/>
<path fill="#277f8e" d="M2748.8 965.1l5.1-6.3 3.1-10.4-5 7.5z"/>
<path fill="#2d708e" d="M2745.7 974.9l5.1-4.9 3.1-11-5.1 6.3z"/>
<path fill="#35b779" d="M2766.6 925.8l5.1-9.5 3.2-2.7-5.2 9.4z"/>
<path fill="#34608d" d="M2742.6 984.7l5.1-3.6 3.1-10.9-5.1 5z"/>
<path fill="#471365" d="M2716.2 1021.1l5.2 .8 3.2-5.2-5.2-.3z"/>
<path fill="#48186a" d="M2888.9 1016.4l5.4 4.2 2.9-2.3-5.4-3.9z"/>
<path fill="#46075a" d="M2908.2 1024.5l5.4 4 2.9-2.9-5.4-3.7z"/>
<path fill="#3d4e8a" d="M2739.5 994l5.1-2.5 3.1-10.2-5.1 3.7z"/>
<path fill="#3a538b" d="M2862.1 981.1l5.2 9.1 2.9 0-5.2-8.3z"/>
<path fill="#470d60" d="M2707.6 1024.3l5.3 1.1 3.2-4.2-5.2-.8z"/>
<path fill="#481d6f" d="M2724.7 1016.6l5.2 .1 3.1-6.4-5.1 .5z"/>
<path fill="#5ac864" d="M2805.9 901.4l5.3-.5 3 10.1-5.3 .2z"/>
<path fill="#46075a" d="M2699.1 1027.6l5.3 1.6 3.2-4.9-5.2 .4z"/>
<path fill="#424086" d="M2736.3 1002.5l5.2-1.4 3.1-9.3-5.2 2.5z"/>
<path fill="#238a8d" d="M2843.6 940.9l5.3 10.5 2.9 4.9-5.2-9.2z"/>
<path fill="#470d60" d="M2894.3 1020.6l5.4 3.5 2.9-2.5-5.3-3.3z"/>
<path fill="#6ece58" d="M2792 901.8l5.3-5.3 3 7.5-5.2 4.5z"/>
<path fill="#32648e" d="M2856.7 970.8l5.3 10.1 2.9 .8-5.2-9.2z"/>
<path fill="#46327e" d="M2733.2 1010.1l5.1-.6 3.1-8.2-5.1 1.5z"/>
<path fill="#1f9e89" d="M2838.3 930.6l5.2 10.1 3 6.1-5.2-8.9z"/>
<path fill="#52c569" d="M2775 913.4l5.2-9 3.1 .7-5.1 8.5z"/>
<path fill="#470d60" d="M2899.8 1024.1l5.4 3 2.9-2.6-5.4-2.8z"/>
<path fill="#48186a" d="M2721.5 1021.9l5.2 .6 3.2-5.7-5.2-.1z"/>
<path fill="#470d60" d="M2712.9 1025.4l5.3 1.1 3.2-4.6-5.2-.7z"/>
<path fill="#2fb47c" d="M2763.4 931.1l5.1-9.1 3.2-5.7-5.1 9.5z"/>
<path fill="#472d7b" d="M2875.2 1007.2l5.3 6.2 2.9-2-5.3-5.8z"/>
<path fill="#5ac864" d="M2811.3 900.9l5.3 1.8 3 10.1-5.3-1.8z"/>
<path fill="#6ece58" d="M2783.5 904.9l5.2-7.4 3.1 4.3-5.2 6.8z"/>
<path fill="#453781" d="M2869.8 999.8l5.3 7.3 2.9-1.7-5.3-6.8z"/>
<path fill="#46075a" d="M2704.4 1029.2l5.3 1.7 3.2-5.5-5.3-1.1z"/>
<path fill="#481d6f" d="M2880.6 1013.5l5.3 5.1 2.9-2.2-5.3-4.9z"/>
<path fill="#482374" d="M2730 1016.8l5.2 0 3.1-7.1-5.2 .6z"/>
<path fill="#2a778e" d="M2851.4 959.6l5.2 11 2.9 1.7-5.2-10z"/>
<path fill="#46075a" d="M2905.2 1027.1l5.4 4.3 3-2.9-5.5-4z"/>
<path fill="#3e4989" d="M2864.5 991.2l5.2 8.4 2.9-1.2-5.2-8z"/>
<path fill="#26ad81" d="M2832.9 921.2l5.2 9.2 3 7.3-5.1-8.2z"/>
<path fill="#48186a" d="M2886 1018.7l5.3 4.3 2.9-2.4-5.3-4.1z"/>
<path fill="#365c8d" d="M2744.7 991.5l5.2-2.4 3.1-11.5-5.2 3.7z"/>
<path fill="#5ac864" d="M2816.7 902.7l5.3 4.1 3 9.7-5.3-3.8z"/>
<path fill="#404588" d="M2741.6 1001.1l5.2-1.5 3-10.3-5.1 2.5z"/>
<path fill="#26ad81" d="M2760.3 938.7l5-8.4 3.2-8.3-5 9.1z"/>
<path fill="#2f6c8e" d="M2747.8 981.1l5.2-3.7 3.1-12.1-5.2 4.9z"/>
<path fill="#35b779" d="M2827.5 913.1l5.2 8 3.1 8.2-5.2-7.1z"/>
<path fill="#471365" d="M2891.4 1023.1l5.4 3.6 2.9-2.6-5.4-3.5z"/>
<path fill="#4ac16d" d="M2822.1 906.8l5.3 6.3 3 9-5.3-5.6z"/>
<path fill="#38588c" d="M2859.1 981.3l5.2 9.7 3-.8-5.3-9.1z"/>
<path fill="#453781" d="M2738.5 1009.5l5.1-.6 3.1-9.1-5.1 1.5z"/>
<path fill="#277f8e" d="M2750.9 970l5.2-5 3.1-12.2-5.2 6.3z"/>
<path fill="#470d60" d="M2718.2 1026.5l5.3 1 3.2-4.9-5.3-.7z"/>
<path fill="#48186a" d="M2726.8 1022.5l5.2 .6 3.1-6.2-5.2 0z"/>
<path fill="#1f9e89" d="M2757.1 948.2l5.2-7.5 3.1-10.3-5.1 8.5z"/>
<path fill="#218e8d" d="M2754 958.8l5.2-6.3 3.1-11.6-5.1 7.5z"/>
<path fill="#46075a" d="M2709.7 1030.9l5.2-.3 3.3-4.1-5.3-1.1z"/>
<path fill="#24868e" d="M2846 947.9l5.3 11.5 2.9 2.7-5.2-10.4z"/>
<path fill="#81d34d" d="M2797.4 896.5l5.2-3.2 3.1 8-5.2 2.6z"/>
<path fill="#470d60" d="M2896.8 1026.7l5.5 3.1 2.9-2.7-5.4-2.9z"/>
<path fill="#482878" d="M2735.3 1016.8l5.2 .1 3.1-7.8-5.2 .6z"/>
<path fill="#5ac864" d="M2771.8 916.1l5.2-9 3.2-2.7-5.2 8.9z"/>
<path fill="#2f6c8e" d="M2853.7 970.3l5.3 10.8 2.9-.2-5.2-10.1z"/>
<path fill="#472d7b" d="M2872.2 1009.5l5.3 6.3 2.9-2.4-5.3-6.1z"/>
<path fill="#482374" d="M2877.6 1015.9l5.3 5.3 2.9-2.5-5.3-5.2z"/>
<path fill="#443b84" d="M2866.8 1001.9l5.3 7.4 2.9-2.2-5.2-7.2z"/>
<path fill="#46075a" d="M2902.3 1029.8l5.4 2.7 2.9-1.1-5.4-4.3z"/>
<path fill="#48186a" d="M2883 1021.3l5.4 4.4 2.9-2.6-5.4-4.3z"/>
<path fill="#471365" d="M2723.5 1027.5l5.3 .9 3.2-5.2-5.3-.6z"/>
<path fill="#1f9a8a" d="M2840.6 936.1l5.3 11.6 3 3.7-5.3-10.4z"/>
<path fill="#481d6f" d="M2732.1 1023.1l5.2 .6 3.1-6.7-5.2 0z"/>
<path fill="#3e4989" d="M2861.5 992.9l5.2 8.8 2.9-2-5.2-8.5z"/>
<path fill="#470d60" d="M2714.9 1030.6l5.3 1.2 3.3-4.3-5.3-1z"/>
<path fill="#3d4e8a" d="M2746.9 999.6l5.2-1.3 3-11.3-5.1 2.3z"/>
<path fill="#443b84" d="M2743.7 1008.9l5.2-.5 3.1-9.8-5.2 1.3z"/>
<path fill="#46075a" d="M2706.4 1033.8l5.3 1.7 3.2-4.9-5.2 .3z"/>
<path fill="#32648e" d="M2750 989.1l5.2-2.3 3.1-12.6-5.2 3.4z"/>
<path fill="#471365" d="M2888.4 1025.8l5.4 3.7 3-2.8-5.4-3.6z"/>
<path fill="#95d840" d="M2788.9 897.4l5.2-5.8 3 4.8-5.2 5.2z"/>
<path fill="#8bd646" d="M2780.3 904.2l5.2-7.7 3.1 1-5.2 7.4z"/>
<path fill="#277f8e" d="M2848.4 958.4l5.2 11.7 3 .5-5.3-11z"/>
<path fill="#46075a" d="M2907.8 1032.5l5.4 3.5 3-2.9-5.5-1.7z"/>
<path fill="#472d7b" d="M2740.6 1016.9l5.2 .2 3.1-8.5-5.2 .5z"/>
<path fill="#2a778e" d="M2753.1 977.4l5.2-3.4 3.1-13.3-5.2 4.6z"/>
<path fill="#95d840" d="M2802.8 893.2l5.3-.7 3 8.2-5.3 .5z"/>
<path fill="#365c8d" d="M2856.1 982.8l5.2 9.9 3-1.7-5.3-9.7z"/>
<path fill="#52c569" d="M2768.7 921.8l5.1-8.6 3.2-6.1-5.2 9z"/>
<path fill="#470d60" d="M2893.9 1029.5l5.4 3.1 2.9-2.8-5.4-3z"/>
<path fill="#26ad81" d="M2835.3 924.8l5.2 11.1 3 4.8-5.2-10.1z"/>
<path fill="#471365" d="M2728.8 1028.5l5.3 .9 3.2-5.6-5.3-.6z"/>
<path fill="#238a8d" d="M2756.2 965l5.2-4.6 3.1-13.5-5.2 5.9z"/>
<path fill="#470d60" d="M2720.2 1031.8l5.3 1.3 3.3-4.6-5.3-1z"/>
<path fill="#472d7b" d="M2869.2 1012.4l5.3 6.3 2.9-2.9-5.3-6.3z"/>
<path fill="#482374" d="M2737.4 1023.7l5.2 .7 3.2-7.2-5.3-.1zM2874.6 1018.8l5.3 5.3 3-2.8-5.4-5.3z"/>
<path fill="#46075a" d="M2711.7 1035.5l5.3 1.7 3.2-5.3-5.3-1.3z"/>
<path fill="#443b84" d="M2863.8 1004.7l5.3 7.5 2.9-2.8-5.2-7.5z"/>
<path fill="#42be71" d="M2765.5 930.1l5.1-7.9 3.2-9-5.1 8.7z"/>
<path fill="#1fa187" d="M2759.3 952.6l5.2-5.9 3.1-12.8-5.2 7z"/>
<path fill="#48186a" d="M2880 1024.2l5.4 4.4 2.9-2.8-5.3-4.5z"/>
<path fill="#46075a" d="M2899.3 1032.7l5.5 2.7 2.9-2.9-5.4-2.6z"/>
<path fill="#2d708e" d="M2850.7 971.4l5.3 11.1 2.9-1.4-5.2-10.8z"/>
<path fill="#404588" d="M2749.1 1008.5l5.2-.3 3.1-10.6-5.3 1z"/>
<path fill="#20928c" d="M2843 945.9l5.3 12.3 2.9 1.2-5.2-11.5z"/>
<path fill="#2ab07f" d="M2762.4 940.7l5.2-7.1 3.1-11.3-5.2 8.1z"/>
<path fill="#38588c" d="M2752.2 998.4l5.2-1 3.1-12.2-5.3 1.8z"/>
<path fill="#42be71" d="M2829.8 914.4l5.3 10.1 3.1 5.9-5.3-9.3z"/>
<path fill="#3e4989" d="M2858.4 995.8l5.3 8.7 2.9-2.8-5.2-8.7z"/>
<path fill="#a0da39" d="M2808.2 892.5l5.3 1.8 3 8.2-5.3-1.8z"/>
<path fill="#46327e" d="M2745.9 1017.1l5.2 .3 3.1-9-5.2 .3z"/>
<path fill="#471365" d="M2885.4 1028.7l5.4 3.7 3-2.9-5.4-3.7z"/>
<path fill="#2f6c8e" d="M2755.3 986.8l5.2-1.8 3.1-13.6-5.3 2.9z"/>
<path fill="#48186a" d="M2734.1 1029.4l5.3 1.1 3.2-6-5.3-.7z"/>
<path fill="#470d60" d="M2725.6 1033.1l5.3 1.2 3.2-4.8-5.3-1z"/>
<path fill="#46075a" d="M2904.8 1035.4l5.5 3.5 2.9-2.9-5.4-3.5zM2717 1037.2l5.3 1.7 3.2-5.8-5.3-1.2z"/>
<path fill="#65cb5e" d="M2824.4 905.5l5.3 8.7 3.1 6.7-5.2-7.9z"/>
<path fill="#482374" d="M2742.7 1024.4l5.3 .7 3.1-7.5-5.3-.3z"/>
<path fill="#95d840" d="M2813.6 894.3l5.3 4.4 3 7.9-5.2-4.1zM2777.1 906.9l5.2-7.8 3.2-2.7-5.2 7.8z"/>
<path fill="#34608d" d="M2853 985.6l5.3 10 3-2.8-5.3-10z"/>
<path fill="#b5de2b" d="M2794.2 891.5l5.3-3.5 3 5.1-5.2 3.2z"/>
<path fill="#470d60" d="M2890.9 1032.4l5.4 3.2 3-2.9-5.5-3.2z"/>
<path fill="#81d34d" d="M2819 898.7l5.3 6.8 3.1 7.3-5.3-6.2z"/>
<path fill="#26828e" d="M2758.4 974l5.2-2.8 3.1-14.5-5.3 4zM2845.3 959.1l5.3 12.1 3-1.1-5.3-11.7z"/>
<path fill="#472d7b" d="M2866.2 1015.9l5.3 6.1 2.9-3.3-5.3-6.3z"/>
<path fill="#23a983" d="M2837.6 933.4l5.3 12.3 3 2-5.3-11.6z"/>
<path fill="#482374" d="M2871.6 1022.2l5.3 5.2 3-3.2-5.4-5.3z"/>
<path fill="#443b84" d="M2860.8 1008.4l5.2 7.3 3-3.4-5.3-7.5z"/>
<path fill="#3e4989" d="M2754.4 1008.2l5.2 .2 3.1-11.2-5.2 .5z"/>
<path fill="#453781" d="M2751.2 1017.4l5.3 .6 3.1-9.4-5.3-.1z"/>
<path fill="#b5de2b" d="M2785.7 896.3l5.2-6 3.1 1.3-5.2 5.7z"/>
<path fill="#48186a" d="M2877 1027.4l5.4 4.4 2.9-3.1-5.3-4.5z"/>
<path fill="#365c8d" d="M2757.5 997.4l5.3-.4 3-12.9-5.2 1.1z"/>
<path fill="#48186a" d="M2739.5 1030.5l5.3 1.1 3.1-6.3-5.2-.8z"/>
<path fill="#470d60" d="M2730.9 1034.3l5.3 1.3 3.2-5.1-5.3-1z"/>
<path fill="#46075a" d="M2896.4 1035.6l5.4 2.7 3-2.9-5.5-2.7z"/>
<path fill="#3e4989" d="M2855.4 999.7l5.2 8.5 3-3.6-5.3-8.8z"/>
<path fill="#1f9a8a" d="M2761.5 960.4l5.2-3.9 3.1-14.6-5.3 5z"/>
<path fill="#2d708e" d="M2847.7 974.2l5.2 11.2 3-2.8-5.3-11.2z"/>
<path fill="#46075a" d="M2722.3 1038.9l5.3-.3 3.3-4.2-5.4-1.3z"/>
<path fill="#482878" d="M2748.1 1025.2l5.2 .9 3.1-7.9-5.2-.6z"/>
<path fill="#471365" d="M2882.4 1031.8l5.5 3.7 2.9-3.1-5.4-3.7z"/>
<path fill="#8bd646" d="M2774 913l5.1-7.5 3.2-6.4-5.1 7.8z"/>
<path fill="#2c738e" d="M2760.6 985l5.3-1.2 3-14.3-5.2 1.9z"/>
<path fill="#46075a" d="M2901.9 1038.3l5.4 3.6 3-2.9-5.5-3.6z"/>
<path fill="#1f9a8a" d="M2839.9 946.2l5.3 12.7 3-.7-5.3-12.2z"/>
<path fill="#2ab07f" d="M2764.6 946.7l5.2-5 3.1-13.9-5.2 6.1z"/>
<path fill="#365c8d" d="M2850 989.8l5.2 9.7 3-3.9-5.2-10z"/>
<path fill="#3bbb75" d="M2832.2 921.2l5.3 11.9 3 2.8-5.3-11.1z"/>
<path fill="#470d60" d="M2887.9 1035.5l5.5 3.1 2.9-3-5.4-3.1z"/>
<path fill="#cae11f" d="M2799.6 887.9l5.3-.9 3.1 5.3-5.3 .7z"/>
<path fill="#3d4e8a" d="M2759.7 1008.4l5.3 .6 3.1-11.6-5.3-.2z"/>
<path fill="#472d7b" d="M2863.1 1019.9l5.3 5.9 3-3.7-5.3-6.2z"/>
<path fill="#453781" d="M2756.6 1018.1l5.2 .9 3.1-9.8-5.2-.6z"/>
<path fill="#471365" d="M2736.2 1035.6l5.4 1.3 3.2-5.3-5.4-1.1z"/>
<path fill="#481d6f" d="M2744.8 1031.6l5.3 1.2 3.2-6.6-5.3-.9z"/>
<path fill="#6ece58" d="M2770.8 922.1l5.2-7 3.2-9.5-5.2 7.6z"/>
<path fill="#453781" d="M2857.7 1012.9l5.3 6.9 3-4-5.3-7.3z"/>
<path fill="#4ac16d" d="M2767.7 933.6l5.2-6.1 3.1-12.1-5.2 6.9z"/>
<path fill="#481d6f" d="M2868.5 1025.9l5.4 5 3-3.5-5.4-5.2z"/>
<path fill="#470d60" d="M2727.6 1038.6l5.4 1.4 3.2-4.4-5.3-1.2z"/>
<path fill="#238a8d" d="M2763.7 971.2l5.3-2 3-15.3-5.2 2.9z"/>
<path fill="#24868e" d="M2842.3 961.9l5.2 12.1 3-2.8-5.2-12.1z"/>
<path fill="#32648e" d="M2762.8 997l5.3 .2 3.1-13.4-5.3 .3z"/>
<path fill="#482878" d="M2753.4 1026.1l5.3 1.2 3.1-8.1-5.3-.9z"/>
<path fill="#3e4989" d="M2852.3 1004.7l5.3 8 2.9-4.4-5.2-8.5z"/>
<path fill="#48186a" d="M2874 1031l5.4 4.1 2.9-3.3-5.3-4.3z"/>
<path fill="#46075a" d="M2719 1041.9l5.4 1.7 3.2-5-5.3 .3z"/>
<path fill="#2d708e" d="M2844.6 978.8l5.3 10.8 2.9-4.2-5.2-11.2z"/>
<path fill="#46075a" d="M2893.4 1038.6l5.5 2.7 2.9-3-5.4-2.7z"/>
<path fill="#65cb5e" d="M2826.8 910.2l5.3 10.8 3 3.5-5.3-10.1z"/>
<path fill="#c0df25" d="M2782.5 898.9l5.2-5.9 3.1-2.7-5.2 5.9z"/>
<path fill="#471365" d="M2879.4 1035.2l5.5 3.5 2.9-3.2-5.4-3.6z"/>
<path fill="#38588c" d="M2846.9 995.3l5.3 9.2 3-4.9-5.3-9.7z"/>
<path fill="#2a778e" d="M2766 983.8l5.2-.3 3.1-14.9-5.3 .9z"/>
<path fill="#2ab07f" d="M2834.5 933.2l5.3 12.8 3.1-.3-5.3-12.3z"/>
<path fill="#471365" d="M2741.6 1036.9l5.3 1.4 3.2-5.4-5.3-1.2z"/>
<path fill="#d5e21a" d="M2791.1 890.1l5.2-3.6 3.1 1.4-5.2 3.5z"/>
<path fill="#443b84" d="M2762 1019l5.2 1.3 3.1-9.9-5.3-1.2z"/>
<path fill="#d5e21a" d="M2805 887l5.3 1.8 3.1 5.3-5.2-1.9z"/>
<path fill="#481d6f" d="M2750.2 1032.8l5.3 1.3 3.2-6.7-5.3-1.1z"/>
<path fill="#3d4e8a" d="M2765.1 1009l5.3 1.1 3.1-11.8-5.3-.9z"/>
<path fill="#21a585" d="M2766.8 956.5l5.3-2.9 3-15.5-5.2 3.8z"/>
<path fill="#46075a" d="M2898.9 1041.3l5.5 3.5 2.9-2.9-5.4-3.6z"/>
<path fill="#470d60" d="M2733 1040l5.3 1.5 3.2-4.5-5.3-1.3z"/>
<path fill="#482878" d="M2860.1 1024.5l5.3 5.4 3-4-5.3-5.9z"/>
<path fill="#46327e" d="M2854.7 1017.9l5.2 6.4 3-4.4-5.3-6.9z"/>
<path fill="#482878" d="M2758.8 1027.3l5.3 1.4 3.1-8.2-5.3-1.3z"/>
<path fill="#8bd646" d="M2821.4 900.7l5.3 9.2 3 4.3-5.3-8.7z"/>
<path fill="#470d60" d="M2884.9 1038.8l5.5 3 2.9-3.2-5.4-3.1z"/>
<path fill="#32648e" d="M2768.2 997.2l5.3 .9 3.1-13.6-5.3-.7z"/>
<path fill="#46075a" d="M2724.4 1043.6l5.3 1.7 3.3-5.3-5.4-1.4z"/>
<path fill="#1f9a8a" d="M2836.9 949l5.3 12.7 3-2.8-5.3-12.7z"/>
<path fill="#481d6f" d="M2865.5 1030l5.4 4.7 2.9-3.7-5.3-5z"/>
<path fill="#424086" d="M2849.2 1010.4l5.3 7.4 3-5-5.3-8.1z"/>
<path fill="#26828e" d="M2839.2 966.8l5.3 11.8 3-4.6-5.3-12.1z"/>
<path fill="#cae11f" d="M2810.5 888.8l5.2 4.6 3.2 5.1-5.3-4.4z"/>
<path fill="#2f6c8e" d="M2841.5 984.9l5.3 10.2 3-5.4-5.3-10.9z"/>
<path fill="#b5de2b" d="M2815.9 893.5l5.3 7 3.1 4.8-5.3-6.6z"/>
<path fill="#20928c" d="M2769 969.2l5.3-.9 3.1-15.9-5.3 1.5z"/>
<path fill="#48186a" d="M2870.9 1034.8l5.4 3.9 3-3.5-5.4-4.2z"/>
<path fill="#3bbb75" d="M2769.9 941.7l5.3-3.8 3.1-14.7-5.3 4.6z"/>
<path fill="#3a538b" d="M2843.8 1001.8l5.3 8.4 3-5.6-5.3-9.2z"/>
<path fill="#471365" d="M2747 1038.4l5.3 1.4 3.2-5.6-5.3-1.3z"/>
<path fill="#443b84" d="M2767.4 1020.3l5.2 1.7 3.1-9.9-5.3-1.7z"/>
<path fill="#481d6f" d="M2755.6 1034.2l5.3 1.5 3.1-6.8-5.3-1.5z"/>
<path fill="#b5de2b" d="M2779.3 905.4l5.2-5.9 3.2-6.5-5.2 6.1z"/>
<path fill="#3d4e8a" d="M2770.5 1010.2l5.3 1.7 3.1-11.8-5.3-1.7z"/>
<path fill="#46075a" d="M2890.4 1041.8l5.5 4.3 3-4.8-5.5-2.6z"/>
<path fill="#4ac16d" d="M2829.1 920.7l5.3 12.3 3.1 .1-5.3-11.9z"/>
<path fill="#470d60" d="M2738.3 1041.5l5.4 1.5 3.2-4.6-5.3-1.4z"/>
<path fill="#297b8e" d="M2771.3 983.5l5.3 .7 3.1-15.2-5.3-.4z"/>
<path fill="#482878" d="M2764.2 1028.8l5.3 1.7 3.1-8.3-5.3-1.7z"/>
<path fill="#470d60" d="M2876.4 1038.7l5.4 3.4 3-3.3-5.4-3.6z"/>
<path fill="#46075a" d="M2729.7 1045.3l5.4 1.7 3.2-5.5-5.3-1.4z"/>
<path fill="#6ece58" d="M2773 927.5l5.3-4.6 3.1-12.9-5.3 5.4z"/>
<path fill="#32648e" d="M2773.6 998.1l5.3 1.7 3.1-13.6-5.3-1.7z"/>
<path fill="#472d7b" d="M2851.6 1023.4l5.3 5.8 3-4.8-5.3-6.4z"/>
<path fill="#95d840" d="M2776.1 915.1l5.3-5.3 3.1-10.1-5.2 5.9z"/>
<path fill="#443b84" d="M2846.1 1016.6l5.3 6.7 3-5.4-5.3-7.4z"/>
<path fill="#32648e" d="M2838.4 992.2l5.3 9.4 3-6.4-5.3-10.2z"/>
<path fill="#482374" d="M2857 1029.3l5.3 5 3-4.3-5.3-5.5z"/>
<path fill="#277f8e" d="M2836.1 973.6l5.3 11.1 3-6.1-5.3-11.7z"/>
<path fill="#eae51a" d="M2796.5 886.4l5.2-1 3.1 1.5-5.2 .9z"/>
<path fill="#46075a" d="M2895.9 1046.1l5.5 1.7 3-2.9-5.5-3.6z"/>
<path fill="#2ab07f" d="M2831.4 935.9l5.4 12.8 3-2.7-5.3-12.8z"/>
<path fill="#26ad81" d="M2772.1 953.7l5.4-1.5 3-16.2-5.3 2.2z"/>
<path fill="#1f9a8a" d="M2833.8 954.3l5.3 12.3 3-4.9-5.3-12.7z"/>
<path fill="#443b84" d="M2772.8 1022.1l5.3 2 3-9.7-5.3-2.3z"/>
<path fill="#3e4989" d="M2840.7 1008.9l5.3 7.6 3-6.2-5.3-8.4z"/>
<path fill="#3d4e8a" d="M2775.9 1011.9l5.3 2.3 3.1-11.6-5.3-2.5z"/>
<path fill="#48186a" d="M2862.4 1034.4l5.4 4.2 3-3.9-5.4-4.6z"/>
<path fill="#471365" d="M2752.4 1039.9l5.3 1.5 3.2-5.6-5.4-1.5z"/>
<path fill="#481d6f" d="M2761 1035.7l5.3 1.7 3.1-6.8-5.3-1.7z"/>
<path fill="#470d60" d="M2881.9 1042.1l5.5 2.9 3-3.2-5.5-3z"/>
<path fill="#dfe318" d="M2787.9 892.8l5.2-3.7 3.1-2.7-5.2 3.7z"/>
<path fill="#470d60" d="M2743.7 1043l5.4 1.6 3.2-4.7-5.4-1.5z"/>
<path fill="#1f968b" d="M2774.4 968.4l5.4 .4 3-16.3-5.3-.1z"/>
<path fill="#277f8e" d="M2776.7 984.2l5.4 1.8 3-15.2-5.3-1.8z"/>
<path fill="#482878" d="M2769.6 1030.5l5.3 2 3.1-8.2-5.3-2.1z"/>
<path fill="#81d34d" d="M2823.7 909.2l5.3 11.2 3.1 .6-5.4-10.8z"/>
<path fill="#32648e" d="M2779 999.9l5.4 2.5 3-13.4-5.3-2.8z"/>
<path fill="#471365" d="M2867.9 1038.7l5.4 3.6 3-3.6-5.4-3.9z"/>
<path fill="#365c8d" d="M2835.3 1000.4l5.2 8.4 3-7.1-5.2-9.4z"/>
<path fill="#46075a" d="M2735.1 1047l5.4 1.7 3.2-5.6-5.4-1.6z"/>
<path fill="#2a778e" d="M2832.9 982l5.3 10.1 3.1-7.3-5.3-11.1z"/>
<path fill="#46075a" d="M2887.4 1045l5.5 4.1 2.9-3-5.4-4.3z"/>
<path fill="#46327e" d="M2843 1023.1l5.3 5.8 3-5.5-5.3-6.7z"/>
<path fill="#3e4989" d="M2781.3 1014.2l5.3 2.8 3.1-11.1-5.3-3.3z"/>
<path fill="#453781" d="M2778.2 1024.2l5.3 2.5 3.1-9.5-5.3-2.8z"/>
<path fill="#482878" d="M2848.4 1029l5.4 5.2 3-4.9-5.3-5.8z"/>
<path fill="#424086" d="M2837.6 1016.4l5.3 6.5 3-6.3-5.3-7.6z"/>
<path fill="#52c569" d="M2775.2 937.9l5.4-2.1 3-15.4-5.3 2.8z"/>
<path fill="#20928c" d="M2830.6 961.8l5.3 11.6 3.1-6.7-5.3-12.4z"/>
<path fill="#f4e61e" d="M2801.9 885.3l5.2 1.8 3.2 1.6-5.2-1.8z"/>
<path fill="#481d6f" d="M2766.4 1037.4l5.3 1.9 3.2-6.7-5.4-2z"/>
<path fill="#470d60" d="M2873.4 1042.4l5.4 3.1 3-3.4-5.4-3.3z"/>
<path fill="#481d6f" d="M2853.9 1034.3l5.4 4.4 3-4.3-5.4-5z"/>
<path fill="#471365" d="M2757.7 1041.5l5.4 1.7 3.2-5.7-5.4-1.7z"/>
<path fill="#34608d" d="M2784.5 1002.4l5.3 3.3 3.1-12.9-5.4-3.7z"/>
<path fill="#3d4e8a" d="M2832.1 1009l5.3 7.2 3-7.3-5.3-8.4z"/>
<path fill="#2f6c8e" d="M2829.8 991.3l5.3 9 3-8.1-5.3-10.1z"/>
<path fill="#297b8e" d="M2782.1 986l5.4 2.8 3.1-14.9-5.4-3.1z"/>
<path fill="#482878" d="M2775 1032.5l5.3 2.2 3.1-7.9-5.3-2.4z"/>
<path fill="#aadc32" d="M2818.2 899.5l5.4 9.5 3 .9-5.3-9.1z"/>
<path fill="#52c569" d="M2826 923.4l5.3 12.3 3.1-2.7-5.3-12.3z"/>
<path fill="#470d60" d="M2749.1 1044.6l5.4 1.7 3.2-4.8-5.4-1.6z"/>
<path fill="#2ab07f" d="M2828.3 941.6l5.3 12.5 3.1-5.3-5.3-12.8z"/>
<path fill="#3e4989" d="M2786.8 1017.1l5.3 3.2 3.1-10.5-5.4-3.9z"/>
<path fill="#1f968b" d="M2779.8 968.8l5.4 1.7 3.1-16.2-5.4-1.8z"/>
<path fill="#d5e21a" d="M2784.7 899.5l5.2-3.7 3.2-6.7-5.3 3.9z"/>
<path fill="#48186a" d="M2859.3 1038.8l5.5 3.9 3-4-5.4-4.3z"/>
<path fill="#2ab07f" d="M2777.5 952.2l5.4 .1 3-16.5-5.3 .2z"/>
<path fill="#46075a" d="M2740.5 1048.7l5.4 1.7 3.2-5.7-5.4-1.6z"/>
<path fill="#453781" d="M2783.6 1026.7l5.3 2.8 3.1-9-5.3-3.2z"/>
<path fill="#34608d" d="M2826.7 1001l5.3 7.8 3-8.4-5.3-9z"/>
<path fill="#24868e" d="M2827.5 971.2l5.3 10.6 3-8.3-5.3-11.6z"/>
<path fill="#365c8d" d="M2789.9 1005.7l5.3 3.9 3.1-12.2-5.3-4.6z"/>
<path fill="#eae51a" d="M2807.3 887.2l5.3 4.6 3.1 1.5-5.2-4.5z"/>
<path fill="#81d34d" d="M2778.4 922.9l5.3-2.7 3.1-13.4-5.3 3.2z"/>
<path fill="#453781" d="M2834.4 1023.7l5.3 5.7 3.1-6.3-5.3-6.6z"/>
<path fill="#d5e21a" d="M2812.8 892l5.3 7.2 3.1 1.3-5.3-7z"/>
<path fill="#46075a" d="M2878.9 1045.5l5.4 2.8 3-3.3-5.4-2.9z"/>
<path fill="#424086" d="M2829 1017.4l5.3 6.2 3-7.2-5.3-7.3z"/>
<path fill="#2a778e" d="M2787.6 988.8l5.3 3.8 3.1-14.3-5.3-4.4z"/>
<path fill="#472d7b" d="M2839.9 1029.5l5.3 5.1 3-5.6-5.3-5.8z"/>
<path fill="#b5de2b" d="M2781.5 909.8l5.3-3.3 3.1-10.4-5.3 3.6z"/>
<path fill="#297b8e" d="M2824.4 981.7l5.3 9.4 3-9.2-5.3-10.6z"/>
<path fill="#3d4e8a" d="M2823.5 1010.7l5.3 6.6 3.1-8.3-5.3-7.8z"/>
<path fill="#424086" d="M2792.2 1020.4l5.3 3.6 3.1-9.9-5.3-4.3z"/>
<path fill="#f4e61e" d="M2793.3 889l5.2-1.1 3.2-2.6-5.3 1.1z"/>
<path fill="#481d6f" d="M2771.8 1039.3l5.3 2.1 3.2-6.6-5.4-2.2z"/>
<path fill="#38588c" d="M2795.4 1009.6l5.3 4.3 3.1-11.2-5.4-5.2z"/>
<path fill="#471365" d="M2864.8 1042.7l5.5 3.4 3-3.7-5.5-3.7z"/>
<path fill="#482374" d="M2845.3 1034.7l5.4 4.5 3-4.9-5.3-5.2z"/>
<path fill="#482878" d="M2780.4 1034.8l5.4 2.4 3.1-7.5-5.4-2.8z"/>
<path fill="#471365" d="M2763.2 1043.2l5.3 1.8 3.2-5.6-5.4-1.9z"/>
<path fill="#2f6c8e" d="M2821.2 992.7l5.3 8.2 3.1-9.6-5.3-9.5z"/>
<path fill="#2c738e" d="M2793 992.6l5.4 4.6 3.1-13.5-5.4-5.4z"/>
<path fill="#365c8d" d="M2818.1 1003.7l5.3 6.9 3-9.5-5.3-8.2z"/>
<path fill="#46327e" d="M2789 1029.5l5.4 3.1 3-8.4-5.3-3.6z"/>
<path fill="#1f968b" d="M2785.3 970.5l5.3 3.2 3.1-15.9-5.4-3.5z"/>
<path fill="#23a983" d="M2825.2 950l5.3 11.7 3.1-7.6-5.3-12.4z"/>
<path fill="#3d4e8a" d="M2800.8 1014l5.3 4.6 3.1-10.3-5.3-5.6z"/>
<path fill="#470d60" d="M2754.5 1046.3l5.4 1.7 3.2-4.8-5.4-1.7z"/>
<path fill="#2f6c8e" d="M2798.5 997.2l5.3 5.3 3.1-12.5-5.3-6.2z"/>
<path fill="#3d4e8a" d="M2814.9 1014.1l5.3 5.7 3.1-9-5.4-6.9z"/>
<path fill="#424086" d="M2820.4 1019.9l5.3 5.5 3-7.9-5.3-6.6z"/>
<path fill="#46075a" d="M2884.4 1048.3l5.5 3.8 3-3-5.5-4.1z"/>
<path fill="#38588c" d="M2809.4 1008.2l5.4 5.8 3-10.2-5.3-7z"/>
<path fill="#443b84" d="M2797.7 1024l5.3 3.8 3.1-9-5.4-4.6z"/>
<path fill="#34608d" d="M2804 1002.5l5.3 5.6 3.1-11.3-5.4-6.8z"/>
<path fill="#48186a" d="M2850.8 1039.2l5.4 4 3-4.4-5.4-4.5z"/>
<path fill="#453781" d="M2825.8 1025.5l5.4 5.2 3-6.9-5.3-6.2z"/>
<path fill="#31688e" d="M2812.6 996.6l5.3 7 3.1-10.8-5.4-8.2z"/>
<path fill="#81d34d" d="M2820.6 911.9l5.3 11.3 3.1-2.8-5.4-11.2z"/>
<path fill="#404588" d="M2806.3 1018.7l5.3 4.7 3.1-9.2-5.4-5.8z"/>
<path fill="#46075a" d="M2745.9 1050.4l5.4 1.7 3.2-5.8-5.4-1.6z"/>
<path fill="#5ac864" d="M2780.6 935.8l5.4-.3 3.1-15.6-5.4 .5z"/>
<path fill="#472d7b" d="M2831.3 1030.8l5.3 4.8 3.1-6.1-5.4-5.6z"/>
<path fill="#2fb47c" d="M2782.9 952.3l5.4 1.7 3.1-16.4-5.4-1.8z"/>
<path fill="#297b8e" d="M2815.7 984.4l5.4 8.2 3-10.9-5.3-9.5z"/>
<path fill="#470d60" d="M2870.3 1046.1l5.5 2.9 3-3.5-5.5-3.1z"/>
<path fill="#1f9a8a" d="M2822.1 960.3l5.3 10.7 3-9.2-5.3-11.8z"/>
<path fill="#4ac16d" d="M2822.9 929.5l5.3 11.9 3.1-5.6-5.3-12.4z"/>
<path fill="#443b84" d="M2811.7 1023.5l5.4 4.8 3-8.3-5.3-5.8z"/>
<path fill="#20928c" d="M2790.7 973.7l5.4 4.4 3.1-15.3-5.4-5z"/>
<path fill="#2a778e" d="M2807.1 989.8l5.4 6.8 3-12.1-5.3-7.9z"/>
<path fill="#238a8d" d="M2818.9 972.1l5.3 9.5 3.1-10.4-5.3-10.7z"/>
<path fill="#482374" d="M2785.9 1037.2l5.3 2.6 3.1-7.1-5.3-3z"/>
<path fill="#453781" d="M2803.1 1027.9l5.4 3.9 3-8.2-5.3-4.7z"/>
<path fill="#472d7b" d="M2794.5 1032.6l5.3 3.2 3.1-7.8-5.3-3.8z"/>
<path fill="#48186a" d="M2777.2 1041.4l5.4 2.2 3.1-6.3-5.3-2.4z"/>
<path fill="#482374" d="M2836.7 1035.7l5.4 4.4 3.1-5.4-5.4-5.1z"/>
<path fill="#471365" d="M2856.2 1043.2l5.5 3.5 3-4-5.4-3.8z"/>
<path fill="#277f8e" d="M2801.6 983.6l5.4 6.2 3.1-13.3-5.4-7.3z"/>
<path fill="#238a8d" d="M2796.2 978.1l5.3 5.4 3.1-14.3-5.4-6.4z"/>
<path fill="#46327e" d="M2817.2 1028.3l5.3 4.6 3.1-7.3-5.3-5.5z"/>
<path fill="#471365" d="M2768.6 1045l5.3 1.9 3.2-5.4-5.4-2.1z"/>
<path fill="#238a8d" d="M2810.3 976.4l5.3 7.9 3.1-12.1-5.4-9.2z"/>
<path fill="#fde725" d="M2798.7 887.9l5.3 1.8 3.1-2.6-5.3-1.7z"/>
<path fill="#472d7b" d="M2822.7 1033l5.3 4.3 3.1-6.4-5.4-5.2zM2808.6 1031.9l5.3 3.9 3.1-7.4-5.4-4.7z"/>
<path fill="#eae51a" d="M2790.1 895.9l5.3-1 3.1-6.9-5.3 1.2z"/>
<path fill="#481d6f" d="M2842.2 1040.1l5.4 3.9 3.1-4.7-5.4-4.6z"/>
<path fill="#470d60" d="M2759.9 1048l5.4 1.8 3.2-4.7-5.4-1.9z"/>
<path fill="#46075a" d="M2875.8 1049l5.5 4.3 3-5-5.5-2.7z"/>
<path fill="#2ab07f" d="M2788.4 954.1l5.4 3.4 3-16.1-5.3-3.8z"/>
<path fill="#95d840" d="M2783.8 920.2l5.3-.5 3.1-13.7-5.3 .8z"/>
<path fill="#b5de2b" d="M2815.1 902.2l5.4 9.5 3-2.7-5.3-9.5z"/>
<path fill="#482878" d="M2799.9 1035.9l5.4 3.2 3.1-7.1-5.4-3.9z"/>
<path fill="#3bbb75" d="M2819.8 938.5l5.3 11.3 3-8.3-5.3-12z"/>
<path fill="#46075a" d="M2751.3 1052.2l5.4 1.7 3.2-5.9-5.4-1.7z"/>
<path fill="#470d60" d="M2861.7 1046.7l5.5 3.1 3-3.7-5.4-3.4z"/>
<path fill="#1f9e89" d="M2813.4 962.8l5.4 9.2 3-11.6-5.3-10.4z"/>
<path fill="#481d6f" d="M2791.3 1039.9l5.4 2.7 3.1-6.7-5.4-3.1z"/>
<path fill="#482374" d="M2828.1 1037.4l5.4 4.1 3.1-5.8-5.4-4.8z"/>
<path fill="#1f968b" d="M2804.8 969l5.4 7.3 3-13.4-5.3-8.4z"/>
<path fill="#482878" d="M2814 1035.9l5.4 3.8 3.1-6.6-5.4-4.6z"/>
<path fill="#cae11f" d="M2786.9 906.5l5.4-.8 3.1-10.6-5.4 1z"/>
<path fill="#26ad81" d="M2816.6 949.9l5.3 10.3 3.1-10.3-5.3-11.3z"/>
<path fill="#48186a" d="M2782.6 1043.6l5.4 2.3 3.2-6-5.4-2.6z"/>
<path fill="#5ac864" d="M2786.1 935.6l5.3 1.8 3.1-15.7-5.3-1.8z"/>
<path fill="#471365" d="M2847.7 1044.1l5.4 3.4 3.1-4.3-5.5-3.9z"/>
<path fill="#23a983" d="M2793.9 957.6l5.3 5 3.1-15.5-5.4-5.6z"/>
<path fill="#1fa187" d="M2799.3 962.6l5.4 6.3 3.1-14.5-5.4-7.2z"/>
<path fill="#f4e61e" d="M2804.2 889.8l5.3 4.7 3.1-2.6-5.3-4.6z"/>
<path fill="#81d34d" d="M2817.5 918.3l5.3 10.9 3-6-5.3-11.2z"/>
<path fill="#dfe318" d="M2809.7 894.7l5.3 7.3 3.1-2.7-5.4-7.3z"/>
<path fill="#471365" d="M2774 1047l5.4 2 3.2-5.3-5.4-2.2z"/>
<path fill="#46075a" d="M2881.3 1053.3l5.5 1.8 3.1-3-5.5-3.8z"/>
<path fill="#482374" d="M2805.4 1039.2l5.4 3.2 3.1-6.5-5.4-3.9z"/>
<path fill="#481d6f" d="M2833.6 1041.5l5.4 3.7 3.1-5.1-5.4-4.3z"/>
<path fill="#482374" d="M2819.5 1039.7l5.4 3.7 3.1-5.9-5.4-4.4z"/>
<path fill="#26ad81" d="M2808 954.3l5.3 8.4 3.1-12.8-5.4-9.5z"/>
<path fill="#470d60" d="M2867.2 1049.8l5.5 2.7 3.1-3.5-5.5-2.9zM2765.3 1049.8l5.4 1.9 3.2-4.7-5.4-1.9z"/>
<path fill="#481d6f" d="M2796.7 1042.6l5.4 2.8 3.2-6.2-5.4-3.2z"/>
<path fill="#470d60" d="M2853.2 1047.6l5.4 3.1 3.1-4-5.5-3.4z"/>
<path fill="#5ac864" d="M2791.5 937.4l5.4 3.8 3.1-15.3-5.4-4.2z"/>
<path fill="#f4e61e" d="M2795.6 894.9l5.3 1.8 3.1-6.8-5.4-1.8z"/>
<path fill="#65cb5e" d="M2814.3 928l5.3 10.3 3.1-8.9-5.3-11z"/>
<path fill="#46075a" d="M2756.7 1053.9l5.4 1.7 3.2-5.8-5.4-1.8z"/>
<path fill="#48186a" d="M2788.1 1046l5.4 2.3 3.1-5.6-5.4-2.7zM2839.1 1045.3l5.4 3.4 3.1-4.6-5.5-3.9z"/>
<path fill="#42be71" d="M2811.1 940.3l5.4 9.5 3-11.3-5.3-10.4z"/>
<path fill="#481d6f" d="M2810.9 1042.5l5.4 3.2 3.1-5.9-5.4-3.8z"/>
<path fill="#a0da39" d="M2789.2 919.7l5.4 1.8 3.1-13.7-5.4-1.8z"/>
<path fill="#35b779" d="M2802.5 947l5.3 7.2 3.1-13.8-5.3-8.1z"/>
<path fill="#48186a" d="M2825 1043.4l5.4 3.4 3.1-5.2-5.4-4.1z"/>
<path fill="#aadc32" d="M2812 908.8l5.3 9.3 3.1-6.3-5.4-9.6z"/>
<path fill="#4ac16d" d="M2797 941.2l5.4 5.7 3-14.7-5.3-6.3z"/>
<path fill="#471365" d="M2779.4 1049l5.4 2.1 3.2-5.1-5.4-2.3z"/>
<path fill="#46075a" d="M2872.8 1052.5l5.5 3.8 3-3-5.5-4.3z"/>
<path fill="#d5e21a" d="M2792.4 905.8l5.3 1.8 3.1-10.7-5.3-1.8z"/>
<path fill="#48186a" d="M2802.2 1045.4l5.4 2.8 3.1-5.7-5.4-3.2z"/>
<path fill="#470d60" d="M2858.7 1050.7l5.4 2.8 3.1-3.7-5.5-3z"/>
<path fill="#eae51a" d="M2801 896.8l5.4 4.6 3-6.8-5.3-4.7z"/>
<path fill="#471365" d="M2844.5 1048.7l5.5 3 3.1-4.1-5.5-3.5z"/>
<path fill="#d5e21a" d="M2806.5 901.5l5.3 7.2 3.1-6.6-5.3-7.4z"/>
<path fill="#65cb5e" d="M2805.7 932.1l5.3 8.1 3.1-12.2-5.4-8.8z"/>
<path fill="#470d60" d="M2770.8 1051.7l5.4 1.9 3.2-4.6-5.4-2z"/>
<path fill="#48186a" d="M2816.3 1045.7l5.4 3.1 3.1-5.3-5.4-3.7z"/>
<path fill="#471365" d="M2830.4 1046.9l5.5 3.2 3.1-4.8-5.5-3.7z"/>
<path fill="#95d840" d="M2794.7 921.5l5.3 4.2 3.1-13.4-5.3-4.5z"/>
<path fill="#8bd646" d="M2808.8 919l5.4 8.9 3-9.6-5.3-9.4z"/>
<path fill="#471365" d="M2793.5 1048.4l5.5 2.4 3.1-5.3-5.4-2.8z"/>
<path fill="#81d34d" d="M2800.2 925.7l5.3 6.3 3.1-12.9-5.4-6.8z"/>
<path fill="#46075a" d="M2762.1 1055.6l5.4 1.7 3.2-5.6-5.4-1.9z"/>
<path fill="#cae11f" d="M2797.9 907.6l5.3 4.5 3.1-10.5-5.4-4.6z"/>
<path fill="#b5de2b" d="M2803.3 912.1l5.4 6.8 3-10.1-5.3-7.2z"/>
<path fill="#471365" d="M2807.7 1048.2l5.4 2.8 3.1-5.2-5.4-3.2z"/>
<path fill="#470d60" d="M2784.9 1051.1l5.4 2.2 3.2-4.9-5.4-2.4z"/>
<path fill="#46075a" d="M2864.2 1053.5l5.5 4.1 3-5.1-5.5-2.7z"/>
<path fill="#470d60" d="M2850 1051.8l5.5 2.7 3.1-3.8-5.5-3.1z"/>
<path fill="#471365" d="M2821.8 1048.8l5.4 2.9 3.1-4.8-5.4-3.4zM2835.9 1050.1l5.5 2.9 3.1-4.3-5.5-3.4zM2799 1050.8l5.4 2.4 3.2-4.9-5.4-2.8z"/>
<path fill="#470d60" d="M2776.2 1053.6l5.4 2 3.2-4.5-5.4-2.1z"/>
<path fill="#471365" d="M2813.1 1051l5.5 2.6 3.1-4.7-5.4-3.1z"/>
<path fill="#46075a" d="M2869.7 1057.6l5.5 1.7 3.1-3-5.5-3.8zM2767.5 1057.4l5.5 1.7 3.2-5.5-5.4-1.9zM2855.6 1054.5l5.5 4.4 3-5.4-5.5-2.8z"/>
<path fill="#470d60" d="M2827.3 1051.8l5.5 2.7 3.1-4.4-5.5-3.2zM2790.3 1053.3l5.5 2.1 3.1-4.6-5.4-2.4zM2841.4 1053.1l5.5 2.6 3.1-3.9-5.5-3.1zM2804.5 1053.2l5.4 2.4 3.2-4.6-5.5-2.7z"/>
<path fill="#46075a" d="M2781.7 1055.6l5.4 2 3.2-4.3-5.4-2.1z"/>
<path fill="#470d60" d="M2818.6 1053.7l5.5 2.5 3.1-4.4-5.4-2.9z"/>
<path fill="#46075a" d="M2861.1 1058.9l5.5 1.7 3.1-3-5.5-4.1zM2846.9 1055.8l5.5 4.3 3.1-5.5-5.5-2.8z"/>
<path fill="#470d60" d="M2832.8 1054.6l5.5 2.5 3.1-4-5.5-3z"/>
<path fill="#46075a" d="M2773 1059.1l5.4 1.7 3.2-5.2-5.4-2z"/>
<path fill="#470d60" d="M2795.8 1055.5l5.5 2.1 3.1-4.3-5.4-2.5zM2810 1055.6l5.4 2.4 3.2-4.3-5.5-2.7z"/>
<path fill="#46075a" d="M2787.1 1057.6l5.5 3.7 3.2-5.8-5.5-2.2zM2852.4 1060.2l5.6 1.7 3-3-5.5-4.3z"/>
<path fill="#470d60" d="M2824.1 1056.2l5.5 2.4 3.1-4-5.4-2.8z"/>
<path fill="#46075a" d="M2838.3 1057.1l5.5 4.3 3.1-5.6-5.5-2.7zM2801.3 1057.7l5.5 4.1 3.1-6.1-5.4-2.4zM2778.5 1060.8l5.4 1.8 3.2-5-5.4-2zM2815.5 1058l5.4 4.2 3.2-6-5.5-2.5zM2843.8 1061.4l5.5 1.8 3.1-3-5.5-4.4zM2829.6 1058.7l5.5 4 3.2-5.5-5.5-2.6zM2792.6 1061.3l5.5 1.7 3.2-5.3-5.5-2.2zM2806.8 1061.8l5.5 1.7 3.1-5.5-5.4-2.3zM2821 1062.2l5.5 1.8 3.1-5.3-5.5-2.5zM2783.9 1062.6l5.5 1.7 3.2-3-5.5-3.7zM2835.2 1062.7l5.5 1.8 3.1-3.1-5.5-4.2zM2798.1 1063.1l5.5 1.7 3.2-3-5.5-4.1zM2812.3 1063.5l5.5 1.8 3.1-3.1-5.4-4.2zM2826.5 1064l5.5 1.7 3.1-3-5.5-4z"/>
</g>
<defs><marker id="dm" markerWidth="5" markerHeight="5" refX="2" refY="2" markerUnits="userSpaceOnUse"><circle cx="2.5" cy="2.5" r="1.35" fill="#1f77b4"/></marker>
<marker id="wm" markerWidth="5" markerHeight="5" refX="2" refY="2" markerUnits="userSpaceOnUse"><circle cx="2.5" cy="2.5" r="1.0" fill="#fff"/></marker>
<pattern id="pu0" width="97" height="89" patternUnits="userSpaceOnUse"><path class="dt" d="m42 -2-24 0-7 1-2 1 8 2 6 1 4-3 2 5 12-2 12-2 0 3 23-3 3 3 1 1 5-4 12 7-3 1-3-1 0 2-9-4-1 1-8 0-11 4-4-1-3 0-19-3-23 2-8 2-5-3 4 6 0 1 0 2 5 0 2 0 14-5 11 4 1-1 8-2 3-1 1 3 16 1 19-2 8 1 1-1 0 3 3 2-2 4-7-4-4 1-15 2-6 0-3-2-4 2-3 0-12-1-1-1-3-2-16 3-6-3-7 3-8-2 6 5 18 2 0 1 8 0 2 0 4 2 11-5 7 2 9 0 2 1 3 0 9 0 16 8-1-2-9-2-9-1-5 3-21-3-4 0-11 3-3 2-28-3-2 7 8 2 5-4 22 1 2 3 4 0 4-1 7-3 1 3 8-2 15 0 2-2 5 0 1 0 7 0 6 3-1 7-26 0-4-1-2-3-17 5-15-4-13 2-1 1-1 0-16 1-2-1 3 6 11 0 7 0 18-2 3 2 1-2 2-2 14 3 2 0 0 2 2-2 6 0 11 0 13 4-24 2-9-2-2 0 0 1-12 1-4 1-22-2-9-2-9 4-1 7 14-1 3-1 3 2 6 0 2-5 6 3 10-3 3 0 3 2 5-2 0 2 3-2 22 4 3-4 9 1 5 4-1 1-1 0-1 4-15-3-1 1-9 1-6-2-9 4-5 0-1 0-2-3-4-2-19 1-1-1-11 4-2-3-10-1-1 0-1 4 1 2 6 4 7-4 15 4 9-4 2 0 5 0 3 2 3 1 7 0 1-1 7-1 3 4 5-5 7 5 17-5-2 9-4 0-2-1-1 1-5-2-5 1-5 3-3-3-11 1-4-2-1 1-4 2-6-2-8-1-6 4-4-5-11 0-4 3-12 5 7-2 0 2 3-2 1 5 2-1 7-1 6-3 3 5 12-4 3 2 3-3 6 0 27 2 6-1 1-1 3 0 7 2-10 4-9 0-23 0"/></pattern><pattern id="pu1" width="97" height="89" patternUnits="userSpaceOnUse"><path class="dt" d="m89 -1-1 0-34-1-40 0-5 1-10 3 2-1 2 1 6 3 2-1 3-3 1-1 2 2 2 3 4-2 4 2 2-2 4 2 2-1 2-3 11 0 2 3 1 1 6-1 4-3 2-1 10 1 11 1 2 2 2-1 1 1 5-2 2 0 2-1-7 10-2-2-3-3 0 2-9-2 0 3-4-2-2 0-2 4-1-5-2 4-1 0-1-4 0 2-1-2-1 0-1 3-9-3 0 4-1-4-8 0-1 0-6 5-6-4-3-1-3 5-2-5-4 0-11 0-1 5 0 2 2-1 1 0 0 4 3-4 2 5 10-3 1 2 4 0 2-2 1-2 0 3 3-1 5 0 2 1 4-1 0 2 3 1 4-4 0 2 2 1 2 0 0 1 1-2 2-1 4 0 1 0 3 0 0 3 4-1 1 0 0 1 1-5 0 5 1-5 1 0 3 4 1-3 0 2 2-3 0 5 12-4 2 7 0 3-6 0-4-1-4-4-12 3 0 1-1 1-5-1-7-2-5 0-4 1-1 2-1-5-1 2-1-1-7-1-1 1 0 1-3 3-3 0-1-1-4-1-1-1-5 2-2-3 0 4-1-4 0 1-4-1-5-1 0 3-8-1 0 3-1 1 4 5 5-5 3 4 1 1 2-2 1 2 3-4 1 0 2 1 0 1 0 1 1-4 1 0 2 5 2-4 2 2 2-2 6-1 1 0 1 0 3 0 1 0 2 2 5 1 0 1 8-3 4 3 2 0 7-3 0 3 1 0 1 0 1-1 0 2 3-3 1-1 0 3 4-4 3 3 1 0 1-2 2 1 7-2 0 9-4-2 0 4-1-2-1 2-6-2-2 2-6-4 0 3-2 1-1-2 0 2-3-4 0 3-1-3 0 4-1-1-1-3-2 2 0 1-2-1-3-3-1 2-2 1-1 0-1-3-1 0-3 3 0 1-4-2-4-2-9 3-1 0-2 2-9-1-4-3-5 1 0 2-1 0-3-1-2 0-3 0 0 2-5-2 0 7 3-4 3 2 1 0 1 1 2-1 3-1 1 4 3-2 2-2 6 0 6 2 0 1 2-3 2 3 2-1 1-3 1 1 0 3 0 1 2-2 0 1 2-1 4 1 3-4 8 5 1-4 7 0 6 0 4 0 3 3 1-1 3 0 0 2 11 0 3-1 3-4-1 9-1-1-3 1-1-2-1 0 0 1-3 3-7-5-2 3-5 1-1-3 0 3-6 0-2-4 0 5-13-2-3 0-6-2-3-1-9 4-2-3-6 4-3-3-1-2-1 4-2-3-1 0-3 0-2 2-3 0-4-2-3 2-1-1 2 7 2-2 9 2 0 1 1 0 2-3 0 4 6-3 1 0 3 2 3-4 1 1 0 2 1 0 2 2 6-4 1 1 0 1 1-2 1-1 3 0 0 5 12-2 0 1 5-2 4-2 7 2 4 0 4-1 0 2 2-1 3-2 5 4 3 1 5-2-4 3-2 1-3-1-7 0-1 3-1 2-4-5-4 1 0 4-1-3-8-1-2 1-9 2-5-2-3 3-12-4-5 2 0 1-2-4-6 0-7 5-3-3 0 1-7 2 3 2 0 3 1-2 6 1 4 2 1-1 7-3 4 1 2 0 1 1 5-3 1 2 6 2 1-3 1 2 3-3 3 3 4-3 6 1 7 0 4-1 1 2 1 3 1 0 1 0 1-3 0 3 3-1 2-2 2 1 3-3 1 8 0 2-3-3 0 2-1-1-2-1 0 3-1-4 0 1-1 4-1 0-3-4-3 1-1 0-3-1-8-1-1 1 0 1 0 2-3-2-3-2-2 2 0 3-2-3-2-2-3 2-1 3-1-5-1 4-4-3-10 0-1 3-5-2-2 0 0 3-2-4-4 2-4 2-4-3 0 2-1-3-1 4-1 1 5 2 7 2 0 1 2-1 1-3 14-1 0 4 4-3 2 2 2-3 2 4 1-1 6 1 2-3 3 0 4 2 4 2 2-4 5 0 2 4 3-3 0 1 3 2 3-5 0 3 1-2 0 2 2 1 1-4 1 4 3-3 1 3 2-1 2-3 1 4 1 5 0 1-3-1-1 2-4-4-2 4-5-5-1 4-2-3-1 0-3 1-9-2-2 0 0 1-8 4-10-5-1 5-1-5-4 5-3-1-4 0-9 0-5-2-1-1-3 0-7 0-3 1-5 1 0 1 1 2 2 1 2 1 6 2 1-3 2 1 2-2 0 3 1 2 4-4 5-1 1 0 6 0 1 1 13-1 8 2 1 1 9 2 6-4 1-1 0 2 10-2 8 4 1 0 1-2 6-2 2 1 0 5-25 0-12 0-13 0-11 0-23 0-13 0"/></pattern><pattern id="pu2" width="97" height="89" patternUnits="userSpaceOnUse"><path class="dt" d="m98 -1-2-1-10 0-2 1-6-1-4 1-1-1-10 1-1-1-1 1-3-1-1 0-1 1-2 0-4 0-2 0-8 0-10 0-2-1-5 1-22 0-2-1 0 4 4-1 3 2 2 2 1-5 0 1 1 4 1-5 2 3 9 1 2-2 3-2 2 2 0 3 4-1 5-4 1 1 0 1 6-2 1 4 1 0 1-4 0 5 4-4 4 0 7-1 6 0 0 2 1 0 0 3 3 0 2-1 3-4 0 5 2-2 1-2 2 2 1 2 1-4 4 3 1 0 1-4 0 5 2-4 3 1 1 7-1 0-4 0-3-1 0 1-1-3-2 3-3 2-4 0-1-3-2 0-2 1-1 0-1-3 0 2-1 1-1 1-1-4 0 3-1-2-1 0-5 2-4-1-2 3-3-4-5 4-1-4 0 2-2-1-2-1 0 3-1 0-2-4-1 0-3 3-1-2-5 0 0 1-2-2-1 1 0 1-3 1 0 2-3-2-1 1-1 1-1-4-2 3-1-2 0 2 0 1-3-4-1 3-2-2-2 1-1 1-1 1-5-2-1 0 0 4 0 3 3-4 6 4 5-1 3 1 1-4 10 2 1 1 2-2 2 2 2 1 2 0 0 1 1-1 10 0 2-4 0 3 2 2 1-3 1 3 1-2 3 2 4-1 3-1 4-1 1-1 1-1 2 2 4 3 1-2 1-2 0 4 6-3 1-2 1 1 3 1 0 2 2-3 2 0 3 0 0 3 2 2 0 4-4-3-2 1-1 2 0 1-1-2-2 2-2-3-2-2-1 0-1 5-1-2-2 2-1 0-1-1-8-1-4 1-1-4 0 3-1 1-1-2-1 2-3 0-2 0-3-4-1 0-5 1-5-1-1 2-2-1-5 1-2-2 0 3-1 0-1-2-4-1-8 3-1 0-2 0 0 2-4-4 0 1 0 3-6 0-3-2-1-3 0 4-2 7 3-2 3 2 1-5 0 2 3 1 1-1 1-1 0 1 1 3 1-4 1 0 2 1 3-1 1 0 8-1 0 2 6-1 5 0 1 0 0 1 1-1 0 1 1 0 0 2 1 1 2-3 1-2 0 1 1 0 0 1 1-1 3 4 1-3 1 0 1 1 2-1 0 1 2 1 0 1 2-4 5 1 1 2 1 0 1 0 2-4 0 1 2 4 2-1 1 1 7-4 4 2 1-1 7-2 0 3 0 1 2 1 0 1 0 4-3-2-1 0-1 0-2-2 0 2-1-1-2 0 0 3-3-2-1 2-2-1-1 0-1 1 0 1-5-3-4-2-4 2-2 2-1-4-3 0-1 4-1-3 0 3-1-2 0 1-7 2-1-5 0 2 0 2-3 1-1-2 0 2-2-1-1 1-1-1-2-1-1-3 0 1-1-1-1 0 0 4-3-2-1 1-1-2-2-1-2 5-2-3-3 0-1-1-1 1 0 2-1 0-1-3-3 2-1 1-7 1-1-1-1-3-1 0-4-1 0 4-1 2 0 3 4-3 0 3 2-2 0 2 0 2 3-1 1-4 1 2 0 2 1-1 3-2 4 1 1-2 0 5 1-5 0 1 2-1 0 4 4 1 4-3 1 2 1-2 0 1 1 0 6-2 3 3 0 1 1-4 0 2 2-3 1 2 0 1 0 1 1 1 2-3 0 1 1 0 1 0 2-3 5 2 1 2 5 1 3-1 1-1 2 2 3-5 6 3 7-3 3 3 1-1 1 3 3-4 0 1 1 3 1-5 0 3 2 6-1 0-2 1-1-4 0 4-4-1-1 2-4-4 0 1 0 3-6 0-3 0-1-4 0 1-4-1-2 0-1 0-2 1-2 3-3-4-1 2-1 1-1-1-2 0-1-1-2 1-1-1-1 2-2-1-3-3-2 2-3 2-1 1-2-5-3 0-1 0 0 1-3-1-1 2 0 1-1-2 0 4-1-5 0 2-2-2 0 3-5-1-3 0-5 2-7-2-1 3-4-2-1 0 5 3 4 5 1-1 3-2 0 3 1-5 2 3 4-3 1 2 3 1 0 1 0 1 1-4 3-1 5 1 6 4 3-1 1-4 0 1 7-1 1 3 6 1 2-4 2 1 3 0 5 2 3 2 2-5 4 4 5 0 1 0 2-3 1 1 1 3 1 0 1-2 5 0 3 8-1-4 0 1-1-2-5 5-2-5-1 3-2-2-4 3-1-3-2 3-1-3-5 1-2-2 0 3-2-1-1 1 0 2-3-3 0 3-2 0-2-4-2-1-4 0-2 4-2-1-1 0-3-2-4-1-1 1 0 3-2-4-1 1-1 0-1 3-1-3-4-1-1 3 0 1-1-1-5 1-1-1-1 2-1-1-3-2-1 2-1 0 0 1-2-5-1 1-2 2-6-3-2 3-3 2-1-4 0 1-1-2 3 10 4-2 1 1 3-3 2 1 1-1 1 0 1 2 3-2 2 2 0 1 3-3 1 0 1 1 0 1 2 3 1-2 2 1 1-3 2 0 3 3 1 0 1-2 0 1 2-3 0 2 4 0 2-2 0 5 5-3 4 3 6-5 2 0 2 5 1-5 0 3 2-1 1 1 3 0 1 1 2 0 1 1 3-5 1 0 3 3 1-1 1 2 0 1 1-5 0 3 1-2 3-1 0 2 1 3 1-2 2-1 1 2 4 0 0 4-2 2-2-1-1-3-1 4-2 0-1 0-2-1 0 1-2-3-2 1-4-2-2 5-4-4-2-1 0 4-2-2-1-1-1 0 0 3-2 0-2-2-2-1 0 3-1-2-1-2 0 4-2 1-3 0-1-3 0 1-3 1-5-4-2 3-1-1-2 3-4-1-3-3-1-1-7 5-2 0-1-1-1-3-4-1-1 2-3 2-1-2-1 0-4-1-1-1-1 4-1-2 0 3-1-4-1 2-1-1-2 2 1 7 3-1 5-1 1-3 1 1 4 3 3 1 2-4 0 1 1-1 0 4 4-4 0 1 1-1 0 2 1-2 1 0 4 2 2-3 4 1 0 2 1-1 1 1 1 2 4-1 3 1 1-5 5 5 2-3 6-1 1 2 1-2 1 0 7 1 1-2 0 5 1-3 5-2 1 0 1 2 4 0 3 0 0 2 1 1 2-1 4 0 3 1 1 4 0 1-2-3 0 3-1 1-3-5 0 4-1-3-2 3-2-4-5 0-1 3-1 1-1-1-1 1-1-3 0 3-1 1-1-2-4-3 0 1-2-1-2 4-1-4-1 5-7-5 0 1-1 4-1-5-1 2 0 3-1-2-3-2 0 3-1-2-1 3-1 0-1-4-2 4-5-3-1-1-1 0-6-1-2 2-1-1 0 2-8 1-1-2 0 1-6-3-1 3-7-2-1 3-4-1 0 1-2-3 0 3-1 1 0 2 1 2 2-3 0 4 5-2 1-1 2 4 1-5 1 2 0 3 9-4 3 3 2-2 2 3 1-2 2 1 8 1 2-1 5 1 3-1 0 1 2-1 2-3 2 3 1-2 1 2 1-1 1 0 1-3 2 4 1-1 1 1 0 1 2-4 1-1 3 5 3-4 0 1 1-1 0 2 1 1 3-3 1-1 0 3 0 2 6-1 1-3 1 2 5-3 0 5 1-4 3 0 1 2 2-3 0 4-5 2-8 0-4 0-25 0-4 0-13 0-30 0-6 0"/></pattern><pattern id="pu3" width="97" height="89" patternUnits="userSpaceOnUse"><path class="dt" d="m98 -1-6 0-4 0-2 0-1 0-11-1-1 0-9 0 0 1-2 0-8 0-1 0-2-1-7 0 0 1-3-1-7 0-3 1-1-1-2 1-3-1-2 0-3 0-1 0-1 1-6 0-1-1-10 1-2 1 3 0 0 4 6 1 2-1 1-4 1 1 0 1 1-1 0 3 1 1 3 0 2-4 0 2 0 1 1-1 0 2 2-4 0 1 1 2 2-3 1 1 1 3 1-3 1 0 1-1 0 3 2-3 0 4 2-4 1 2 0 2 1-5 1 0 2 1 2 4 1-3 1 2 0 1 1-5 0 2 2 3 4-2 2-3 0 1 1 1 0 1 0 1 1-4 1 1 0 3 4-2 3 0 3 2 2-1 0 2 1 0 1-3 1 2 1-4 2 0 1 4 3-1 0 2 2-4 0 3 2-4 0 1 0 1 0 1 0 2 1-3 1-2 0 3 1-2 1 3 8-1 3-3 2 8 0 3-2-4-1 0 0 2 0 1-1-4-1 0 0 2-3 3-5-2-2 0 0 1-2-2-4 2-1-1-2 0-1 1-3-4-1 0-2 2 0 1-1-3-1 5-2-4-1 4-1-2-1-3 0 1 0 1-2-2 0 5-3-5-1 5-3-3-3 3-2-3-2 0-2 1-3-3 0 1 0 1 0 2-1-4-2 2 0 1 0 1-1-2-1-2 0 2 0 2-8 0 0 1-2-1-2-1 0 1-1-3 0 1-1-2 0 5-1-2-2-3-1 2-1-2 0 1 0 4-1-5 0 1-2 1-1-1 0 4-1-3-1 0 0 1-1-2 0 1-2-1-1 2 0 1-1-4 0 2-1 2-2-2 0 3-2-4-1 0 0 2 0 1 0 3 2 1 2 2 1-3 1 1 2 1 2-3 1 1 3 4 4-2 1-2 1-1 1 2 0 1 0 1 1-1 0 1 1-3 0 3 0 1 2-1 1-3 0 3 1-4 2 1 2-1 1 3 0 2 1 0 1-4 0 4 2 0 1-1 2 1 1-5 1 1 0 3 1-2 0 3 1 0 2-4 0 1 0 1 0 1 2-2 1-1 0 3 1-2 1-2 0 5 2-3 2 1 4-3 1 2 1 2 1-1 1-1 1-1 2 2 1 0 0 2 1 0 2-4 1-1 0 1 1 0 3 3 1 1 1-4 0 1 0 3 4 0 1-2 0 2 1 0 2-4 0 2 1 0 2 1 1-1 1 1 0 1 2-4 1 4 2 0 3-4 2 1 1 9-1-5 0 1 0 4-1-2-1 2-1-3 0 3-3-4 0 3 0 1-4-2 0 2-1-5 0 1 0 2-1 1-1-1-1 1-1-4 0 1-2 0 0 2-1 0-1 0-2-1-2 3-1-3-1 0 0 2-1-4-1 4-1-3-1 4-3-1-2-3 0 3-1 1-1-3-1-1-3 2-1-2-3 0 0 4-1-3 0 3-2-5 0 1 0 2 0 1-2-4 0 4-1-2 0 3-5-5-1 5-3-2-3 0-1 0 0 2-2-4 0 4-2-4 0 4-2-4 0 1-2-1-1-1 0 2 0 3-2-3-2-2 0 2-1 0 0 3-5-3 0 3-2-5 0 2-1 0 0 1 0 1-1-3 0 4-1 0-2-2-2-2 0 3-1-2 0 2-4 1-1-5 0 1 0 4-1-2-1 2 1 4 1-2 3 3 1-1 1-1 1 0 1-1 1 3 1 1 1-5 1 5 4-4 0 1 0 2 2-4 0 4 4-4 1 2 1 3 2-4 0 2 0 2 1 0 2-4 1 3 1-1 1-3 0 2 1 3 1-1 1-3 1 2 2-3 0 4 1-2 0 2 1 0 2-2 1 2 0 1 5-3 0 1 0 2 1 0 1-4 0 3 2-4 0 2 1 2 0 1 2 0 1-1 1 0 0 1 2-4 2 2 1 0 2-3 0 4 1 1 1-3 1 0 1-1 0 2 3-2 1-1 1 5 3-3 2 0 2-2 0 5 1-5 1 2 1-1 0 3 1-4 2 0 1 2 3 0 0 1 0 2 1-5 1 1 1 0 1 1 1 1 2 0 1-2 1 9-3-1-1-2 0 4-2-4-4 3 0 1-1-2-1-3-1 4-2-3 0 4-1-4 0 1 0 2-1-2-1 3-2-4-2 2-1 0-3-3-1 2-1-2 0 2-1 3-2 0-1-5 0 2-2 0 0 2-1-1 0 2-1-4 0 2-1-3-1 1-1 4-3-2 0 2-2-2-3 1-1-2-2 2-1 1-1 0-2 0-1-3-1 0-1-1 0 1-4 2-1 1-3-5-2 3 0 1-1-4 0 3-2-2-1-1-1 0 0 5-1-2 0 1-1-2-2 0-2-2-3 3-1-1 0 2-1 0-1-4-3 0 0 2-3 2-7 0-3-1 1 4 3 2 3-3 0 4 1-3 2 2 1 2 2-4 0 2 0 2 1-3 1 1 3 1 6-4 0 3 1-3 0 1 1 3 1-4 1 0 0 5 1 0 1-3 0 3 1-5 0 1 0 1 0 1 4-2 1 2 3-2 4-1 0 2 2 1 1 0 1-1 1-1 0 2 2 1 0 1 2-2 5-2 0 1 1 2 1-4 0 5 3-2 1 2 1-3 1 0 0 1 1 0 1 1 2-3 0 4 1-2 3-1 2 1 0 1 2-1 2-1 0 2 2-1 1-3 1 5 1-5 0 3 0 1 5 1 1-5 0 4 1-4 1 0 0 5 3-5 1 5 2-4 2 10-1-3-1 2-2-1-1 1-2-4-2 3-2 2-1-2-1 1-1-2-1 3-2-5-1 1 0 2-1 1-1-4-1 5-1-5 0 5-1-2-3-2-1-1 0 3-1 0-1-1 0 2-2-1-1 2-2-4 0 4-1-5 0 5-1-4-2-1-1 5-1-5-2 0-1 5-2-4-1 4-1 0-2-3-1-1-1-1 0 3-3-3-2 3-1-2 0 4-2-1-1 1-2-5 0 2 0 3-3-2-1-2 0 2 0 2-3-2-1-3-3 4-1-4 0 1 0 1-2-1-1-1-1 4-3-2-2 1-2-2-6 2-3 1-3 1-1-3-1 2 1 3 1 3 1-1 1-1 1 0 0 3 1-2 1-1 0 3 1-1 2-3 0 3 1-3 3 4 2-5 1 1 1 1 1-1 1-1 0 1 3 3 2-4 2 0 0 2 0 1 4 2 1-2 1-1 1 0 1 3 1 0 1-1 1-4 0 5 2-3 0 3 3-1 1-1 1-3 1 1 3 3 1 0 2 1 4-4 2-1 0 2 3-1 1 1 3-1 3 3 2 0 2 1 1-2 2 0 1 2 1-4 1 0 3 0 0 4 1-1 0 1 1-3 1 3 1-2 1-2 0 4 2-5 3 2 1 2 0 1 3-3 3-1 1 3-1 2 0 1-1-1 0 5-2 0-1-5-2 2-1 2-2-3-1 0 0 2-1-2 0 4-1-5-1 2-1-1 0 4-2-5-1 1-2 1-2 1 0 2-1-1-2-3 0 2 0 2-1 0-1-4 0 1 0 1 0 2-1-4-1 2-2-3 0 5-3 0-1-1-1-4 0 4-2-4-5 1 0 1-1 1 0 1-1 0 0 1-3-3-1-2 0 4-1 0-2-1-1-3-1 5-2-2-1-2 0 4-3-3-1-2-1 3-2-1-1-2-1 1 0 4-1 0-2 0-3-3-2-2 0 4-3-4-2 3 0 1-1-4 0 5-1-1-2-4-3 1-1 1-3 0-2 0 0 2-1-4 0 1 0 2-1-3-1 0 0 3-1 1-2-4 0 1-1-1 0 5-1 1 2 4 0 1 1-3 0 3 1-3 0 1 0 2 2-2 1-3 0 2 1 3 2-4 6 0 0 1 0 3 2-5 1 1 1 1 2-1 0 2 0 1 3-2 0 1 1 1 1 1 2-3 0 2 1-2 0 1 0 1 1 0 1-4 1 3 2-2 1 4 2-5 1 1 0 2 2 0 1 2 1 0 2-3 0 1 2-3 0 1 0 1 1 3 1 0 1-5 0 3 1-1 1 3 4-5 0 2 0 3 3-5 0 3 1-3 0 1 1 0 0 3 1 0 4-1 1 2 1-4 0 3 2-2 2 0 1-2 0 5 1-5 0 1 0 3 0 1 1-4 3 1 0 1 1-2 0 2 1 2 1-3 1 1 1 0 1 0 2-2 6 1 3 0 1-2 1 0 2 4 0 1 1-3 0 3 0 2-1-1-1 2 0 1-1 0-4-3-1 5-5-3-1 1-1-1-1-2-2 4-1 1-1-5 0 3-1-2-1 0-1-1 0 1 0 3 0 1-1 0-2-2 0 1-1-4 0 1 0 1-2 1-1 2-1-3-1-2-3 0 0 2-1-1-1-1 0 3-1-3 0 1-2 4-1-4 0 1-4 2-1-1-4-3-2 2-1-1 0 4-1-3-1 0 0 2-3-3 0 1 0 1-1 1-1 1-1-1-2-2-1-1-1 2-1-1-1 1-3-3 0 5-1-5-1 0 0 4-1-2-1 2 0 1-2-5-3 4-1-2 0 1-1 1-3-3-2 0-3 0 0 3-3-4-3 1 0 2-2-2-1-1-1 2 0 1-1 0 1 5 0 2 1 1 1-2 2-3 3 5 1-5 3 2 1 0 1 0 1-1 0 1 1 3 3 0 1-4 0 1 0 2 1-3 0 3 1-1 1-1 1 0 1-2 2 0 0 1 0 1 3 1 2 1 1-2 0 3 1-5 0 3 1 0 0 1 1-3 1 1 1-1 0 2 2 0 2 0 1 1 2 1 5-1 1-2 2 0 0 1 2-3 2 3 3-3 2 0 0 3 1 1 2-4 0 4 2-3 1 4 1-2 1 1 1-2 0 1 1-3 0 4 0 1 1-5 0 5 2-1 1 0 1-4 1 4 1 1 1-3 1-1 1 4 2-1 0 1 2-3 1-1 0 4 1-3 0 1 1 0 0 1 3-2 0 1 6-1 0 2 1 1 1-2 0 5-1-2-1 3-1 2-1-1-1-4-1 3 0 2-1-4 0 4-4-5-2 1 0 3-1-3 0 1 0 3-2-3-1-1 0 3-2 0-1-4-1 2-1 3-1-5 0 4 0 1-1-5-1 4-1 1-3-1-2-3 0 2-1 0-1-1-4-2 0 5-1-3-2-2-1 0-1 3-2-1 0 1-2-1-1 0 0 3-1 0-1-4-1 0-1 4-1-2-2-3 0 4-2 1-2-5-3 3-1 2-1-3 0 1-2 0-1-1 0 2 0 1-8-3-1-2 0 1 0 4-1-3 0 1-1-2-1-1-1 0-1 2-1-2 0 3-3 1 0 1-3-5 0 2-1-1 0 4-2-5-2 0 0 2 0 2 0 1-1-2-1-2-1 2-1-1-1 0-1-2-1 3-1 2 0 1 0 2 1 0 0 3 1-5 1 2 0 2 1 1 1-4 3 0 4 0 0 1 1 1 0 2 1-1 2-3 3-1 1 4 1-1 1 0 3 0 2-3 0 3 1-3 2 4 2-1 1 1 3-1 1-3 0 1 1 4 1-4 0 4 4-2 1-3 1 2 1-1 0 2 0 1 0 1 1-3 1 0 2 0 1 0 1-1 0 1 1-2 0 1 0 2 1 2 1-1 1-4 0 1 0 3 0 1 2-5 4 1 2 3 2-1 0 1 2-4 1 1 1 0 3 1 0 3 2-5 0 3 0 2 1-2 1-3 4 2 2 3 1-4 1 4 1-5 1 1 0 3 1-2 0 2 1-2 1 2 1-2 3 2 1-2 2-2 0 2 1 0 0 3 1-5 1 2 0 2-14 2-3 0-2 0-24 0-3 0-13 0-5 0-2 0-2 0-5 0-3 0-3 0-6 0-1 0"/></pattern><pattern id="pu4" width="97" height="89" patternUnits="userSpaceOnUse"><rect width="97" height="89" fill="#1f77b4"/><path class="wt" d="m98 -2-5 1-14-1 0 1-2-1-2 1-1 0-20-1-1 1-3-1-9 1-3 0-3 0-3 0-1 0-3 0-6-1-1 1-3-1-9 1-4 0-4-1-2 6 2-3 1 2 2 2 1-3 3-1 0 2 0 2 1-3 3-2 4 4 3-4 2 2 1 1 1-2 1 4 1-3 0 2 2-3 1-1 0 3 3 2 3-1 2-4 1 3 0 2 1-5 4 0 0 2 1 0 0 1 1-1 1 3 1-5 10 0 0 1 2 2 2-1 4-1 6 1 0 3 1-4 0 2 11 2 3-2 1 0 0 1 4-1 2 1 0 1 4-1 2-3-8 10-2-5-1 1-1 0-1 3 0 1-4 0-2-1-2-1-1-2-2 3-9-1-2 1 0 1-1 0-2-1 0 1-3-4-2 2-1-1 0 3-2-5-1 5-2-2-3-1-1-1-3 0-1 0 0 1-2-2-4 1-3 4-2-1-2-2-2 0 0 2-2-3-1 1-2-2 0 3-1-3 0 1 0 1-2 0-1 3-5-2-1-2-2-1 0 1 0 1-1 2-1-1-1 1-2-2 0 3-6 5 1-1 4-2 0 3 1-4 0 1 2 3 1-4 3 2 0 3 1-2 2-3 0 5 1 0 2-5 1 2 0 3 1-5 1 4 2-2 1 0 1 3 2-5 2 0 3 0 4 4 4-4 1 5 1 0 1 0 4-1 2-4 0 2 3-1 0 3 1-4 0 1 2 3 1 0 5-3 2 2 0 2 3-1 1-2 1-1 0 2 2-3 2 5 3-2 4-2 0 2 0 2 2 0 1-3 0 2 3-4 0 2 1-2 0 1 2-1 0 3 0 2 4-5 0 1 2-1 1 0 2 4 1-1 2 8-3 0-1-2-4-2-1 0 0 4-2-5 0 5-2-4 0 3-1-3-3 1-4 2-4 0 0 1-4-5-1 4-5 1-2-4-4 4-2-4-2-1-1 2-4 0-1 2-1-1 0 2-1-3-3 2-3-4-1 3 0 1-3-4 0 1-2 0 0 2-1 1-12-2 0 3-2 0-1-2-1 1-2-4-2 4-2-3-1 0-6 0 0 1-1 2-1 1-3 0 0 2 0 2 2 2 1-4 1-1 1 3 1-2 1-1 0 3 1-3 1 5 2-1 3-1 1 2 3-3 2-2 1 4 4-3 2 3 1-3 0 1 0 1 3-3 1 0 0 3 2-1 2 0 1-1 1-1 0 1 0 3 1-1 4-1 1-1 0 4 2-4 0 1 0 3 4-5 1 1 2 3 4-2 4-2 3 1 5 3 1-4 0 2 1-2 0 2 1-2 0 2 1-2 1 3 1 0 1-1 5-1 0 1 1 3 1-3 1-2 4 0 0 4 1-1 1-2 0 2 1-2 0 2 4 2 2-4 0 2 2 2 1-4 0 5-2 3-2-1-1 2-1-3-1-1-1 2-2-2-1 2 0 3-1-1 0 1-1-2-5 2-1-3-1 0-9 0-1 2-1-2-2 0 0 2-1 0-2-1-1 2-1-2 0 1-3-4-4 2-1 1-2-3-2 2-2 1 0 2-3 0-3-2-3 0 0 2-2 0-1-3 0 2-1-2-2 0-3 3-1-1-5-2-2-2-1 4-1-3-2 0-1-1-2 1-1 0 0 1-3-1 0 3-2-4 0 3-1 2-5-5-2 3 1 4 2-1 0 1 1 3 1-4 7 0 0 4 1-3 0 2 2-2 3 3 2-1 1-3 2 0 2 3 2-2 7 0 2 2 3 0 3 0 1 2 5-5 0 1 2 2 2 2 1-4 0 4 2-4 2 4 2-5 0 2 2 1 1-2 2 0 1 3 1-4 1 2 2 0 1-2 1 2 0 1 3-2 9 2 0 2 6 0 6 0 3-4 1 7-2 1-1 2-1-3-4 0 0 1-4 2-5-2-1-3-2 0 0 1 0 2-1 2-3-5 0 1-1 2-1 0-3-1-2-1 0 2-2 2-3-3-2-2-1 1-3 1 0 3-3-2 0 1-1-3 0 4-1-4-3 4-3 0-2-3 0 2-1-2-1-2-3 2 0 1-1 2-1-1 0 1-1-3 0 2-2 0-3-1-4-3-2 3-2-3-1 1-1 0-3 1-4-1-1 4-1-1-2-2-6 3-2-3-2 1-1 2 1 1 0 4 1 1 1-3 1 1 2-1 0 1 0 2 2-5 2 1 3 0 1 3 1-4 0 2 0 3 4 0 2-2 3-1 1-1 5 0 1 0 1 0 2 4 3-5 2 3 0 2 1-3 2 0 0 1 1-1 1-2 0 3 1 1 1-1 2-3 0 2 2 2 6-2 1 2 2-1 3 0 0 2 1-4 1 0 0 2 0 2 5 0 1-4 0 3 6-1 1 2 8-1 2 1 3-4 0 3 0 1 2-1 1 1 5-5 0 4 1 1 1-3-1 7-3-1 0 2-1-3-2 0-3-1 0 3-1 0-3 0-1 1-4-3-2-1-3 0-1 2-1-1-7 1-5 2-3-2-1 0-2-1 0 2-3 2-1-4-9 2-1 2-1-5 0 2-5-1-1 2-3-3 0 1-2 2-1-2-1-1 0 1-2 3-1-2-2-1-2 0-4 1-1-1-2 4-1-2-1-1-2 3-3 0-1-1 0 1-4-2 0 7 1-2 0 1 3 2 1 0 1-2 2-1 3 0 2-2 4 1 3 2 5-3 1 2 3-1 0 2 3 0 4-1 3-1 0 2 0 1 3-3 1 4 1-2 0 1 1-3 2 0 3 4 1-4 8 1 1 0 0 1 1-3 2 3 2-3 6 0 0 3 0 1 4-1 0 1 1 1 2-1 1-2 3 2 1 1 2-5 1 4 3-3 1 1 0 1 3-2 4 3 1-2 0 1-1 7-3-4-4 5-5-1-4-3-1 1 0 3-4-2-2-3 0 2 0 1-1-1-1-2-1 0-1 2-1 0-1 2 0 1-1-5-1 0 0 4-4-2-1 3-3-4 0 1-1 2-1 1-4 0-3-3-1 1 0 1-6-1-2-2-1 2-2-2-1-1 0 4 0 1-1-1-2-4-1 2-1 3-2-4-1 3-1-3-3-1-1 4-1-4 0 2-1 0-2-1 0 3-3 0-4-2-8-2-4 4-2 6 1-4 0 2 0 3 1-5 0 3 1-1 4-1 1 2 7-1 2 3 1-1 4-3 0 4 2-4 1 4 2-4 0 4 1-4 2 2 1 0 1-2 2 1 1 2 2-2 0 2 1-1 3-2 1-1 0 2 2-1 1 4 2-4 3-1 3 2 0 2 5 1 2 0 1-4 2-1 0 2 1 1 1 0 1-3 1 5 3-1 1-1 6-3 5 3 3-1 2 0 0 1 1 1 2-1 1 0 2 0 3 0 0 1 1 0 1-4 0 2 0 3 1-5 0 3 1-1 0 5-9-1 0 3-2-3-2 4-11-4 0 4-2-3-1-1-1 3-5-1-8-1 0 1 0 2-1 1-1-4 0 4-1-3-1 0-3 0-1 3-3-5 0 5-3-4-3 1-1-2-1 3-1-2 0 4-1 0-1-3 0 3-1-4-3-1-2 3-3-3-1 2-3-2 0 2-2-2-3 5-1-5 0 1-1-1 0 3-1-3-1 3-2 1 0 1-1-5 0 3 0 2-1-2-1-3-1 3 0 2-2 0-4-4-3 7 2 0 1 1 2-2 1-1 1 2 0 2 4 0 1-2 2 3 6-2 1 2 2-3 0 2 1-1 2-3 3 0 1 4 0 1 1-3 2 2 1 0 1-2 2 2 1 1 2-1 0 1 3-1 1-3 0 4 4 0 4-2 2-3 1 4 1-1 2 2 1-4 1 1 1-2 1 2 1-2 0 1 2 0 3 1 4-2 4 4 1 0 2-1 2 0 0 1 1-2 1 0 2-2 1 2 1-1 1 0 2 1 2 0 3 2 2-2 2 0 1 1 0 3-27 0-7 0-8 0-29 0-4 0-15 0-7 0"/></pattern><pattern id="pu5" width="97" height="89" patternUnits="userSpaceOnUse"><rect width="97" height="89" fill="#1f77b4"/><path class="wt" d="m92 -2-21 0-4 1-3-1-6 0-18 1-21 0-11-1-2 0 6 6 4 1 6-2 1-2 3 0 0 3 2 1 2-3 2-2 4 1 2 3 3-3 0 2 3 1 3-2 1 2 2 1 6-4 2 2 5-3 0 1 4 3 3 1 11-3 1-2 2 0 8 2 6 5-3 2-15-2-1 0-4 3-3-4-5 2 0 1-1-1-1-2-3 3-2-3-1 2-13 1-5 0-14-3-2 3-1-2-1 4-4-1-4-4-1 1-4 3-5 0-4-3-3 2 7 7 3-2 2-1 1 0 6 0 4 2 4-3 5 5 2-3 2 3 7 0 3-1 2-3 1-1 0 4 4-4 1 2 1 3 2-4 11-1 2 0 5 1 1 1 6 3 6 0 3 0 4-5 4 10-5-3-2 1-2-2-3 0-5 5-8-2-7-1 0 1-13-1-6-1-1 2-5-1-3 1-1-1-1-1 0 1-3-1-6 1-1-2 0 4-2-2-5 2-2 1-1-5 0 2-7 2 0 1-5-1-3 0 1 4 2-1 3 4 3 0 1 0 4-3 2-2 8 0 4 1 0 3 4-1 2 1 6-1 2-3 1 5 2-2 3-3 5 5 1-3 10 1 0 2 4-1 6 0 1 0 5-3 18 1-3 7-5 0-2-3-2 2-3-2-6 4-9 0-1-1-1 1-6 0-1 0-11-4 0 1-7-1-2 5-4-4-5 1-5-1-5 1-9 3-2-4-11 2 12 8 4 0 4-3 9 0 11 2 10 0 4-1 9-3 3 1 3 1 1 1 0 1 2 0 8 1 4-2 0 2 3-4 4 2 2 1 7 2 0 3-4 2-3-2-3 1-11 0-5-3-10 2-5 2-1-3 0 3-1-3-3 3-3-1-1 1-1 0-5-3-9 3-2 0-7-4-5 2-1-1-1 0-8 0 0 1-3-3-2 3-3-3 0 3 2 3 1 1 1 0 1 2 1 1 1-2 4 0 2-1 1 0 1 2 1-3 1 1 5 0 7 3 5-2 0 3 7-3 3 0 0 2 2-1 0 1 3-4 2 4 6-2 1 0 3-2 0 1 2 3 4 0 1-2 0 2 3-1 8 2 3-5 5 3 4-2 5 5 0 2-1 3-8-1-3 1-3 0-9-5-6 2-1 2-2-4-6 0-4 5-10-2-4 0-1 0-4-3-2 0 0 1 0 4-13-3-2 2-3-2-1 3-10-5-2 1-2-1 0 2-1 3 3 4 12-3 0 5 1-1 2-1 2-1 0 3 2-2 2 1 3-4 0 2 5-1 11 3 1-1 9-2 5 1 3-1 8 3 1 0 3 1 1-3 20 2-1 2 0 5-1-3 0 3-14-3-1-2-8 2-9-2-3 3-2 0-2-3-2 5-6-1-6 0-1-2 0 3-3-4-1 1-5 3-10-1-8 1-6-4-1 1 2 4 6 5 10-3 4-1 4-1 2 1 3-1 0 5 1-3 6 2 3-2 2 3 2-1 3 0 10-3 2-1 13 0 6 1 0 1 1 1 0 1 1 1 3-2 2 2 3-2 1 0 4 7-1 1-4-3-2-2-2 1-4 0 0 3-1-4 0 1-3 2-8 2-2 0-1-5-5 3-8-2 0 3-2-3-2 1-2 0-6 0-2-1-7 4-5 0-4-3-1-2-2 3-2-2-1-1-13 3-4 2-3-1-1 1 7 4 2 0 11 1 13 1 6-4 1-1 1 4 4-2 9-1 2-1 0 2 3 1 2-1 3 3 1-2 2-1 1 2 1-2 3 1 10-3 1 2 0 3 2 0 6-5 2 0 0 3-29 3-7 0-15 0-5 0-10 0-3 0"/></pattern><pattern id="pu6" width="97" height="89" patternUnits="userSpaceOnUse"><rect width="97" height="89" fill="#1f77b4"/><path class="wt" d="m38 -1 30 5 8 0 8 1 1-4-61 7-19 2-1-4 44 11 3-5 0 4 20 1 7-4-29 10-4 0-6 0-11-3-24-1-2 10 3 0 12-2 0 1 6-3 6 0 19-1 14 2 2 3 20-1-17 6-51-2-1-2-9 5-2-1 9 3 7 4 13-5 5 3 11 1 7-3 16 3 21 2 0 5-1-3-40 1-16-2-35 7 5 0 6 3 1-1 12-1 19 0 17-3 14 4 9-4 14 2-21 9-30 0-3-1-4-2-17-1-10 0-5-1-2 4 3 3 1 3 17-2 14-1 7 3 22 0 1 0 5-3 8-1 9 2-17 5-18 2-35 7 17-4 47 5 6-2 5 7-42-1-20-2-8 0 0 1-27 2 37 6 14-3 33 5"/></pattern></defs>
<style>.dt{fill:none;stroke:none;marker-start:url(#dm);marker-mid:url(#dm);marker-end:url(#dm)}.wt{fill:none;stroke:none;marker-start:url(#wm);marker-mid:url(#wm);marker-end:url(#wm)}</style>
<g fill="#1f77b4">
<path fill="url(#pu6)" d="M402.4 326.2 402.4 337.5 402.4 337.7 402.3 337.9 402.3 338.1 398.8 349.7 395.3 361.3 395.3 361.4 390.7 375.2 388.4 389.0 388.4 389.2 388.3 389.3 388.2 389.5 388.1 389.7 382.4 398.8 379.2 407.5 380.2 420.2 387.2 426.1 400.4 426.1 400.5 426.1 400.7 426.1 414.6 428.5 414.8 428.5 424.1 430.8 424.3 430.9 424.5 431.0 433.8 435.6 434.0 435.7 434.1 435.8 434.3 436.0 441.3 443.0 447.1 448.8 447.1 448.8 450.8 452.8 454.4 448.0 459.0 438.8 459.1 438.6 463.7 431.6 463.9 431.5 469.5 424.7 473.9 415.9 476.2 402.3 477.3 388.5 477.4 388.3 479.7 374.4 479.7 374.2 479.8 374.0 479.9 373.8 480.0 373.6 480.1 373.4 480.2 373.3 480.4 373.2 480.6 373.0 487.2 368.6 491.4 362.3 492.3 356.5 487.1 348.2 478.1 341.5 478.0 341.3 477.9 341.2 477.7 341.1 477.6 340.9 470.7 329.3 470.6 329.1 470.5 328.9 470.4 328.7 470.4 328.5 468.3 312.0 408.0 312.0 405.7 315.2ZM566.4 325.4 564.4 327.8 563.0 333.4 561.5 340.9 561.4 341.1 561.4 341.2 559.7 345.6 560.7 346.1 566.3 346.1 566.5 346.1 566.7 346.1 566.9 346.2 567.1 346.3 567.3 346.3 567.4 346.4 567.6 346.6 567.7 346.7 570.8 349.7 570.9 349.9 571.0 350.0 571.1 350.2 571.2 350.4 571.3 350.6 571.3 350.8 571.3 351.0 571.4 351.2 571.3 351.4 571.3 351.6 571.2 351.8 569.7 356.3 569.7 356.5 569.6 356.6 569.5 356.8 566.5 361.3 566.4 361.5 566.2 361.6 561.7 366.2 561.5 366.3 561.4 366.4 556.8 369.4 556.6 369.6 551.4 372.2 550.1 377.4 550.0 377.5 550.0 377.7 549.9 377.9 549.8 378.1 549.6 378.2 549.5 378.3 549.4 378.5 549.2 378.6 549.0 378.7 548.8 378.8 548.6 378.8 540.8 380.8 540.5 382.0 546.2 385.8 546.4 385.9 546.5 386.0 552.6 392.1 556.6 396.1 563.1 396.1 572.1 394.6 572.2 394.5 572.4 394.5 572.6 394.6 572.8 394.6 573.0 394.6 573.2 394.7 573.3 394.8 573.5 394.9 573.7 395.0 573.8 395.1 573.9 395.3 574.0 395.4 577.1 400.0 577.1 400.1 581.7 407.6 581.8 407.8 581.8 408.0 583.2 412.0 587.3 415.1 591.9 410.6 594.7 403.4 594.8 403.2 594.9 403.0 595.0 402.9 595.1 402.8 595.3 402.6 595.4 402.5 601.5 398.0 601.6 397.9 601.8 397.8 601.9 397.7 602.1 397.7 602.3 397.6 609.7 396.1 613.7 394.8 616.4 392.1 616.6 391.9 616.8 391.8 623.7 387.6 625.0 383.8 625.0 383.6 625.1 383.5 625.2 383.3 625.3 383.2 631.1 376.0 632.5 369.6 632.5 369.4 632.6 369.3 632.7 369.1 632.8 368.9 632.9 368.8 633.0 368.6 633.2 368.5 635.4 366.7 632.9 363.8 632.8 363.6 632.7 363.5 632.6 363.3 632.5 363.1 632.5 363.0 632.5 362.8 631.9 358.7 626.3 356.8 617.4 354.6 608.4 353.1 608.2 353.1 608.0 353.0 607.8 352.9 607.7 352.9 600.2 348.4 586.6 341.6 586.5 341.5 581.2 338.5 581.1 338.4 580.9 338.3 580.8 338.2 580.7 338.0 580.6 337.9 580.5 337.7 576.9 331.2 571.4 326.5Z"/>
<path fill="url(#pu5)" stroke="url(#pu5)" stroke-width="1" d="M468.1 309.9 468.1 309.7 468.1 309.5 468.1 309.3 468.1 309.2 468.2 309.0 471.6 299.9 472.6 290.9 465.9 286.1 456.1 286.1 455.9 286.1 455.7 286.1 455.5 286.0 455.4 286.0 455.2 285.9 455.0 285.8 454.8 285.7 454.7 285.5 454.6 285.4 454.5 285.2 451.0 280.1 441.1 288.0 441.1 288.0 431.8 295.0 422.6 303.0 422.4 303.2 422.2 303.3 422.0 303.4 411.0 307.8 408.0 312.0 468.3 312.0Z"/>
<ellipse cx="395.7" cy="260.4" rx="5.2" ry="2.2" transform="rotate(-15 395.7 260.4)"/>
<ellipse cx="449.2" cy="256.3" rx="3.7" ry="5.2"/>
<ellipse cx="472.4" cy="262.1" rx="5.2" ry="2.7" transform="rotate(30 472.4 262.1)"/>
<ellipse cx="431.7" cy="266.0" rx="2.2" ry="1.7"/>
<ellipse cx="487.5" cy="274.8" rx="3.2" ry="1.7" transform="rotate(-35 487.5 274.8)"/>
<ellipse cx="388.3" cy="303.2" rx="1.7" ry="1.2"/>
<ellipse cx="387.6" cy="329.0" rx="1.2" ry="1.2"/>
<ellipse cx="381.8" cy="345.0" rx="1.7" ry="2.2"/>
<ellipse cx="378.3" cy="356.1" rx="1.2" ry="1.2"/>
<ellipse cx="373.7" cy="371.2" rx="5.2" ry="4.2"/>
<ellipse cx="373.7" cy="386.3" rx="2.7" ry="1.7"/>
<ellipse cx="359.3" cy="403.3" rx="2.2" ry="1.2"/>
<ellipse cx="374.8" cy="428.1" rx="2.2" ry="1.2"/>
<ellipse cx="414.3" cy="433.9" rx="2.7" ry="1.7"/>
<ellipse cx="404.1" cy="457.6" rx="2.2" ry="1"/>
<ellipse cx="419.0" cy="460.6" rx="2.2" ry="2.2"/>
<ellipse cx="486.3" cy="404.2" rx="2.2" ry="1.2"/>
<ellipse cx="497.9" cy="317.8" rx="2.2" ry="1.2"/>
<ellipse cx="493.0" cy="471.0" rx="4.2" ry="5.2"/>
<ellipse cx="313.9" cy="328.1" rx="8.7" ry="1.7" transform="rotate(35 313.9 328.1)"/>
<ellipse cx="510.8" cy="294.2" rx="5.7" ry="5.2"/>
<ellipse cx="515.6" cy="320.0" rx="7.2" ry="4.7"/>
<ellipse cx="518.2" cy="365.3" rx="3.2" ry="5.7"/>
<ellipse cx="527.9" cy="253.9" rx="1.7" ry="1.2"/>
<ellipse cx="563.4" cy="241.0" rx="3.2" ry="4.2"/>
<ellipse cx="511.8" cy="467.0" rx="1.7" ry="1.2"/>
<ellipse cx="539.8" cy="462.7" rx="2.2" ry="2.2"/>
<ellipse cx="564.0" cy="458.2" rx="1.2" ry="2.2"/>
<ellipse cx="669.0" cy="476.6" rx="7.2" ry="3.2" transform="rotate(35 669.0 476.6)"/>
<ellipse cx="400.4" cy="510.5" rx="2.2" ry="1.2"/>
<ellipse cx="646.5" cy="378.4" rx="9.2" ry="3.2" transform="rotate(-55 646.5 378.4)"/>
<ellipse cx="645.0" cy="386.7" rx="1.7" ry="1.7"/>
<ellipse cx="559.5" cy="294.4" rx="3.0" ry="3.0"/>
<ellipse cx="570.9" cy="289.8" rx="2.2" ry="3.7"/>
<ellipse cx="584.5" cy="298.2" rx="8.2" ry="2.2" transform="rotate(-10 584.5 298.2)"/>
<ellipse cx="592.1" cy="305.4" rx="1.4999999999999998" ry="1"/>
<ellipse cx="572.7" cy="310.7" rx="2.2" ry="1.2"/>
<ellipse cx="545.9" cy="332.2" rx="3.2" ry="2.5999999999999996"/>
<ellipse cx="554.2" cy="338.3" rx="2.5999999999999996" ry="1.4999999999999998"/>
<ellipse cx="545.1" cy="346.3" rx="2.2" ry="1.2"/>
<ellipse cx="539.1" cy="362.5" rx="2.2" ry="4.2"/>
<ellipse cx="540.6" cy="402.3" rx="2.2" ry="1.8"/>
<ellipse cx="620.0" cy="401.8" rx="1.8" ry="2.5999999999999996" transform="rotate(-20 620.0 401.8)"/>
</g>
<path class="dt" d="m565 237 0 1 0 1-2-3 0 1-1-1 0 1 0 1-1 0 0 1-1-1-1 3 0 1 0 1 1-3 0 1 0 3 1 0 1-1 0 2 3-4 0 2 0 1 1-4 0 1 0 2 1-1-116 9-3-1-54 7 4 0 48-3 0 2 1-3 1-1 1 0 1 0 2 2 0 2 1-1 15 2 2 0 55-4 1-1 0 1 0 1 0 1 1-3 0 3 1 0 1-1-53 8 0 1-1-2 0 2-1-4-1 0-2 0 0 4-1-4 0 4-1-4-1-1-1 0 0 4-14-3-1 1-1-2 0 1-1 0 0 2-1-1 0 1 0 1-1-1 0 1-1-3 0 1 0 1-1-3 0 1 0 1 0 1-1-3 0 1-12 4-2 0-1 0-29-3-1-2 0 1 0 1-1 1-1-3-1 0 0 3-1 1-2-4 0 4 0 1-1-1-1-4-1 2 0 1-1-1 0 1-1 1 39 3 1-1 0 1 0 1 1-2 1 4 2-3 0 1 36-2 1 0 2 0 0 2 3-1 1-1 1 0 0 1 14 8-1-1-2 0-1 0-2 1 0 1 0 1-1-1-35 4 1 0 3 1 32-3 0 1 1 0 1-1 0 1 1-1 1 0 81 10-2 1-97 0-1 0-2-3-1 0 0 1-2 0 0 1-3-1-1 0-1 1-1-1-1 1-1-1-2-3-7 0-4 1-1 2-1 1-9 7 1 0 1-1 1-2 0 1 1-1 68 1 0 2 1-3 0 1 1-3 0 2 0 1 1-1 1-2 0 1 0 1 1-2 0 1 0 1 2-2 0 2 1 0 1-1 1 2 0 2 1-2 0 2 40-2 1 0 0 1 1-2 0 1 1 0 1 0 2 1 1 1 4-4 1-1 0 1 0 2 0 1 0 1 1-3 0 1 1 1 0 1 1-1 0 1 1-1 1-4 0 2 18 5 0 2 0 1 0 1-1-4 0 3-1-1-1-3-1 1-1 0-1 0 0 1-2-1-1 0-2 1-1 0 0 1 0 2-1-2-1 0 0 2-1 0-14-5 0 1 0 1 0 1-2-1 0 1-2-1-3-2-39 2-1 0-1-2 0 2-1 0-1 3-1-1-1 1-2-3 0 3-2-4 0 1 0 2-1-1-1-1-29-2 0 3-3-1 0 1-40-3-2 2-2-1-42 8 0 1 1-3 1 0 0 1 1 1 0 1 1-2 21 3 5 0 2-1 1-1 3-1 1 0 1-2 1 0 45 5 1-3 0 1 1-3 1 0 0 1 0 3 1-3 104-1 1 0 1 0 1 1 1-1 1 0 0 1 3-1 2 0 2 4 0 1 1-1 2 1 0 1-1 0-1 0-16 4-1-1 0 1-2-1-1 0-1 0-1 1-98 1-1-1-1 0-57-3-1 0-2 0 0 2-1 0-5 6 3-3 62 0 1 1 1 0 0 4 1 0 24 0 4 0 1-1 0 1 11-2 0 2 1-3 0 1 0 1 0 1 1-3 0 1 0 1 2-1 1-1 0 1 1 0 2 0 2 2 50-5 1 0-7 11-44-5 0 1 0 3-1-4 0 1 0 1-2 2 0 1-1 0-1 0-5-5 0 5-1-4 0 1 0 1-1-2 0 2 0 1 0 1-1-5 0 2 0 1-9-3 0 1-1 0-1 0-3-1-24 1 0 2-66-2 0 2-1 1 0 1-1-4-1 2 0 1 0 1-1 0-90 0-3 0 0 1 0 1 1 0 0 1 1-2 0 2 1-2 0 4 1-4 0 5 1 0 2-4 2 2 1 0 0 1 2 1 1 0 65 0 1-2 1 0 1 0 1 0 0 2 11-1 2 1 68-5 0 1 2 3 1 0 0 1 38-5 1 0 2 1 1-1 1 0 1 1 3-1 23 5 1 0 2 0 16-1 1-1 2-3 0 1 1 0 1 0 2-1 0 2 1 0 1-1 2 0 1 0 0 2 1-1 3 2 1 4 0 1-1-2 0 1-15-1-1 2 0 2-1-5 0 4 0 1-12-5 0 2 0 1 0 1-1-3 0 1 0 1-2 1 0 1-2-1 0 1-1-5 0 2 0 2-1-1-66 0 0 1-1-2-73-1 0 1 0 3-14-5-67 1 0 2-1-1 0 1-1-3-1 0-1 2-1 0 84 7 1-2 1 0 0 1 73-2 3 0 73 1 1-1 0 3 0 1 1-4 1 0 1 4 1-4 0 2 0 1 1-1 2-1 0 4 1-2 22-2 0 1 1-2 2 1 0 1 1 3 1 0 2-1 13 7-1-1 0 1-1-1-3-2 0 1-1-1-1-2 0 2 0 2-1-4 0 1-1-1-2 0-1 1-25 4-1-1-3-4 0 5-1 0-2-5 0 4-1-1-10 0 0 1-1-1 0 1 0 1-2 0-1-3-1 2-55-2 0 1-1-1-5-1-1-1-81 2-15 2-1-3 0 1 0 3-1-5-1 4 0 1-1-5 0 1-1 2 0 1 16 5 2 2 1-3 1-2 90 0 0 3 2 0 53-3 16 1 4-1 1 0 1 0 1 0 1 0 0 1 0 1 1-1 1 1 31-2 2 1 0 1 1 0 1-2 2 3 1 0 0 1 1-1 1 1 1-1 1 2 1-1 1 0 1 1 2-1 18 5-1 2-1-3 0 1 0 1-3-1 0 1-2-2-3-1 0 1-1 0-2-2-1 0-1 1-1 0-2-1-1 0-47 2-1-2 0 2 0 1-1-1 0 1-1 0 0 1-25 1-1-1 0 1-2-2 0 1 0 1-20 0-1 0-1 0-21-2-1 2-2-5-97 4-1-3-1 3-14-4 0 2-1-2 0 3-1-3-1 0 0 2 0 1 16 8 1-5 0 4 0 1 101-3 20-1 0 2 0 2 1 0 1-5 0 1 1-1 0 1 2-1 0 1 0 1 1-2 0 1 0 3 0 1 1-4 0 1 0 2 15-3 0 2 0 1 1-4 0 1 0 4 3-3 0 2 0 1 1-5 0 5 1-4 92 0 0 2 0 1 1 0 0 1 2 0 16 6-2 0-1-1-13-4 0 1-2 2 0 1-2 0-74-3-4 3-1-2-1 0-1 2-2 0-10-4 0 1-1-1-1 0-16 1-1 2-1 0 0 1-1-1-3 1-2-2-23-2-2 1 0 1-2 3-95-3-1 3-12-2 0 1 0 1-1-4 0 2 0 1-1 0-1-3 0 2-3-2-1-1 0 1 0 1-1 0-1 1 0 2-1-3 0 1-1 2 0 1 1 0 0 1 0 2 1-1 1 1 1-1 1 0 1 1 2-1 1-1 0 1 1-2 0 1 0 1 1-2 0 1 11 4 90-2 1-2 1 3 4-4 60 4 2 0 1-3 1 1 82 3 1-4 1 1 8 2 2-2 0 2 1-3 0 1 0 2 3-3 2 4 1-5 0 2 0 2 0 1 1-3 1-1-3 6-1 1-1-1 0 2 0 1-1-1-1 1 0 1-1 0-2 0-1-4 0 1-1-2 0 1 0 1 0 2-1 0 0 1-7-5-1 0-1 0 0 1-1 2-84-3-1 0-2 0-1 2-2 2-1-4 0 4-58-2 0 1 0 2-2 0-90-3-1-2 0 2 0 2-1-1-14 2-1 0-2 3 1-2 0 1 0 2 1 0 0 1 1-4 0 4 1-1 0 1 13-3 0 1 0 2 0 1 1-3 0 2 1-4 89 5 1-1 62-2 2-2 3 3 0 2 79 0 2-1 13-4 1 1 0 1 1-2 1 2 0 2 1-4 0 5 1-5 0 1 0 3 1-3 0 2 1 0-22 3-5 0-2 3-1 0-4 2-58 0-4-3-1 0 0 1-1-1-1-1-68 1-2-1-1 2-91-1-1-1 0 2 0 2-1-2 0 2-27 6 1 0 25-5 96 0 0 1 58 4 1 0 1-1 1-1 0 1 2 0 11-4 4 3 1-3 0 2 4 0 2-2 0 1 2-1 2 2 2-2 1 0 2 3 1-1 1-2 0 2 1 1 1 2 21 0 1 0 2 0 1 0 1-2 2-2 1 1 0 2 4-2 1-1 1 1 1-2 1 1 1-1 1 0 1 4 1-2 1 0 0 1 2 0 1 2 0 1-1 1 0 1-1 1-1-1-19-2-1 1-2 1-1-1-1 2 0 2-15-1-2-4-1 0 0 1-1-1-34 0 0 1-2 1-1-1 0 1-50 0-1-1-1-1 0 3-1-2-1-1 0 3-2-1-4-1 0 2-3-3 0 5-97-2 0 1 0 1-1-2-16-3 0 1-1-1 0 2-1 0-2 0-1-2-1 1 22 6 0 4 1-4 0 2 1 1 96-1 103-3 1 1 0 1 1-2 0 2 1-1 0 1 1 3 10-4 0 4 1-3 0 1 1-2-3 5-2 0 0 1-1 1-1 1 0 1-3-4-3 0 0 1-106 1 0 1-97 2-1-2 0 3 4 5 2 0 88-4 1 2 0 1 1-4-3 8-1-1-4 3-47 0-1 0-2 1-1-2-1 0 0 2-1 0-2-3-2 1-2-1-1 0-3-1-2 0-4 2-3-3-1 0-1 1-4-1-1 1-2 1-2-2-7 0 0 2-1-2 0 3-1-3 0 3-1-3 0 1 0 2-1-2 0 1-1 0 39 6 1-1 1-1 0 3 0 1 1-4 0 3 2-3 1 0 2 0 7 1 3 2 1 1 4 1 30-2 2-2 0 1-4 5-1 2-1-1 0 2-1 0-20-1-3-3 8 7 5 4 7 0-1 4-1-3 0 4-1-2 0 2-1-1-3-1-1-2-2 0-44 6 0 2 1 0 1 0 1 0 1-2 0 1 0 1 1 0 10 2 0 1 1-3 0 1 1-2 0 1 2 0 0 3 1-2 0 1 30-4 86 5 1-2 0 1 1 0 2-1 1 2 20-5 0 1 0 2 1-3 0 5 1-5 1 0 0 1 0 2-23 4-1-1 0 1 0 1 0 1-1-1-3-2 0 1 0 1-23 2-1 0 0 1-1-2-1-1 0 1-1 0-1 2-13-1 0 1-1-1 0 1-1-2 0 2-3 0-1-1-1 0 0 1-1 0-67-5-1 1-1 0-1 0-1 0 71 6 0 1 0 2 0 1 1-2 0 2 1-5 0 1 0 4 5-5 1 0 0 2 0 1 0 1 1 0 13-4 2 0 149 5 2-2 0 2 2-3 1 2 1 0 2 0 0 1 6 4 0 2-1-3 0 1-1-1 0 3-1-4 0 4-2-5-1 5-1 0-4-2-1-3 0 1-1-1-167 1-1-1-1 0 0 2-1-1-1-1-1 0 178 6 1 0 0 1 2-1 0 1 1 0 0 1 1-2 0 1 1-1 0 1-276 28 1 0 2 0 1 0 1 0 0 1-1 0 0 1-1 0-2 0-2 0"/>
<path fill="url(#pu0)" stroke="url(#pu0)" stroke-width="1.2" fill-rule="evenodd" d="M1035 240 1053 244 1071 262 1119 284 1125 284 1143 273 1149 272 1155 271 1167 274 1183 290 1197 315 1203 321 1221 329 1240 344 1249 356 1252 374 1248 392 1227 414 1197 432 1179 438 1155 436 1125 425 1101 408 1095 409 1088 422 1082 464 1078 470 1071 472 1011 478 993 474 957 455 942 440 935 428 929 416 924 398 924 386 936 344 951 321 960 302 965 296 1017 249ZM1023 254 965 302 942 344 936 362 930 386 932 410 943 434 963 453 1005 472 1023 473 1041 471 1059 466 1072 458 1077 449 1086 416 1095 402 1101 401 1131 423 1161 433 1173 433 1197 426 1226 410 1242 392 1247 374 1245 362 1240 350 1227 338 1197 320 1186 308 1173 286 1167 280 1155 278 1131 291 1113 292 1089 278 1071 272 1053 253 1047 250 1035 250Z"/><path fill="url(#pu1)" stroke="url(#pu1)" stroke-width="1.2" fill-rule="evenodd" d="M1023 254 1035 250 1047 250 1053 253 1071 272 1089 278 1113 292 1131 291 1155 278 1167 280 1173 286 1186 308 1197 320 1227 338 1240 350 1245 362 1247 374 1242 392 1226 410 1197 426 1173 433 1161 433 1131 423 1101 401 1095 402 1086 416 1077 449 1072 458 1059 466 1041 471 1023 473 1005 472 963 453 943 434 932 410 930 386 936 362 942 344 965 302ZM1022 266 981 293 969 303 946 344 936 374 933 392 937 416 951 439 967 452 1005 468 1035 468 1053 463 1068 452 1085 410 1095 395 1101 393 1117 410 1131 419 1167 430 1183 428 1199 422 1227 405 1237 392 1243 374 1241 362 1235 350 1222 338 1192 320 1167 289 1161 287 1155 287 1137 297 1113 305 1089 289 1065 281 1053 266 1047 262 1035 261Z"/><path fill="url(#pu2)" stroke="url(#pu2)" stroke-width="1.2" fill-rule="evenodd" d="M1023 265 1035 261 1047 262 1053 266 1065 281 1089 289 1113 305 1137 297 1155 287 1161 287 1167 289 1192 320 1222 338 1235 350 1241 362 1243 374 1237 392 1227 405 1199 422 1183 428 1167 430 1131 419 1117 410 1101 393 1095 395 1085 410 1068 452 1053 463 1035 468 1005 468 967 452 951 439 937 416 933 392 936 374 946 344 969 303 981 293ZM1016 278 983 296 970 308 951 344 939 380 938 404 944 422 956 440 974 452 999 462 1011 465 1035 465 1053 458 1066 446 1089 394 1095 386 1101 383 1107 388 1117 404 1125 412 1148 422 1167 427 1185 424 1203 416 1227 399 1236 386 1238 368 1230 350 1215 338 1194 326 1161 299 1155 299 1137 306 1113 321 1107 320 1095 303 1065 290 1047 276 1035 273Z"/><path fill="url(#pu3)" stroke="url(#pu3)" stroke-width="1.2" fill-rule="evenodd" d="M1017 278 1035 273 1047 276 1065 290 1095 303 1107 320 1113 321 1137 306 1155 299 1161 299 1194 326 1215 338 1230 350 1238 368 1236 386 1227 399 1203 416 1185 424 1167 427 1148 422 1125 412 1117 404 1107 388 1101 383 1095 386 1089 394 1066 446 1053 458 1035 465 1011 465 999 462 974 452 956 440 944 422 938 404 939 380 951 344 970 308 983 296ZM1021 284 992 296 975 308 957 338 945 373 941 398 945 415 956 434 971 446 999 458 1017 461 1035 460 1053 453 1065 439 1083 396 1101 363 1107 371 1115 392 1122 404 1131 411 1161 422 1178 422 1196 416 1221 399 1230 386 1233 368 1224 350 1167 311 1161 309 1149 310 1131 319 1116 332 1107 354 1101 356 1091 320 1086 314 1077 310 1047 286 1035 282Z"/><path fill="url(#pu4)" stroke="url(#pu4)" stroke-width="1.2" fill-rule="evenodd" d="M1023 283 1035 282 1047 286 1077 310 1086 314 1091 320 1101 356 1107 354 1116 332 1131 319 1149 310 1161 309 1167 311 1217 344 1227 353 1232 362 1233 374 1227 392 1215 404 1196 416 1178 422 1161 422 1131 411 1122 404 1115 392 1107 371 1101 363 1083 396 1065 439 1053 453 1035 460 1017 461 999 458 971 446 956 434 945 415 941 398 945 373 957 338 975 308 993 295ZM1006 296 983 308 969 325 962 338 951 371 947 392 947 404 957 428 970 440 1005 454 1023 456 1035 455 1044 452 1053 446 1065 429 1084 380 1089 356 1081 332 1053 298 1041 293 1029 292ZM1146 320 1125 338 1120 350 1117 374 1119 386 1125 398 1141 410 1167 418 1191 412 1214 398 1221 391 1227 375 1227 368 1221 356 1208 344 1173 322 1161 318Z"/><path fill="url(#pu5)" stroke="url(#pu5)" stroke-width="1.2" fill-rule="evenodd" d="M1011 294 1035 292 1047 295 1058 302 1081 332 1089 356 1084 380 1065 429 1058 440 1047 450 1029 456 999 452 970 440 957 428 947 404 947 392 951 371 962 338 969 325 983 308ZM1012 302 986 314 975 326 969 336 957 374 954 392 954 404 961 422 973 434 1001 446 1029 449 1041 446 1059 427 1076 380 1079 356 1071 335 1053 309 1036 302ZM1149 319 1161 318 1173 322 1215 349 1225 362 1227 375 1221 391 1196 410 1179 417 1161 417 1141 410 1125 398 1117 374 1120 350 1125 338 1130 332ZM1145 332 1131 349 1126 368 1128 386 1135 398 1158 410 1173 411 1192 404 1208 392 1215 382 1217 374 1215 364 1210 356 1173 331 1155 327Z"/><path fill="url(#pu6)" stroke="url(#pu6)" stroke-width="1.2" fill-rule="evenodd" d="M1017 301 1036 302 1053 309 1071 335 1079 356 1076 380 1059 427 1041 446 1029 449 1001 446 973 434 963 425 958 416 954 398 957 374 968 338 975 326 986 314 996 308ZM1149 329 1161 327 1173 331 1210 356 1216 368 1216 380 1209 391 1201 398 1179 410 1167 411 1158 410 1143 404 1131 393 1126 374 1129 356 1137 340Z"/>
<path class="dt" d="m1141 188-14 8 25 7-17 0-37 0-46 3 86 2 15-4 14 2 21-1-23 7-5 0-93 3-48-3-30 7 9-1 5 3 19-5 17 1 46 1 31 2 13-2 2 3 5-3 1 2 2-1 4 2 6-1 12 1 3 0 1-1 1 1 17 0-22 2-8 1-5 1 0 2-7 0-3-1-2-3-8 1-4 0-3 3-22 0-39-3-8 2-10 0-8-1-14-1-62 4 7 5 8-1 4-1 14 0 4 0 7-2 11 4 6-4 1 1 4 0 3-1 1 2 1 2 10-1 1-3 3 3 3 1 4-1 2 1 9-4 0 3 1-2 1-1 1 0 28-1 32 0 3 0 3 4 5-4 0 2 4 0 1 1 0 2 1-2 4 1 2-3 5 0 4 3 2 0 4-4 3 3 5 8-8-4 0 1-6 3-5-4-1 2-1 0-1 1-3 1-1 0-2 0-7-5-4 3-2-2-3 1-1 3-1-1 0 1-3-1 0 1-1-4-1 0-8 2-12 1-12 0-10-1-11-1-2 0-5 0-3 1-7 0-1-3-1 0-2 5-1 0-3-3-3-2 0 5-2-1-1-1 0 2-3-4 0 2-1 0-2 1-1-3-8 3 0 1-2-3-5 1-8-3-13 1-6 3-3 0-4-1-4 1-4 0-15 0-5 4 2 1 24-3 1 4 2 0 3-4 2 2 1 1 1 2 6-3 3 1 3 2 1 0 5-4 8-1 1 4 2 1 1-3 0 3 2-2 2-3 7 5 3-5 3 2 1 1 1 2 3-2 1-1 4-2 1 3 1 2 4-4 7 3 1-3 2 2 1 2 1-1 2-2 5 0 1-2 2 1 0 2 7 2 4-5 7 1 2 3 1 0 0 1 7-3 5-2 0 4 2-1 5-2 2-1 0 5 11-2 8-1 6 2 6-4 0 2 1-1 1 1 8-1 1 0 0 4 3-5 0 5 1-2 4-1 2 0 5 1 6 2-11 6-4-2-2-1-7-2-15 2 0 1 0 1 0 1-4-4-18 4-7-1-5-3-17 2-6 1-3-1-6-1-1 2-5-2-1 3-1-3 0 3-1-4-3 1-3-2 0 2 0 2-3 0 0 1-1-3 0 1-1 0-2-2-1 1 0 1-1-2 0 1-3-2 0 4-1-3-3 3-1-3-1 0-3 2-3-1-3 1 0 2-4-1-1 0-4 0-2-3-1 3-3 1-1 0-2-3-1-2-4 5-5-2-4 0-1-2-4 2-4 2-1 0-9 0-2-4-6 3-5-4-2 0-3 3-4 1-4 1-1-5-14 11 13-1 7 0 5-4 3 5 1-5 11 0 2 5 1-3 0 2 1-4 0 3 4-1 2 3 2-1 4-4 0 3 1 0 4-2 7 3 5-3 1 1 1 0 1 3 1-4 1 0 1-1 1 5 2-3 1-2 2 5 1-5 5 1 4-1 4 3 3 2 9 0 3-1 1-4 0 1 1 4 10-2 1-3 2 1 5 3 2-4 6 0 0 4 2-1 0 2 6-5 16 5 3-1 10-2 3 3 4 0 4-1 1 1 2-5 4 3 4-3 2 3 3-1 1 2 1-3 0 2 3-3 1 5 5-5 4 1 10 3 1-4 23 4-19 5-4 0-3 0-2 0-1 0 0 2-7-5-5 1-1 1-2 1-7 1-1-1-2 0-5 0-1 0-8 1 0 1-1-4-2 1-1 2-7 0-6-4 0 5-4-4-5-1-4 5-2-4 0 1-5 3-4-4-1-1 0 3-3-3 0 3-3-1 0 3-8-5-3 3-7-1-1-2-1 1-3 1-2 0-1-1 0 4-2-2-4-2-1-1-4 1-3 0-1 0-4 0-5-1-2 1-1 1-2-1-2 3-4-2-1-1 0 4-4 0-3-4-1 1-3 1-2-1-2-1-2 2-2 0-1-2-2 2-2-2-3 4-2-3 0 1-1-1-1-1 0 4-7-1-1 0-3 1-1-3-3-1-4-1 0 4-3-2 0 2-9-2-4 0 8 5 6 2 1-2 1 3 1 1 1-3 2-1 4 1 2 2 3-3 0 3 5 1 4-5 0 4 1 1 1-2 2 1 4-2 2-1 1-1 1 1 4 3 4-1 1 2 1-2 1-2 1 2 0 1 1-1 2-3 4 1 0 2 0 2 4-5 0 4 3-3 2 4 1-5 1 3 4 2 2-5 0 4 2-3 0 4 3 0 1-2 1-2 2 2 1-1 1-1 0 3 1-3 0 2 4-2 0 1 0 2 2-3 6 1 2 3 1-1 0 1 2-4 0 1 2-2 1 2 1 0 0 2 1 1 2-2 3 2 1-5 0 1 7 4 2 0 2-2 0 1 2-4 3 5 1-1 5-3 1 1 2-2 3 1 1 4 4-4 0 4 1-5 0 2 8-1 4 3 2-4 2 1 3 3 4-1 3 1 3-4 0 1 2 2 1-2 5 0 3 2 6 2 5-3 0 3 6-1 5 1 3-1 12 0 20 5-21 0-14-2-3 4-2-4 0 4-3-2 0 1-6 1-3-2-2-2-11 2-1-3 0 3 0 1 0 1-7-3-2 3-1-5-5 3-7 1-3 0-6 0 0 1-3 0-2-4-2-1 0 5-1-1-4-4-1 0-2 5-3 0-2-2 0 1-1-4 0 2-1-1-1 2-3-3-1 5-2-4 0 3-2-1-2 0-1-3-1 0-2 4-3-4-1 0-1 2 0 3-1-3-1 1-3-1-2-2-1 3-4 0 0 2-2-5-5 0 0 2-1-2-2 3-3-2 0 2-2 1-3-3 0 4-3-5 0 5-3 0-7-4-2 0-3 0-3 2-3-3-2 2-2-2-2 4-4-3-1 2-6-1-3-2-8 5-1 0-1-4 0 3-8-1-3-1-1 2 0 1-7 0-3-4 0 3-1-3-5-1-8 3-9-2-15 1-65 2 82 7 9 0 13-3 2 1 2-1 7 2 1-2 0 2 1 1 5-5 1 2 0 1 2 0 1 2 1-5 1 0 0 1 2 3 5 0 2-3 3-1 0 2 1-2 0 3 2 1 1-2 3 0 1-2 5 5 1-5 0 1 5 2 3 2 4-4 5-1 1 2 0 2 6 1 3-5 0 2 9-2 0 5 1-4 2 1 6-2 0 4 1-3 2 0 4-1 2 4 4 0 1-3 11-1 1 2 2-1 4 0 0 4 2-3 3 1 1-3 1 5 3-5 6 1 2 2 1-3 3 0 0 1 0 1 1 1 7 1 0 1 4-4 0 3 5-4 4 3 1 1 2-4 0 2 1 2 2-1 2-3 0 5 1-5 1 1 1 1 1 0 0 3 2-3 1-2 1 3 2-1 1-2 0 3 1 2 4 0 3-3 0 2 1-2 0 2 2-4 3 2 1 0 4 1 0 1 3-4 1 2 3 1 6 0 14-1 6 1-16 3-4 3-4-1-2 3-2-5-2 2 0 1-1-1-3 0-2 0-2-1-2 4-6-3-2-1 0 3-1-4 0 4-2 0-10 1-1-2-1-3-1 3-5-2-1 3-1 0-2 0-4-4-7 3-4-2-4 3-4-4 0 3-1-3 0 1-1 0-8-1-6 0-1 1-4 0 0 1 0 2-2-3-1 0 0 3-1-3-3 2-4-1-3-2-1 4-11-1-2-3-1 1-2 1-1 0 0 2-1 1-3-2-1 1-1 1-3-4 0 2-3-2 0 2-5-1-1 1-4 1 0 1-2-5 0 4-5-1-2-2-1 3-1-4-2 2-5 2-3-4-1 1-4 1-1 0-6 3-3 0-2-3 0 3-8-3-3 3-1-2-2-1-6-2-12 2-3-2-13 4-37-3-42 1 28 5 32 3 3-4 4 0 17 3 5-2 4 4 1-3 3 3 7-2 0 1 4-3 5 2 2 1 1-2 1 3 2-1 1-1 4 0 1 0 0 1 2-3 5 2 2 1 2 1 1-4 1 0 1 2 2-2 5 2 1-2 1 2 2-3 0 5 2-5 4 2 1-1 1 4 3-2 3-3 1 0 2 1 6 0 0 2 0 1 1 0 1 0 2 0 4-3 10 1 2-1 2 2 3 2 3-4 4 4 8-3 0 2 1-4 0 2 2-2 2 2 0 2 4-1 1 1 2-3 3-1 2 0 0 1 0 2 1 1 2 0 2-4 5 2 4-2 2 0 1 1 1-1 1 3 0 1 1-2 1 2 0 1 5-4 4 1 3 1 1 0 2 1 1-1 2-3 0 2 1 1 3 0 0 2 5-4 0 4 1-5 0 3 1-3 0 2 2 3 1-4 2 0 1-1 3 4 3-2 2 3 1-3 6 0 3 0 1 1 0 1 0 1 3-3 3-2 0 2 1-1 6 3 1-4 1 1 4-1 3 4 1-2 11 0 7 6-10-2-3 5-3-1-1 0-1 1-1-3 0 2-2-3-1 0-2 3 0 1-2 0-1-4 0 3-2-4-1 1 0 3-2 0-2-3 0 3 0 1-3 0-6-5 0 3-1 2-1-5 0 1-4 2-1-1-2-2-1 4-1-1-1-2-1 0-3 2-1-3-2 3 0 1-3-4-7 4-1-1-7 0-3 1-6 0-1-2 0 2-1-1-1 1-2-1-1-1 0 1-2 0-2-2 0 2-3 2-3-4-8 0-3 2-1-3-2 3-2-1-1-2-4 5-1-3-1 3-3-4-2-1-2 2 0 2-1-4 0 2-1 2-1-2 0 1-5-1-4-2 0 3-1 0-3 0-1-3 0 4-4-2 0 1-2 0-1 2-1-2-1-3-7 0-1 3-2-3-10 4-1-1-2 2-2-4 0 1-12 1-2-1-2 0-2-2-4 5-1-5 0 5-1-5-2 4-1 0-1 0-2-3-3 1-2 2 0 1-4 0-1-1-7 0-1-4 0 2-2 3-1-5-5 2-4 3-1-1-3 0-2 1-14-3-1 0-5 2-13 1-65 3 11 0 5 0 21 1 9-1 3 0 31 2 7-4 1 4 3-1 3 1 4-1 2 2 1-1 1-1 3-1 0 1 3 0 5-1 4 1 1 2 1-3 11-1 0 1 1 1 4-2 1-1 0 2 0 2 1-3 3 3 6-4 2 1 0 2 8-3 0 1 2 4 2-4 1 2 2-1 0 3 8-4 2 2 3-2 1 4 2-5 1 3 1 2 2-2 0 1 3-1 2 1 3-2 0 1 2-3 5 5 1-1 1-3 0 1 2 0 0 2 2-3 1 0 1 2 6-2 3 2 1 1 1-1 3-2 0 2 4-3 1 3 1-2 0 1 0 2 2 1 2-1 1-4 2 2 0 3 1-1 0 1 4-3 5 2 1-1 1-2 0 2 1 1 6-4 3 4 1-1 4 0 1 1 1 0 2 0 2-4 6 0 1 2 0 1 2-2 3 4 1-4 0 2 1-2 7 0 0 2 1-3 3 4 0 1 3-4 2 3 0 1 7 0 3 0 1-4 3 2 3 1 1 0 4 1 5 0 2-4 0 3 0 1 3-1 2-3 2 4 1-1 15 5-9-2 0 2-1 2-9 0-1-3-5 0-2 3-2 0-1-4-3-1-1 1 0 4-4-1-1-1-4 1 0 1-2-2-3-3-1 5-5-1-1-4 0 3 0 1-2-3-4 2-1-1 0 2-1 0-4 1-2-2-1-1 0 1-1 2-3-2-3-3 0 4-2-1-2-3-2 1-1 3-4 0-1-2-2-1-2 1-1 1-1-3 0 1-6 1-1-1-3 1-1 1-1-3 0 3 0 1-3 1-1-4-1 0-4 4-4-2-1-1-3-1-5 3-7 0-3-2-4 3-3-3-1-1 0 2-2-1-2 2-2-1-1 1-2-3-1 1-2-1 0 3-2-4-1 1 0 4-1-4-2 4-2-2-1 0-3-1-2-2-3 4-2-1-1-3-2 3-1-3-5 0-1 3-1-3-4 4-1-1-2-3-3 0-1 3-7 0-15-2 0 3-2-4 0 1 0 2 0 2-1-2-1 0-2-2 0 3-3-2-1-1-5 0 0 4-1-3-2 2-2-1-2-2 0 4-2-4-5 3-1 0-2-3-1-1-1 5-3-1-4-4-14 4-30 0-1 1-1-2-4 0-2-3-1 1-2 4-3-3-3 0-12 1-3 1-12 7 8-4 10 2 6 2 2-4 5 3 2-3 9 3 2-4 1 0 0 1 1 3 4-3 4 4 1-4 25 1 7 3 1-1 1-4 5 0 6 3 2 0 3 0 2-1 3 2 2-4 3 1 2 4 1-2 4 1 2-3 0 2 5-1 3 0 0 1 0 1 1-2 1 2 1-4 0 4 1-3 1 3 4-2 2 1 1 0 9 2 1-1 1-4 0 1 1 2 0 1 2-3 0 4 5-5 3 1 4 2 0 2 1-4 5 3 3-4 2 5 1-4 0 4 3-2 3 2 1-3 1-1 2 2 4 1 1-4 3 3 3-2 6-1 0 3 0 1 1-1 1-2 1 0 2 3 1-4 1 1 1-1 1 4 1-4 0 2 3 2 5-1 2-3 1 1 2-1 1 4 2-2 3 2 2-4 1 3 9 2 2-5 5 3 0 1 8-1 6-2 1 0 4 2 5-3 3 4 1-4 3 5 1-1 2-3 3 4 1 0 4-4 4 2 1 2 7-1 2-3 2-1 1 2 0 3 3-3 1-2 0 3 2-3 2 0 1 4 5 0 1-3 3 4 4-4 0 1 2-2 1 4 5 0 3-1 8 2 1-4 2 3 6-3-7 6-3-1-3 5-6-1-7-1 0 2-9-3 0 1-2 1-1-4-3 2 0 3-2-5-5 4 0 1-1-3 0 2-3 0-2-3-1 0-2-1-3 4-1-1-4-3-3 4-1-2-3-1-3 0 0 4-1-1-4 0-2-4-4 0-1 5-6-1 0 1-3-5-3 0-3 1-1-1-2 1-6 0-3 1-5 1 0 2-1-1-1-3 0 4-1-3-2 3-6-1-1-3-4 0 0 2-1-3 0 1 0 2-3-3-4 0 0 5-3-4 0 2-1-2-3 1 0 3-2-1-2-3-4-1 0 3 0 2-6-4-1 1-5 3-2-4 0 2-1-1 0 2-2-1-1-1-1 1-4-2-1 1-2 1-1-1 0 1-1-1-2 0-4 0-1-2 0 5-2-2-1-1 0 2 0 1-1-4-2 3-1 1-2-5 0 3-1-1-4 0-1-1-5 1-3-2 0 3-3 1 0 1-1-2-3 2-1-4 0 2-2-3-1 2-7 1 0 2-8-4 0 1 0 3-5-5 0 5-1-3 0 3-6-1-3-4 0 3-3 0-3 0-6-1 0 3-1-5-1 4-5 0-8 1-4-1-6-2-5 3-10-4-9 1-2 2-4 1-5-3 0 2-9-2-2-1-2 0-2 1 0 3-3-3-2 1 0 2-8-1-3-1-8-1-1 4 2 2 12-2 2 1 5 3 2-1 2-1 2 2 2-4 9 0 0 1 1 2 6-1 2-2 0 1 0 2 2 0 2 1 1-2 8 1 2 0 3 0 8-1 3-2 0 2 6 3 6-2 2-3 0 4 1-2 3 0 0 2 1-1 1-2 0 4 1 0 3-5 0 3 5 2 7-4 5 4 1-4 2 4 1-4 0 3 0 1 4-3 2 2 1 1 1-2 1-1 3 0 0 1 5 0 0 1 1-3 7-1 3 4 3-2 2 1 1 1 0 1 1 0 1-1 1 0 1 0 0 1 4-5 1 2 0 3 1-1 0 1 3-4 0 1 2 2 3-3 0 3 0 1 1-1 1-2 3-1 1-1 1 5 2-3 1 0 0 3 2-4 0 1 2-1 0 3 1-4 1 4 2-1 1-1 3-1 1 0 17 1 6-1 0 1 5-1 0 1 0 1 1-3 2 3 3 0 1 2 1-2 2-1 1 3 3-5 1 1 0 3 1 1 4-3 0 3 3-1 2-4 0 3 1-1 2 3 1-3 3-2 1 2 0 3 4-5 0 4 1-3 1 0 0 2 1 2 2-1 2-1 1 2 3-2 3-1 1-1 1-1 0 4 2-4 0 4 2-4 5 2 0 1 0 1 4 1 4-4 0 1 1-1 1 3 4-2 4 2 4-2 2-1 5 1 1-2 2 3 2 1 4-4 1 1 2-1 10 0 6 0 1 4 6 0 2 0 2-1 4-3 1 3 2 2 4-4 3 3 20-2 11 6-7-2-6 5-5-5-5 2 0 2-9-3 0 4-2-3-1-1-1 0-5 3-3 1-4-1-1-4-2 0 0 5-2-4-2 1-2 3-1 0-6-3-8-2-1 1-2 2-5 1-1-2-3 0-3 3-4 0-2-3 0 1-1-2-2 3-2-4-1 1 0 2-2-3-1 1-2 2-3-1-5-2 0 2 0 1-2 1-1-1-1-1-3-2-1 4-4-4-2 5-1-4-1 2-4-2 0 4-2-2-2 1-4 0 0 1-3-2-1-3-5 0-2 1-1 2-3-1-6 0-4-2-2 3-1 2-4-5-1 0-2 2-2-2-9 0-3 4-2-1-5-2-1 1-1 1-1 2-1-5 0 1-3 2-3-2-1 0-5 1-1 0 0 1-2-1-6 1-1 2-2-5-1 1-4 4-1-1-2 1-1-5-5 0-1 2 0 2-3-2 0 2-1 1-1-4-1 2 0 2-3-4-6 3-5-2-2-1-1 0-1 0-1 0 0 3-5 1-1-3 0 1 0 2-3-3-1 2-3-1-1 1-2 1-3-3-1-1 0 2-1 0-3-2-3 1 0 3-9-4 0 3-2-2-5 0-3 0 0 2-4-4-1 4-2 1-5-4 0 3-5-1-1 0-13-1-2-1-1 4-1-4-5-1-5 5-1-2 0 1-1-4-3 3 0 1-8-4-1 0-8 1 0 3-1-4-10 6 0 2 13 0 3-1 2 1 0 3 5-5 6 4 1-2 3 3 3-4 1 4 3-3 6-2 0 1 3 0 5-1 3 0 0 2 8 3 6-4 2 2 3 1 1 1 1-1 8 1 1-3 0 3 1-4 1-1 0 3 1-3 0 3 3-2 1 1 7-1 0 1 0 1 1-3 3 5 2-5 0 1 1 4 1 0 1-1 0 1 1 0 2 0 1-2 0 1 5-4 0 1 3-1 0 2 1-2 1 0 1 2 1 2 1 1 1-3 1-2 0 5 1-5 1 1 1 1 6-2 0 1 0 3 2-2 8 1 2 1 4 0 2-2 1 0 1-1 3-1 1 2 0 2 3-1 3-3 0 4 2-4 3 5 4-2 10-3 4 2 4-2 2 2 1-1 0 4 1-5 8 0 0 5 2-1 1-3 0 4 5-2 2-3 1 0 4 0 0 1 2 1 2-1 0 3 2 1 1-3 3 1 6 1 5-3 0 2 1 0 1 2 3-4 1 4 3-2 2 2 1-3 1 0 0 3 3 0 2-5 2 0 1 5 2-1 2-2 4 2 1-4 0 2 2 3 2-5 4 1 5-1 2 5 2-4 1 0 3 3 4 1 3-2 0 1 1-1 3 0 2-1 1 2 1 1 1-3 0 1 1-2 0 4 3-3 3 1 2-1 1 1 0 1 3-2 1 0 3 1 2-3 1 4 0 1 1-3 5 2 0 1 1-5 1 0 1 3 1 2 1-5 3 4 1-1 2 2 8-5 0 2 1-1 5 2 4-1 1 2 2-1 1-1 2 2 6-1 2 0 30 0-18 4-6 4-15-5 0 4-1-4-1 5-2-2-4 1-1-3-6 2-1-2-2 0-3 4-1-1-4-3 0 3-1 0-5-2-5-2 0 5-4 0-3-3-3-2-1 3-1 1 0 1-4-4-2 4-2-5 0 3-5-2 0 1-4-2-1 5-1-3-1 0-1-1-1 2-2-2 0 1-6 1-3-2-2-1 0 1 0 4-5-1 0 1-1-2-2-1-1 1-1-1-7-1 0 2-2-1-1 3-3-5-3 0-1 0 0 5-1 0-1-4-1 2-2-2-4 4-2-3 0 2-3-3-2-1-2 2-2-1-1 3-5 1-3-5-1 1 0 3 0 1-3-4 0 3-1-1-4 2-1-5-3 4-2-3-2 2-4-1-3 3-2-5-2 2-1-2-3 1 0 2-6-3-3 1-3 1-3-2-1 4-5-1-1-1-1 0-1-2-3 3-1-2-1 2-1 0-1 2-2-5-1 5-1-3-4 1-1-3-3 2-3 3-3-5-1 0-9 2 0 3-2-4 0 1-1 1-1-3-1 2 0 1-4-3-7 1-1 2-1 2-1 0-3-3-1 1-3-1-2-1-5 2 0 1-2-4-4 3-1-1 0 3-5-4-1 2-5 2-2-3-5-2-4 4-1-3 0 2-1 0-2 2-1-3 0 3-2-2-2-3-1 1-3 2-9 1-11-4 0 2-2-2 0 3-2-2-1 3-2 1-10-5-4 2-8 1-9 2-2-3-3 2-11-4 10 11 16 0 7-2 8 0 0 1 1 0 2-4 2 5 2-2 4 0 1 1 2-4 5 4 7-3 5-1 5 5 1-4 2 4 4-5 1 0 1 0 0 2 1 1 0 2 2 0 3-5 2 1 0 4 2 0 1-2 1 1 1-1 2 2 1-5 5 1 1-1 1 2 0 3 1-3 3-1 0 3 0 1 2-3 2-2 0 4 4-1 0 2 2-4 1 2 1 2 1-4 0 1 0 1 1 0 1 2 2-3 1 2 1-1 2 2 1-4 1 1 1 1 4 0 1 2 2-1 0 1 1-5 0 2 0 1 1 1 1 0 0 1 4-3 1-1 1 4 1-2 1-3 2 1 3 1 8 0 1 2 3 1 3-3 1 3 3-3 3 2 5-3 0 4 9-2 2-1 1 2 3-4 0 5 2-4 0 4 3-3 1 2 3-4 3 4 1 1 2-1 1-4 2 3 3 2 1-3 1-2 4 5 4-1 3 1 1 0 8-5 2 3 0 1 2-1 1 1 1 1 4-4 5 1 0 2 1 0 3-4 0 4 1-1 0 2 3-4 1 1 1-2 1 3 4-3 11 0 5 2 0 2 1-4 3 1 4 1 1 2 2-2 0 1 7-1 1 0 0 1 1-2 2 1 4-1 1-1 4 4 1 1 1-5 1 4 2-3 0 1 3 2 7-4 1 4 0 1 2-4 1 0 2 2 2-2 0 3 0 1 1-5 1 1 3 1 6-1 1 1 0 2 1 0 3-4 2 0 1 1 1 0 0 2 3-3 0 2 1-2 4 3 2-2 0 3 5 1 2-1 1-2 0 3 5-5 2 0 3 2 4 2 13 1-8 3-11 1-1-1 0 2-7-3-1-1-5 2-1-1 0 4-2-4 0 1-5 1-13-3-2 0-1 0-2 1-1 3-2-1-1-2-5 1-2 3-3 0-1-5-1 0-3 2 0 2-3-1 0 1-2-3-2 3-1-2-1 1-1-2 0 1-1 1-2-3-2 1-1 1-1 0 0 2-1-3-3 0-1 3-3 1-3-2-2-1 0 3-1-1-2-4-3 3-3 2-3-3-1 0-1 3-3-5-1 3-1 2-1-5-1 2 0 1-2 2-1-2 0 1-1 1-1-3-1 1-3 0-3 1-1-4-2 0 0 1-3-1-2 1-3 0-1-1-4 1-1 2-1-3-6 3-6-3-5 1-1 1 0 3-2-3-1 2-1 0 0 1-3-3 0 3-4-2-2 0-1 1-2-3 0 4-3-3-1-2-2 1-1 3-1 0-4 0-1-4-1 4-1-2-4-1-3 0-2 3-1 0-1-1-5-2 0 1-2 1-1 1-1-3-2 4-1-5-2 2-3-2 0 4 0 1-2-2 0 1-4-2-1 0-1 0-1 3-4-3-2 0 0 3-1 0-4-4 0 3-2-3 0 4-1-1-3 0-1-3-2 0-4-1-6 2-4-2-1 0-1 5-8-3-2-2-1 0 0 2-3-1-2 3-2-3-1-1 0 1-2 2-2-3-1 0-1 1-1 4-2 0-6-3 0 3-3-5-1 3-1-1-3 2-1-2-4 1-1 0-3 1-1-1-2-3-6 4-1-4 0 3-5-3-17 2-4 0-9 0-2 2-2-2-6 3-4 4 23 2 14-1 3 1 2-4 2 1 0 2 2-1 2 2 1-2 1 1 1-4 5 1 0 4 2 0 2-4 2-1 1 2 2 0 2 1 2 2 1-5 2 1 5 0 2 3 3-2 2 1 0 2 1-3 2 3 2 0 1-5 1 1 0 2 2-2 0 1 0 3 2-2 2-2 2 0 1 2 0 2 2-1 1 0 2 0 3-1 0 2 6-4 1 4 1 0 1-5 0 5 2-1 0 1 1-4 1 4 1-5 0 3 1 2 1 0 2-3 3 3 6-4 1-1 1 0 1 0 1 1 3 4 6-1 2-1 1-3 4 2 1-2 3 3 0 1 1-4 5 2 1 0 4 2 2 1 2 0 2-2 3-2 1 2 2 0 1-1 3-1 2 2 2-1 2-1 3 0 2 4 4-3 4-2 2 0 1 1 2-1 0 1 4-1 0 3 4 2 1-2 1-3 0 2 0 2 4-3 5 2 2 1 4-2 1 2 1-4 0 4 2 0 2-3 4 2 1 0 3-1 3 3 2-3 1 3 1-3 3-2 0 1 0 2 0 1 1-2 4 2 2-3 3 0 1 1 0 2 0 1 1-3 1-1 4 0 2-1 4 3 1-2 2-1 5 1 2-1 3 5 9-3 6-2 3 2 1 0 0 3 1-3 1-2 0 5 1-2 0 1 2 1 3-5 0 2 1 2 1-4 5 2 4 1 0 2 2-4 2 0 0 2 3-2 0 4 1-5 0 5 7 0 1 0 3-3 5 2 1 0 4 1 1-5 1 4 3-3 0 2 5-3 0 4 1-1 3-3 3 2 8-1-6 5-1 3-7-3 0 3-1 0-4-1 0 2-1 1-1-4 0 4-1 0-1-4-1-1-4 2-6-2-1 0-3 2 0 1-1-1-2 2-1-2 0 2-1-4-2 1 0 1-1 3-1-1-2-3-3 0 0 3-2-3 0 2-2-3-2 4-2-1 0 1-3-3 0 4-1-3-3-2-1 1 0 3-1-1-3 1-1 1-1 0-4-5-1 3-2-3-1 1-1 4-1-4 0 3-2-1-7-2-4 1-3 1-5 0-9-2-2 0 0 4-5-3 0 3-4-1-5-4-1 5-1-5-3 3-1-3 0 5-1-1-1-3-3 2-1-2 0 1-2-2-1 4 0 1-2-3-2-1-2 3-2-2-3 0-3-1 0 3-1-2 0 2-6-1 0 1-2-2-9-2 0 5-1 0-1-4 0 2-4-2 0 1-3 2-3-1-6-1-1 3-1 0-1-2-3-2-1 1-1 2-1 1-6-1-1-2 0 3-1-2-2-2 0 1-3-1-1 4-2-3-1-1-3 0 0 1 0 1-2 1 0 1-1-2 0 2-1 0-6-5-2 4-1-4 0 1-2-1 0 4-2 1-2-3-1 3-1-4-2 3 0 1-1-1-7-4-2 5-7-5 0 3-1 0-1 2-1-4-1 4-1-2 0 1-3 0-3-4-1 3-6 0 0 2-1-5 0 2-1 1-1 1-3-1-4-2 0 2-1-3 0 3-1-2-7 3-2 0-2-2 0 1-1-1 0 1-2 0 0 1-1-4-1 0-2 0 0 5-2-3-1 1-1 2-2-2-1 1-10-3-4 2-3-1 0 3-1-4-3 2-7-3-30 8 32 1 6-1 1 1 2-1 2 1 1 2 6-3 1 0 1 2 1-4 0 3 2-3 0 1 1 1 0 2 2 0 7-3 0 3 3 1 2-2 2 0 1 0 1-2 2 4 7 0 3 0 1-5 1 1 4 3 2-4 0 2 2 0 7 0 3-1 2 0 1 0 6 1 1 0 1-1 0 1 2-1 1 0 0 1 2-2 2 0 4 1 10 1 0 3 6-5 3 4 2-2 0 2 1 0 2-4 0 2 1-2 2 3 0 2 1-5 1 2 1-2 2 3 3-1 3 3 3-5 1 2 5-2 3 1 3 4 1-3 2 3 1-3 0 2 1-2 7-1 2 1 7 1 3-1 2-1 3 1 1 0 6-2 1 0 1 3 3-1 1-2 0 2 1 2 1-1 2-2 0 4 3-2 0 2 1 0 2-5 0 2 4 3 2-1 2 1 1-2 2-1 3 2 1-3 1 3 3-4 5 0 1 0 7 4 3-4 0 3 2-2 0 4 1-5 3 1 4 2 0 2 2-2 2-3 1 2 1 1 1 1 0 1 1-2 8 2 12 0 1-4 1 1 0 2 2-4 0 3 6-3 2 1 1 3 4 1 3-5 1 3 1-3 0 1 9-1 0 3 3 0 0 2 1-3 3 0 0 1 0 2 1 0 1-3 5 2 9 1 1 0 1-5 4 4 3-1 2 1 1-1 5-2 1 9-2-2-6-2-1 1-2 1-2 1-1-2 0 4-2-5-1 1-1 4-1 0-1-2-1-2-2-1 0 4-1-1-2-2-2 3-1 1-6-2-1-1-3 1-1-1 0 1-1-3-2 4-1 1-1-2-1 2-2-5-1 5-1 0-3-2-1-2-2 4-1-1-2-3-4 3-2-2 0 1-1-2-2 0 0 2-3 0-1 1-5-2-3-2-1 0-1 2-3 1-1-1-1 1 0 1-1 0-4-3-1 3-1-1-2-1 0 1-3 1-1-4-1 0-1 2-1-1-2 3-1-1-3-2 0 4-2-5 0 2-1-2-5 4-2 0 0 1-3-5-3 1-1 3-1-1 0 1-1-3-4 2-2-2 0 1-1 0-1 2-3-3-2-1-1 0-1 4-1 1-1 0-1-5-1 1-3 4-1-5-2 3 0 1-1-1-3 0-6-2-2-1-1 5-3-2 0 2-5 0-2-3 0 2-2 1-2-5 0 3-1-1 0 3-1-4-4-1-4 4-2-4-1 2-1 1-1-2 0 1-1 1-1-3 0 1-2 0-1-1-5 5-1-4-1 3-5 0-2-1-1-2 0 4-1-1-4-4 0 5-1-5-1 2 0 2 0 1-1-1-3-2 0 3-7 0-1-2-5-3-1 2-2 0-1-2 0 3-2-3-3 2 0 1-2 2-1-3-1-1-2 1-1 1 0 1-2-2-2 2-2 1-2-5 0 3-3 0 0 2-2-5-1 5-4-1-1-4 0 4-4-4 0 3-3 1-6-1-1-2-2 0 0 3-1-4 0 2-2 3-1-5 0 1-3 4-1-4 0 2-1 0-3-2-1-1-1 2 0 2-1-4-1 0-3 3 0 2-1-2-6-1-2 2-5-4-1 2-1 1-1-3 0 2 0 3-7-3-1-2-2 2-1 1-3-3-2 4-1-4 0 2-1-1-14-1-1 10 3 1 18-4 5 4 1-1 0 1 1-3 1-1 1 4 3-3 2-2 0 3 3-1 0 3 1-2 0 1 2-4 0 4 0 1 3-2 5-2 3-1 0 3 0 1 2-1 4-2 0 3 8-1 1 1 0 1 1-2 2-2 1 0 1-1 0 2 4-1 1-1 0 5 3-4 1 1 0 2 1-3 2 0 1-1 2 2 2 2 3 0 1-4 3 1 1 4 3-5 0 2 1 2 4-4 0 1 2 0 3-1 0 3 1 2 9-2 2 2 2-3 2-2 0 1 2-1 2 5 4 0 1 0 2-5 1 5 1-2 0 2 1-4 1 2 0 2 1 0 1-4 2-1 3 2 3 2 1-3 0 3 5 0 1-3 3-1 1 3 2 2 1-5 1 2 0 3 5-2 0 2 5-2 2-3 1 3 1-2 2 3 6 0 1-4 2 4 3-3 1 1 1 2 2 1 4-4 3 3 5 1 1 0 3 0 1-4 0 3 2 1 2-2 1 0 0 1 2 1 1-5 2 3 0 1 0 1 6-1 2-4 1 2 0 1 1 1 4-1 4-1 2 0 0 2 0 1 2-5 3 0 0 4 5 0 2-4 0 1 0 4 3 0 1-3 7-2 5 2 3 2 1-1 1 1 0 1 2-3 0 2 1-4 3 4 1 1 3-4 2 0 2 4 1-4 1 3 3-3 4 0 0 2 1-2 2 4 1-1 3-4 1 0 2 5 1-5 2 4 1-1 0 2 1-3 2 0 1-1 2 0 5 2 3-1 3 3 6-2 1-2 1 4 2 0 2-4 2 0 4 4 5-5 2 1 3 10-10-4-2 3-6-2 0 1-3-3 0 4-3 0 0 1-6-4 0 3-4-4-1 3-11-2 0 3-3 1-1-1-1-1-4-2-6-1-2 0 0 4-4-1-2-3-5 5-1-1-11 0-3 1-1-4-1-1-2 3-4-1-5 1-3-3-4 5-1-2-1-2 0 4-1-4-3-1-3 0-1 0-3 1-4-1 0 5-2-1-1-4-1 4-2-1-1-2-1 1-1 1-2-1-4 1-2-1-3 0 0 2-2-3-7 3-2-4-1 4-2-1-1-1-1 1-1 2-2 0-3-4-11 3-8-1-1 2-1-3 0 1 0 1-4 0-1-2-1-2 0 2-3 1-1 2-1-4-2 1 0 2-2-1-1-3-2 2-1 1-8 1-1-1-4 0-5 1-5-3-1-1-3 4-1-4 0 4-1-1 0 2-11-4 0 3-1 0-1 0-4-3-2 3-2-1-1 2-4-2-3 2-1-1-2-4-3 1-1 4-5-1-1 1-7-4 0 1-1 1 0 1-1-4-1 0-1 0-6 3 0 1-6-2-1 3-4-1-6-3-1 3-5 0-2-2-2-1 0 3-1-4-3 3 0 2-5-1-1-4-1 4-2-4-1 3 0 2-1-4 0 3-1-4 0 5-2 0-2-5-2 3-2 2-1-2 1 4 6 2 6 1 1-3 2-1 0 4 3-4 4 0 0 5 3-2 2 1 1-1 1-1 2 1 1-2 8 4 1-2 1-3 0 2 2-1 5 0 0 1 1 0 3-2 0 2 1 0 3 0 3-1 3 0 0 4 1 0 1-1 0 1 7-4 1 3 2-4 4 5 1-2 2-2 3 1 2 3 2-5 0 2 2-2 0 4 1-1 1-1 0 2 4-1 4-3 0 2 4-2 2 1 3 0 4 0 1 4 2-5 0 2 0 1 3-3 2 3 0 1 1 1 1-5 1 1 2 2 1-2 8 2 0 2 1-5 0 3 0 1 6 0 1-3 0 2 1-1 1 2 1 0 3 1 5 0 1-4 1 0 10 0 9 3 3-2 1 0 2-1 3 2 1 1 3-2 1 3 2-2 0 1 1 1 4-2 3-1 1 1 2-1 0 1 3 2 4-5 1 0 0 1 3-1 3 3 3-2 0 2 3 1 3-4 2 0 2 2 1-1 1 0 1 2 2 2 1 0 1-1 1 0 2 1 5-4 3 0 1 3 1-3 3 3 1-3 3 0 0 1 1-1 1 2 1-2 6 2 1-2 2 0 1-1 0 1 2-1 1 2 1-2 0 2 1 1 6-1 1 0 0 2 2-2 1 3 1-3 2 2 1-3 2 0 2-1 0 3 0 1 1-2 1 1 3 1 3-4 0 1 2 0 1 2 4-2 0 2 1-1 1 1 2-2 0 3 1-3 1 0 1 3 1-1 5 2 2-3 3 1 3-2 2 3 2-2 2-2 0 3 2-3 2 4 21 3-28 0-3 0-2 1-7 3-1-5 0 1-3 4-7-4-1 4-1-2-3-1-2-2 0 2-5-2-2 5-1-5 0 1-4 4-1 0-1-5 0 2-6-1-4 3-1-1-1 1-1-1-1-1-1 2-1-2-2 0-2-2-1 0-1 3-1-2 0 3-7-4-3 1 0 2-3-3-1 4-3-1-1-2-3 2 0 2-2-2-2-2-1 1-4 2-4-3 0 3 0 1-1-5 0 1 0 4-1-3-2 1-3-3-2 3-1-2-1-1-1 0-1 0 0 4-2-2-2 1-1 1-1-1-1-1-1 1-1-1-2 0-3 2 0 1-2-4-1 1-2-2 0 4-1-1-1-2-3 4-1-1-1 1-4-4-1 0 0 1-1-2-3 1 0 1-5 3-1-3-4 1-2-1-1 0 0 2 0 1-5-4-3 4-7-4 0 3 0 1-3-3-1 0-2 2-1 0-1 0-4 0-2-3 0 3-3-4-1 4-2-3-4 3-1-2-5-1-1 2-1 2-3-4-4 3-2-2-1 2-3-3-3 0 0 4-3-4-5 0-2 2-1-3-4 1-5-1-1 1-2 3 0 1-1-4 0 4-4-1 0 1-1-3 0 1-1 1 0 1-1-1 0 1-1-5-5 0 0 5-1-3 0 3-1-5 0 3-2 2-2-2-3 0-4-2-1 1 0 2-2-4-2 4-4-2 0 2-1-4 0 1 0 4-8 0-1-3-2-1-1-1-1 3-2-2-5 0 0 4-1-3-2 1-2-1-3-2-2 3-2 1-1-4 0 4-6 1-1-1-4 0 2 4 2 3 5-3 1-1 3 1 1 2 3-2 1-1 1 3 1-1 0 2 1 0 1-1 4-2 0 2 1-3 2-1 0 1 4-1 0 2 1 1 4-1 0 1 11 2 1-3 2 3 3-3 0 1 1-1 0 2 3-2 3-1 0 2 1 1 2-3 0 2 3-3 0 2 0 2 0 1 1-1 1-4 5 1 2 4 1-2 2 1 2-4 3 2 3-1 1 0 1 0 0 1 3 0 1 3 1-4 2 4 2-2 12-1 0 1 4 0 3 1 1 0 3-4 1 3 1-2 1-1 0 3 3 2 4-1 1-4 1 5 2-2 1-1 1 0 0 1 1 2 3-5 7 3 8 0 1-1 6 1 2-2 3 4 4-4 8-1 1 1 3 1 2 1 1 1 5-2 0 2 1-1 2 0 8-3 0 3 0 2 1-1 2-1 1 1 4-1 0 1 1 0 1-4 3 3 3-3 4 4 4-3 9 4 1-4 1 0 2 4 5-5 1 5 1-4 1 2 3 2 2 0 1-5 1 4 1 1 4-5 3 3 1 2 2-5 6 0 1 1 2 1 3-2 0 1 1 2 1-3 0 3 4 0 0 1 3-4 2 2 4-1 0 4 3-2 3-2 2 0 1 0 2 1 1 3 1-5 1 2 1 1 2-3 1 5 7-4 3-1 1 2 12 1 1 6-17-3-2 0-6 0 0 5-4-1-3-4-3 0-1 0-8 3-15 1-5-1 0 1-3-4 0 1-2 2-1-3 0 4-1-3 0 1-1 3-8-1-2 0-2-3 0 2-1 1-2 0-3-4-3 0-3 4-3 0-2-3-1 3-1-3 0 2-3 1-3 1-5-3-1-1-1 4-2-4-1 2-1 1 0 1-2 0-1-3-3 1-2 0-4-2 0 2-1-3 0 4-1 1-2 0-3-4 0 2-1-3 0 4-2 0-2-4 0 3-6 1-4-3-7 0-4 4-7 0-1 0-7-4-1 0-6 3-1-4-9 2-4 2-1-4-1 1-4-1-2 2-6 0-4 1-4 0-5 2-2 0-2-4-5 0 0 1-1 3-2-4-1 2-2-1 0 2-4-4-3 3-2 0-1-3-5 1 0 2-1-2 0 2-2 1-3-1-2 0-2-1-1-1-7 2-1-1-2-1-2 0 0 3-3 1-2-1-3 0-4-1-1-3-3 3-2-2-10 0 0 3-1 1-1-4-1 0-1 4-3 0-1 0-2-1-1-3 0 2-3 2-3 0-3-1-4-2-1 0-2-2-17 9 5 1 15-1 2-1 1-2 2 1 2-1 0 3 5 0 6 0 4 0 2-1 4-2 0 3 3 1 6-2 5 3 1-3 1 2 1-4 2 1 0 3 1 1 2-4 6 0 7 0 6 4 4-1 1 0 1 0 5-4 3 5 1-3 2 0 1-2 0 2 5-2 1 3 0 2 8-4 0 1 6-2 1 0 0 3 3-1 1 2 4-1 2-2 2 3 6-2 7 1 1 2 1-3 1 3 3 0 5-2 4-1 0 3 2-2 1-2 5-1 0 4 2-2 0 3 3-5 6 1 2 2 2 2 3-5 1 2 2 0 14-2 0 1 9-1 1 5 1 0 5-2 1-3 2 5 12-5 0 2 0 2 1-4 3 0 2 2 3-1 1 0 1 0 2 4 2-1 1 1 3-5 0 1 2 0 0 1 1 1 1 1 1-4 0 1 0 3 0 1 3-5 6 4 2-4 0 2 2-1 2 0 0 2 2-2 1-1 2 5 1-3 0 2 2-2 1 2 1-3 1 0 1 4 4-2 2-1 1-2 6 1 2 0 0 3 1-1 0 2 1-5 4 5 2-2 2 0 5-1 4-2 1 2 2 0 15 4-5 3-1 1-19-4-15 5-6-5 0 1-1-1-3 0-3 4-4-4-4 4-5-2-1 2-3 1-2-3-3-2 0 5-5-2-3-2 0 2 0 2-2-4-3 0 0 1-1-1-1 0-1 2-2-3-1 5-2-3-4 3-6-3-2 0-1-2 0 2-5-1-1 2-3-2 0 1-11-2-4 4-4-3-1 2-7 0-12 1-13-3 0 4-5-1-4-2-3 2-2-1-3 0-1-2 0 3-3-4 0 2-9-2-1 0-1 4-1-3 0 4-4 0-2-1-3-4-1 5-1-2-2 0-1-3-1 3-3-1-1 3-1-4-3 3-1-2 0 3-4-3 0 3-1-4 0 1-1-1-2-1 0 1 0 2-4-1-2 1-3-2-3 1-2 1 0 2-3-4-1 2-1-2-1 0 0 3-2 0-1 1-1 0-1-2-1 1 0 1-2-1-1-1-1-2-4 4-2-4 0 2 0 1-1-4-5 3-1-1-1-1-1 0 0 4-1-5-1 1-1 1-1 2-2-2 0 2-3-1-2-2-3-1-2 0-2 0-1 2-1-1 0 3-3-1 0 2-5-2-1-3-1 4-2-3-3 1-5 0-4 3 8 1 4 4 1-2 2-1 4-1 3 4 0 1 2-5 3 0 2 2 0 2 1-1 1 0 4 1 3 1 2-1 1 1 1-5 0 5 5 0 2-1 1-2 1-1 0 4 4-2 2-2 1 4 1 0 1-2 3 0 2 0 1-2 1 4 4 0 4-1 2-4 3 0 1 2 2 1 2 0 0 2 1-1 5-4 3 2 3 3 1-5 1 4 1-2 3 1 0 1 0 1 4-1 1 0 1 0 2-1 1 1 1-1 1-1 0 2 1-2 1 0 9 3 8-2 0 1 0 1 4-5 0 4 2-3 1-1 0 1 3 2 2 2 5-4 0 4 7-2 1-1 3-1 0 2 3 0 7-1 0 2 13-3 26-1 1 2 5 3 2-5 12 0 0 4 2-2 2-1 0 2 1-3 1 4 4-1 1 0 2-2 3-1 0 4 2-1 4-3 1 4 1-4 0 5 1-5 4 5 1-5 3 2 11 0 1 1 3 2 5 0 3-4 31 3 8 1 7 0-5 1-13 2-9 3-5-5-4 5-7-3-14-2-1 4-9-2-5-1-1 1 0 1-3-2-4-1-1 1 0 2-7 2-5-3-4 3-5 0-16-3-1 0-10-2-9 4-8-3-9 3-2-2 0 3-1-4-5 2-5-3 0 4-9-1-1-3-1 1-1 0-1-1-1 5-4-1 0 1-2-4-1 0-3 3-1-3-1 3-2-3-1 0-1 3-1-3-3 3 0 1-1-1-1-1-1-3-5 1 0 1-16 3-1-1-1-4-1 3-2-3 0 5-1-1-1-1-4-2-1 0-1 3-4 1-4-3-3-1-7 1-3-1 0 3-2-4 0 1-1-1-6 1-1-1 0 1-1 3-1-2-5 2-2-2-2 0-2 0-2-1-1 0-3 4-3-1-5-3 0 2-2 0-1 0-2-1-3-2-1 5-6-1-2-4 0 1-1 0-4 2-1-1-1 1-11 5 6 1 12-2 1 4 6-2 4-3 0 5 1-2 2 0 0 1 1-1 0 2 8-4 0 4 2-1 0 1 1-1 0 1 4 0 1-1 3-1 1-2 3 0 3-1 4 5 1-3 1 2 5-1 1 1 7-3 1 4 3-1 2 0 2-1 1-2 7 3 8 1 1-1 1 0 3-4 1 5 3-4 4 0 1 3 8-2 0 3 1-1 1 1 1-4 0 1 2 1 4-2 0 3 6-1 0 1 2-2 0 2 1-4 8 3 0 2 5-5 0 1 3 4 5 0 3-4 10-1 10 3 7-1 7 3 3-3 3-2 0 4 5-4 8 0 1 0 2 2 10-1 5 0 5 1 11 3 1-4 11 0 4 0 3-1 26 1 17 0 7 3 6-4 4 0 0 3 8 0 15 0 4 2-16 1-5 2-1 3-3-3 0 1-8 2-4-3-1-2-15 5-8-1-14-3-40-1-23 4-4-4 0 4-6-3-1 1 0 3-3-1-4 0-3-4-3 2-6 1-9-2-16 0 0 1-4 1-3-3-1 3-1 2-1-4-1 0-2-1-2 3-5 0-5-3 0 1 0 4-9 0-1-5-2 0 0 3-2 0-1 2-2-4 0 1-2-2-2 3 0 1-6 1-2-3-1 0-1 0 0 3-4-3-1-2-3 0 0 4-3-2-4 2-1-1-3 1-6-3-1 0-4 4-1-1-3-3-2-1-3 1 0 1-2 0 0 3-1-3-6 0 0 2-2-3-1-1-6 5-3-1-4-4-2 5-2-5-5 0-5 2-2-2-2 4-4 1-6-1-7-4-7 4 14 3 0 3 1-2 5-1 6 0 1-1 2 0 4 4 0 1 1-3 1 3 4-4 3 4 1-2 3-1 1 3 2-4 3 4 2-1 1 1 1-4 0 4 1-3 0 3 3-1 1-3 5-1 2 2 4-1 3-1 0 5 1-5 1 1 4 0 1-1 0 1 0 1 3-1 1 0 2 0 2 0 4-1 1 0 1 3 1 2 1-2 2 2 3-2 3 1 0 1 2-2 2 2 2 0 4-4 4-1 0 2 1 1 1 2 1-2 0 2 2-2 4-1 0 2 1-1 4 2 1-3 0 2 1-3 0 1 1 1 1 0 1-3 1 0 5 2 1-2 0 3 6-1 3-2 1 0 0 3 6-2 0 4 4-2 1 2 11-2 5 2 11-5 2 3 6-1 2-2 1 0 5 4 1 0 9-4 4 0 4 2 12 0 48-1 14 4 4 0 1-5 10 1 3 3 4-3 6 0 1 2 13-1 9 0-1 6-7 0-1-2-3 3-4-2-3 1-1-2-3 2-2-2-5 2-2 3-1-3 0 2-1 0-1-1-1 1-1-2-3 1-8 1-4-1-39-3-32 0-18 1-5 4-2-2 0 2-3-4-5-1-6 4-1-4 0 1-4 1 0 2-1-1-2-2-1 4-2-1-2-1-3 0 0 1-1-3-4 2-4-2 0 4-1-1-5-2-7 2 0 1-3-4-1-1 0 5-4-1-5-4-4 2-1 1-2 0 0 1 0 1-1-2-4 0-1-3 0 3-2 2-2-1-7-4-1 3-2-2-1 2-5 2-3-4 0 3-3-3 0 3-4-4-1 0-1 3 0 1-1-4-2 1 0 4-2-5 0 2-1-2 0 3-10 1-2-2-1-1-1 2-7-1-1-1 0 1 0 1-6-2 0 4-1-1-10 1-4-5-4 4-1-4 0 2-9-2 0 5-5-3-3 3-2-5-12 4 11 2 2 4 8-3 10 1 3 2 1-3 1 1 5-1 0 1 2 1 1 0 2-3 1 2 2-2 1 3 1-2 0 3 3-3 3-1 0 5 1-3 4-1 3-1 0 1 2 1 0 2 1-1 0 2 2 0 1-4 0 2 1-2 0 3 1 0 4-2 0 2 6-3 0 2 1-3 0 4 0 1 4-3 7 0 0 3 7-5 1 0 2 3 3-2 1-1 0 2 1-2 0 2 4-2 4 5 1-3 1 2 1-1 1-1 0 3 6-5 5 5 2-4 0 1 3 2 4-4 2 0 0 2 0 2 2-2 2 1 5-3 1 0 0 1 1 1 5-2 0 2 1 2 1-3 0 2 12-3 13 2 0 3 1-2 1-2 0 3 6-1 6-2 3 2 9 2 4-3 2 0 48 3 5-1 26 1 2 0 2-2 0 2 3-4 2 0 1 3 3 1 2 0 4-5 6 0 4 4 2-2 2-2 1 4 11 1 12 6-23 0-1-5-1 2-5 0-1 0-2-1-1-1-5 4-3 0-8-4 0 2-1 2-2-1-6 2-1-4-1-1 0 4-2-4-1 1-2 4-7-3-5-1-48 0-17 2-21 2-3-3-8 3-3 0-4-2-3-1-2 0-3-1-1 0-3 2-6-3 0 2-3 3-1-4 0 3-1-3-3 0-3 1-5-2-1 0 0 1-1 3-1-4 0 4-2 0 0 1-1-3-1-2-2 1 0 3-1-1-1-1-1 0 0 1 0 1-2-2-6 0-1-1 0 1-1 1-1 0 0 2-7-3-3-2-3 0-2 5-1-2-2-2-1 2-1-2 0 2-2-3-1 1-3 4-3 0-6 0-4-1-7-4-1 1-2 0-1 4-1-4-1 4-1-4-7 2-23 2-15 4 0 1 17-3 2 0 13 3 1-4 0 2 2-1 4 0 6-1 2 3 0 1 4 0 2-4 6 0 3 4 3-3 3 1 2-1 5-1 1 0 3 0 16 2 5-2 6 5 1-4 4-1 2 2 2 0 3-1 4-1 1 4 3-4 0 4 9-2 7 1 2 0 5-2 12 4 2-3 0 2 2-3 0 1 11 2 10-4 5 1 1 0 1 4 7-4 11 3 46-4 4 4 6 0 1 1 9-2 3 1 1-1 1 1 1-3 3-1 0 2 1 2 1-2 1 1 5 0 2-1 1 0 2 3 3-4 1 0 3 2 1-2 1 1 0 2 1-2 4 0 1 1 2 1 7-2 3 1 5 7-6 1-4-3-15 0-1-2-6 2-4 3-2-3-7-2-5 2-1 2-3-4 0 1-5 2-1 1-3-1-36 0-36-3-23 2-15 1-3-1 0 1-4 2-6-3-5 3-1-1-9-1-2-3-1 2-1 1-2-2-2 1-3 0 0 2-1-3-4 2-3-3-6 3-5-3-2 5-1-5-22 2-3 0-4 2-9 0-8 0-4 0-11-1-1 0-11 2-1 0-5-2-10-2-17 7 23 2 2 1 10-2 1-3 14 1 12 0 5 2 5 1 6-3 3 1 8 2 17-3 8-1 3 5 15-3 3-1 2-1 0 3 4 1 2-2 0 2 83-4 56 0 7 4 7-2 1-1 1 2 5 1 10-1 8 2 7-3-2 6-4-2-4 1 0 1-2 0-11 2-3 0-2-2-5-2-1 0-1 1-2-1-3 0-3 0-3 1-4 1-107-2-26 0 0 3-2-1-10 3-2-5-10 3-4-3-42 0-11 2-11-2-3 0-6 0-15 1-3 2-5-1-2 1-13 1-1-3 5 9 8-4 4 5 2-5 0 2 4 1 8 1 4-3 3 4 2-4 7 2 2-2 21 4 1-5 9 2 13-2 9 2 19-1 5 0 0 2 2-2 21 3 12-3 10 3 109-4 1 1 2-1 3 5 6-2 4-1 9 1 7 0 10 1-4 2-17 4-4-3-1 0-4 0 0 1-151 3-1-3-40 0-25 2-34-2-4 0-9-2-1 5-21-1-2-2-20 8 27-3 14 1 2 3 34-3 196-1 26 0 20 7-1 1-250-3-4 4-29-3-2 1-18 1 64 11-9-1-9-1-40 7 4 4 8-5 1 4 32 8-47 7"/>
<path fill="url(#pu0)" stroke="url(#pu0)" stroke-width="1.2" fill-rule="evenodd" d="M1587 254 1599 251 1641 255 1653 258 1683 272 1755 282 1783 302 1809 318 1823 332 1836 350 1842 380 1835 404 1815 430 1785 449 1731 450 1707 447 1701 449 1683 464 1659 474 1641 485 1617 491 1569 488 1557 485 1545 478 1527 467 1501 440 1496 422 1492 362 1498 350 1501 332 1518 308 1548 284 1563 267ZM1578 266 1563 275 1551 288 1526 308 1509 335 1500 368 1499 398 1505 434 1524 458 1557 478 1575 484 1611 486 1629 483 1641 478 1674 458 1684 446 1695 440 1731 444 1779 444 1791 439 1809 426 1831 398 1835 380 1827 348 1809 326 1761 293 1743 286 1719 287 1683 281 1659 269 1635 262 1593 261Z"/><path fill="url(#pu1)" stroke="url(#pu1)" stroke-width="1.2" fill-rule="evenodd" d="M1581 265 1593 261 1635 262 1659 269 1683 281 1719 287 1743 286 1761 293 1809 326 1827 348 1835 380 1831 398 1809 426 1791 439 1779 444 1731 444 1695 440 1684 446 1674 458 1641 478 1629 483 1611 486 1575 484 1557 478 1524 458 1505 434 1499 398 1500 368 1509 335 1526 308 1551 288 1563 275ZM1580 272 1563 283 1527 318 1512 344 1504 386 1508 422 1515 440 1532 458 1563 476 1575 479 1611 481 1629 477 1661 458 1683 436 1695 432 1731 439 1779 438 1805 422 1825 398 1828 380 1821 350 1807 332 1761 300 1743 293 1719 297 1683 292 1659 278 1629 268 1593 269Z"/><path fill="url(#pu2)" stroke="url(#pu2)" stroke-width="1.2" fill-rule="evenodd" d="M1581 271 1593 269 1629 268 1659 278 1683 292 1719 297 1743 293 1761 300 1807 332 1821 350 1828 380 1825 398 1805 422 1779 438 1731 439 1695 432 1683 436 1661 458 1629 477 1611 481 1575 479 1563 476 1532 458 1515 440 1508 422 1504 386 1512 344 1527 318 1563 283ZM1584 278 1563 290 1533 322 1519 344 1509 392 1514 422 1522 440 1533 452 1564 470 1575 474 1611 475 1623 473 1652 458 1677 432 1689 426 1701 425 1731 434 1773 433 1785 428 1803 415 1820 392 1822 380 1819 362 1809 344 1797 332 1761 307 1743 301 1737 301 1713 308 1695 302 1677 301 1651 284 1629 275Z"/><path fill="url(#pu3)" stroke="url(#pu3)" stroke-width="1.2" fill-rule="evenodd" d="M1587 277 1629 275 1651 284 1677 301 1695 302 1713 308 1737 301 1743 301 1761 307 1797 332 1809 344 1819 362 1822 380 1820 392 1803 415 1785 428 1773 433 1731 434 1701 425 1689 426 1677 432 1652 458 1623 473 1611 475 1575 474 1564 470 1533 452 1522 440 1514 422 1509 392 1519 344 1533 322 1563 290 1575 282ZM1620 284 1587 287 1569 293 1551 309 1527 344 1516 386 1515 398 1523 428 1533 443 1544 452 1575 468 1617 468 1647 454 1671 428 1683 419 1707 418 1737 427 1767 426 1779 422 1797 411 1809 398 1815 380 1807 356 1793 338 1761 316 1743 310 1713 319 1689 317 1677 313 1641 288 1629 284Z"/><path fill="url(#pu4)" stroke="url(#pu4)" stroke-width="1.2" fill-rule="evenodd" d="M1623 284 1641 288 1677 313 1689 317 1713 319 1743 310 1761 316 1793 338 1807 356 1815 380 1809 398 1797 411 1779 422 1767 426 1737 427 1707 418 1683 419 1671 428 1647 454 1617 468 1575 468 1544 452 1533 443 1523 428 1515 398 1516 386 1527 344 1551 309 1569 293 1587 287ZM1572 302 1557 314 1539 341 1527 371 1523 392 1527 416 1533 428 1545 441 1571 458 1605 460 1618 458 1633 452 1647 442 1671 410 1683 402 1713 403 1737 417 1761 418 1773 414 1790 404 1797 398 1803 389 1804 374 1790 350 1773 336 1749 324 1737 324 1719 331 1689 337 1677 331 1653 310 1635 299 1587 297Z"/><path fill="url(#pu5)" stroke="url(#pu5)" stroke-width="1.2" fill-rule="evenodd" d="M1575 300 1593 297 1635 299 1653 310 1677 331 1689 337 1719 331 1737 324 1743 323 1755 326 1776 338 1791 351 1804 374 1803 389 1797 398 1790 404 1773 414 1761 418 1737 417 1713 403 1683 402 1671 410 1647 442 1633 452 1618 458 1605 460 1571 458 1545 441 1533 428 1527 416 1523 392 1532 356 1544 332 1557 314ZM1575 314 1557 332 1538 368 1534 386 1539 416 1555 434 1575 447 1593 450 1615 446 1635 434 1650 416 1665 392 1667 380 1661 344 1659 338 1649 326 1629 314 1593 309ZM1732 344 1720 350 1710 362 1708 374 1710 380 1749 404 1767 401 1779 394 1784 386 1785 380 1783 368 1779 361 1767 352 1749 345Z"/><path fill="url(#pu6)" stroke="url(#pu6)" stroke-width="1.2" fill-rule="evenodd" d="M1575 314 1593 309 1629 314 1649 326 1659 338 1661 344 1667 380 1665 392 1650 416 1635 434 1615 446 1593 450 1575 447 1555 434 1539 416 1534 386 1538 368 1557 332ZM1737 343 1747 344 1762 350 1780 362 1785 374 1785 381 1781 392 1775 398 1761 403 1749 404 1710 380 1708 374 1710 362 1720 350Z"/>
<path class="dt" d="m1756 152 39 11-210 6 7 1 69 5-78 8 83 1 22-3 59 0-45 8-2-1-42-2-70 2 14 5 37 1 20-2 37 4 3 0 15-2 6 1 19-2 16 2 12 4-6 3-34-2-32-2-16 4-3-1-17 1-1-3-1 0-11-1-13 1-55 1-55 4 18 0 2 1 25 2 23-3 3 2 23 0 16-2 1 2 7 0 23 1 2 1 12 1 24-1 37 1 18-1 1 0 14 6-25-3-4 3-39-2-3 3-14-2-1-1-10 2-7-3-12 3-10-1-5 2-3 0-13-3 0 3-6-4-8 1-10 2-7-1-10-3-2 5-12 0-38-4-18 1-39 2 52 5 3 0 29-1 10-2 11 0 7 4 10-1 1 2 4 0 11-2 7 0 5-2 4 1 1 3 31-2 15 0 33-1 13 1 16 0 34 1 0 1 13-2 20-1-14 6-20 1-22-1-2 3-4-4-11 1-1 3-15-4-4 3-1-4-6 0-7 3-2 0-5-1-7 0-5 3-3-1-15 1-8-4-6 0-15 0-3 3-4-2-6 2-15 0-2-2-1 2 0 1-5-2-1-3-10 3-8-2-6 1-5 2-3-3-83 5 26 3 22 1 17-1 22 0 6-1 1-2 2 3 23 1 6-4 0 3 17-3 0 2 7 3 2-5 1 5 1-4 17 3 3-3 7 0 9 4 2-1 7-4 2 0 1 4 2 0 1 1 6-3 2-2 29 1 10 2 20 2 6-4 5 0 1 0 1 2 13-1 35-1-56 10-21 0-16 0-4-3-9 2-1 1-1-1-4-3-1 3-1 0-4-4 0 3-11 1-5-2-2-2-1 1-3 4-14-3-2 2-1-1-6-2 0 1-1-1 0 3-1-1-6 2-1-3-5 0-1 0 0 3-1 0-1-5-3 1-7 1-6 1-9-2-2 2-3-3-1 3-2 0-7-2 0 2-2-1-2 0-9 1-2-1-6-2-6 2-16 1-13 1-9-2-32-2 0 10 14 0 10-2 15 2 4 1 10-5 10 1 1 1 0 1 0 2 2-4 2 3 1-4 3 4 10-2 1-2 0 2 4 2 1-1 0 1 5-4 2 5 3-2 2 0 0 2 2-4 3 3 1-3 1 1 1 3 1 0 4-1 2-3 3 1 8 2 1-4 1 5 4-2 0 1 2-3 4-1 2 4 1-4 1 1 9 2 4-3 0 2 2 2 1-4 0 2 2 2 5 0 4-3 3-1 1 4 10 1 4 0 2-5 2 3 5-2 13-1 0 1 11 4 3-5 17 1 10 4 1-2 4 1 19-4 5 1 3 1 25 2-35 5-6 0-7 0 0 1-18 0-1 1-4-5-13 0-4 2-4-1-4 4-1 0-10-1-1-3-7 0-2 4-14-1-1 0-5-1-2-1-5 1-1-3-7 3-1 1-7-3-3-1-4 5-2-3-5 1-3 2-2 0-6-1 0 1-2 0-1-1-1-1-2 0-4-3-1 4-4-2-1 3-1 0-2-1-3-2 0 1-4 1-1-3-1 1-2 2-1-2-7-1-3 2-1 2-1-1-2-1-5-1-1-2-9 2-2 3-11-3-8 2-9 1-14 0-4-2-8 1-4 1-4-5 36 11 1-2 9 0 7 0 4 1 1 0 2-4 1 0 2 4 1-3 5 4 1-5 1 0 0 5 8-3 1 0 2 1 2-2 1 0 1-1 0 4 2 0 3 0 1-4 2 1 0 2 1-3 4 1 0 2 2-2 1 0 0 4 5-5 0 3 1 1 4-4 1 3 1-1 0 2 2 1 1-3 0 3 1-5 4 2 4 0 1 3 4-3 3 0 3-1 0 3 3-3 1-1 5 4 1-4 0 1 1 0 0 2 3-3 3 1 0 2 3-1 0 3 4-3 1-2 6 3 3-1 3-2 5 4 7-2 5 1 12-1 0 2 1 1 2-1 1-1 4-3 4 1 0 1 5 0 1 3 1-1 2-3 0 4 6 0 5-2 16-1 13 1 5-2 3 3 3-2 2 0 9-2 0 2 0 1 13-1-4 5-19-1-5 5-1 0-6-4-2 4-7 0-8-4-1 0-2 2-8-2-1 3 0 1-2-4 0 2-1 2-2-5-2 0 0 5-4 0-8-2 0 1-3 1-4-5-1 0-3 0-1 5-1-4-1 1-1-1-3 2-1 2-4-5-5 1-3 1-1-2-4 0 0 3-7-2-1 1 0 1-1 0-3-2 0 1 0 3-1-2-1-2 0 1-4 3-4 0-1-5 0 5-2-5-4 1 0 3-1-4-1 1-2 2-1-1-2-2-2 5-1-4 0 2 0 1-2-1-1 1-1 0-1 0-5-4 0 2-3 2-1-3-2 1-1 0-1 0-1 0-4 1-4 0-4 2-1-2-1-2-5 4-1-2-5-1-3 3-1 0-1-5-8 2-1 1-5 2-2 0-8 0-1-2 0 2-2-2-4-1-2 2-1-4-2 1-2 1-4-1-2-1-9 5-7-2-9 0-12 2-34-3-49 9 48-2 1-2 9-1 20 0 7 5 4-2 21-3 9 5 1-3 2 1 3 0 3 2 5-2 3-1 1 1 0 1 1-3 3 0 3-1 1 1 2 0 2 2 0 1 2-3 4 3 3-2 1 1 1 1 4-3 5 3 0 1 2-1 1 1 4-3 1-1 5 1 0 2 4-1 0 2 5-5 2 3 1-1 3 1 3-2 0 3 3-1 1 0 12 0 1-3 0 5 6 0 1-4 1 4 2-4 1 2 1-2 5 4 1-5 3 1 3-1 1 5 6-5 2 3 0 2 1 0 2-2 2-3 6 0 2 1 11 2 1 2 4-5 0 4 1-2 6 1 2 2 1-1 1-3 0 1 3 0 5-1 7 0 0 2 2-1 1 1 3 1 0 1 2-4 10 0 2 4 2-3 5 0 8 3 5-2 0 2 1-1 8-1 1 0 3-1 1 3 7 0 7-3 4 3 27-4-8 8-12-3-14 5-1-2-1 0-10-2-2 1-2-1-2-1-6 5-1-4-5 1-1 2-2-4-4 4-6-4-2 2-1 3-1-4-1 4-1-1-3-3-3 0-2 4-3-3-3 2-1-4 0 2 0 2-6-4-2 4-1 1-1-4-2 0-2 3-2 1-4-4 0 2-1 1-5-4-5 3 0 1-6-3-3 2 0 2-1-1-2-4 0 2-1 2-2 0-3-3 0 1-5 2-2 1-3-2 0 1-5 0-2-3-3-1-1 0-1 0-1 1 0 4-1-5-1 4-2-2-1 1-3 0-3-1-1 3-1-2-5 2-1-4-2 0-3 2-2-2-3 2-4-3-2 0-12 2 0 2-1-1-2-2-1 1-6 2-3 0-1-1-2 0-1-3 0 5-1-3-1 3-1 0-2-4-2 3-1-1-1-1-6 2-1-3-7-1 0 3-1-2-3 0 0 2-1-1-6-2-3 1-15 3-4-2-4-1-10 1-2 3-4-5-15 5-44-3-33 7 23 0 39-1 21 3 6 0 4-3 3 0 7-1 1 4 4-5 1 3 4-1 8 3 4-4 7-1 2 4 0 1 1-5 0 1 1 0 2 1 1-1 1-1 1 5 2-1 0 1 1-1 1-1 2-1 3 0 2-2 1 5 2-4 1-1 5 1 1-1 2 1 2 1 1-1 10 3 2-3 2 2 3 2 2-3 9-1 1 4 1-4 1 3 1-3 0 3 4-1 4-1 0 1 2-1 0 2 2-4 4 3 2-3 1 1 0 4 1-5 3 1 9 2 1-3 1 1 0 2 4 0 1 1 1-3 3 4 1-2 0 1 2-1 0 1 8-4 1 4 1-2 1 1 2-1 1-2 1 1 1 2 4-3 1 2 1 2 1-2 1 3 1-5 0 4 0 1 2-4 2 4 5-2 2 2 3-4 2 0 1-1 0 2 0 3 3-2 2 2 2-1 3 1 1-4 1-1 2 1 1 1 0 3 2-2 0 2 1-5 3 1 3-1 4 2 6 2 2-1 2 1 1-4 0 1 0 3 0 1 2-3 0 1 1 2 7-2 2-1 0 2 0 1 5-2 1-1 9 2 3-2 8-2 18 1 18 4-5 2-8 1-2 2-1-4-3 2-6 0-6 1-2-3-4 3-8-1-4 2-2 0 0 1-2-1-2-4-1 2-4 1-5-3-2 3-4-3-3 2-1 1-4 2-8-1-2-3 0 1-3 0 0 2-4-2-3 1-2-3-3 3 0 1-1 0-2-3-2 1-1 2-4-4-3 5-1 0-1-2-1-3-1 4-3 0-3-1-1-2 0 4-1-3-2 3-3-3-3-2-1 3 0 1-3-3-9 1-3-2-1 1-1 2 0 1-2-1-2 2-3 0-1-3-2 1-1-2-1 0 0 3-5-2-1-2 0 2-1 0-1-2-2 4-1-1-2-1-1-2-1 4-2 0-2-2-1-2-2 5-2-3-1 0 0 3-1-1-6-2-1 0-1 2-1-4-1 5-2-4-3 3-1 1-1-3-2-2-1 3-2-3-6 5-3-5-1 0-1 1 0 2-1-2-1 0-4 2-6-2-2 2-1 2-1-1-4-4-2 5-2-5-2 3-3-3-1 2 0 1-1 0-1-2-2-1-2 2-1 2-1-2-3-1-1 1-9-2-3 3-3 1-3-3-1 3-3 0 0 1-5 0-37-3-34 1-6 2 3 2 18-1 9 2 19-1 1-1 2 4 0 1 1-5 5 1 4 4 4-3 16-2 0 3 3 2 4-5 3 3 1-1 1-1 0 1 2-1 4-1 3 1 3-1 6 3 1 1 1 1 1-1 1 1 3-3 1 0 2-2 0 2 0 3 1-2 2-3 1 1 0 1 2 0 4-1 0 3 1-2 1 1 1-1 0 2 3-1 5-1 3 3 1-5 1 1 2-1 2 5 2 0 4-4 0 4 3-2 5 2 1 0 2 0 1-1 3-3 1-1 0 2 1 2 2 1 4-5 5 1 3-1 9 3 0 1 4-4 3 0 0 1 0 3 2 1 2-2 1 2 2-1 4-2 2 1 1-3 2 0 1 3 2-1 1 0 1 2 3 1 1-2 1 2 1-4 2 2 1 2 5-1 5-2 1 3 1-4 2-1 5 0 0 2 1 0 5-2 0 1 2 4 1-5 1 3 0 2 4-2 1-2 1-1 3 0 2 3 1 0 5-2 4 0 0 1 2 1 2-2 5 0 0 2 1 2 1-2 4-1 0 3 2-4 3-1 0 3 2 0 4-2 4 1 0 2 7-1 1 0 1-2 1 2 0 2 7-1 4 1 12-3 13-1 7 1 27 7-36-1-10 1-4-1 0 3-12-2 0 1-11 0-5 1-1-5 0 4-3-2 0 1-1-2-2 0 0 4-1 0-1 0-2-5 0 4-2-4-8 2 0 2-1-4-6 1-2 4-1-5 0 4-3-4-1 5-1-2 0 1-1 0-7-1-1-2-2-1-7 3-4 0-2 1-4-2-1 0-3-2 0 3-3-2-2 0 0 2-2 2-1-4-1-1-2 5-1-4-4 3-8-3-1 1 0 1-2-3-2 5-3-1-7-2-1 1 0 2-3-1-2-2-2-1-2 3-1 0-1-3-2 3 0 1-2-5-3 1-2 0-3 1-1 3-1-3-2 1-1 0-2 2-2-4-2 1-1-2-3 2-8-2-1 5-3 0-2-3 0 1-1-1-4-1 0 1-12-2-2 2-6-2-5 2-1-2 0 3-2 1-2 1-1-1 0 1-1-1-6-3-3-1-1 0-1 2-1 3-1-1-2-2-1 2-1 1-3-3-1-2-2 3-3-3-1 0-2 1-4 4-1-2-1-3-1 4-1-2-2 1-3 0-6-1 0 3-3-2-3-3-3 3-3-1-6 2-1-2-26-2-6 1-12 1-5-1-14 2 3 6 17 2 5-5 2 3 0 1 18-1 15-2 3 0 0 2 3 1 3-4 2 1 3 4 2-3 2-2 1 5 3-3 0 2 2-4 4 4 2-4 0 4 4-2 3 1 1-3 5 4 2-3 1 3 3-2 2 2 2-2 1-2 2 2 3 0 0 3 1-5 0 5 1-2 1 0 9 1 2-4 1 0 0 4 3 1 1-4 1-1 1 1 0 3 7-4 2 2 0 2 2-4 1 1 0 1 0 2 2 0 3 0 2-2 1-2 2 1 3 3 4-1 6 0 1-1 1 1 2 2 4-2 2-3 2 2 2-2 1 1 1-1 3 0 1 4 6-3 1 2 3-2 0 2 1 0 1-3 0 2 1-2 1 3 0 2 6-1 5-3 1-1 2 5 6-4 1-1 1 2 0 3 5-1 1 1 4-4 0 4 1-4 2 0 2 0 4 4 1-5 5 1 0 1 1-1 3 4 2-4 0 2 0 2 5-5 0 3 0 2 1-1 1 0 0 1 2-1 2 0 2 1 2-2 2 0 2 1 1-1 2-1 7 0 0 1 1-1 1 3 2-4 1 1 1-1 4 4 2-1 2 1 2-1 1-4 2 3 3-3 1 2 0 1 2-1 2 1 2 1 7-4 2 2 1 1 1 1 2-4 5 0 0 2 3 3 1-4 3 3 1 0 1-3 1 2 4-1 1 1 1 2 1-1 3 0 0 1 1-4 2 2 1-3 20 5 10-1 5-3 35 2-18 6-23 2-2-3-3 0-3 3-5-4-2-1-6 3-3-2-2 4-8-2 0 2-7-2-1 2-2 0-1-2-2-1-1 0 0 2-4-1-1-1 0 2-1-3-4 2-3-2 0 2-2 2-4-4-3 3-1-1-1 0-1 0-2-3-4 2-2 1-2-3-2 4-3-1-2-2-1 2-3-2 0 4-3-3-7 2-2-3-1-1-3 0-1 3-1-3 0 1-1 0-2 0-1 1 0 2-6-1-1-3-3 4-2 1-1-4-3-1-2 0 0 1 0 3-1-4 0 3-1-3-1 1-2-1-3 5-1-2-3 1-1-3-1 0 0 2-2-3-1 5-10 0-7-1-2-4-1 4-6-2 0 1-1-1-5 2-1-4-4 4-6 1-1 0-2-2-1-2-1 3-2-2 0 2-2 0 0 1-1-2-9 1 0 1-12-3-1 3-4-2-4 1-1-2-1-2 0 2-1 3-2-2-1-3 0 4-1 1-1 0-1-3 0 2-2-4-2 5-1-1-2-3-1 1-4 2 0 1-1-5 0 4-2-2-5-1-1 4-4-4-1 0 0 2-4-1-1-2 0 3 0 1-1-1-1-1-11 1-1-1 0 3-2 0-1-3-3 0-1 1-2 0-1 0-4 1-2-4-2 3-1-1 0 1-3-3 0 1-4 0 0 2-1-3-5 4-2 0-5-1-3 0-10-2-1 2-1 0-7 2-8-1-1 0-19-1-17 0-5-3-22 4-37 7 60-5 22 5 10 0 5-2 11-1 2-1 1 4 3-1 4-3 4-1 0 5 2-1 4-3 1 3 1-1 3-1 6 3 1-2 2-2 4 0 0 2 0 1 2-2 1-2 1 4 3-2 1 3 3-3 0 2 1-3 1 1 1-2 2 0 2 1 0 1 6 1 0 1 1-4 3 1 0 1 3-1 2 0 1-1 0 1 4-1 1 0 0 2 1-1 2 2 1 1 1-2 2 2 1 1 5-4 0 2 2 0 0 1 0 1 3-5 0 5 3-4 0 3 1-2 1 0 2-2 0 5 6-5 0 4 0 1 3-2 3 1 2-2 1 1 3-1 3-1 0 2 1 1 1-3 2 3 4-2 6 2 1 0 1-3 4-1 4 1 3 2 0 1 1 1 1-5 5 0 0 1 3-1 1 1 1 0 0 4 1-1 2-2 2 3 2-5 0 1 3 4 2-5 3 3 3-1 0 3 3-5 1 2 5 3 1-5 1 1 0 3 2-2 2-1 2 2 1-3 2 1 1 2 2-3 5 0 0 3 0 2 2-4 1 4 1-2 1 2 4-3 4-2 5 1 1 4 1-3 3-1 2 1 1 1 1 2 4-2 2 0 0 1 3-2 1-1 4 1 1 3 1-2 0 2 3-2 2-3 0 5 2 0 2-1 5-3 0 1 2-2 1 3 1-2 0 3 2-2 2 2 3-2 6 3 1-2 0 2 2-5 1 3 8 0 1 1 9-1 1-2 0 3 1-4 5 2 1 2 2-3 1 0 0 2 2 0 0 1 2-3 1 1 2-2 2 2 0 2 0 1 3-4 1 2 2 0 0 1 2-2 6 3 7-1 2 1 1 0 2 0 1-1 42-2 2 9-3 0-2-3-12 3-37-5-1 3-6 1-4-3-1-1-6 1-2 2-1-2-3 1-1-1 0 2-2-1-4-1 0 2-4-3-3 1-1 3-1-1-2 0-2-2-9 2-6 0-1-3 0 2-4-1-1 3-3-2-1 2 0 1-3-3-2 2-2-3-2 2-1 0-1-1-3 1-2 0-4-3-4 5-1-4-2 4-2-1-1-3 0 3-4 1-5-3-2 3-2-4-2-1-1 2-2 1-3 2-2 0-1-4-1-1 0 2 0 2 0 1-1-1 0 1-3-4 0 3-3-1-1 0-10 1-2-2-1 0 0 1 0 2-1-3-5-2-3 0 0 3-1-1-8-1-1 3-1-1-1 0-3-1-1 3-2-2-7-2-1 1-7 2-2-4-1 0 0 3-5-3-2 4-1-2 0 3-2-4 0 4-1-2-3-3-2 4-10-4-1 3-2 1-1 0-1 0 0 1-1-3-1 2-2-1-1-2 0 2-1-2 0 2-1-1 0 3-2-2 0 2-3-2-1-3-1 1-1-1-1 2-4-1-1 0-2-1 0 3-1 2-1-5-3 3-6 2-1-4 0 3-1-4-4 1-5 0-1 4-2-2-3 2-5-1-3-4 0 1-6 4-2 0-2-2-1-2-1 0-2-1-5 3-1-1-2 1-1 0-1-1-1-2-6 4 0 1-2-3 0 3-3-5-2 3-4-1-1-2-3 3-3-1-2 2-2-3-2 4-3-5-9 0-3 5-2-3-8-1-28 3-26-3 19 7 25 3 6-2 11-3 6 2 8 1 1 1 7 0 2 1 2-2 1-3 1 0 1 4 2-3 2 3 1-1 3-3 3 0 2 3 2-3 3 4 1-3 8 3 3 0 3-3 1 0 0 3 1-4 1 0 0 1 0 4 1-2 1-2 2 4 1 0 4-5 5 4 0 1 1-5 3 0 0 2 4 0 0 2 2-3 0 2 0 2 6-3 1 0 1 2 2 0 0 1 1-3 1 3 1-2 1 0 3-2 0 3 5-4 0 3 2 1 1-1 1-1 0 2 2-4 8 1 0 1 3-2 2 1 0 1 5 1 1 0 0 1 8 1 1-1 2-1 1-1 1 0 0 2 1-3 1 1 0 2 6 1 2-5 0 2 0 3 2 0 1-5 0 3 1-3 2 2 2 2 3 1 1-5 0 5 1-4 1 3 1-4 1 5 1 0 3 0 2-3 3 1 2-1 1 0 0 3 1-2 1-2 4 4 5-3 0 2 6 0 1 1 3-1 2-4 1 0 4 4 3-1 3-1 3 1 3-1 1-2 0 5 3-4 1 3 1-4 3 3 2-2 1 0 0 4 5-3 2 0 1 2 0 1 1-5 1 2 2 3 4-1 3-3 1-1 1 0 1 3 0 2 1-4 0 1 3-2 1 1 1-1 0 5 2-4 1 0 2 0 5 0 2 3 2 0 4-2 0 2 2-4 1 3 2 0 2 2 2-1 2 0 1-4 7 0 4 4 2-3 2 2 2-3 1 2 0 3 2-3 0 1 3-2 0 2 3 2 1-5 1 3 0 1 13-2 1 2 3-2 1 1 1 0 1-1 1 2 3-2 1-2 5 1 5 2 1 0 10-3 10 11-2-1-1 1-6 0-1-1-1 1-1-1-1 1-4-1 0 1-3 0-2-4-4 2-1 0 0 1-1-2 0 3-4-1-1-3-1-1 0 1-5 2-2-3-3 5-1 0-3 0-1-4-1 0-2 0 0 4-2-1-2-3 0 2-4 1-4 0-2-1-1-2-3 3-2 1-2-2-1 1-2-4-1 5-2-1-1-2-1 2-1-2-1-1 0 4-2-2-1-2 0 1-2 3-2-4-3 0-4-1 0 3-2-1 0 1-8-1-2-1 0 3-5 0-1 1-2-2-1 1-3-2-3-1-7 4-4-3-3 3-2-5-1 0-2 4-1-4-1 4-1-1-6-1 0 3-12-2 0 1 0 1-1-5 0 3-2-3 0 1-1 0-1 3-1 1-2-4-5-1 0 3-2 0-1 1-3-2 0 1-3-1-1 3-1-1 0 1-3-3 0 1-1-2-1 1-6-1-3 4-1-4-1 0-4 0-4 3-1 0-1-1-1 0-3-1-2 2-3-4-2 3-1 1-1-1-1 0-1 1-3 1-2-5-1 0-2 0-4 5-5-3-6 0-1 3-1-5-2 4-4 0 0 1-2-1-1 0-1-1-1 2-4-4-1 0-7 1 0 3-3-5 0 5-4-4-2 2-1 2-2-4 0 3-9-4-4 1-5 2-4 1-2 0-2-3-2 0-4 1-1 1-9 2-2-2-2-2-7 3-2-2 0 1-1 0 0 1-1-1 0 1-1-2-4 3-2-1-3-2-2 1 0 1-12-1-3-3-1 5-8-3-8 3-2-1-2-4-10 1-10 4-43 5 45-2 4 2 2-2 6-2 7 2 6 0 6 3 3-2 0 1 6-2 0 1 2 1 1 1 3-4 7 3 1 1 8-4 4-1 1 1 0 4 1-3 4-1 1 3 4 1 3 0 3-1 2-1 3 0 0 2 3-5 0 2 1 2 1-3 1 0 1-1 1 1 6 0 3 1 1-1 0 3 2 0 1 0 1-2 1-2 0 2 2-2 2 4 1-1 3-1 2 0 1 0 2-1 0 2 1-3 3 1 0 2 0 2 1 0 1-5 3 4 1 0 3-4 0 2 0 2 2-1 1-1 6 0 1 3 1-1 2-4 0 1 1 4 4-1 9-4 1 0 0 5 2-4 0 3 4-4 4 3 1 2 4-5 0 4 1-2 0 2 1-1 2-3 0 1 3 4 2-3 6 0 8 0 3 0 3 1 6 2 1-1 1-3 0 2 4 1 5 0 1-3 1 4 1-4 1-1 1 2 1 2 1-4 2 0 1 4 1 1 3-1 4 1 2-4 4-1 4 5 3 0 5-3 1 1 3 1 1 1 2-3 1 3 5 0 1-5 1 1 4-1 1 1 2 2 0 2 1-1 2 0 2-3 0 4 1-2 1-3 2 0 1 0 1 3 0 2 1-4 1 2 2-2 0 3 5-4 1 0 2 1 0 4 2-5 4 1 2-1 0 1 0 3 2 0 4-3 8 0 0 2 1-1 3 2 2-4 2 2 2 0 1 0 1-1 1 0 1 3 3 0 1-1 2-2 2-1 3 3 4 1 1 0 1-3 3 1 1 0 4-1 0 2 3 1 5-4 0 5 2-4 3 2 3 0 6-2 3 2 2-3 0 2 3 3 34-1 37-1-31 4-3 1-1-1-21 0-1 2-10-2-2 0 0 1-2-1 0 4-1-2-1-3-3 4-2-3-5 0 0 3-4-1 0 1-1-2-3 0-5 0 0 3-2-4 0 1-9 0-2-2-3 3-1-1 0 2-1-3-1 0-2 1-1-1-2 2-1-3 0 1-3 3-5-4-1 0-1 0-1 4-1-4-1 3-2 1-3 0 0 1-1 0-2-5-3 1 0 4-1-2-4-2-1 1-5-2 0 3-2-3 0 1-1 0-4-1-2 3-1 0-2 1-4-4-5 1-5 3-4-1-2 1-1-1-5 0-2 0 0 2-5-2-1-1 0 2-4 0-1-2-1 3-1-2-3-2 0 4-1-4-6 4-2-4-5 3-2-3-3 1-1-2-3 2-1-2-3 1 0 1 0 1-3 2-1-4-3 4-1-5-2 5-1-1-5-3 0 3-2-1-1 1-1 1-3-1-4-1-1-1-1 2-1-4-7 5-1-1-4 0-1-3 0 3-1 1-4-2-2-1 0 1-2-3-1 2-2-2-5 5-3-1-5-3 0 4-1-3-1-1-2 3-1-3 0 3-1-1-4 1-5 0-1-4 0 3 0 2-1-4-8 3-1-3-3-1 0 2-1-1-7 2-2-3 0 2-4 0-2 3-2-5-2 2-8 0 0 2-2 0-1 1-5-5-2 1-3 3-4-2 0 2-4 0-1-2-2-1 0 4-6 0-3-3-3 2-4-1-5-1-1 1-2 1-1-3-6 3-3-3-3 2-8-3 0 3-11-2-19 0-7 2-3-1-27 8 4 0 54-1 1 2 4-3 1 1 1 2 1-4 20 2 0 1 0 1 2-3 1-2 1 3 2 2 1-2 4 0 1-3 3 0 0 1 0 1 0 2 1-2 2-2 1 1 8 3 6-2 1-1 5 2 0 1 0 1 2-5 0 2 2 1 0 1 1 1 2-5 2 1 0 2 6 1 0 1 1-5 0 1 2-1 2 2 1-2 0 3 1 0 2 2 2-4 1 3 0 1 1-2 9-1 5-2 6 1 0 3 2-2 0 3 2-3 7-1 0 1 0 3 2-2 2 0 2-2 0 1 1 1 1 0 3 1 2-4 0 5 4-5 1 5 3-4 0 2 5-3 3 0 0 3 0 2 2-5 2 1 0 3 1-4 5 4 1-2 4-2 0 4 1-4 3 2 1 2 3-3 0 2 3 1 0 1 2-3 4-2 2 0 2 0 0 1 0 1 1 2 2-3 5 2 1 1 3-4 0 1 0 4 3-3 2-1 0 3 10-4 0 3 1-3 3 1 1 0 0 2 4 2 1-5 0 4 0 1 3-3 2-1 2 2 1-2 2 1 1-1 1-1 1 4 3 0 1-4 2 2 4 2 1-4 0 4 1-1 1-1 1 2 1-3 0 2 0 2 3-5 1 2 5 3 1-4 1 1 0 1 0 1 2 1 1-3 1 1 1 1 2-1 4-3 0 4 2-2 1 1 3 0 2-2 3 0 1-1 1 2 2 2 1-4 1 1 2 1 1-2 1 0 1 3 1 1 3-4 0 4 3-4 0 5 2 0 3-1 7 1 2-3 0 2 1 0 3-4 0 3 6-1 2-1 1-1 0 3 2 1 1-3 0 2 1 2 2-4 0 1 1-1 2 0 2-1 2 1 0 2 7 1 1-2 1 0 1-1 2 0 0 4 7-5 2 1 3 1 0 1 2 2 8 0 1-4 0 3 9-1 0 1 24-1-20 3-2 2-4-1-8 3-4-4-1 2 0 3-2-1-2-2-2-1-3-1-1 0-1 0-1 1 0 3-1-4 0 2-3-2 0 5-1-3-1 1-1 1-1-1-1-3-1 1 0 4-1-1-3 1-1-5 0 3-1 2-1-5 0 1-1 2-1 2-1-2 0 2-1-5-1 4-3-4-1 1-6-1-1 0-2 3-1 2-2 0-1-5-1 0 0 2 0 2-3-4-2 2-3 3-4-2-1-1-1-2-1 2 0 3-2-2 0 1-4-3-1 0 0 3-4-4 0 1-2 4-1-1-4-2 0 3-4-1-1-2-3-2 0 5-2-4-3 0-1 3-1-4-2 2-2 3-2 0-1-2-1 0-7-3-1 1 0 2-2-1-10 0 0 2-2-3-1 0-8-1-1 2 0 1-4 2-3-3 0 2-1-4-1 5-5 0-1-4-1 0-2 0-1 1-3 1-2 0-5-1-2-1-2 2-2 1-1-1-1-2-2 0-3 4-1-5-2 3-2 0-1 1-9-2-3-2 0 4-1 1-1-4-3 1-4 0 0 1-3 1-2-2-5 0 0 3-1-2 0 1-1-3-3 0-1 2-2-2-8 0-4 2-2-2-1 4-1-3-1 3-1-2-1 2-2-3-2-2-1 2-2 2-1-3-4 2-1-1-1 0-1 2 0 1-2 0-3 0-2-3 0 1-4 2-1-3-1-2 0 4-1-3-1-1-2 0 0 2-1 3-2-4-3 4-4 0-2-3-2-2-3 5-1 0-4-4-8 3-1-3-1 1-1 0-2 0 0 2-2-4-5 1-7 1-1-1 0 4-1-5-2 2-2 2-6-4 0 1-1 4-1-2-7-2-2-1-2 3 0 2-3 0-1-3-1 1-2-2 0 1-1 1-4 2-2-4-2-1 0 4-2-4-8 4-6-1-1 0-1 1 0 1-1-2-24-2 36 7 6-2 3 4 4-1 2-3 1 0 2 3 3 1 0 1 4-4 1 2 0 1 0 1 1-3 2 2 3-3 1-1 0 5 1 0 2-5 7 0 3 0 0 3 4 1 0 1 1-1 1-4 0 2 7-2 1 3 1 0 2 1 3-4 0 2 7-1 1 0 0 3 6 0 3-2 1 2 0 1 4-4 0 1 0 2 3-1 1-3 5 0 2 5 1 0 2-3 0 1 2 2 1-5 2 4 0 1 2 0 2-1 1 1 2-2 1 1 4-2 2 1 7-1 2 1 2-1 2 2 0 1 1-4 1 4 3-5 3 4 2-1 0 1 2-4 3 1 0 2 1 1 0 1 3-5 1 5 6-3 1 2 2-2 1 3 4-5 2 0 3 4 1 1 3-5 0 1 0 4 3-5 1 5 3-4 2 0 0 2 0 2 5-5 0 4 1-3 5-1 0 3 1 1 4-2 2 0 0 3 1-3 7 2 1-2 0 1 6 1 1 1 2-4 1 0 1 1 7 2 0 1 1-4 1 1 2 2 1-4 3 3 4 0 1-3 2 0 0 3 3 2 1-3 0 3 1-4 3 2 1 2 1 0 2 0 2-3 0 2 6-4 2 3 4-1 0 2 2 1 3 0 1-3 3 0 0 3 2 0 1 0 4-5 4 2 0 1 1-3 7 4 0 1 1-1 1-1 1 2 5-5 2 1 0 3 5-2 1 2 1-4 2 1 0 2 6-3 0 1 1 1 3 0 2 3 2-4 4 3 0 1 6-3 1-2 3 0 0 5 2 0 2 0 3-3 1 0 1-2 3 4 6 0 4-1 2-3 3 0 3 0 1 3 26 1 4-2 36 3-45 1-1 5-5-5-5 1 0 1 0 1-3 2-2-3 0 3-1-2-1 1-1 0-10-3-1-1 0 5-1-4-2-1-1 1-1 3-2 0-2 1-1-3-1-1-1 4-1-3 0 3-2-2-1-3-7 1-2-1-1 4-7-3-1 1-1 1-1 1-1-3-1 2-3-2 0 1-4 3-4-5 0 1-2-1-1 1-2 4-3-2-1-2-2-1-2 4-2-3-1 3 0 1-1-5-1 4-1-1-2-1-2 1-1-1-2 2-2-2-3 1-3-2-3 1-1 2-2-3-1 0-3-1-3 3-1-3 0 1-2 1-1-2-3 3-5-1-1-1 0 4-1-5 0 1-1 3-1-4-1 2-4 1 0 1-1 1-1-4 0 3-3-1 0 1-1-3-2 4-1-5 0 5-1-3-1-2 0 2 0 2-1-1-1 1 0 1-6 0-1-3-1 3-3-4-1 0-4 4-2-4 0 3-3-3 0 1-2-2-4 2-3 3-1-3-1-1 0 4-3-5-3 3-2-2-6 4-1-4-1 2-3-1-1-2 0 2-8 1-2 0-1 2-2-2-1-3-1 3-1-3-5 2 0 3-2-3-5 0 0 1-4-1 0 3-2-1-4-1-4-3 0 1 0 2-1 2-3-1 0 1-4-3-1 2 0 1-1-1-1 0-4-4-3 4-1-2-1-1-1 0-2 3-2 0-10-3-1-1-1 3-7-1 0 2-1 0-1-1-3 0-1-1-2 2-1-1-3 2-2-1-2-4-4 0 0 3-1-1-1 0 0 2-1-2 0 1-4 2-4-3-2 0 0 1-5 1-1 1-7-4-1 2-9-1-6-2 0 1-2-1 0 4-2-4 0 5-1-4 0 2-2 0-6 2-5-5 0 1-2 4-1-4-2 4-5-5 0 4-3-3-10 3-9-2-15 5 21 0 15 3 2 1 11-4 1-1 0 3 1-2 1 4 3-1 1-4 3 1 0 4 3-2 0 2 1-2 3-2 7 0 1 4 5-5 0 1 1 0 9-1 1 4 2-3 4 4 1-5 0 3 3-2 1 2 0 2 1 0 2-5 1 2 6 1 1 0 1-1 0 2 1-3 7 0 0 4 6-1 5 0 1-4 0 4 5-3 2 4 5-1 1 0 2 0 2 0 4-1 3-3 0 1 0 4 5-1 3-3 2-1 0 2 1 1 1-2 1 3 1 0 1-3 3-1 0 2 1-2 0 5 1-3 1-1 2 0 2-1 2 4 2 1 3-1 2 1 2-5 5 1 2 4 1 0 1-5 2 0 3 3 4 0 3-1 1 2 2 0 1-4 5 1 1 0 5 1 0 2 3-1 1-1 0 1 1-1 3-1 1-1 1 0 0 4 1 1 5-4 0 2 4-3 2 1 6 0 2 3 5-3 1-1 0 1 4 2 2 0 1-3 4 4 4-3 4 0 0 4 3-4 1 0 0 2 1-2 1 1 3 0 0 1 1-2 0 4 1-5 0 3 2-2 0 2 5 0 0 1 1-3 1 4 2-2 2-1 2 0 3-2 1 0 1 3 2 1 2-4 1 0 0 1 2 0 3 1 3-2 10 5 1-5 3 0 0 5 1-2 1-2 2 3 6-2 1-1 0 2 2-2 1-1 7 3 3 0 2-2 3-1 1 4 1-1 1-2 0 2 5-3 0 2 2-1 2 1 1 1 3-3 0 3 1-1 1 1 2-1 0 2 1-1 2-3 0 4 5-4 1 5 2 0 1-2 1-3 8 1 9 0 3 0 0 4 6-4 4 4 1 6-13-2-5 1-2 1-2-4 0 1 0 2-2-1-4-3-2 5-1-3-6 3-1-2-2 0-1-3 0 5-1-3-2 1 0 1-1-3-1 4-5-5-1 1-7 4-4-5-2 3-1-3-1 0-3 3-6-1 0 2-8-1-2-2 0 2-1-2 0 1-3 3-3-5-2 4-4 1-1-3-2-2 0 2 0 3-2-2-1 0-1 0-3 1-3-1-3-1-1 1-4-3 0 2-1 3-1-3-1 3-4-3-1-2-2 4-5-4 0 3-1 1-7 1-2 0-2-4 0 3-4-4-1 0-4 5-5-2-1 2-1-3-3-1-1 3-3-2-4 2-3-3 0 2 0 2-1-4 0 1-1-1-1-1 0 3-1 0-2 1-3 0-1-4-1 2 0 1-5-3-3 2-5 3-1-2-3 1-2 0-6-3 0 4-3 0-1-5 0 2-4 1 0 1-3-3-8 1 0 1-7 1-1-3 0 3-2-4-3 0-5 3-1-2-3 0-1 3-3-2 0 1-3 0 0 1-3-1-2-3-6 0-4 4-2 1-3-4-2 3-4 1-2-3-1 1-2-2 0 3 0 1-2 0-2-2 0 1-2 0-3-4 0 1 0 2-3-2-3 2-1-3-1 0-10 2-2 2-2-3-2 3-1-1-9 2-1-2-5-2 0 2-1 2-3-1-4-3-5 4-4-3-7 1-2 1-1-4-1 0-2 5-5-5 0 2 0 3-1 0-2 0-4 0-1-5-1 5-2-4 0 4-5-4-3 1-2 3-3-2-5-2-1 0-3 0-10 4-2-2-4-2-3-1-27 4-7-2 26 4 47 5 1-2 1 2 3-1 2-3 1 3 5 0 7-1 3-2 0 1 1-2 3 3 0 1 1-2 2-2 0 3 3-2 5 1 1-2 5 2 0 3 3-5 1 2 1 1 1 1 2-2 3 2 2-4 3 0 4 5 1-2 2-3 1 2 0 3 2-5 0 3 4 2 2-4 0 1 3 1 3 1 5-3 8 1 0 3 2-2 2 0 3 2 1-1 0 1 3-2 1 2 4-5 9 0 2 0 0 3 7-3 0 3 4-3 4 1 2 3 1-1 1-1 1 1 2-2 0 2 4 1 2-1 1 2 1-2 3 1 2-3 1-1 1 0 4 5 3-2 7-1 4 1 2-3 1 3 0 2 1 0 1-3 1-1 1 3 2-4 4 3 1-1 1-1 2 3 2-3 1 1 0 3 2-5 1 0 0 2 1 0 1 1 3 0 2-2 0 3 1 0 1 0 3-2 3-1 0 3 1-1 1 2 4-3 1 1 0 2 6-1 1-4 0 1 2 1 0 1 11-1 3-2 3 2 7-2 0 3 1-1 3 2 1 0 3 0 1 1 3-1 5-3 4 0 1 3 1 1 1 0 2-1 1-3 4 2 3 2 2-3 4-1 1 1 1 3 3-5 0 5 2-1 1-3 2 1 0 3 1-4 0 2 3 1 1-1 1 2 2-3 0 2 2-2 0 2 3 0 1-2 2 2 5-1 0 1 2-4 1 4 2-3 0 2 0 2 5-3 0 2 1-2 1-1 2 2 4-2 1 0 3-1 2 2 1-2 2 0 0 1 1 3 6-2 0 3 2-5 4 3 3 2 6-3 1-2 4 4 2 0 11-4 11 2-24 7-7-2-12 0-1-1-6 2-1 0-4 2-3-1-1-1-2 3-1 0-1-3-1 3-2-2-2 0-5-3-4 2 0 3-6-4-5 0-6 4-1-1-1-4 0 4 0 1-5-1 0 1-3-1-2-2-1-2-3 4-4-4-1 5-2-4-1 1-1-1-1 4-1-5-1 0 0 1-1 0-5 4-4-1-2-4-2 5-5-1-1-4 0 4-3-4-1 0-2 4-1-2 0 2-9-2 0 1-1-2-1 3-4-3-1 3-1-1 0 2-1-2-2-3-1 0-2 2-6-2-2 5-1-4-1-1 0 2-1 2-3-1-2 2-6-2-1 0-2-1 0 1-3-2 0 2 0 2-1 0-2-1-1 0-6 0 0 1-1-3-2 1-2-3-1 3-4-3 0 5-2-5-2 0-4 0-3 3-2 0-5 1-4-2 0 3-1-2-1 0 0 1-2-1-4-1 0 3-1-5-1 3 0 2-6-4-1 4-1-5-4 0 0 2-4 1-1-1 0 2-3-4-4 4-2-4-1 0-1 0-3 2-3 1-3 0-3-2-1-1-1 2 0 3-2-4-4 2-1-1-2 1-2-3-1 4-7 1-2-1-1-4-6 1-3 1-2 2-1-3-3-1 0 5-1 0-1-5-2 2-1 2-3-1-1 2-7-4-2 4-1-2-1-2-5 0-3-1-4 0 0 3-2-2-6 0 0 1-1-1-1 3-4-3-1 0-2 2 0 2-1-5 0 1-1-1-1 0-3 1-1 2-4-3 0 2-2 0-5 2-1 1-4-1-1-4 0 4-3-1-3 1-5-4 0 5-19 3 15 2 3-2 0 3 4-5 0 1 5-1 1 1 1 0 3 0 1 2 1-3 3 2 2 1 1-1 3 0 5-2 1 5 2 0 1 0 1-4 0 4 1 0 3-3 2 1 0 2 1-2 1 2 1-4 0 3 2 0 1 1 2-5 0 1 1-1 0 5 3 0 2-3 2 1 2 0 2 1 3 0 4-4 2 4 1-3 8-1 0 2 0 3 7-5 2 2 0 1 1 0 0 1 5-4 0 1 0 1 1 2 7-3 0 1 1 0 3-1 0 2 1-1 1 0 7 3 5-3 5-2 2 3 0 1 1-4 3 2 0 1 1 1 1-2 0 2 2-4 2 0 1 4 0 1 7-3 2-2 2 3 2 2 3-5 0 3 0 1 3-4 3 3 2-1 1-2 1 3 1-1 0 3 4-5 1 5 3 0 2-1 2-4 2 0 2 3 0 1 2-2 2 0 2-1 0 2 0 1 1-3 1-1 2 4 1-4 0 1 1 1 2 3 1-1 2-3 4 2 0 1 1-1 1-1 0 2 5 0 2-3 1 0 3 2 3-3 1 0 0 5 6-1 1-2 5-1 1 2 0 1 1-4 0 5 2-1 1-3 3 0 2-1 0 5 3-2 2 1 1 0 1-2 2 3 2-5 0 1 1-1 1 2 0 2 2-2 1-2 0 2 2 1 1-2 1-1 4 1 1 3 1-4 3 2 1 1 2-2 2-1 4 0 0 3 4-2 1 4 4-5 0 2 1 1 2-2 7 3 1-4 3 1 1 2 1-2 0 2 1-1 1-2 2 5 3-4 3 2 3 0 2 2 2-5 3 4 1 0 4-2 0 2 1-3 1-1 2 4 5 0 1-3 0 1 1-1 6 4 2-5 1 1 0 1 1-2 0 4 0 1 3-5 3 3 1 1 2-4 7 3 1 1 1 1 1 0 1-1 3 1 3-4 2 4 12 0 2-4 1 2 10-2 1-1 7 6-5 1-15 2-2 0-6 2-8-2-7-2-1 0-1 3-3 1-2-4-1-1-1 2-2 1-4-1-3-1 0 2-5-3-1 2-1 3-10-2-1-2-2 0 0 4-2-5-3 2-1-1-3 0-1-1-1 2-1 1-1-2 0 2-3 1-3-2-3 0-3 2-1 0-2 1-1-5-4 0-4 0-4 1 0 1-1-2 0 5-2-5-1 0-2 0 0 3-2 0-5 2-1-4-4-1 0 4-4 0-1-3-1 4-1-5-5 0-1 1-1 3 0 1-1-2-1-2 0 4-1-3-2-1-2-1 0 3 0 1-2-4 0 3-2 2-2-2-2-1-1-2 0 5-2-5-1 3-4-3-5 2-2-2-2 0 0 5-1-5-6 0-1 1-1 2-3-3-2 2-1 3-1-5-2 2-2-1-3-1 0 4-1 0-1-4-1 4-2-3-1 4-2 0-1-4-1 4-5-4 0 4-3-3-1 3-2-1-1-3-3 4-1 0-1-2-1-1-1 3-5-5 0 5-6-1-1-4-7 3-1 0-2 2-1-3 0 1-1 2-2-2-4 2-4 0-2-3-2 3-1-5-2 1-1 1 0 2-6-1-2 0-2-3 0 4-1-1-1-2-1 1-1-1-4-1-1 1-5 4-2-1-1-3 0 2 0 2-5-5-5 3-2-3-1 3-1-3-1 3-2-3 0 3 0 1-2-4-4 3-1-2-1 4-1-2-2-2 0 1-2 2-1 1-3-2 0 2-2-5 0 1-1 1 0 2-6-1-3 0-2 2-3 0-4-4-2 3-7 1-2-4-1 0 0 1-1 2-3-4-2 5-8-5-1 3-3 1-1 0-1-2-2-1-2 4-5 0-4-5-1 4-2-2-1 0 0 3-28-5 27 11 1-5 0 3 8 2 11-3 3-1 4 0 2 4 1-5 0 4 4-4 4 4 1-3 0 4 3-4 1 0 0 3 1-4 3 3 0 1 2 1 1-1 1-1 5-2 0 3 2 0 1-2 2-2 0 3 1 0 1-2 1 4 2-5 1 4 4-3 6 1 0 3 2-1 4-4 0 2 0 2 1-4 0 1 0 1 0 3 4-3 0 3 1-4 1 3 1-2 5 3 4-4 1 0 0 1 1 0 4-2 0 1 1 4 2 0 3-4 1 1 1-2 1 2 2 1 3-1 6-1 2 0 4 2 1-2 1-1 1 2 5-2 0 5 1-3 3 2 2 0 2-1 1-1 3 2 2-2 1 3 9-4 2 0 2 0 0 3 1-2 1 2 3 0 4-2 0 3 3-5 1 1 2 1 1-2 1 3 0 2 1-2 3-2 1 4 2 0 2-4 1 2 3 2 6-1 1-4 1 2 3 1 0 2 1-3 0 3 2-4 2 1 5 1 1 1 2 0 1-1 3 0 1-3 1 0 1 4 2-2 1-2 4 0 7 5 1-2 3-3 2 1 6 4 1-1 1 0 0 1 5-2 2-1 4-2 3 4 2 1 1-4 3 1 1 1 3-2 1 4 5-4 1 2 3-1 5-1 4 1 6-2 4 2 1 3 1 0 4-3 1 0 0 1 0 2 1-3 3 0 0 1 3-2 3 1 2-2 1 0 0 5 2-5 1 2 4-1 4 2 3 1 1-3 1 2 4 0 1-1 4 3 2 0 3 0 2-1 8-4 1 2 1 1 0 1 12 0 5 5-10 2-1-1-2-1-6 2-3-3-6-2-3 0-1 3 0 1-4-2-3 0 0 1-1-2 0 2-3 1-1 0 0 1-3-4-3 0 0 4-1 0-1-1-2-3-1 1-3-1-2 0-7 4-5-2-1-2-1 2 0 1-3-4 0 1-6 1 0 1-3 2-1-4 0 4-1-2 0 2-3-4-1 0-1 4-2 0-1-5-1 5-3-5-3 5-1 0-1-1-1-2 0 2-1-4-1 3-5 2-2 0-1 0-3-3-1 1-3 1-3-4-2 2-3 0-1 1-2-1 0 1-1-3 0 1-1 0-4-1-2 2-1 2-2 0-3 1-1-5-1 0-1 1 0 2-1-1-1 2-3-1-4-3 0 1-2 0 0 1-4 2-4-4 0 2-1 2-3-4 0 5-1 0-4-1-2 0 0 1-2-1 0 1-6-1-1 0-2-3-1 2-2-2 0 2-2 1-6-2 0 1-2 1-1 0-1-2-5-2-1 1-1 0-2-1-1 5-3-5 0 5-7 0-1-3-1 1-1-2-2 3-4-4 0 4-1-4-1 0 0 1 0 1-3 0 0 1-1 0-4 0 0 1-2-4-1 4-2-2 0 1-2 1-2-1-3-2-3 0 0 2 0 2-1 0-2-3-1-1 0 1-3-1 0 3-1-1-4 2-2 0-1-1-1-3 0 4-1-4 0 2-2-1-1 2-2 1-3-1-4-1-4-3-1 0-1 0 0 1 0 1 0 1-1 0-1-1-1-1-1-1-5 4-4-3 0 2-1-3-1 5-1-5 0 4-7-3 0 3-2-4 0 2 0 1 0 2-2-3-1 1-1 2-1-4-1 2-3-3-6 5-7-1-3 1-2-5-7 3-1-2 0 1-1 3-2-2-1 2-8-5 0 2-2-2-1 1-1 4-2-5 0 3-1 0-3-1-5 1-1-3-8 0-1 3 0 2-1-4 6 7 2 1 9-3 4 1 5 2 5 1 0 1 1 0 3-4 1-1 1 5 1-1 2-2 1 3 1-5 2 0 2 2 3-2 7 0 1 5 1-4 2 0 2 0 3 0 1-1 0 2 0 1 1 2 2 0 3-2 0 2 6-4 3-1 0 1 1-1 1 2 1 1 1 1 3-3 3 3 2-3 2 3 2-1 6 1 1-2 0 1 2-3 1 0 0 5 2 0 2-3 1-1 2 4 8 0 1-1 0 1 2-3 1-1 3 0 3-1 1 4 5-2 5-1 1 0 0 1 0 3 3-5 2 0 0 1 0 3 2-3 1 2 1-2 0 1 1 3 5-3 2 2 0 1 1-5 2 3 7-3 1 2 5-2 2 2 0 1 0 1 2 0 3 0 7-1 1 0 0 1 2-2 2-2 0 4 1 0 2-3 2 1 1 2 3-3 3 0 4 1 2-2 0 3 1 0 2-3 3 1 0 1 6-1 3 1 3 2 0 1 4-5 2 3 1-1 1 3 1 0 1 0 7-3 0 1 5 0 2-2 0 2 0 1 0 1 1-5 1 4 1 1 3-3 2 3 2-5 3 0 0 2 3 0 1-2 1 4 1 0 2 0 2-1 2-2 1 1 1-1 2-1 0 5 1-1 1 0 2-1 2 2 2-2 3 1 1-3 0 4 3-3 7 2 2-2 1 3 1-2 4-1 4-2 0 1 2 0 1-1 3 2 3 1 2 0 1-1 0 2 1-4 0 5 2-4 1 2 1 1 5-3 2 3 1 1 1-4 0 4 10-5 0 1 5 0 4 2 4 1 0 1 5-5 3 3 0 2 4-4 2-1 0 3 2 0 4-3 6 5 3-5 16 1-24 10-11-5-3 3-3-3-8 5-2-2-5 2-2-1-2-3 0 4-2-5-1 1-1 1 0 3-6-4-1-1-5 4-1-2 0 3-3-5-1 3-6-1-2-2-2 5-6-1-2-3-3 0-7 2-2 0-4-2-1 0 0 3-4-4 0 2-1 3-1-4-3 3-1 0-1-1-2 0-2 2-2 0-3-5 0 3-3 0-2-1-3-2-5 0-1 5-2-3-4-1-1 3-1-3 0 1-4-2-2 2-1-2-7 2-5 3-5-3-5-1-2 0-1 2-2 1-5-3 0 1 0 1-4 1-1-2-2 0-3-2-1 3-2-3-1 3-2 0-1-1-2 0-1 2-3-4-1 0 0 4-2-4-2 2-1 0 0 2-3 0-2-4-1 5-3-2-1-2-5 2 0 1-6 1-1-5 0 2-3-2-1 0-3 3 0 2-3-5-1 0-1 1 0 2-1-1-7-2-1 5-2-3-2-1-5 1-5 3-5-5 0 2-3 1-1 2-1-2-2 0-4-2-3 0-1 2 0 2-2-2-1-2-2 1-1-1-4 0-2 1-1 0-2 1-1-1-1-1 0 3-2 1-4-1-1-4-3 3-6 0-1-2-1 3-1 0-1 1-2 0-1-1-4-3 0 1-6 1-2 2-1-3-1-2-2 0 0 2 0 3-4-1-2-2-4-1 0 1-5 3-1-3 0 2 0 1-1-1-2 0-2 1-1-3-2 0 0 3-1-3-3-1-2 1-1-1-1 3-1-4-7 2-3 1-37-1 23 9 9 0 5-5 3 2 7-2 0 2 2-1 5 2 4-2 0 4 1-5 0 2 1-2 5 3 5 2 1-2 1-3 1 0 1 1 8-1 0 4 3-4 0 4 0 1 3-5 0 2 2-1 2-1 3 1 0 2 0 1 2-4 0 2 2 2 2-2 4-2 3 2 1-1 0 2 2-2 0 3 4-1 1 2 3-5 0 1 0 3 1-2 1 3 1-1 8-1 1-3 0 3 2 0 2-3 4 0 2 0 0 3 3-2 2 2 4 1 1-4 0 4 4-2 2 1 0 1 1-1 1 1 2-2 0 2 0 1 2 0 1 0 2-1 1-4 1 1 0 1 0 1 0 1 1-1 4-2 1-1 2 2 0 2 1-3 1 0 0 2 0 2 1-5 2 4 2-1 6 1 1-2 0 2 4-2 1 0 0 3 10-1 1-4 1 5 4-5 2 0 7 2 1 2 2-1 0 2 9-5 5 2 2 0 2-1 0 3 4-4 6 1 0 3 5-3 0 4 2-5 1 0 4 5 3-5 1 5 1 0 1-5 0 1 2 3 4 0 3-1 1 0 2-2 3 3 1-4 0 1 2-1 0 5 11-4 1 0 1-1 0 1 2 4 4-1 2-4 2 2 4-1 1 3 3 0 2-3 0 3 0 1 1 0 1-2 3-2 7 3 1-3 1 1 1 2 2 1 1-3 2-1 1 0 0 4 2-3 2 2 1 0 3-2 1 2 1-4 0 1 1 0 2 2 2 1 3 1 6-3 2 1 3-3 2 2 0 3 2-4 0 1 2-2 3 1 2 4 3-5 0 2 0 3 1-5 2 1 3-1 8 2 9 2 17 1-5 1-17 0-10 1-5-1-1 0-5 3-4-2-6 3-6-4 0 5-1-1 0 1-2-3-4 0-2 3-1-5-8 0 0 2-1 1-1 0-3-3-3 2-1 0-5 3-2-3 0 3-2-2-3-3-2 0 0 3-2-1-1-1 0 1 0 2-1-2-5-2-1 2-3-1 0 2-4-3 0 5-2-4 0 2-2 0-1-3-2 1-3 1-4-1-2 0 0 1-1 0 0 1-3-1-1 0-1-2-1 0-2 0-4 0-1 3-1 0-1-1-2 0-5 2-1-4 0 5-1-4-1 1 0 1-5-3 0 3 0 2-1-4-2 2-1-3-1 4-5 1-6-4-1 1-5 0 0 2 0 1-11-3-3 0-1-2 0 3-1-1-2-2 0 4-2 0-1-4-1 0-1 5-3-1-3 0-1-4 0 2-3-1-3 4-1-5-2 3-2-2 0 3-3 1-3-4-1 0-2 3-2 1-1-4-2 3-1 0-7 0-3-2-4-1-1 4-3-5-4 4-3 0-1 0-2-1 0 1-2-4-1 3-3 1-1-4-3 2-5 0-3 0-2 1-1-3-2 1-4 4-1-2-1-2-2 4-2-5-4 1-3 3-5-1-6-2-6 2-2-2-2 2-4-2-4 2 0 2-1-5-5 3 0 2-2-5 0 3-3 2-3-1-2-1-2 1-4-4 0 3-1-1 0 1-3 1-4-2 0 2-3-2 0 2-3-1-11 0-1 1-14-4-1 6 7 2 11-2 11 0 1 5 2-1 2-4 0 5 8-5 0 4 3-1 0 2 1 0 1-5 1 2 1-2 4 0 0 2 2-1 0 3 3 1 4 0 2-3 5 3 1-5 0 4 1-2 1-2 1 4 1-3 2 2 2-2 0 3 9-1 1-3 1 1 1 2 1 2 2-4 0 3 2 1 8-3 0 3 1-1 5 1 2-1 0 1 4-3 2-2 0 1 6 2 2 1 2 0 4 0 4-3 1-1 0 2 2-2 2 2 4 1 3 1 1-4 0 1 0 1 2 0 2 1 4 0 0 2 1-4 7 2 3-3 4 1 1 2 1 0 1-1 4 3 2-4 0 2 4-1 0 1 1 1 0 1 6-4 3-1 3 2 9-1 1 3 3-1 2-3 0 2 2-1 1 2 4-3 3 4 1 1 2-1 2 1 1-4 2 4 1-3 1-1 2-1 2 2 4 3 4-5 3 1 0 4 6-5 3 5 2-1 3 1 3-1 3 0 1-2 2 0 0 2 5-2 0 2 3 1 1-5 0 1 0 3 3-2 4-1 1 2 1-2 1 1 2 1 2 0 9 2 1-1 2-3 3 3 3-1 5-3 0 1 1 1 1 2 2 1 1-2 1-2 1 2 2 2 3-1 4-3 2 2 4 1 2-1 3 2 2 0 1-2 3 0 7 0 3-1 1-1 2 1 9 3 8-3 0 1 4 1 2-1 36 1 9-1-29 6-14-2-1 0-2 4-4-2-17-3-7 2-8-2-10 0 0 2-1-2-1 5-2-4-3 1-2 1-4 1-9-3-1-1-1 2-3 0-2 1-4 2-2-1-5-4-4 3-5 1-3-4 0 3 0 1-4-3-6 1-3 3-5-1-1 0-1-2 0 2-2 0-4 0-2 0-3-4-1 2-4-2-5 5-2-2-1-2-5 2-4 1-2-3 0 1-1 3-1-5-4 1-1 4-1-5 0 4-1-1-3 2-6-1 0 1-2-3 0 1-1 1-1-1 0 2-2-3-2 2-3-2-1-2-6 1 0 2-1-3-2 5-1 0-2-4-1 4-3-1-3-3-1 4-3 0-1-4-1-1-1 1-1 1-4 0-2 1-2-3-2 3-4-1 0 2-4 0-2-4-2 0-1 3-5-3 0 1-1 1-5 1-2-1-1-2-3 5-2 0-1-5-1 4-5-3-1 0-10-1-1 0-1 2-2-1-2-1 0 2-3 3-1-4-1 0 0 3 0 1-1-2-1-3 0 1-2-1-3 3-3-3-2 5-1-1-2-4-1 4 0 1-2-5 0 3-2-2-1 3-1-2-2-2 0 3-3-2 0 2-1-3-4 3-2-1-1 0-1-2-1 3-4-2-1 2-3 2-4 0-3-1 0 1-3 0-3-1-2-4 0 5-4-3-6-2-1 3-17 1-12 1-5-5-14 11 31-1 0 1 2-2 5 2 9-2 9 2 6-2 3 0 3-2 1 3 0 1 2-2 0 2 3-1 1-2 2 0 2 3 3-5 1 2 1 1 3-2 1-1 1 3 4 0 0 2 1-5 0 1 0 2 3 0 1 2 3 0 2-2 4-3 6 0 5 1 0 4 1-4 1 2 4-3 1 5 1-5 0 3 2-1 2-2 1 2 0 1 2 0 2-1 1 2 1-4 1 4 1-1 2-2 0 3 5 0 3-3 1 1 0 3 1-5 2 3 1-1 6-1 0 4 3-3 5 2 1-1 1-2 4-1 0 1 2-1 1 0 2 2 0 3 2-3 1-2 3 1 1 0 0 1 0 3 1 0 1-3 5-1 4 3 3-2 2 2 1-3 0 1 2 0 5 0 2 0 5 0 5 3 4-1 1-2 3 2 2-4 1 5 1-3 4 0 2 0 0 2 3-1 0 1 1 1 1-4 5 4 1 0 1-5 0 1 1-1 6 4 1-4 0 1 9-1 3 2 0 2 2-2 6 2 5-2 0 2 5 0 0 1 1-1 1-4 6 3 1-1 1 1 2 1 7-2 2 0 1 2 3-2 2-2 0 2 4 1 10 0 1 1 1-1 2 0 1-1 1-1 1-1 2 4 2-1 2 1 2 1 2-5 0 3 3-3 1 1 4 3 10-1 1 1 11-3 0 1 5 3 2-3 5 0 8 3 1-5 3 3 1-2 8 4 4-1 3-1 49 8-19-1-42-1-5-2-1 2-6-3-5 0-3 2-1-2-16 0-1 4-2-3-2 3-8-2-2 3-1-3-11-1 0 1-6 3-8-5 0 4-16-4-1 0-10 1-1 4-2-5-9 3 0 2-13-1-2-2-10 2-15 1-8-3-1-1-3 2-1-2 0 4-2 0-2-4-4 0 0 1 0 2-4-4-2 1-2-1 0 4-3 1-1-4 0 3-1 0-2-4-3 1-1 4-3-5-2 1 0 4-1-4-2 4-1-2-7-1-1 3-2-3-1-1-2-1 0 4-5-4-1 1-3 1 0 1-1-2 0 3-6-4-1 3-4 2-3 0-1-1-4-3-2 4-1-3-1 2-2 0-2-2 0 1-3 0-1 1-2 0 0 1-6-5-2 2-1 0-2 3-1-5 0 3-2-2 0 4-1-4-1 3-3 1-2-1-1-3-1 2 0 2-2-2-1-2-1 0-1 4-1 0-1-4-1 2-1-3 0 5-3-4-1-1-1 2-7 0-1-1-3 4-9-2-1-2 0 1-2 0-1 3-2-2-3-3 0 1 0 2-1 0 0 2-4-5 0 1-2 1-10-2 0 1-23-1-7 4-15-3 11 8 2 0 14 0 0 2 8-1 6-2 16-1 1-1 0 4 6-1 1 2 5-1 2-3 0 1 1-2 0 4 2-3 1 3 5-4 0 5 2-3 2-1 1 3 1-3 2 2 10 2 1-2 0 2 5-3 1 2 1-3 4-1 0 3 1 1 2 1 3-1 1-4 4 1 2 4 1-1 1 0 5-4 0 4 3-2 2-1 1 3 0 1 1-3 0 1 0 1 2 1 2-2 1-3 0 4 4-3 0 1 6 2 3-1 3 1 4 1 3-3 0 2 1-3 7 4 1-1 2-3 0 2 2 1 2 1 6-5 1 3 1-2 1-1 1 1 2 3 3-3 2 0 2 2 4 1 1 1 1-3 2-1 0 4 4-5 0 2 5 0 5-1 0 1 0 2 1-1 2-1 0 3 5-4 3 1 2 2 1-3 1 2 3 2 1 0 5-5 9 1 3 0 5 3 4-3 1 1 8 0 7 1 2 1 2-2 5 0 4-2 16 3 2 1 8-4 0 4 9-1 6 1 2 0 4 1 14-1 2-2 9 0 26-2 6 5 8 0 2-3 2-2 11 10-6-4-12 3-1 2-9-5-7 1-1 2-4 0-3-3-1 4-6 0-1-2-2 2-9 1-15-5-2 4-3-3-6 0-8 2-8-2-7 1-6 3-2 0-2 0-2-5-9 0-16 4-4-1-5-2-10 2-6-1-1 0-8 0 0 1-3-3-1 4-2-1-7-1-5 3-1 0-3-4-1 2-3-1-1 0-1 1-2 2-3-5 0 5-4-4-4 2 0 1-6-1-2 1-3-1-1-2-4 1-5-2-2 1-3-1 0 1-3 3-3 0-4-1-6-3 0 2-1 2-5-4 0 4-2-2-2 0 0 1-1 1-2-3-1 2-1 1-6-3-1 3 0 1-2-1-2-1-2 2-3-4 0 4-4-4-1-1-1 5-3-2 0 1-1-4-5 1 0 2 0 1 0 1-2-1-1-4-1 0-6 2-1-1 0 1 0 1 0 1 0 1-9-4-1-1-1 5-1-2-4 1-3 0-2-4 0 2-3 0-2 0 0 2-2 1-2-3-8 2-6-3-9-1-16 11 32-5 7 4 5-1 2-1 3-1 0 2 1 1 1-4 2 0 0 5 5-4 4 3 2 1 1-4 0 1 1 2 2-1 1 0 2-2 3 0 0 4 1-5 4 1 1 1 2 0 1 0 2 3 7-2 0 1 2-2 1-1 3 3 3 0 2 1 1-1 1-3 6 4 7-1 1-4 1 0 1 3 1-2 0 4 4-5 0 1 8 2 2 1 2-3 0 2 1 0 2-2 3-1 0 5 1-2 1-1 0 2 3-3 2 2 1-2 4 4 1-5 0 4 1-2 1 3 1-4 4 1 13-1 0 3 0 1 6-5 2 5 7-5 0 3 3 1 0 1 12-1 6 1 12-4 1-1 9 2 5-2 21 0 2 2 11-1 4 2 8 1 9 1 26-1 4-3 2 1 1 1 12 0 31-1 8-1 7 1 5 6-1-1 0 2-4 2-14-3-10 2-3 1-9-5-1 2-16-1-6 4-5-4-11 4-12-3 0 3-24-3-33-2-7 0-14 2-2-2-1 1 0 1-4 1-11-3-11 5-3-3 0 1-3 0-2-3-7 3-1-3-4 1-6-1-3 1 0 4-2 0-3-4-5 2-5 1-3-4-1 3-1-3-2 0-1 1-3 2-1-2-1 0-5 1-5 1-1 2-1-3-3 3-2-2-3 1-2-4-2 2-1 2 0 1-1-4-4 0-10 3-3-4-1 0-1 4-2-2-2 3-2-1-3 1-2-2-2-3-1 2 0 2-4-1-3-2-1 3-6-4-6 2-2-2-3 0 0 2-1 3-4 0-4-5-1 0 0 1 0 4-4-1-3-4-1 4-2 0-5-1-2 1-5-4 4 6 0 2 5-2 19 2 5-1 11-1 1 5 2-4 1 3 3-4 2 0 4 2 9-2 2 5 4-5 3 2 1 0 5-2 3 0 2 1 3 3 1 0 2-4 4 1 1-1 0 2 3-2 4 2 4-1 0 1 0 1 9 1 3-4 3 3 1 2 2-3 4 0 2 2 7-1 8-1 1 0 0 2 9-2 1 2 0 1 5-5 2 0 0 3 3-2 20 1 14 0 22-2 26 4 15-2 14 1 2-3 13 4 12-2 30 1 1-2 7 2 6-2 37 9-14-4-25 4-14 1-1-5 0 2-3 2-2 0-1 1-3-2-16-1-4-2-4 2-21-1-49 0-7-1-31 4-7 0-20 0-13-4-3 0-7 2-1 3-7 0-1-4-2-1-4 4-9-3-1 0-3 2 0 2-4-2-7-2-1-1-9 2-5-2-9 4-3-4-1 5-2-1-1 0-3 0-13-4 0 4-4-2-1 0-8 3-5-4 0 1-3 1-3 1-5-4-3 2-4 0-2 2-4-3-2 4-15-1-2-4-6 1-8-1 11 10 4-2 12 3 4-1 6-3 5-1 2 0 4 1 12 3 4-2 1 0 8-1 2-1 7 4 4-4 8 3 1-3 2 4 4 0 6 1 5 0 1 0 3 0 14-4 1 0 2 4 5 0 1 0 14-5 5 0 8 0 0 4 17 1 19 0 2-1 50-1 20-3 21 2 0 3 11-3 2-1 4 2 1 2 4-4 1 0 4 3 1-3 7 1 13-1 3 4 15-3 12-2 17 4 3 3-23 1-24 1-4 0-3 1-3-1-15-2-5 4-11-5-13 0-19 1-32 1-22 2-10-4-2 0-10 4-10 1-3-3-8 3-42-4-4 0-3 1-11-1-2 1-7 0-11 0-3 2-2-1-1-2-2-1-2 2-4 2-1 1-7-3-6 3-7-1-4-1-2-1-16 3-10 0-31-2 13 7 14-2 39 1 3-1 2-1 2 1 6 0 46-1 3 1 0 1 0 1 1-2 6 1 4-2 1 3 1-2 6 2 3-3 15-1 10 0 3 5 5-5 24 3 41-1 14 0 26 0 35 2 8-1 37 6-7-1-4 2-159 0-6-3-32 0-19 4-6-3-8 2-4-1-7 1-8-2-10 2-5-2-26 0-4 0 0 2-51 6 65 0 4-4 61 4 1-2 3 0 18-2 2 3 5 0 7 0 6-3 24 5 5-2 6-1 81 2 29-4 32 4 50 0-200 3-5 1-18 3-14-3-108 1-11-3-22 9 46 0 17 0 8 0 5 2 35-5 115 0 43 1 55 0 33 3-293 2-18 3-10 2-9-2-2-1-9 0-24 1 76 7 231-2 8 7-266 1-6-4-21 9 63 6-2 7 243 1-298 11"/>
<path fill="url(#pu0)" stroke="url(#pu0)" stroke-width="1.2" fill-rule="evenodd" d="M2187 242 2205 238 2223 241 2241 258 2259 258 2271 261 2313 265 2354 284 2367 286 2373 290 2384 302 2408 320 2416 332 2425 386 2421 398 2403 418 2379 437 2355 443 2342 452 2331 456 2283 451 2259 468 2241 474 2223 486 2211 490 2181 492 2163 491 2139 480 2115 478 2084 452 2066 428 2052 386 2062 344 2070 326 2109 275 2138 260 2157 245ZM2157 254 2139 269 2121 277 2111 284 2078 326 2069 344 2066 356 2062 386 2068 404 2088 446 2115 467 2139 473 2151 480 2163 484 2217 481 2235 469 2253 462 2283 443 2295 442 2325 449 2335 446 2349 437 2373 432 2400 410 2409 398 2412 392 2412 362 2408 332 2398 320 2367 297 2336 284 2289 269 2237 266 2223 256 2205 249 2169 251Z"/><path fill="url(#pu1)" stroke="url(#pu1)" stroke-width="1.2" fill-rule="evenodd" d="M2163 252 2205 249 2223 256 2237 266 2289 269 2336 284 2367 297 2398 320 2408 332 2412 362 2412 392 2409 398 2400 410 2373 432 2349 437 2335 446 2325 449 2295 442 2283 443 2253 462 2235 469 2217 481 2163 484 2151 480 2139 473 2115 467 2088 446 2065 398 2062 386 2068 350 2078 326 2111 284 2121 277 2139 269 2157 254ZM2165 260 2123 284 2115 291 2085 326 2073 356 2072 386 2074 398 2085 416 2092 440 2109 455 2139 466 2156 476 2163 478 2217 472 2229 462 2247 455 2277 436 2295 434 2325 439 2343 430 2367 427 2375 422 2397 400 2404 362 2403 350 2398 332 2385 319 2361 305 2337 295 2312 296 2289 277 2259 279 2231 272 2211 260 2199 257Z"/><path fill="url(#pu2)" stroke="url(#pu2)" stroke-width="1.2" fill-rule="evenodd" d="M2169 259 2199 257 2211 260 2231 272 2259 279 2289 277 2312 296 2337 295 2361 305 2385 319 2398 332 2403 350 2404 362 2397 400 2375 422 2367 427 2343 430 2325 439 2295 434 2277 436 2247 455 2229 462 2217 472 2163 478 2156 476 2139 466 2109 455 2092 440 2085 416 2074 398 2072 368 2075 350 2085 326 2116 290 2163 261ZM2180 266 2127 290 2109 308 2087 338 2080 362 2081 392 2093 416 2098 434 2109 447 2133 455 2163 471 2205 465 2211 463 2226 452 2245 446 2265 428 2271 426 2295 424 2313 430 2325 430 2343 421 2361 419 2367 416 2385 398 2395 362 2389 338 2379 328 2343 307 2307 304 2289 289 2283 287 2265 292 2259 291 2224 278 2200 266Z"/><path fill="url(#pu3)" stroke="url(#pu3)" stroke-width="1.2" fill-rule="evenodd" d="M2181 266 2193 265 2205 267 2224 278 2259 291 2265 292 2283 287 2289 289 2307 304 2343 307 2379 328 2389 338 2395 362 2385 398 2367 416 2361 419 2343 421 2325 430 2313 430 2295 424 2271 426 2265 428 2245 446 2226 452 2211 463 2205 465 2163 471 2133 455 2109 447 2098 434 2093 416 2081 392 2080 362 2087 338 2109 308 2127 290 2169 269ZM2181 278 2145 291 2127 301 2113 314 2094 344 2091 356 2089 386 2109 433 2116 440 2157 458 2199 458 2223 444 2241 436 2259 419 2271 413 2289 410 2319 418 2337 410 2359 404 2371 392 2378 368 2375 356 2368 344 2345 320 2337 317 2301 313 2283 303 2265 305 2199 278Z"/><path fill="url(#pu4)" stroke="url(#pu4)" stroke-width="1.2" fill-rule="evenodd" d="M2181 278 2199 278 2265 305 2283 303 2301 313 2337 317 2345 320 2368 344 2375 356 2378 368 2371 392 2359 404 2337 410 2319 418 2289 410 2271 413 2259 419 2241 436 2223 444 2199 458 2157 458 2116 440 2109 433 2089 386 2091 356 2094 344 2113 314 2127 301 2145 291ZM2179 296 2149 302 2127 314 2115 329 2106 350 2102 380 2110 410 2121 427 2139 438 2157 444 2193 448 2199 447 2231 428 2253 405 2277 386 2289 388 2307 397 2313 397 2331 388 2346 386 2351 380 2350 368 2341 344 2331 333 2319 331 2301 334 2289 328 2265 325 2247 310 2217 299 2193 295Z"/><path fill="url(#pu5)" stroke="url(#pu5)" stroke-width="1.2" fill-rule="evenodd" d="M2181 295 2193 295 2217 299 2247 310 2265 325 2289 328 2301 334 2319 331 2331 333 2341 344 2350 368 2351 380 2346 386 2331 388 2313 397 2307 397 2289 388 2277 386 2253 405 2231 428 2199 447 2193 448 2157 444 2139 438 2121 427 2110 410 2102 380 2106 350 2115 329 2127 314 2149 302ZM2177 314 2151 320 2133 332 2126 344 2126 362 2120 380 2127 398 2139 415 2149 422 2169 430 2193 426 2223 410 2229 403 2245 362 2243 350 2238 338 2217 320 2187 314Z"/><path fill="url(#pu6)" stroke="url(#pu6)" stroke-width="1.2" fill-rule="evenodd" d="M2181 314 2211 318 2225 326 2238 338 2243 350 2245 362 2229 403 2223 410 2193 426 2169 430 2149 422 2139 415 2127 398 2120 380 2126 362 2126 344 2133 332 2151 320Z"/>
<path class="dt" d="m2292 136 12 1-77 6-39 2 50-1 20 1 96 9-14-3-82 2-27 0 130 14-39-4-28-1-88 5-41 0-94-3 79 5 34 1 0 3 25-2 11 1 7 1 29-3 160 9-112-1-13-3-15 3-26 0-7-2-5 1-14-2 0 4-15-1-18-3-47 2-38 7 32-2 32 2 72 0 3 1 14 0 55-2 30-1 40 8-46 0 0 1-76 0-7-2-2 2-8-2-34 0-5 2-2-4-18-1-5 5-7-3-6 2-42-4-60 8 73 2 3-3 18-1 12 2 37 3 26-3 4 2 21-2 11 1 6 1 13 0 3-4 8 3 17-3 51 8-18-1-16 1-61-2-7 3-1-2-12-1-4 4-7 1-3-5-18 1-6-1 0 3-12-1-26 3-3-3-25 0-24 3-3-3-43 4 16 0 26 3 9-2 6 0 3 1 15 3 1-5 1 3 4 0 5 0 6 0 12-3 0 5 8 0 20-5 5 5 6-5 3 5 3-1 6-1 5-2 16-1 7 5 8-1 6-2 32-2 2 4 17-4 64 4 42 6-39-2-32 0-1 2-14 0-2 1-12-4-29 3-1-1-2-1-8 3-4-2-2 0 0 2-3-1-3-3-3 4-7 0-7 0-3-4-12 2-3-1 0 2-4-1-8 2-8 0-1-5-3 0-11 4-2-2-8-2-4 5-8-3-3 0-1 2-4-1-5 1-1 1-1-2-8 1-12-1-4-2-5-1 0 4-4-2-4-1-2 4-5-1-35-3-44 0-40 3 61 2 2 1 20 4 4-3 1-2 24 1 13 2 6 0 2-2 2 3 2-2 1 0 1 2 5-1 1-3 3 2 13-1 1 4 1-1 6-2 5 2 0 1 3-1 4 0 6 0 2-1 3-1 1-2 2 2 4 3 1-5 12 5 5-3 3 2 1-3 1 2 3 1 0 1 4-4 5 2 1 1 1-2 3 2 3 0 7-3 0 4 15-5 3 2 8 0 13 1 19-1 28-2 25 5 32 6-32-2-14-2-12 0-4 0-23-1 0 4-3-2-10 2 0 1-8-2 0 2-4-2-1 1-5 1-2-1-1-1 0 1-3-1-4-2-10-1 0 1-5 2-5-2-3 1 0 1-1 2-5-5-2 1 0 1 0 1-1 2-4-3-3-2-5 1-3 1-5 2-2 1-5-4-2 2-1-1-2 3-2 0-15-2-1-2-3 4-3-3-10 3-2-2 0 1-4-2-2 0 0 1-5-3-6 4-1-3-5 2-8 0-1-1-6 2-2 1-2-3-19 2-3 0-5-4-8 5-27-1-55-1 64 5 24 1 0 2 28-3 4 1 3-1 2 3 1-5 3 2 5-1 2-1 2 4 6-4 4 3 4 2 9-2 5 1 1-2 1 1 2-1 1-1 2 3 2 1 1 0 6-4 1-1 2 1 0 2 5 1 1 1 3-4 0 4 5-2 1 1 1 0 3-2 6 2 4 0 7-1 1 0 1 2 1 0 1-1 3-4 5 5 1 0 2-4 0 3 7-4 14 2 10 2 6 0 9 0 7 1 1-4 2 3 8-4 2 5 3-5 0 3 7-3 9 0 8 1 19 3 8-3 52 6-37 1-6 2-20-4-19 5-6-1-7 1-4-2-2 0-7 2-3-5-3 3-6 1-4-2-1 1-2-1-4-1-7 3-7-1-5 2-5-4-2 3-1-2-4 2-7 1-2-3-1 1-3-3-2 3-15 0-1-2-3 4-1-3-1 3-2-2-1-3-3 3-5-3-1 2-2 0 0 1 0 1-3-4 0 3-4-2-4-1-1 5-1-3-1-1-1 1-3 0-1 3-5-2-2 0-2-1-3 2-1-2-3 2-2-3 0 1-1 3-2-3-2 2 0 1-3-4-2-1-4 4-1 0-8-4 0 3-1-2-4-1 0 4-4 1-1-3-2 3-6-1-1 1-5-4-5 3-2 0-14-3-7 3-3-4-8 0-11 3-3-3-3 5-5-2-37-3-18 2-11 6 39-1 70 1 2-2 1 2 5-2 10 3 2-1 2-2 9 4 2-3 1 3 4-1 2 2 1-2 0 1 1 1 2-4 1 2 3 1 5-2 0 1 1 2 3-5 5 1 1-1 2 3 2 2 1-5 1 5 5 0 2-4 3 2 1-1 1-1 5 2 1-1 1 2 2-1 3 1 2-4 5 3 2 1 3-1 0 2 2-4 0 3 4-3 1 0 1 1 3 0 1-1 2 4 4-5 1 0 0 3 0 1 2-4 3 3 0 2 1 0 1-1 2 1 1-5 1 2 2-1 3 2 3 1 4 1 1-5 4 2 1-2 1 0 3 2 1 1 1 0 4-1 3-1 2 0 4 0 3 3 4 0 7 1 4-4 5 0 5 0 5-1 2 5 3-1 0 1 3-3 0 2 5-4 12 1 1 4 9-5 11 5 2-1 22 0 6-2 2-2 2 4 86 2-43 2-56 1-1 2-7-4-11 3-14-4-1 1-2-1-4 0-7 3-5 2-5-2-2 1-2-2-1 1 0 1-1 0-1-1-9-1-1-2 0 5-4-3-2 3-1 0-3-5-7 2-2 3-6 0-4-3-15-2-4 3-3 2-1-2-1 0-1 0-1 1 0 1-2-1-3 1-6-3-3 0 0 3-5-2-1-2-2 0 0 2-3 1-3-1-2-2 0 3 0 1-2-4-1 3-3 0 0 1-4-2-1 2-2-5-4 0 0 5-5-2-1-3-2 1 0 2-3-3 0 2-2-1-6 0-4 3-2-4-6 1-1-1 0 4-2 0-6-3-2 4-2-3-1 0 0 2-7-3-2 4-2-1-2-1 0 2-2-1-7-3-4-1-4 4-2-4 0 4 0 1-1-3-3-1-4 1-2 1-1 2-1-5-1 3-3-3-1 0-4 5-4-2-3-1-3 3-12-1-4 1-7 0-26-4-17-1-22 11 22-1 0 1 38-2 1-1 6 1 6 0 1 1 9 1 10-1 9-3 5 3 1-1 1-3 1 0 7 2 4-2 0 4 1-1 1 0 2 0 5 0 3-2 0 1 2 2 3-4 1 4 2-1 1 0 0 2 3-5 1 1 3 3 1-3 1 0 1 2 0 1 2-4 0 5 1-4 3-1 0 5 2-3 2-2 1 0 2 4 2-1 3-1 0 1 3-3 2 0 1 1 3-1 0 1 1 0 0 2 1 0 0 1 1-1 1 1 1-1 1 1 1 1 12-5 2 4 0 1 2-3 1 0 4-2 0 5 1-1 2-3 1 2 4 1 1 1 15-4 0 4 5-5 5 1 5 0 3 2 0 1 1-1 0 2 1-3 1 2 5 0 2-2 13 3 2-3 1 3 6-3 3 0 1 1 1 0 4 0 2 1 1 1 5-3 9 2 0 1 4-5 0 3 3-3 5 0 1 2 5 1 0 1 1-2 2-1 1 4 1-2 2-2 4-1 4 4 8 0 2-1 7-2 14 4 54 2-13 0-18 0-26-1-18 2-6 2-2-3 0 2-5-3-5 5-8-2-1-1-6 0 0 1-7 2-4-3-1 2-3 1-1-2 0 2-2-5-2 4-4-3 0 2-1-3-4 0-1 4-1-1-1 1-2-3-1 0-2 2 0 2-1-5 0 4-1 1-5-2-2-2-4 1-1-1 0 4-1-2-1-2-3 2-1 1-5-1-4 1-2-4 0 4-5 1-1-3-2 2-1 0-1-4 0 4-3-3-1 2-1-3-5 3-4-2 0 1-1-2 0 2 0 2-3-3-3 2-1-1 0 2-2-3-4 3 0 1-6-1-6-4-1 0-3 3-4-3 0 3 0 1-1-2-5 0-2 0-1 0 0 3-5-2-2-1-5-2-5 4-1-1-1-1 0 2-9-3 0 1-2 1 0 2-4-2 0 2-7-2-3 2-6-1-3-4-3 1-1 0 0 1-4 1-8 2-2-3-3-2-2 1-2 1-1 2-5 0-2-4 0 1-2 2-2-3 0 2-2-2 0 3 0 2-13-5-3 0-18 4-1-1-3-3-5 2-32 0-6-2 0 4-11-2 6 6 15 3 17-1 12 1 8-1 5 0 7-4 9 2 2 3 4-2 2-1 4-2 0 5 6-4 1-1 0 4 2 0 1-4 1 2 8-2 5 0 0 3 1-3 0 4 5-4 1 1 1 1 3-2 1 1 0 2 1-1 4-1 0 4 2-4 5 1 1 2 1 1 4-1 1-4 2 1 2 4 1-2 2-3 0 1 0 3 2-3 0 4 1-4 5 4 2-5 0 1 0 2 0 1 2 1 1-3 1 0 0 3 2-1 1 0 2-4 3 1 0 2 2 0 4-3 2 0 1 0 0 4 3-2 1 0 0 2 1-4 0 1 7 1 1-1 1 1 0 2 7-3 1 0 5 0 0 4 1-4 2 1 0 1 2 1 5-3 1 1 1-1 0 2 3-2 2 4 1-3 1-2 3 2 2 3 6-2 3 1 0 1 1-4 2 2 1 0 2 1 3 1 2-3 1-1 0 1 1 0 1-2 6 1 2 2 2 0 0 1 3-2 1-1 0 4 2-3 1 3 3-5 0 3 4 1 1 0 8-1 2 1 1-4 0 1 2 2 3-3 1 1 0 2 1 2 2 0 3-2 1 0 2-3 1 1 2 2 1 0 0 2 10-1 2-2 0 2 1-4 0 4 1-4 6 3 13-3 6 1 1 4 1-1 1-4 2 1 2-1 0 1 0 4 1 0 2-1 0 1 2-4 17 0 6 3 32 1 39 3-24-2-22 0-15 2-16 0-3 3-4-3-1 0 0 1-3-3-3 1-1 2-3-1-8-1-1 0-2 4-1-4-1 1-1-2-5 3-4-1-1 3-6-2-6 1-1 1-1-4 0 4-2 0-5-2-1-1 0 1-1 2-3-1-3-2-1 3-3-1 0 1-1-4-1 3-3-3-3-1 0 2-1 2-2 0-4-3-2 2-2 1-1-2-1 3-1-5 0 3-1-1-5 3-3-5-1 4-1-2-2-2 0 3-6-2 0 1-2-1-3-1-4 4-2 1-2-4-2 1-5-1 0 4-1-3-1 1-9-3 0 4-1 0-2-2-1 3-2-2-2-2-3 1 0 3-2-2-2 0-6-1-3-2-3 4 0 1-1-3-1 1-1-3-3 1-1 0-4 2-4-2 0 1-1 0-5 1 0 2-4-5 0 3-1 1-3-2 0 1-1-3 0 5-1-5 0 5-2-5 0 5-3-3-1 1-6-3-2 2-6 2-2 1-1-3-1-2 0 1-2 0-1 1-3 0-1-1-1-1-1 2 0 1-2-2-2 3-3-4-1 0 0 2-1 2-2-4-4 5-3-1-3-4-1 0-2 0 0 2-1-2-2 2-1-1-2 2-2-3 0 1-1 1 0 2-6-4-2 0 0 4-2 0-1-3-1 0-1 3-10-4-3 0-3 3-2 0-14-2 0 2-1-1-3 3-11-2-9-1-13 1-2 1-9 0-4 6 27-3 5 1 11-2 6 1 0 1 0 3 3-5 1 2 1-1 1-1 5 4 7-2 5-2 1 4 0 1 2-1 0 1 2-3 4 2 1-1 0 2 1-1 2 0 2-1 1 1 1-2 1 0 1-2 0 1 2 4 5-4 1 2 3-3 0 1 3 0 1 2 8-2 0 2 3 1 1 1 1-1 3 1 2-3 1-2 2 0 1 3 1-2 0 2 3-2 0 3 0 1 1-3 3 0 5 0 0 1 1-1 0 2 1-1 1-2 1-1 0 2 3 0 1 2 1 0 1-2 2 1 3-3 4 0 0 1 2-1 7 5 4-3 1-2 0 1 1-1 1 2 2 3 1-5 2 0 4 3 2 0 4-3 1 2 6-2 2 0 0 1 2 3 4-3 1 0 0 3 1-1 3-1 3-2 2 5 6-3 6-2 0 1 5-1 0 1 1-1 2 0 1 4 1-3 4 2 1 2 1-1 1-2 1-1 0 2 4-2 3-1 4 0 3 3 0 1 2-2 0 1 4-2 3 3 1-2 1 3 3-2 1 1 4-1 3 2 4 0 1-1 1 1 1-2 4 1 2-2 4 2 4-2 0 1 2 0 2 0 6 0 0 2 1-5 1 2 2 1 1-3 1 1 0 4 1 0 1 0 2-5 4 4 6 1 1-2 1 0 5-2 4 1 3-2 0 5 4-4 1 4 2-1 2-1 0 2 6 0 9-5 5 5 14-1 9-3 2 3 17-2 19 8-43-4-1 5-22-4 0 4-1-5 0 1 0 1-3 0 0 1-4 2-1-2-1-1-4 2-5 1-1-4-2 3-4-1-4-2 0 4-3-4 0 4-2-3-5-2-4 5-1-3-2 3-3-1-4-2-1 2-2-4-6 3-1 1-2-2 0 3-3-1-2-3-1-1 0 2 0 1-2-1-1 0-8-1 0 2-1 1-1-4 0 1-3 0-1 0-1-1 0 4-2 0 0 1-4-2-2-1-1-1 0 3-3-2-2 2-2-1-1-2-2 2-2-2 0 3-1-3-3 2-1 1-3-3-4-1-5 5-6-1-2-2-2 2-1-1-3-3-1 2-4 0-2-2-1 1 0 1-1 0-1 0-1-2-1 1-2-1-2 1-1 1-1-1 0 3-1-4-2 2 0 1-1 2-1-1-3-4-1 2-1-2-2 2-2 2 0 1-1-3-1 2-1-3 0 1-1 2-1-4 0 2-1 2-2-1-2 1-3-1-2-2-3 1-2-1-12 1 0 3-2-5-3 3-10-2-3 4-1 0-3-3-3-1-1 4-1-2-1 1-1-1 0 1-6-1-2-3 0 3-3-3 0 5-1-1-1-4-4 2 0 2-4-2-1-2-2 3-2 0-1-2-2-1-1 3 0 1-5 0 0 1-5-1-7-4-5 2-3 1-1-2-2 1-5 3-4-1-2 0-5 0-10-3-2 0-6 4-1 0-4-2 0 2-2-4-6 1 0 3-16-4-21 4-44 4 6 2 41-3 9 3 11-3 7 1 4-2 5 3 5-1 3 0 8 2 10 0 1-2 7-3 1 1 2-1 3 3 2-3 0 1 1-1 1 2 4 3 1-3 1 2 2-3 2 0 1 3 1-1 0 1 4-3 3-1 0 1 1 1 0 3 1-2 1-2 0 2 2-1 4 1 3-1 1 1 2-3 0 3 1 1 0 1 3-5 0 3 1-3 1 4 3-4 1 0 4 1 2-1 3 2 0 1 1-2 6-1 6 2 2 2 3-4 0 5 5-5 0 3 3 0 6 1 1-3 0 2 1-2 0 1 5 0 0 1 2 0 0 2 7 0 2-4 0 3 11-4 1 1 7 1 2 1 2-1 5-1 2 0 1-1 0 1 2 2 0 1 2 1 1 0 1-5 2 4 3-3 1 4 3-3 3 0 3 1 2-3 0 2 2-2 6 3 1 0 0 1 1-4 0 5 3-3 2 1 10 0 1-1 2-2 0 3 2 2 1-4 2-1 0 5 1-4 10 2 4-2 0 1 10 0 1 0 0 1 7-2 1 1 0 2 2-3 4 3 1-1 2-1 0 3 3-3 0 2 0 1 2-1 1-1 0 1 5-4 0 1 1 0 1 0 2 1 2-2 4 2 0 2 2-2 1 3 1 0 1-4 1 1 3-1 2 0 3 0 0 3 2 0 0 1 3-5 0 4 1-4 4 0 5 0 2 4 2-4 2 0 2 0 3 0 0 5 4 0 5-4 7 1 2 2 58 4-21 3-19-4-3 1-1 3-19-5-3 3-1-2-12-1-1 4-2-3-1 1-2 2-3 1-5-5 0 3-1 1-7-4 0 4-2 0 0 1-3-5-1 0 0 3-1 2-2-5-2 3 0 1 0 1-1-1-8-3-1 0-2 2-7-2-2 1-2 2-1-3-2 1 0 2-1 1-1-1-2 0-4 0-2-4-3 1-6-1 0 3-1-2 0 1-1 2-1-3-3 2-1 2-8-2-1-3-2 1-4-1-1 1-1 1 0 1-1 0-2-3-2 3-1 0-6-3-2 0 0 2 0 1-5-3-4 2-1-1 0 3-4-4 0 3-2-3-6 3-1-1-4 0 0 2-3-2-5 0 0 3-1-1-4 1-5 0-2 0-2-5-2 4-1 1-2-3-1 1-1-2 0 4-3-5-2 2-1-1-1-1-5 5-1-3-2-1 0 3-2 0-1-4-1 1-6 2-2-1-1-1 0 4-1-5-1 1 0 4-1-2-1-2-5 2-1-2-5 1-1-1-1 1 0 2-3-3 0 3-8-1-1-2-3 4-5-1-1-4-2 3-1-3-2 1-3 4-1-4 0 4-3-3 0 2-2-1-3-3-4 1-5 0-1 0-3 1-3-1 0 1-2-2 0 5-5-5-1 2-2-2-2 2-8 2-2 1-7-5-3 1-4 1-1 0-2 0-2-1-1 4-3-5-1 2-2 0 0 1-7 0-1-1-8-1-10 0-1 0 0 4-2-4-6 4-4-3-6 1-4 1-4-2 13 5 2 1 1-1 5 0 1 3 2-4 2 3 3-3 5 4 6-2 2 1 2-1 3 1 3-2 1 3 1-1 3 2 1-2 1-1 1 3 1-2 4 2 2-4 1 3 2-4 0 1 3 2 3-3 0 3 2-1 0 2 2 0 1-1 2-3 3 1 2 4 3-4 1 1 2-2 1 4 1-4 1 0 6 3 3-3 0 1 0 1 5 2 1-4 2 3 1 0 1-1 1 1 0 2 2-3 1-2 2 0 3 5 4-2 3-3 1 4 3-2 0 2 2-1 0 2 4-4 0 1 1 3 7-2 8-3 0 1 0 1 3 2 7-2 1 3 1-2 4-2 0 1 0 3 1-5 0 2 5 2 2-4 1 5 1-5 1 4 2-4 12 5 1 0 1 0 1 0 2-1 4-2 1-1 0 4 8-3 0 3 1-5 1 4 0 1 5-1 1 0 2 1 1-3 1 0 0 1 0 2 1-2 0 2 4-4 1 2 3 0 1-2 2 2 1 1 0 1 3-2 6 0 4 0 3 2 1-3 0 2 0 1 4-4 0 4 1-3 2-2 6 0 0 4 0 1 4 0 5-1 2 0 3-3 2-1 1 3 3 2 1 0 1-5 8 1 0 1 1-2 10 1 2 2 4 1 2-2 6 1 5-1 2 1 1-3 4 4 1 0 4-3 0 4 5-2 0 1 3-2 1-1 1-1 1 3 5 2 1-5 2 5 1-4 6 3 1-1 2-2 4 0 2 1 5-2 3 0 0 4 2-3 1-1 2 5 1-5 1 5 9 0 4-4 0 1 14 1 1-1 8-2 1 0 16 3 3 8-29 0-13-3-2 3-2-5-9 2-8 3-2-3-4 2-2-1-2 1-1-4-1 2-4 0-1 0 0 1-1 2-2-5-1 1-1-1-1 1 0 3-5-4 0 1-2 3-1-3-5 0-1 1-4 0 0 1-3 0-1 0-1 0-5 1-4-1 0 1-1-4-1 4-2 1-1-2-2 2-1-3 0 1-2-1-1-2 0 1 0 3-1 1-1-2-1 1-4-2-1 1-2 0-3-2-6 1-1 2-2-3-3 0-1 2-3-1 0 2 0 1-1 0-1 0-3-2-11-2 0 1-2 0 0 3-1-2-2-1-3 1-2 1-2-2 0 1-4-3-4 2 0 1-4 0-1 2-2 0-1 0-2-3-1 1 0 2-1-4-1 3-1 1-2-3-1 1-11-1-1 2-1 0-2 0-4-4 0 1-4 1-3-2 0 4-5 0-6-2 0 3-4-1-2-3 0 1 0 3-6 0-1-5 0 2-15 1-1 2-3-2-4 2-1-5 0 5-1-3-1 1-1 0-5-3 0 5-3-3-2 1-3-3-1 4-4-3-1 0 0 3-2 1-3-2-1-3-5 2-1-2 0 1 0 4-3-1-2-1-1 2-6-2-2-1-3 0-1-1 0 3-1-2-1 1-1 1-1-3-1 0-3 4-5-5-7 1-2-1-1 2-5-1 0 1-6-2-1 1 0 1-1-1-4 2-2-2-1 3-3 0-2-1-4-3-9 5-3-5-1 4-3 1-1-3-3 0-3 1-12-3-1 0-2 0-17 5-20-3-8 2-10 6 16-1 2 2 4-4 4 3 14-4 3 0 9 1 10 1 5-2 9 4 3-2 4-1 3 0 1 1 1 1 1 1 4-4 2 4 1-4 5 5 3 0 4-2 1-3 3 5 6-5 3 1 1 0 1 0 1-1 4 2 1 1 0 1 3-3 3-1 0 1 1-1 1 2 1 3 4-2 0 2 4-4 3-1 0 4 1 0 1-2 9 1 3-3 0 1 0 2 1 2 1-4 0 1 0 2 1-3 0 2 0 2 4 0 1-5 0 1 0 3 3 1 1 0 1-3 3 0 3 2 1-3 4-1 1 5 4-5 0 2 1 2 0 1 2-1 4-1 1 2 1 0 1-3 0 1 0 1 2-3 0 4 3 0 1-3 1-2 2 4 0 1 1-2 5-1 3 0 0 2 1 1 3-4 0 4 4-2 0 1 5 1 1-2 2-2 10 3 0 1 2 0 3-4 2 1 1-1 1 4 1-5 0 3 1-2 0 4 1-2 1-2 1 1 2 2 2 1 1-4 1-1 0 3 0 1 2-3 0 3 2-1 1 2 1 0 2-4 3 0 0 3 1-2 2 0 4 0 2 1 5-1 0 1 2-3 1 2 1 3 3-5 4 0 1 3 1-3 1 0 2 3 4 2 2 0 1-1 1-1 3 2 1-2 1 1 1-2 1-2 2 0 3 4 1 0 2 0 2-1 4 2 2-2 5-2 1 2 4-1 1 0 1 2 1-2 4 3 1-2 1 1 2 1 1-1 2-2 2 2 2 1 2-5 1 4 2-2 2 1 2 1 1 0 1-4 0 3 1-2 2 3 9-2 1 2 2-3 2 2 0 2 4-1 3-1 0 1 2-4 3 2 3-2 0 1 1 0 1 2 0 2 1 0 4 0 2-1 0 1 2-1 8 1 2-2 2 2 3-1 12 0 7-3 6 0 16 1 9-1-4 9-7 1-20-3-9 0-4 1-3 0-4-2 0 3-4-3-2 2-1-1-2 0 0 1-3 1-2-4-1 4-2-1-2 2-6-2-2-2-2 4-1-2-1 1-5 1-1-2-2-1-1 1-1-3-1 5-1-5-1 0-3 1 0 1-1-2-3 0-1 0-4 4-2-3 0 3-1-2-2 3-1-4-1-1-1 1-1 4-1-3-1 3-4-1-2-2-11-1-1 2-2 1-2 0-4 1-1-2 0 2-4-2-1 1-6 0-1 0-1 0-3-4 0 4-3-3-1 1 0 1 0 2-4-2-3 0 0 2-3-1-10 1-5-4-3 4-2-2-2 0 0 1-2-3-6 3-1-4-1 5-2-2 0 2-5-2-4-3-1 3-2-3-1 0 0 4-7-1-1 1-2-2-3-2-1 0 0 4-1-1-3 1-3-3-1 1-2 1-1 2-1-5 0 1 0 1 0 1-1-2-2 1-2 2-1-3-2 4-1-3-8-2-1 2 0 2-1-1-2 1-1-1 0 1-1 0-4-2-1 2-2 0-1-1-4-2 0 3-1-2-1 0 0 3-5-2-2-1-3-1 0 1-2-2 0 4-2-3-5 2-1-1-1 0-1 1-1 0 0 1-2 1-2-3 0 3-3-1-1 0-4-1-4-1-1-2 0 1 0 2-2-3 0 4-5 1-1-5 0 4-2-4-3 2-3 2-1-3 0 3-1 0-2 0-2-4-9 5-1-1-1 0-1-4-3 1 0 2-4 1-1-4-2 5-1-4 0 1-4 1-1 0-1 1-4 1-4-4-1 4-2 0-4-3 0 1-1-3-2 3-1-3-9 3-1-2-2 3-2-4-3 1-4 0-2-1-2 1-1-1 0 2-3 0-1-2-1 1-10 1 0 3-4-4-6 0-10 0 6 7 3-2 4 5 4-2 12-3 1 5 3 0 5-5 0 1 3-1 7 1 3 2 2-1 2-2 2 0 0 2 1 3 1-4 0 3 1-1 3 1 2-3 5-1 6 3 3-3 1 3 3 2 1-2 1 1 2-1 2-2 8 2 1 0 0 2 5-4 0 1 0 1 1-3 1 2 0 3 1-1 1 0 1-4 5 3 1 2 3-1 1-3 0 4 2-2 1-2 2 1 1-2 6 0 2 5 2-1 1-4 1 5 4-5 0 3 3-2 2 0 1 4 2-5 1 3 2-2 0 3 1 0 4 1 3-2 2 0 1-3 3 1 4 4 1-2 0 1 1-4 3 0 0 2 1-1 1 0 1 1 3-2 1 0 2 5 1-2 0 2 1-3 0 2 3-4 3 2 1 2 1 1 1-3 2-2 4 3 1 2 2-1 2 1 1-2 4 2 1-3 6 2 6-2 1-1 5 3 1-3 1 0 7 4 1-2 1 2 1-2 7-2 2 1 0 3 1-5 1 1 2 4 1-4 1 0 4 3 1 1 2-5 6 1 0 1 5 0 0 1 6 1 1-3 2 1 1 1 3-2 1-1 1 4 0 1 2-2 0 1 5-1 2-3 0 4 0 1 2-2 2 2 4-5 2 3 1 1 5-1 1 1 2-3 6 1 0 2 1-1 2-1 1-2 1 5 1 0 1-4 0 3 2 0 1 0 1 0 1-1 4-3 2 3 9-1 2 2 3 1 6-5 3 1 3 1 0 1 4 2 2-5 0 2 1 3 1 0 1-1 1-4 1 5 2-1 1-4 1 2 3 0 0 2 1 0 1-2 1-2 3 1 2 1 1 1 0 2 3 0 1 0 1-5 0 4 1-1 5-1 3-1 1-1 0 1 1 1 2 2 2-2 10-2 2 1 0 1 1-1 5 4 9-1 2-4 1 1 9 1 18 3 1-2-10 4 0 2-8-1-8 3-9-3-1 3-12-1-3 0 0 1-3 0-8 0-3-5-1 0 0 3-2-2 0 1-4-1-5 2-4-1-1 3-1-1-1-3-1 1-9 1-2 2-1-3-1 1-1 0-2 1-2-4 0 1 0 2 0 2-7-5 0 3-4-2 0 4-2-3-2-2 0 1 0 4-3 0-2-5 0 5-3 0-2-2-1 0-1-1-1-2 0 3-1 0-3 1 0 1-6-2-1 1-4-4-1 3-1 2-4-5 0 2-2 1-1 2-1 0-5-5 0 3-3 1-1-3-4 4-2-3-2 2-1-1-1-2 0 2 0 2-1 0-4-2-1-1-2 3-2-5-2 1-6 4-3-2-1 0 0 2-2 0-4-2-2-2 0 3-2-2-1 1-1 1 0 1-3 0-1-1-1-1-1-3 0 2-1-1-2 1-2 0-1-1-1-1 0 4-11-2 0 1 0 1 0 1-1-5 0 2-5 1 0 1-1-2 0 1-1-3 0 4-3-2-4 1-2 2-3-4-1 0-1-1 0 2-1 2-1-2-2-1-3 0-6-1-1 4-1-2-1-1-1 0-2-1-1 1-2 4-1-2-1-3 0 4-3-3-3 2-2-3-2 1-1-1-2 3-2-3-1 3-4 0-1 0-3-3 0 3-3 1-5 0-3 1-5-4-1-1 0 2-2 1-3-3 0 2 0 3-1-5-1 2-3 1-3-3 0 3 0 2-1-3 0 2-5 1-2-1-2-1-6 2-8-5-2 5-3-4 0 3-2-3-1 1-4-1-1 0-1 2-1-2 0 3-1-4-1 1-1 2-4-1-3-1-2 2-1 1-5-3-1-1-1 2-5 1-4-3-1 3-6-1-5 2-7-4 0 3-4 1-1-4 0 3 0 1-1-2-6 2-1 1-2 0-3-4-5 2 0 2-7-2-3 1-13-4-17 2-2 3-8-4-33 5 38 4 17-1 2 1 18-2 2 0 11 3 2-2 3-1 1-1 2 1 1 3 3-5 0 1 1 2 3 2 4 0 3-3 1 0 1-2 0 5 3-1 4 0 1-4 0 1 1-1 2 0 0 2 0 3 1-5 1 1 1 0 3 4 2-2 1 1 6-2 3 2 1-3 0 3 4-2 1 0 5 3 2-1 3 1 4 0 2-4 0 4 1 0 6-4 5 2 1 0 3 1 3-3 1 3 1-2 1-1 1 0 4 0 0 2 4-3 1 5 1-1 1-2 3 3 1-4 1 0 0 1 1 3 1 0 4-2 4 1 1-4 1 3 1-3 6 4 3 0 1-4 0 4 1-3 0 2 4 0 2 0 1-3 2 3 1-1 1 1 2 1 2 1 2-5 4 3 1-3 1 2 12-2 4 4 2 1 2-3 3 3 1-5 6 1 0 2 2-1 2-1 3 1 0 1 1 2 4 0 6-3 0 2 1-4 1 1 4 1 3 0 1 0 2-1 0 3 1-1 2-3 4 1 6 0 7 1 2 1 2 1 7-4 0 3 3 2 2-2 1-3 1 4 3-1 1-1 1 2 1-4 0 4 2 0 5 1 2-2 0 2 3-4 2-1 1 1 1 3 2 0 1-3 0 1 4 1 1 0 0 1 1-2 2-1 3 0 3-1 0 3 1-3 0 5 3-4 1-1 1 4 0 1 4-5 1 5 1-1 1-4 3 0 0 1 2 2 2 0 3 2 6-1 3-2 3 2 4-3 5-1 2 5 2-1 1-3 1 0 2 1 2-2 3 1 0 2 1-3 1 0 2 2 0 1 1-2 0 1 1-1 1 0 2 4 3 0 2-5 0 1 6 3 1-3 4 4 6-5 3 2 3 0 1 2 5-3 0 1 4-1 2 2 7-1 28 7-23-1-3-1-9 4-12-1-1-3-3 3-3-2-1 3-3-1-1-1-3-3-1 4-1-3-8 1-1 3-1-1-7-3-2 3-1-4 0 1-2 1-7 2-2-4 0 5-1-4-1 3-3 0-3-2 0 3-2-3-3 1-1-1-6 1 0 1-7 0-1 0-3 1-2 0-8-1 0 1-2-3-1 3-1 0-3-1-2 1-1-1-1 1-1-2 0 1-2-1-1 2-2-5 0 2-2 1 0 1-1-2-3 1-2 1-3-2-2 1-1-2-2 3-5-1-1-3-1 0-1 3 0 1-6-1-2 0-2-2-2 1-2-2-3 2-1-1 0 2-5-2-1 4-1-4 0 1-6-2 0 1-1 3-1-2-2-1-2 4-1-1-4 0-1-3 0 1-2 0-2 1-4 2-1-2-4 0-2-1-4-2-1 0-2 1 0 4-3-4-3-1 0 3-2-2-1-1-1 0 0 1-1 4-6-5 0 1-1-1 0 3-1 0-4 1-2-2-4 3-1-5 0 5-3-2-1-3-2 3-2-3-5 0-1 2-3 1-1 0-8 0-3 1-3-4 0 2-1-1-4-1 0 4 0 1-1-2 0 2-1 0-2 0-1-1-3 1-1-1-3 0 0 1-1 0-1-2-1-1 0 1-3 0-3 2-2-1-1-4-3 2-2 1 0 2-1-4-1 4-2-3 0 2-1 1-6 0-2-5-3 5-2-2 0 1 0 1-2-1-1-2-1-2-3 4-10 0-1-2-2 1-4-2-2-1-4 4-1-3-1 0 0 1 0 1-5-1 0 2-2 1-7-2-5 0-1-3 0 4-4-2-1 1 0 2-3-2-1 2-1-3-3 0-1 1-2 1 0 1-1-5-1 4-4-4-1 2-3 1-4 0-2 0-6 1-13 1-11-3 0 2-1-1 0 1-25 7 16 0 16-3 3 3 8 0 10-2 3-3 0 5 7-2 3-2 3 1 1-2 3 5 3-5 0 1 2 4 2-1 3-4 1 3 0 2 2-1 1 1 3-2 1-1 1-2 3 2 0 2 3-2 4-2 3 0 3 2 4-1 1 1 4 1 5-2 0 1 1-1 4 1 0 1 9 1 3-1 0 2 2-4 3 1 3 3 2-3 0 1 3 2 3-3 1 1 1-3 1 5 1-1 5-4 2 3 1-3 0 2 2-1 0 3 2 1 1 0 1-5 1 1 0 2 2 2 1-1 1-2 1 0 2 2 3-2 1-1 3 0 4 0 1 1 1-1 1 1 1-2 0 3 6-2 0 3 4-4 0 1 0 4 1-3 0 2 3-4 6 4 1 1 1-2 7-3 2 4 3 0 0 1 3 0 4-3 0 2 7 0 2-1 1 0 2-2 2 0 0 1 2 2 2-2 3 0 0 3 4-4 0 4 1-2 3-1 3-2 3 0 0 2 0 3 1-4 2 0 1 1 6 1 1 2 2-2 2-1 4 2 2-2 2 2 6-2 0 2 1 0 1 0 1-4 1 3 3 1 2-1 1-2 3 3 4-1 4 0 0 2 4-5 1 0 1 5 1-1 1-2 1-1 2 4 3-3 1 0 2-1 6-1 3 5 4-4 1 1 1 1 1-3 1 0 0 4 0 1 7 0 4-2 1 1 4-2 1-1 0 1 1 1 0 1 1-4 4 5 2-3 1 0 2 3 2-4 4 3 8 0 5-2 3 0 0 3 1-2 2-3 2 5 7-5 2 3 1 0 1 1 4 0 2-2 2-1 7 1 0 2 3-4 1 1 6 3 23 1 18-4-7 7-6 0-9-1-8 4-2-2-5 2-12-4-3 0-2 0-2 3-3-4-7 0-1 4-6-3 0 2 0 1-2-4-3 4-4-3-1 0-5-1 0 1 0 3-3-3-2 3-1-1-1 1-8-1-4-1-3-1-4-1 0 1-5 1 0 3-1-3-3 1 0 1-3-1-1-3 0 1-1-1-1 4-1-1-1-2-3 4-1-5-1 1-4 4-1-1-2-3-1 4-2-3-1 0-2 2-4-2-1 3-2-1-3-1-1 2-3-1-4-4-13 1-1-1-1 2 0 2-1 1-1 0-1-3-1-2-1 0 0 1-2 2-2 1-7-2-2-1-2 2-2 1-3 1-1-5 0 3-1-1 0 1-2-1-4 2 0 1-3-4-1 3-3 1-1-5 0 3-2-2-2-1-4 2 0 3-3-5-1 1-1-1 0 2-8 0-2 1-1-2-1 0-2 0-1 1-3 3-4 0-2-3 0 2-1-2-3-1 0 1 0 3-2-3-2 2-5-2-2 1 0 1-1 1-1 0-1-1 0 1-1-3-4 3-2-5-3 3-1 1-1-1-3 2-1-2-2-2 0 1-2 3-1-2-5 2-5 0-1-3-2-1-1 0-1 1-1 1-2-2-2 4-1 0-1-3-2 1-5-2 0 1-4 2-1 0-2 0-4-4-1 4-2 1-2-4-1-1-3 4-1-1-2 2-1 0-1-3-2-2 0 2-3-1 0 2-3-3-1 3-1-3 0 2 0 1-1-3-2 3-1 2-3-5-3 4-2-3-2 3-1 0-1-4-1 0-4 1 0 3-4-4-1 2-1-2 0 1-3-1 0 4 0 1-4-1-2-1 0 2-5-5 0 1-3 0-4-1-3 4-3-1-1-1 0 2-1-2-4-2 0 2-3-1 0 3-1-2 0 2-2 1-6-4-2 3-4-4-1 1-3-1-4 1 0 3-1-1 0 1-7-2 0 1-8-3-2 3-19 1-14-2-7-2-16 0-16 1 75 8 10-2 8-1 1 3 7 0 6 0 1-2 1 3 3-1 10 1 1-4 4 0 1 5 1 0 1-4 0 3 5 0 3-4 1 0 1 3 5 1 4-3 0 4 2-4 2 3 4-2 6 0 2 1 1-2 0 4 5 0 1 0 1-2 2 0 3 0 3 1 1-3 5 1 0 2 3-2 0 1 2 1 4-2 3 3 1-1 7-1 1-2 1-1 0 4 2-4 0 3 0 2 2-3 1-2 1 1 7 2 4-1 1 0 2 2 2 0 1-2 3 0 0 2 2 1 5-5 0 2 4-2 5 5 1-3 0 1 6 1 3-4 1 3 1 2 5-5 1 5 1-3 2-1 1 3 1 1 7-5 2 1 0 2 2 0 2-2 2 4 3-3 1-1 2 1 2-1 1 1 4 0 0 1 0 1 1-3 3-1 1 5 1-2 1-3 0 1 4 3 2-1 1 0 1-3 1 2 0 2 2 0 2-4 1 3 2 2 2-5 1 2 1 3 1-5 3 0 0 1 0 1 1 2 11 1 2-3 0 1 2-2 0 1 3 0 5 0 1 0 5 3 3-2 1 0 1-1 3 1 0 2 8-2 2 1 1-4 1 0 2 3 3-2 3 2 1-1 3 0 0 1 1 0 2-1 1-1 0 2 1-3 2 3 1-1 3-1 0 2 1-2 4 1 3-2 1 1 3 2 1-3 2 1 1 4 1-5 3 2 4 0 0 3 1-5 4 4 0 1 1-5 1 0 4 2 1 0 2 1 1-2 0 4 1 0 1-5 1 3 0 2 1-5 0 5 3-5 2 3 2-2 0 4 4-3 2 0 0 2 1-1 4 0 4-1 2 0 0 2 0 1 2 0 2-4 2-1 1 1 1 0 1-1 0 1 0 1 0 1 1-3 4 1 1 0 1 3 4-1 14 2 13 0 31 6-11-5-9 0-6 0 0 2-2 3-19-4-2 0-6 0-8 1-1 1 0 1-1-2-3 3-1-3-2 0 0 2-4-1-5-1-2-1-2 0-1 1 0 3-2 0-2-3 0 1-4-1-1-1-4 0-1 1 0 2-3-4 0 4-1-2-1 2-1-4 0 5-2-1-1-3-3 3-1-4-3 2-1 3-1-5-1 1-7 0 0 4-5-2-2 2-3-4 0 1 0 1-5-3-1 3-1 1 0 1-2-5-1 3-1 0-1 0 0 1-1-1 0 2-3-5-3 4-6-4-5 3-3 2-1-3-1 2-1-4-1 3-2-2-1-1 0 1 0 2-2 1-1 0-1-4-2 4-1-3-3-1 0 4-1 0-3-4-2 1 0 2-2-2 0 2 0 2-2 0-3-3-1 0 0 3-1-2-3-2 0 1-1-1 0 2-1 0-1-3-3 3 0 2-2-1-1-1-1-2-8 2-2 2-1-3 0 2-1 0-4-1-3-1-1-2 0 1 0 2 0 1 0 1-3-3-8 3-1-3 0 2-6 0-2-2-2-2-1 5-3-4-2 2-1-2 0 3-1-2-2 3-1-4-2 0-3 2-1 2-1-2 0 2-2-5-8 0-2 1-3-1-7 0 0 2-2-1-1 2-6-2-2-1-1 1-2 3-4-2-2-1-2 0 0 3-1-4-1 3 0 2-1-1-2-4 0 2-1-1-2 3-3-2 0 1-1 0-2-1-5-2-2 3-2-1-4 2-2-3 0 2-1 0 0 1-7 1-7-3-1 0-3 2 0 1-5-2 0 1-11-4-3 1-1-1-2 3-5-2 0 1-6 2-1-1-2 1 0 1-2-4-2 0 0 2-2 1-4 0-4-4 0 4-1-1-2 2-2-4-1 4-1-5-3 4-3-3-1 3-1 1-1 0-4-3 0 1-3-2-1 2-2 1-2-2 0 2-2-2-4 0 0 2-4-3-6 4-2-2-6-3-2 3-1 1-5-1 0 1-14-1-1-1-10 1-38 5 57-1 5 0 3 2 1 1 5-4 2 3 8 2 1-4 2 1 0 2 10-1 2-3 2 3 2-3 3 0 1 0 1 5 1-4 3 0 2-1 2 1 4 2 1-1 3-2 2 3 1 1 1-4 0 5 2-2 1-1 0 1 2-2 2 0 3 1 8-2 1 4 1-2 1-1 0 2 0 2 1-2 0 1 1-4 9 4 4-2 0 1 1-3 1 0 0 2 2 3 4-1 0 1 1-2 4 2 1-5 6 3 3-1 2 0 0 1 4-2 2 3 9-3 0 2 0 1 1 0 8 0 1-2 6 1 1-1 2 2 3-4 3 1 1 0 3 4 5-1 1 0 1 0 1-2 3-2 4 3 2 1 1 1 1-4 3 0 1-1 0 1 0 2 1 2 2-1 4 0 0 1 2-3 1-1 1 1 1-1 2-1 0 5 3-1 3-3 2 0 1-1 3 0 1 1 7 2 4-3 0 4 5 1 2-2 5-1 1-1 0 2 4-3 3 2 1-2 1 2 0 1 1-2 3-1 2 3 2 1 1 1 1-3 4 2 0 1 5-3 5 0 1 3 2-2 8 1 1-4 4 5 2-2 3-3 1 1 0 1 2 2 0 1 1-3 1-1 0 1 2 3 1-2 3-1 7 0 0 1 1 0 2 0 3-2 1-1 0 1 6 0 2-1 4 0 2 0 0 3 1-2 3-1 0 1 9 2 1-3 0 4 0 1 1 0 3-5 0 1 3 4 1-3 0 3 3 0 3-2 2-2 4 3 2-4 0 4 1-1 4-3 0 4 5-2 5-2 2 1 0 4 1-5 3 1 0 2 0 1 1-3 7 3 2-4 2 4 0 1 4-5 4 1 2 1 0 3 1-2 1 1 4 0 1 0 2-2 0 3 2 0 1-4 7 2 3-2 38 3-5 4-5 2-27-2-2 1-1-1-1 0-1-2 0 5-1-1-6-1-4-3-4 1-1-1 0 2-1 2-2-4-2 4-3 0-1 1-2-3-2-2-1 3-1 0-5-1-1-1 0 1 0 3-1-5-2 1 0 3-6 0-5-3-1 2-9-2 0 4-1-3-2-2-4 5-1-3-1 1 0 1-3-3-5 1-4-2-3 3 0 1-1-2-1 0-1-1 0 3-3-4-3 5-2-2-2 0-1 0 0 1-5-1-1 1-1-2-1-2-2 4-10-3 0 1-1 0 0 1-1-1-9-1-7-1-1 4-1-4 0 1-1-1-2 0-2 3-1 0-1-1-6 0-1-1-3 0 0 2-2-3 0 4-4-1-1-3 0 5-2 0-2-3 0 2-3-4 0 1-1-1-2 2-1 0-1-2-4 4-1-3-2 3-2-2 0 3-3-5 0 4-1-3-3 4-1-4-5 3-1-3-1 0-2 2-1 2-9-5 0 3-2 2-1-4 0 2-2 0-4-2 0 1-3 1-1-1-4 3-5-2-7 1-4 1-1-3-1-1-2-1-1 3-2 0-1-1-1-1-1 0-4 2-2-1-1 1-1 0-1-2-2 2 0 1 0 1-1 0-1-2-1 2-1-1-5-3-1 4-2 0-3-2-3 1-7-3-1-1 0 5-5-2 0 2-1 0-5-5-1 3-3-3-3 2 0 3-5-4-1 2-1 1-2 0-3-4-7 3-8-2-1 2-1-3 0 2-3 2-3-4 0 2-7-2 0 1-1 2 0 1-3 1-1-1 0 1-1-2-2-1 0 2-1-2-1-1-1 4-3-3 0 3-1-3-8 3-1 0-1 0-1-5-5 2-4 2-4-1-1 2-2-4 0 1 0 1-3-3-1 0-2 1-3 1 0 3-1 0-2-1-1-4-5 1-12 2-1 2-1-4-8-1-8 0-5 4-16 1 21 4 1 1 22-1 5 0 1 0 5 1 3 1 3-2 1 2 1-5 0 3 1-2 0 3 2-3 1 2 2-1 2 0 2 1 0 1 6 1 2-5 0 1 0 4 2-3 1-2 1 4 3-3 4-1 0 4 2 0 2-2 0 1 1 0 2-3 0 4 1-2 0 3 7 0 3-4 0 2 3 2 3-1 5-2 1-2 3 3 0 2 2-2 3 1 1 0 5-4 0 2 2-2 1 5 3-4 0 3 1 0 1 1 3-1 1-1 2 0 1 0 1-3 5 5 7 0 2-3 0 2 1-2 0 1 1 1 4-4 1 4 2-4 0 2 7-2 1 2 5-1 1 0 3 4 3-3 1-1 3 1 1 3 1 0 1-4 2-1 1 0 5 2 3 2 4-3 0 1 1 1 7 0 1-3 3 2 2 3 3-2 1 1 4 1 3-5 0 2 4 0 1 0 0 1 0 1 8-3 0 2 3-3 1 1 3 0 1 2 3 2 2-5 2 0 0 2 4-2 2 2 1-2 1 0 7 3 2-1 3-1 3 2 1 0 1 1 0 1 1-4 4-1 1 1 0 3 0 1 1-2 1 2 3-1 3-3 3-1 1 5 4-4 2 3 3 0 4 0 0 1 1 0 3-5 0 4 3-4 1 2 2 0 2-2 1 0 0 1 2 0 0 1 0 2 3-1 2-2 0 3 2-4 0 2 1-2 0 1 3 4 2-4 0 1 1 3 15-2 1-1 2-2 1 1 10 3 2-4 0 4 2 0 2 0 2-3 1 3 2-4 0 5 1-5 1 2 1-1 3-1 1 2 1-1 1 1 1 0 6-2 2 4 2 0 2-4 1 2 6 1 1 0 0 2 2-3 4 0 1 1 0 1 4-4 4 1 0 2 2-1 11 2 2-3 1 1 5 0 14 3 1 0 3 0 2-4 21 2-27 5-18 2 0 1-6-4-2 0-5-1-3 0 0 4-1-2-7 0 0 1-4 2-2-2-1-3-3 0 0 2-1 0 0 3-9-3-3-1-4-1 0 4-1-2-1 2-2-4-1 1-2 0-1-1-3 0 0 2-2-2 0 5-6-5-2 4-1 1-4-5-1 0 0 2-1-1-3 0-1 2-1-3-1 1-1 2 0 1 0 1-1-3-1 0 0 3-1-3-1 0-1-2-2 0-1 1 0 2-3-1-1 1 0 1-1-1-2-3 0 2-2-2 0 2-1-2-3 4-1-1-3 1 0 1-4-2-2 1 0 1-2 0-3-4-2 1-2-1 0 3-4-2-1-1 0 1-1 0-4-1-3 1-5 3-6-5-6 2-2 2-6-1-4-1-5-2-3 2-4 1-1 1-1-3-3 2-3 1-1-3-2 4-4-2-2 2-3-2 0 1 0 1-2-3-3-2-1 5-1-1-4-1-5-2-1 3-1-4-3 1-3 0 0 4-1 0-1-2-4 2-5-4 0 2-1 0-1-1-3 0-2 0-2 0 0 3-4-2-5-2-1 1-1 3-1-1 0 1-3-4-2 1-6-2 0 2-1-2-1 0-4 0-2 2 0 3-5-4 0 1 0 2-7 0-1 1-9-4-1 4-3 0-2 0-7-1-1-3-4 3-3 1-7-2-1 2-6-2-1 1-1-2-2 0-1 0-1 2-6-1-2 0 0 1-2-1-2-3 0 1-1-1-1 3-2 2-2-5 0 3-2 2-1-3-1-2 0 3-1-1-1 2-1-2-2-2-1 4-1 0-3-4-2 1-2 0-6-1-3 0-2 5-1-2-1 2-1 0-2-2-1 0-1-2-6 3-13-3-3 1-3-1-1 3-6 0-24 0-10 5 19 2 7-3 30 0 4 2 0 1 1-3 0 3 1-4 2-1 1 0 0 5 1-5 4 1 0 2 6 1 2-3 0 2 0 1 2-3 0 1 0 2 4 1 2-2 1-3 0 2 0 3 2-5 2 0 1 4 2-2 11 3 2-2 2 2 1-4 3 2 0 1 2-3 4 3 4 0 1 0 6-3 0 3 1-3 0 4 2-5 3 1 0 4 1-5 0 1 1 1 5 1 2-2 1 4 3-5 1 1 0 1 2 0 2-2 2 2 4-2 3 0 0 3 1 0 1 1 2-1 1 2 1-4 0 1 0 1 0 1 0 1 1-2 3-3 7 2 1 0 1 1 0 1 1-2 2-1 2 4 1 0 1-5 2 0 3 0 0 4 1 1 1-1 3-4 0 5 1-2 3-1 1-2 2 0 2 0 0 2 2-2 6 1 3 1 0 1 1-2 1 2 1-3 1 0 1 5 2-4 0 2 10-1 2 3 7-3 2-2 0 5 1-5 0 2 1 1 0 1 7-1 3 1 2-4 1 5 3 0 4-3 0 3 1-5 3 0 1 0 0 4 2-3 1 3 1-3 1 4 1-4 3-1 1 3 1-1 3 1 5 1 10-4 0 3 1-2 3 1 2-2 0 2 1 1 2 2 1-3 1 2 5 0 1-2 0 3 1-3 1 1 0 2 1-5 0 3 0 1 3-2 1-1 2 3 5-4 0 1 0 4 4 0 1-5 1 4 0 1 2-3 1 2 5 0 4-2 6 0 2-1 3 3 1-1 1 2 1-4 5 1 2 1 1 2 3 0 1-3 2 3 3 0 3-4 1 0 1 3 8-3 1 0 5 4 3-5 0 4 1-4 0 3 2 0 3 0 0 1 1 0 2-2 1-1 2 3 1 1 4-1 1 1 4 0 2-4 2 2 4 2 3-5 5 2 1-1 0 3 1-4 3 4 1 0 1-3 0 3 2-1 2 1 1-4 1 3 0 1 5 0 2 1 4 0 1-1 11-4 1 0 22 8-22 3-3-2-12-2 0 4-3 0-4-1-3-2-4 3-3-5-3 0-4 4-2-1-2-2-1-1 0 1-7 1-7-2 0 2-1 0-5 1-1 2-1-1 0 1-2-5-1 4-3-4-2 5-2-1-2-1-3-3-4 2-2-1-2-1-1 1 0 3 0 1-4-3-4-1-2 1-1-1-7-1-4 1-4 1-5 2-1-4 0 2-1 2-2-4-1 5-1 0-1-4-1-1-1 2 0 1-1 2-1-4-13-1 0 4-8-2-2-2 0 4-2-2 0 3-5-2-1 2-3-1-1-1-3-3-1 4-4 0-3-3-4 1 0 2-2-1 0 2-1-3-2 3-7 0-4-5 0 4-1-4 0 5-1-5-1 3-2 1-6-2-5-2-1 3-1 0-7 2-2-3-4 0 0 1 0 1-2-4-3 4-1-1-1 2-3 0-2 0-1 0-3-1-1 1-2-5-1 5-1-3 0 2-2-4-1 0-1 2-1 0-8 2-1 1-2-2-1-3 0 5-4-3 0 1 0 2-3 0-1-2-5 1 0 1-1-5 0 1 0 1-3 0-4-2-4 5-2-5-6 0-2 5-3-5 0 5-1-1-1-4 0 3 0 1-1-3-2 1 0 2-1 1-6-3-2 2-1-4 0 1-5 0-1-1 0 3-3-1-1 0-2 2 0 1-10-1-3 0-16-1-2 2-1-2-2-1-3 1 0 2-2-3 0 1-3 2-2-4-1-1 0 3 0 2-6 0-1-5 0 1-1 1-4 2-3-4-2 1-1 0-5-1-1 5-2-5-5 0 0 1 0 1-1-2-7 5-16-2-4-3-1 3-3-1-11-2 0 5 6 4 9-3 6 0 0 2 15 3 6-3 4-1 1 4 1-5 1 3 1-3 3 5 1-3 0 2 1-4 3 0 3 2 2 1 1-2 2 2 0 1 1-4 2 1 1 3 2 0 1-4 3 5 1 0 1-5 1 4 2-4 5 0 1 0 3 1 1 3 2-3 2 1 1-1 1-1 0 5 1-4 1 0 1 3 1-4 0 4 1 1 1-1 1-4 0 3 2 1 0 1 8-1 1-4 2 1 0 2 2 2 2-5 0 3 2 2 1-3 1 1 0 2 4-2 0 1 2-2 0 3 4 0 4-1 5-4 2 0 1 3 1-3 2 5 1-1 1-1 3 2 1-2 2-3 0 2 1 1 1 0 3-2 1 4 2-3 0 1 1 1 2 1 4-1 1-2 0 3 1-2 1 0 1-1 1-2 0 1 2 0 0 4 1-5 1 0 0 3 6-2 0 1 2 3 3-2 0 2 1-5 1 1 2-1 0 2 0 2 1-4 9 0 1 0 2 1 0 3 4-4 4 2 4-1 2 3 3-4 1 0 1 3 1 2 2-2 0 1 0 1 1-5 1 1 0 2 0 1 3 1 1-5 0 3 1-2 2 1 1-2 1 1 0 3 1 1 1-3 2-1 1-1 4 0 3 0 2 3 1-3 2 0 3 2 1 3 1-4 1-1 0 5 3 0 1-2 3 1 1-2 4-1 0 2 2-2 3 4 2-3 1 2 2-3 4 0 1 0 3 0 3 0 5 1 0 1 0 1 3-3 2 0 1 2 6-3 0 1 0 3 1-1 1 2 1-4 3-1 1 5 1-2 2 0 2 0 1 2 1-2 2 2 3-4 0 3 3-1 4-3 0 5 4-1 0 1 1-4 0 2 1 2 2-2 1-1 1-2 1 1 1 1 1-2 1 0 3 1 1-1 1 2 0 2 6-2 2 1 0 2 1-5 0 5 1-1 6-3 2 0 1 0 1-1 1 0 4 3 0 2 3-1 5-3 5 1 3-1 0 2 1 2 5-2 2-1 1 2 1 1 1-3 1-1 0 3 1 0 1-1 2 0 2 1 3 1 8-2 2-3 22 2-17 7-2-2-5 2-6-1-3 1-1-2-3-1-2 3-8-1-3 1-1-3-5 4-1-2 0 2-2-4 0 2 0 2-1 1-1-3-1-1-1-1-1 1-4 1 0 1-3-3 0 4-2-1-1 2-3-5-2 1-1 0 0 4-2-5 0 1-8-1-1 3 0 1-1-4-1 5-3-4-2 1-2 2 0 1-1-3-6 0-2-2 0 4-3 1-4-5 0 1-1 1-4 0-2 0-1 1-1-3 0 5-1-3 0 2-5-2 0 1-1 0-4 2-5-5 0 5-2-3 0 2 0 1-5-4 0 3-1-1-1-1-6 3-1-2-4-2-6 0-1 1-2-2-2 2 0 1-5 1-1 1-2-5-2 1 0 2-1-3-3 1-1 2-4 1-3-4-2 4-2-1-1 1-1-1-3-2 0 2-4-3-4 3-1-2 0 1-1 2-3-1-2-2 0 3-1-4 0 3-1 1-2-2-1 2-1-4 0 2-1 2-2-1-1 0-4 0-1 0 0 1 0 1-1-3-1-1-6-1-1 0 0 5-2-2-1-1-9-2-1 1 0 1-4-1 0 3-2-1-2-2 0 1-3-2-2 3-2-2 0 2-2 1-4-1 0 1-2-1-1-3 0 2-2 0-2 0 0 2-1 1-2-4-4 2-1 0-2 2-1-3 0 1-3-2 0 3-4-3-2-1 0 1 0 4-1-5-2 0-1 5-2-2-2-1-1 1-1-1-3 1-1-3-1 2 0 3-1-2-1 2-2-4 0 3-3 1-3-3-3 1-2 1-3-1-7 0-1-1 0 3-2-1-1-4-1 3-1-2-2-1-1 1 0 2-3 2-2-4-2 0-1 2-1 1-2-3-3-1-1 5-1-5-1 1 0 1-4 2-6 1-3-1-3 1-1-2-2-3 0 3-6-2-1-1 0 4-2-3 0 3-3 1-4-4-1 2-1 2-1-4-3 4-1-4-1 0-4-1-5 2-1 3-4-1-7-3 0 3-9 0-2 0-8-3 0 2-42 3 51 4 11 1 1-3 6 0 9-2 0 3 4 1 1-2 1 0 2 0 0 1 2-3 4 0 0 2 1-2 1 2 1-2 2 4 0 1 1-2 3-1 3-1 2-1 1 5 1-4 1 3 1 0 4-1 1 1 6-2 1-1 4 3 4 1 2-3 1 0 3 2 3-1 4 2 2-3 1-1 0 2 3 0 1-2 2 0 3 1 1-2 0 4 2-3 3 1 4 1 2-1 1 2 1-1 8 0 2-1 0 1 1 2 2-4 2 1 1 0 1 2 3-3 5-1 0 3 0 1 1-2 1 3 4-5 1 0 0 2 0 2 1-3 5 0 5 3 3-1 0 1 2 0 1-3 3 3 2-3 0 3 2-2 2-1 2 0 1 4 1-2 3 0 5 2 1-3 1 2 1-2 0 1 2-1 0 1 2 2 2-2 3 1 4-4 1 5 1-2 8 0 2-2 2 2 2 0 3-3 0 5 1-4 0 3 2-4 1 4 1 1 2 0 5-5 10 0 2 2 1 3 1-3 1-1 1 4 1-5 1 0 2 2 1 3 3-2 0 1 1 1 1-1 2-4 7 2 1 2 1-4 0 4 3-4 1 0 0 4 3-4 0 1 0 4 4-2 0 1 1 0 4-3 0 1 3 0 1 0 0 3 3-2 1-2 2-1 0 5 1-5 1 1 1 0 0 1 3 3 2-3 1 1 4 2 2-2 3 0 1 0 1 0 5-3 5 3 1-2 3 4 2-2 3-2 0 2 2-2 2 1 5 3 1-4 0 3 3 0 8-3 0 1 0 1 1-3 2 0 2 1 1 0 3 4 8-3 1-2 0 3 3 0 8-3 1 0 2 2 3-2 3 2 2 0 4 1 1-3 12 3 6-3 1 4 28 1 7 0-19 6-1-1-2 1-26-1-1-1 0 2-1-4 0 4-5-1-1 1-4-2-5 1-5 0-2 1-3-5-6 4-4-1-4 0-5-2-3 2 0 2-2-1-1 1-1 0-1-1-7-4 0 1-4 3-2 1-2-1-1-1-3-3-4 3-2-3-3 5-9-5-3 2-2-2-1 5-3-3-1 2-3-4-1 0 0 1-2 2-1-2-2-1 0 2 0 1-5-2-6 1 0 1 0 1-1-2-1 3-1-5-3 5-2-4-1 3-2 1-2-3-2 3-6-3-5 0-5 1-5-2 0 2-1-2-3 2-3-1-2 2-5-4 0 4-1-2-1 2-1-1-4 0-5-2-3 4-3-5 0 4-4 0-2 1-9-5-1 2 0 1 0 1-3-4-1 2-3 3-2-2-1-2-1 3-1-1-1-1-1-1-2-1-3 2-4-2 0 1-3 3-4-4 0 5-4-3-6 3-2-5 0 5-2 0-6-4-1 3-1-3 0 2-2 1-4-3 0 4-3-4 0 1-1 0-2-2-1 1-2-1 0 2-3 0-1-2-4 5-2-1-1-4-3 5-1-5-2 4-1-1-2-1 0 3-4-4 0 1-1 1-3 1-1-1-3 0 0 1-4-3-5 1-3 0-4-2-2 3 0 2-2-5 0 1-3 4-1 0-1-1-3 1-6-3-2 1-1 2-1-1-3-1-5 2-1-3-1-2 0 3-1-3-2 1-3 2-1 1-1-2-3 2-2 1-2-4-2 4-1-4 0 2 0 2-1-1-4-2-3 2-1-3 0 1 0 1-12-2-7 4-11-5-9 4 17 5 22 2 2-3 1-2 1 0 3 0 0 1 1-1 2 5 1-4 5 1 1-2 2 1 6 1 8 1 2-1 3-2 0 1 0 4 1-1 0 1 1-5 6 0 5 0 2 5 2-5 0 5 2-5 1 1 1-1 2 2 0 3 2-2 1-1 0 2 5-2 1-2 5 1 0 2 3 0 1-3 0 2 2 0 2-1 0 3 1-2 2 0 0 2 1-1 1-3 1 3 1-3 6 2 6 1 1-3 3 1 9-1 3 3 1-1 0 1 2 2 2-2 3-1 1 2 3-3 0 3 0 1 1-3 2 3 1-4 1 2 1-3 1 2 2 1 9-2 1-1 1 2 1 2 4-4 1 1 2 0 1 2 1 2 2-5 3 0 2 2 1 2 6 1 2-5 0 5 3 0 2-2 1-3 1 1 1 4 4-5 1 4 3-3 1-1 2 0 0 3 0 2 1-3 3 3 1-2 0 2 1-1 3-3 0 1 1 1 0 1 0 1 1-5 4 2 0 1 1-2 1 3 3 1 3-1 1-4 0 1 0 1 3-2 0 1 1 0 1-1 2 2 1 1 4 2 2-5 0 1 0 1 0 1 1 2 2-5 2 0 2 5 2-1 1-2 3 0 4-1 1 4 2-4 0 1 3 3 2-4 0 4 1-1 5-2 4-1 0 3 1-4 2 2 0 3 4-3 0 1 0 1 1-3 4-1 0 2 0 1 2-1 2-1 1 1 3-2 0 4 1 1 3 0 1-2 1 1 4-3 1 3 1-4 0 3 1-3 4 3 2 0 1 0 2 1 0 1 1-1 7-4 1 2 0 3 3-3 0 1 1 1 2 0 2-4 1 0 1 0 0 2 3-2 4 4 8-4 0 1 0 2 1-2 2 2 3-2 1 2 1-3 4 5 5 0 4-3 0 2 1-4 0 4 16-4 2 3 28 1-5 4-2-2-9 5-3-4-24 4-1-1-4-4-4 4-5 1-3-3-7 1-4-2-1 4-11-3-1-1 0 3-4-3 0 4-4 0-1 0-1-5 0 2-1 1-3-3-7 2-3 0-1-1-4 4-1-4-6-1 0 1-3-1 0 3-2-3-1 0-1 3 0 2-1-2-8-3 0 5-1-2-1 0-4 0 0 1-3-2-1 2-1 1-1 0-1-4-6 2-4-2-2 0 0 4-1-5-1 1-4 4-1-5-1 0 0 1-1 0-3 3-4-1-1 1-2 1-1-5-2 1-1-1-3 4-3-2-5-2-2 3-1 0-2 0-3-3-2 0-6 0-5 4 0 1-4-2-3-2-5 1-1 0-3 0 0 1-2 2-3-5-3 5-2-2-2 2-2-3-2-2-3 5-1-2-2 0-1 1-1-4 0 1-10-1-1 2-2 0-1-2 0 5-1-4 0 1-2-1 0 2-3 0-3 2-7 0-3-5 0 1 0 4-3-4-3 1-1 1-5 0 0 1 0 1-1-5 0 4-3-4 0 1-3-1 0 3-5 1-4 0-1-3 0 1-2-2 0 5-1 0-1-5 0 5-3-4 0 4-4-5-4 3-2-1 0 2-6-3-1 2 0 2-1-3-2-1-1-1-7 3-1-1-3-1 0 2-2-2 0 3-1-2-1 2-3-1-1-3-4 0-1 1-3 1-1 2-1-4-1 4-6-1-4-3-1 1-1 2-2 0-1 2-1-5-4 1-3 0-1 3 0 1-1-5-12 0-1 5-5 0-2-2-23-1-29 0-9 9 43-3 2 1 9 2 6-4 6 3 1 1 1-4 1 1 2-1 3 2 3 2 1-4 0 3 2-4 1 3 4-3 1 1 4 1 0 1 1 0 1-1 3 0 0 3 1-2 1-3 5 4 2 1 1-4 1 4 4-5 1 4 3-3 1 2 2-3 2 3 2-2 4 4 2-2 1-2 0 2 0 1 3 1 1-4 2 0 2-1 1 5 6-3 1-2 1 1 1 2 0 1 1-4 3 5 3-4 9 1 1-1 2 0 2 3 6 1 2-1 1-2 11-2 3 5 1-2 1-3 0 3 2-1 4 3 1-5 2 5 2-2 0 1 0 1 2-2 1 2 2-4 0 2 1 2 5-2 3-3 1 2 0 1 1 2 3-2 1-3 1 0 0 2 1 3 5-4 3 2 3 2 1 0 4 0 2-1 2-4 1 1 2 0 1-1 2 4 1-4 1 1 8-1 2 0 5 0 1 2 0 3 2-5 0 4 2-4 2 3 2 0 3-3 0 1 1 1 2-1 2 1 2-1 3 1 2 0 0 2 2 0 3 0 8 0 1-1 0 1 2-1 2 2 1-1 1-1 0 1 2 1 1-3 1 2 2-4 1 1 1 2 6 0 2 0 2 1 1-3 1-1 0 1 1 3 2 0 8-2 0 3 1-5 4 4 4-1 3-3 3 5 1-4 1-1 5 5 5-3 2-1 0 1 7-1 0 2 7-3 0 4 8-1 1-3 1 3 8-2 11 1 0 2 4-3 9 0 14 1 1 0 15 3 10-1 0 1 4-2 17 0-13 8-1-5-14 0-21 5-3-1-1-2-1-1-5 0-2-1-11 5-2-1-4 1-2-1-1 1-3-4-5 0-3-1 0 4-6 0-3-4-4 1-4-1-2 0-3 4-8-4-1 0 0 2-3-1-3 1-2 1-7-2-1 2 0 2-1-4-1 2-5-2-5 0 0 4-3-4-2 4-1-5-8 0-1 2-3-2-1 1 0 1-2 0-3-1 0 1 0 1-1 2-1-3-4-2-5 1 0 3-3-4 0 4-1 0-1-4-5 0-2 0-3 5-3-5 0 1-2 3-1-1 0 1-2 1-1 0-3-3-3 1-2-3 0 1-4 2-4 1-1-4 0 2-2 2-3-2-2-1-1 3-3-3-4 0-2 0-1 2-2-1-3-2-7 0 0 4-4-3-1 2 0 1-5 0 0 1-1 0-7-4 0 2-2-3-5 4-1-1-1-2-3 1-2 2-3-4-2 3 0 1-3-3-2 3-2 1-2-2 0 1-1-1-2 2-1-1-1 0 0 1-1-4-7-1-3 1-4 4-1-4-1-1-2 3-2-2-1 3-2-4-3 1 0 2-1-1-4-2-1 3-1 0-1-3-2 3-1 2-1-1-2-3-1 1-3 1-2 2-2-3-2-2-3 2-1 1-7-3-1 1-1 3-3-1-2 0-4 1-2-3-5 1 0 3-1-3 0 1-4-3-2 0 0 1-6 4-1 0-6-1-14 0-13 1-2-2-5 2-3 1 18 3 7 1 11-3 2 0 1-1 2 3 1 2 4-4 0 4 5 0 2-5 0 2 4 1 2-2 6 1 1-1 2 4 1-3 3 1 1-2 2-1 6 5 2-4 2 3 6-4 0 4 3-2 0 1 3 1 3-1 1 2 5-4 1 4 1 0 1 0 1-4 0 3 5-1 5 1 1-4 2 2 2-1 0 2 1-1 1 2 2-3 0 2 0 2 3-3 2 0 0 3 1-4 1 3 2-4 2 2 1-2 5 5 3-1 4-2 3-1 1 2 1 2 7-4 0 3 1-2 0 1 3-2 0 4 1-2 1-3 3 2 3 2 1 1 2-5 2 5 3-1 1-2 2-2 6 1 4 2 0 2 4 0 1-3 3 2 2-1 3-1 3-2 4 0 0 3 1-2 0 3 0 1 2-3 0 3 3-1 1-3 2 4 3 0 3-1 3-4 1 2 1 1 3 0 5-3 2 5 2-3 2 3 2 0 3-5 1 3 2 1 1-2 11-1 4-1 2 2 2 1 2 1 1-2 1 0 3-2 2 2 1-1 1-1 0 3 3 1 4 1 4-2 3 0 1-3 0 1 0 1 1 1 1-3 3 2 4-1 2 1 4 3 4-5 4 2 3 1 1 1 19-3 16 1 1 2 2-2 5 2 7 1 6-2 1 1 5-4 1 1 10 4 12-2 9 0 22 1-26 7-18-5 0 3-12-2-6 4-1-1-1 0-4-2-2 2-1 1-2-2-1-3-7 0-1 0-1 2 0 1-4 2-1-3-6 2-16-4-2 3-15-1-1-1-2-1-1 1-1 0-3-1-4 0-5 3-1 1-4-3-1 1-3-2-2 4-1-3-5-1-4 3-1 0-2-3 0 2-1-1-2 2-4-3-6 1-1 1-1-2-1 1 0 3-2-3-1 4-6-2-3 2-1 0-2 0-3-5-2 3-1-3-2 2 0 2-2-2-2 2 0 1-7-2-5 1-1-4-2 2 0 2-1-1-1-2-2-1-2 3-3-3-2 0-4 0-3 5-2-5-3 3-2-2-2-1-1 3-1-2 0 4-2-5 0 3 0 2-1-3 0 1-1 1-1-3-3 1-3-2-2 1-3 1-1 1 0 1-2-1-4-3 0 3-4-2-1 1-2-1-1 2 0 2-2 0-1-1-3-3-4 1-2-2-1 3-2-3-6 1-1-1 0 4-5-4-6 5-3 0-1-4-1 2-1-2-11-1-1 2-1 0-1-2-1 4-2-1-4-3 0 3-3 2-4-2-2 1-8-3-1 1-2 0-1-2-3 2-1 1-5 0-3-2 0 4-1-5 0 3-1 1-1 1-4-5-1 1 0 2-2-1-5 3-2-2-3-1-5-2-8 2-1 3-7-5-2 1 0 1-5 2-46 2 44 5 20 0 2-5 3 3 7-1 1-1 2 1 6-1 0 3 5-2 0 3 3-1 2 1 1-4 0 2 2 1 1-4 4 1 3 4 1-1 2-1 0 2 1-2 2 1 1-4 0 1 2 3 4-2 0 3 9-5 0 1 3 1 0 3 2-3 6-1 0 3 0 1 1 0 4-5 1 2 0 2 1 0 0 1 1-5 2 5 5-1 2-4 4 2 1-1 0 3 1 0 2-3 4-1 3 2 2-1 0 1 2 1 0 2 1-1 1-4 4 4 1-3 0 2 2-3 0 4 2-4 5 5 1-4 7 4 4-2 3-2 1 0 1-1 2 3 1-2 1 2 1-1 4 0 2 2 1-2 1 2 9 0 1-4 2 4 3-2 0 3 3-4 0 3 1-2 2 0 3 2 5 1 1-3 0 2 0 1 1-5 3 2 0 3 2-2 7 0 1-1 2 2 5-3 6 1 6 2 1 1 1-2 2-2 3 1 10-1 11-1 0 4 3-4 4 2 4-1 8 1 1 1 3-3 0 1 3 2 1-2 11-1 7 5 3-1 1 0 1 1 1-5 3 5 8-5 4 2 5 1 9-2 3-1 2 2 5-2 12 4 6-4 2 4 4-3 16 3 2-3 35 4-15 5-12 0-2-3-14 1-13-1-16 2-10-1-5-1-1 3-1-1-4-1-14-1-4-1-8 3-10 0-5-2 0 3-4-2-15 3-1-5-1 1-2 2-1 2-4-4-1 3-3-2-9 1-1 2-6-2-2 2-5-1-16-4-7 2 0 3-1-1-1 1-2-2-2-2-1 0-1-1 0 2-1 3-4-3-1 2-2 1-1-4-1 4-6-3-2 2 0 1-2-3-1 1-5 2-1-3-2 3-10-1-2 1-1-2-1 0-1-1 0 1-1 1-2-1-1-2-2 0-2 1-2-2-1 3-1-2-1 0-3-1-1 4-2-3-6 4-3-3 0 1-1 2-2-3-9-2 0 3-6 2-1 0-1-5-1 5-1-1-3 1-2-2-6-2-1 4-1-1-4-1 0 1-2-1-1-2-2-1-12 5-2-2-1 1 0 1-1-2-5 2-1 0-1 0-1-4-1 2-2-3-1 3-1 0 0 1 0 1-1-5-1 4-1 1-2-4-1 0-2 0 0 2-1 1-4 1-1-3-4 1-4-1-3-2 0 2-5-1-5 3-3-4-7 1 0 4-4-1-18-2-2 0-10 7 14 1 8-3 4-1 1 5 11-5 1 1 4 1 1 3 1-4 8 1 2-2 3 4 4-4 1 3 1-3 4 4 5-1 1 2 3-2 1 0 5 0 1-3 2 0 2 5 6-3 1-2 1 4 5-2 1 2 1-1 1 0 0 2 4-4 1 1 4 0 0 2 2-4 0 1 0 4 1-5 0 5 4-5 1 3 1-2 3 1 1 0 3 0 1 3 3-5 0 4 0 1 7-3 0 1 1-3 0 3 2 0 3 0 1-3 1 5 1-5 1 2 1 3 2-1 3-3 1 2 0 2 1-4 0 3 5-2 0 3 1-3 6-1 3 2 1 1 2-1 0 2 4-4 1 1 3 2 9 0 1 1 1-4 3 4 3-2 2-1 1-2 1 0 7 1 0 4 11 0 5-1 3 1 2-1 2 0 4-1 1 2 4-2 7 0 1 2 16-1 3 0 8-3 1 3 4 1 9 0 4-1 5-3 1-1 6 2 9 2 10-4 17 5 3-4 7 3 5-2 7 2 27 0 8 1 23-4 25 0-48 8-5 0-2-1-1 2-6-4-8 5-1-4-16 0-5 0-3 0-16 1-20 0 0 2-10-1-3-3-5 2-1-1-16 4-2 0-4-5-12 1-2 0-7 2-1-1 0 3-8-5 0 2-18 1-8-2-1 4-1-5-5 0-5 2-1 3-9-2-3-1 0 1-6-2-1 1-1 2-3-4-5 4-1 1-2 0-2-1-6-2 0 2-2-4-2 1-4 0-1-1-3 2-1-2-2 5-3-3-4 2-1-2-3 2-3-1-4 2-1-3-1 0-2 2-1-1-8-3-2 1-1 0 0 4-7 0-1-2-3 1-2 1-3 0-1-4-1 0-5 1 0 1-2 2-4-5-4 2 0 1-1-1 0 1-4 0-2 1 0 1-8-1-5 1-2-4-1 1-25-1-10 3-4 1-13-5-11 2-11 0-2 7 38-3 12 1 17 0 6 4 4-3 1 3 2-2 3-2 2 1 1 3 1-2 14 0 7 1 2-4 3 2 1-2 2 3 1-3 6 0 0 3 0 2 13-2 1 2 2-1 4-1 1-3 1 2 1-2 1 1 0 4 2-1 3-2 0 3 3-5 0 1 5 0 0 3 3-3 1 0 5-1 2 1 9 1 3-1 1 1 1 2 2-4 2 5 17 0 1 0 2-1 4-3 8 1 10-1 5 1 4-1 0 3 12-4 1 3 2-3 2 4 28 0 5-1 9 2 2-4 2 1 6 0 21 0 16 0 0 1 8 2 9-2 1-2 6 3 18 0 16-4 11 0 4 1 7 1 4-1 10 1 9-1 21 3-60 2-2 2-14-1-3 1-28-2-10 3-34-2-1-1-17 0-2 3-5-2 0 3-4-2-15 1-24 2-24-5 0 3-8-3-6 0-2 0-2 3-1 0-7-2-16 1-2-1-7 2-3 2-5-3-2 1-1 2-1-2-1 1 0 1-3-5-2 0 0 4-1-3-1-1-1 2-8-1 0 2-2 0-1 2-8-4-4 0 0 2-4 1-1 1-1-4-5 4-8-1-1-4-4 2-7 2-4-4-5 3-5-3-5 2-5 1-1-1-5-1-2 1-10-1-18 3-26-3 4 5 7 4 14-4 5 4 3 1 12-2 0 1 1-1 4-1 6 3 6-4 11 3 4 0 4-1 0 2 9-5 1 3 3 2 1-2 1-1 1-2 6 5 7 0 1-2 2 2 2-3 1 3 3-3 8 0 0 1 2 0 0 1 1-2 1-1 8 2 6-2 8 2 4-2 9 4 2-5 1 1 5 2 2-3 14 1 3 3 4-4 7 1 2 3 21-3 12 0 5-1 4 2 2 1 6 1 2-2 26 0 29-1 15-1 7 3 1-3 69 2 14 1-72 3-51 1-4 0 0 4-9-5-13 4-31-1-7 0-31 1-5 0-5 0-1-1-9-2 0 3-3-4 0 4-2-2-1-1-2 1-2 1-2 2-4-2-22-1-3 2-4-2-4 0-6 3-13-1-2-1-18 0-3-3-13 3-6 2-4 0-1 0-35 0-12-1 13 7 10-2 9 2 26-4 26 4 11 0 19-1 7-2 31-1 0 2 10-3 3 1 1 0 1-1 4 3 15-3 6 0 11 3 11-3 25 0 38 0 27 0 16 1 14-1 13 2 2 0 3 2 36 1-24 1-25 0-27 3-2 0-21-1-60 2-18-4-6 4-35-3-12 0-15 2 0 2-2-4-8 0-3-1-14 0-5 3-6-3-7 5-9-4-4 4-9 0-11-5-20 1 26 6 22-1 12 3 10 2 1-2 7-2 2 1 1-2 9 4 13-1 9 1 4-1 3-2 26 3 23 0 70-4 13 1 35 2 32-2 68 10-38-4-20 0-40 1-9 2-20-2-21 2-45-3-33 4-38-5-16 1-10-1-4 4-7 0-1-2-9 3-9 0-32-5-34 0-6 5-39 4 81 1 18 1 10-1 14-1 12 0 47-2 4 3 74 0 39-2 0 2 90-3 31 1-36 7-167 1-81-1-13 0-3 2-22-2-61-2-6 1 78 8 80-4 63 0 75 4-97 5-132-3-25 8 27 3 60-4 13 0 14 2 164-3-288 8-4 7 1-1 50 2-47 3-68 4"/>
<path fill="url(#pu0)" stroke="url(#pu0)" stroke-width="1.2" fill-rule="evenodd" d="M2745 236 2781 231 2805 234 2829 243 2865 249 2895 263 2913 267 2925 276 2945 284 2973 314 2976 320 2981 350 2980 362 2971 380 2974 398 2955 431 2936 434 2907 451 2889 453 2871 462 2823 474 2799 484 2781 482 2757 487 2745 486 2703 471 2687 458 2653 422 2648 386 2650 368 2647 350 2648 338 2659 314 2680 278 2697 266 2715 249ZM2772 242 2763 245 2745 246 2724 254 2685 284 2667 314 2655 344 2656 386 2660 416 2663 422 2703 457 2721 468 2751 477 2805 474 2829 460 2847 457 2889 444 2907 441 2925 430 2944 422 2949 417 2958 398 2968 350 2965 320 2958 308 2937 292 2913 280 2895 274 2871 261 2859 258 2835 256 2805 242Z"/><path fill="url(#pu1)" stroke="url(#pu1)" stroke-width="1.2" fill-rule="evenodd" d="M2775 241 2805 242 2835 256 2859 258 2871 261 2895 274 2913 280 2937 292 2958 308 2965 320 2968 350 2958 398 2949 417 2944 422 2925 430 2907 441 2889 444 2847 457 2829 460 2805 474 2751 477 2721 468 2703 457 2663 422 2660 416 2656 386 2655 344 2667 314 2685 284 2724 254 2745 246 2763 245ZM2772 254 2763 257 2745 256 2727 262 2709 274 2691 291 2674 320 2664 344 2667 401 2673 416 2723 458 2745 466 2763 467 2799 466 2829 449 2846 446 2859 440 2889 431 2907 429 2928 416 2933 410 2936 398 2954 368 2949 314 2943 308 2913 290 2871 273 2835 267 2805 252Z"/><path fill="url(#pu2)" stroke="url(#pu2)" stroke-width="1.2" fill-rule="evenodd" d="M2775 253 2805 252 2835 267 2871 273 2913 290 2943 308 2949 314 2954 368 2936 398 2933 410 2928 416 2907 429 2889 431 2859 440 2846 446 2829 449 2799 466 2763 467 2745 466 2723 458 2673 416 2667 401 2664 344 2674 320 2692 290 2715 269 2732 260 2745 256 2763 257ZM2764 266 2739 268 2721 276 2711 284 2697 301 2673 344 2672 350 2673 368 2680 404 2727 449 2739 454 2769 459 2781 460 2793 457 2811 449 2829 436 2860 422 2912 404 2942 368 2943 356 2938 338 2936 320 2931 313 2907 297 2877 288 2835 279 2811 266 2793 266 2781 263Z"/><path fill="url(#pu3)" stroke="url(#pu3)" stroke-width="1.2" fill-rule="evenodd" d="M2769 265 2781 263 2793 266 2811 266 2835 279 2877 288 2907 297 2931 313 2936 320 2938 338 2943 356 2942 368 2912 404 2860 422 2829 436 2811 449 2793 457 2781 460 2769 459 2739 454 2727 449 2680 404 2672 362 2673 344 2697 301 2715 280 2739 268ZM2759 278 2745 280 2715 296 2696 326 2683 356 2683 362 2691 398 2697 406 2727 434 2769 448 2781 449 2811 434 2847 413 2883 401 2907 386 2919 374 2922 362 2919 342 2903 314 2897 308 2883 302 2829 292 2811 282 2793 280 2781 276Z"/><path fill="url(#pu4)" stroke="url(#pu4)" stroke-width="1.2" fill-rule="evenodd" d="M2763 277 2775 275 2793 280 2811 282 2829 292 2883 302 2897 308 2903 314 2919 342 2922 362 2919 374 2907 386 2883 401 2847 413 2811 434 2781 449 2769 448 2727 434 2697 406 2691 398 2683 362 2683 356 2696 326 2715 296 2745 280ZM2771 296 2734 308 2707 338 2705 350 2705 374 2709 392 2715 402 2733 417 2762 428 2775 430 2823 412 2841 401 2866 392 2872 386 2873 380 2865 368 2868 350 2853 328 2835 323 2805 299 2781 293Z"/><path fill="url(#pu5)" stroke="url(#pu5)" stroke-width="1.2" fill-rule="evenodd" d="M2775 294 2787 294 2805 299 2835 323 2853 328 2868 350 2865 368 2873 380 2872 386 2865 393 2841 401 2823 412 2775 430 2762 428 2733 417 2715 402 2709 392 2705 374 2705 350 2709 335 2733 308ZM2771 320 2757 331 2738 338 2732 344 2730 350 2745 380 2769 400 2781 403 2793 398 2799 393 2805 380 2811 374 2823 369 2826 362 2825 356 2820 350 2787 323 2781 319Z"/><path fill="url(#pu6)" stroke="url(#pu6)" stroke-width="1.2" fill-rule="evenodd" d="M2775 319 2787 323 2811 342 2825 356 2826 362 2823 369 2811 374 2805 380 2799 393 2793 398 2781 403 2769 400 2745 380 2730 350 2732 344 2738 338 2757 331 2769 321Z"/>
<path class="dt" d="m2943 99-188 19-216 19 251 1-58 0-8 8 60-1 29 3 9 1 28-4 67 0-50 5-41 5-62 0-11-3-5-2-27 8 23-1 26 1 40-2 3 1 17 1 31 1 14 2 20-1 7-1-30 4-44 3-24-4-6 3-22-1-12 2-12-1-44 5 26 2 14 1 5-5 19 2 2-1 35 1 7 1 13 1 2-2 37 1 71-1 59 2-61 4-28 0-81 2-3 1-2-4-4 2-5 1-28-3-5 0-3 4-10-4-4 0-20 0-1 2-24-3-54 2 34 8 20-4 38 5 3-3 1-2 16 5 12-3 7 3 13-5 13 2 35 2 12-1 2 0 24 1 73-1 22 8-46-2-10-1-5-1-10-1-23 2-3 1-3 1-16 1-25-4-17 4-11 0-6-2-2-2-2 2-3-3-2 0-6 1-8 0-18 0-8-1-1 2-12-1-6-1-3 5-20 0-9 0-3-4-7 2-13 1-10-2-1 3-20-1-4-2-51-1 96 8 7-3 3 1 21 1 6 1 16-3 0 5 3-2 6 1 10 1 2 0 2-5 2 5 10-4 6 4 5-4 8 0 15 1 12 3 1-5 9 2 1 0 6 0 0 1 9-3 2 4 4-2 24-2 2 4 21-4 30 4 7-3 26 4 29-1-7 7-121-2-16 1-12-3-12-1-6 5-2-2-4-1-1 0-8 2-10 0-3 0-13-1-2 1-4-3-2 0-13 4-6-4-3 3-2-4-5 5-2-3-8 3-9-2-2-2-4 4-6-4-23-1 0 1-10-1-21 1-9 8 27-2 4 0 4 2 1 0 2 1 9 1 7-3 2 1 3-2 5 2 3-1 2 0 0 3 2-2 5 0 1 2 1-4 1 0 1-1 16 4 6 0 4-3 12 2 2 0 3-1 15 0 6 2 3-2 3-2 0 2 7 2 13-3 1-1 3 4 2-2 9 0 5 1 15-2 1 4 2-2 0 2 5-2 1 2 5-4 5 3 4-1 12-2 6 0 1 3 41 0 2-4 57 3-10 8-45-2-2 1-3-4-10 1-10 4-5-4-11 2-1 1-10-4-5 0 0 2-14 2-4 1-2-4-5 0-4 2 0 1-22-3-19 4-1-1-1-2-4 3-1-2-6-3-3 0-1 1-2-1-8 0-3 2-1-2-1 1-9 4-6-3-2 0-3 0-1-1-3-1-2 2-4-1-4 0-12 1-1-1 0 2-8-3-9 0-4 1-4 1-10-2-1 5-29-1-5 0-14 0-8 1-8-3-27 0 0 3-10 3 7-2 28 0 1 0 6 5 20-3 13 3 6-2 12-1 4-1 2 0 13 2 1 1 2-2 18 2 1 1 1 0 9-5 0 3 2-2 1 2 3-2 1 4 3-5 1 5 2-4 5 2 3 0 2-2 1-1 4 5 2-3 0 1 1-2 1 2 2-2 4 3 8-1 2-2 2 2 2-2 0 2 5 1 0 1 3-2 2-2 10 1 3 3 1-4 4-1 18 1 6 0 2 1 7-1 4-1 6 4 7-2 3 0 7 2 1-3 5 2 42 1 17 6-14-4-9 3-10 2-6 0-5-1-12-4-4 0-3 4-4-1-8-2-3 1-6 0-3 2-4-1 0 1-2-3-1 3-1-1-7 2-4-4-2 3-4-3 0 2 0 2-3-3-6-2 0 4-7-2-6 0-1-2-3 1-6-1-1 4-3-3-1 2-10 2-1-3-5 2-4 1-2-5-7 3 0 2-3-4 0 2-5-2-1 1-1 2 0 1-1-2-5 2-2-3-1 3-3-5-3 2-2 1-1-3 0 1-2-1-2 4-3 0-7 0-1-4-1 3-4 0-2-3-2 2-7 1 0 1-1 0-1-2-2 2-2-4-5 4-2-1-1 0-2 2-6-5-6 2-18 2-3 0-6-4-10 3 0 2-36 1 14 1 8 1 1-2 9 5 11-4 5-1 6 4 6-3 5 0 6 4 2-3 8 0 3 1 11 1 4-2 4 2 2-1 2-3 0 4 3-3 1 0 2-1 0 1 0 1 4 1 4 0 2-3 5 0 0 1 2 2 0 2 2-5 1 3 1 0 6-2 4 1 3 3 1 0 1-1 0 1 5-5 0 2 2-1 2 4 1-2 4-1 1-2 0 2 1 0 1 0 2 2 1 1 1-1 7-4 0 2 1-2 0 3 0 1 1-4 1 1 4-1 1 0 8 5 1-2 1-1 6 3 3-1 1-2 1-1 0 2 2 2 2-3 3 0 9 2 2-2 1-2 2 0 0 3 4-3 1 5 1-4 4 2 1 0 8 1 5-2 5 2 2 0 6-2 1 2 2 0 6-4 0 3 1 1 2 0 5 1 12-3 1-1 9 1 1 1 3 2 8-1 1-1 3 1 28 0 20 0 22 0 18-3-35 9-23-4-17 2-1-2 0 4-13 0-7-4-7 3-1-2-4 3-5-1-3-1-1 1-1 2-8-1-5-3-2-1-1 2-1-2-2 3-2 2-3-1 0 1-3-5-3 0-3 0 0 2-6 0-1 1-1-2-2 4-1-3 0 1 0 1-2-3-17-1-3 3-7 2-2-5-1 3-2 2-4-2-4 2-3-5 0 5-2-3-2-2-2 0-1 4-2 0-1 1-6-2-3-1-1-2-4 3-4 1-3-1-5-2-1 0-2 2-1 0-2 0-1 0-1 0-3 2-1-2-2 2-1-3-1-2 0 4-10-3-3 1-2 3-2-3-4 3-2-4 0 1-1-1 0 1 0 2-2 1-1-4-2 4-1-3-2 1-15-2 0 3-2-3-1 3-3 1-2 0-2-1-3 0-5-1-1-1-1-2-1 4-3-2-5 0-2 1-4 1-6-3-2 3-1 1-4-3-11 0 0 2-8-1 0 1-9-2-5 2-8 0-12-1-10 8 22-3 4-2 0 1 4 2 33-3 6 4 12-2 1 0 2 0 3-1 0 1 0 3 1 0 5-3 1 2 1 1 2-1 1 1 1-3 4 0 0 2 4-3 7-1 1 1 0 2 3-2 2 2 1 0 2 2 1-4 0 4 5-1 2 1 1-5 1 4 1-3 8 2 0 2 1-1 1 1 1-3 5-2 2 0 1 2 1-2 2 2 1-1 1 1 0 2 1-4 6 3 2 2 1-2 2 2 1-2 0 2 5-1 2 1 1-5 4 0 2 3 5-3 1 4 2-3 0 3 1-2 2 2 1 0 3-4 1 0 0 1 2 3 3-4 1 0 0 1 5-1 4 5 1-2 2 0 1 0 1-1 8 3 1-2 0 1 1-4 0 2 2 2 2-3 0 1 1 0 1 0 2-1 4 1 4-2 1 4 1 0 1-2 1 2 2-4 1 1 1 2 2-3 1 0 4 0 8 4 9-1 0 1 2-1 12-1 0 1 3-1 3-1 3 0 5 0 3-1 2 2 16-1 4-1 0 5 4-2 5 2 3-1 6 1 9-5 17 5 4 4-19-1-1-2-8 5-14-3-19 2-1-4-2 4-2-4 0 5-1-5-4 4-1-3-4 3-2 1-1-2-4-3-5 5-3-5-1 3-8-3-3 0-1 2-6 1-7-3 0 3-1-3 0 3 0 1-1-2-2 3-1-3 0 2-1 0-1-3-1 4-6-2-3-1-2 3-2-2-5-1-4 0 0 3-1-2 0 2-2-1-1 0-1-2-1 2-3-4-1 2-3 1-3-3-5 0-2 0-2 3-3-1 0 1 0 1-6-1-1-3-2 2-1 0-2 2-1-4 0 1-1 0 0 3-1-1 0 2-1 0-1 0-2-2-3 1-2 0 0 1-2-5-1 1 0 3-1-2 0 2-4 0-2-3-1 1-2 2-5-2-1 3-1-2-5-3-3 1-1 4-1-4-1 2-3-1-7-2 0 4-2 1-1-1-1-2-7 1-1-3 0 1-2 4-4 0-1-4-4 2 0 2-1-3-1 1-3-3-1 4-2-4-3 4-1 1-5-5-8 2-1 2-2 1-8-2-3-2-4 1-1-1-4 2-3 0-4-1-3 1-3-1-3 2-3-3-11 4-6-2-6-2-9-1-18 3-11 4 2 1 53 1 6-2 6 1 0 3 2 0 5-5 5 2 1-1 0 2 2-2 1 2 2-2 0 4 2-4 0 1 1 1 1 2 1-5 1 0 1 3 1-1 1 2 2-2 5 2 5-2 1-1 0 2 1 1 8-4 1 1 1 2 3 1 2 1 2-5 6 2 3-2 0 4 6-2 3 1 2-3 1 0 1 2 1 3 4 0 3-4 1 0 0 1 3 1 0 2 1-5 5 2 2 0 3 3 2-2 2-1 0 1 2-3 1 0 2 2 2 3 1-3 1 0 6 1 2 2 1-1 0 1 1-2 6-3 2 5 2 0 2 0 1-2 1 0 5-2 9 0 6 2 1 0 1-1 4 1 3 1 12-2 1 0 2-2 0 4 1-1 2-1 1 0 1 3 2 0 2-1 0 1 1-5 4 4 5-2 2 2 1 0 1-3 1 4 2 0 2-1 1 1 1-5 5 0 5 3 1-3 3 2 0 2 2-4 0 3 4-2 0 2 2 0 1-1 2-1 2 0 2 4 1-5 5 0 0 1 0 2 1 1 1-1 2 2 2-4 3 1 1-1 3 0 10 3 1-1 2-1 0 3 5-4 0 3 1-1 2 2 2-4 9 2 1 1 2-1 0 1 4-1 5 0 7 1 4-1 9 0 12-1 63 2-32 4 0 1-18-3-14 3-2 0-23-2-4 0-1 2-5-3-1 0-1 2-4 3-5-4 0 2-2-1-1 2-2 1-2-2-1 0-5-3 0 4-18 0-6-3-1-1-3 4-1-3 0 4-2-1-6 1-1-1-1 1-9-3-2-1-2 0-4 1 0 3-1-2-2-2 0 4-3-1-4-2-3-2-3 5-1-4-3 1 0 1-5 2-1-2 0 2-4 0-1-4-1 2-1 1-3-4-3 2-1 1-2 2-2-2 0 2-1-1-3-2-3 2-4-2-1 1-5-3-3 4-1-1 0 1-1-2 0 2-1-1-1 1-6 0-2 1-5-4-1 0-1-1 0 4-2-4-5 0 0 2-2 2-1 1-4-4-2 2-2-1-1 0 0 3-4 0-1-5-1 3-2 2-1-4-1 2-10-2 0 1-3-2-2 2-2 2-3-3-2-1-3 5-2-4-2-1-2 1 0 2-1 0-2-2 0 4-3-1-1-1-4 2-1-4-3 1-2-2 0 5-2-5-2 2-2 2-5 0-1-2-3 0-3 2-2 0-3-1 0 1-2-4-1 1 0 4-8-1-4-4-2 4-2 1-10 0-2 0-3-5-3 3-1 1-2-1-5 0-13-2-2 2-9 0-5-2-42 10 19-1 4 1 9-2 6-1 16 2 7-4 6 5 4 0 3-4 2-1 2 3 1 2 8-4 2 2 0 2 2-2 1-2 4 0 3-1 9 5 1 0 3-4 6-1 1 5 3-4 3 4 1-2 2-2 1 0 2 2 2-2 1 2 3-3 2 5 1-1 1 0 1-2 2-2 1 3 2-3 3 5 2-4 4 2 3 0 2-2 2 0 1 4 1-4 8 1 0 1 2-2 0 3 1-2 2 1 1-2 3 3 3 0 4-1 2-3 0 4 1-1 3-1 1 3 7-1 1-1 0 1 1-1 3 2 4-3 1 3 1-5 0 4 1-2 8 2 2-2 1 3 5-2 0 2 3-1 2-4 2 0 3 0 0 5 4-2 4-1 0 3 1-1 1-4 0 3 2 1 6-3 1 0 1 0 1-1 4 2 0 2 1-3 0 3 3-1 2-1 1-1 1 2 1 1 2 1 1-2 1 2 4-3 1 2 2-4 2 0 0 2 2-2 3 4 1 0 3 1 1-5 1 0 3 5 1-5 1 3 1-2 2-1 1 5 1-3 0 3 4-2 1 0 2-3 3 1 1 0 2-1 0 2 2 1 1 2 3-3 3-1 2 4 4-1 2 0 1 0 1 0 6 1 3-5 3 4 2 1 12-4 2 2 8-3 4 3 8-3 29 4 14 0 3-1 0 2 23-2 12-2-33 7-4-2-6 5-2-5-25 1-13 1-4 3-23-2-1 1-4 0-1-4-6 2-4 3-3-3-6-2-1 5-2-5-4 1 0 4-1-5 0 5-3-3-1 0-1-2-2 0-2 0-2 2-5-1 0 3 0 1-2 0-4-1-1-1-2 1-2-1-1-1-3-1-2 1 0 1-1-2-5 1 0 2-1 1-1-2-3 1-1 0-1 1-2-1-5-3 0 3-7-4-5 0-2 5-2-4 0 1 0 1-1 1-1-2 0 1-4-3-4 5-3-5-1 3 0 2-4-3 0 3-1-1-1-1-2-1-2 3-5-4 0 1-3-1-1 2 0 2-4-1-3 0-1 1-2-4-3 4-6-5 0 5-2-2-1 1-2 1-1-5-1 1 0 3-1-1 0 1-2-2-1 0-2 0-1 3-1 0-4-3-1 1 0 1-2 0-1 1-2-3-3 1-1 1-6-4 0 1-8 0-1 2-2-3-1 1 0 1-1 0 0 1-1-3-2 4-1-2-1 1-3-2-1-1-2 0 0 1-4-1-1 3-8 1-1-2-2 2-1-3-3-1-2 0 0 4-4-4 0 4-8-2-2 2-1-3 0 3-1 1-6-5-2 1-1 3-1 1-4-2 0 2-1-3-2-1-2 4-6 0-1-1-2 0-2-2-7-2-2 1-5 0-1 2-1 1-10-4-6 5-9-1-8-3-26 0-5 7 15 0 41 3 4-5 1 2 3-1 0 3 1-4 0 5 3-3 2-1 0 2 1-2 2 0 6 0 1 2 1 0 1-1 2 1 3-2 0 1 1 2 2 1 1 0 5-4 0 4 2-5 1 4 2-4 1 3 1-1 2 1 8-3 1 1 1-1 0 1 1 2 0 1 2 1 1-4 0 4 3-2 4-3 2 5 1-1 0 1 2-5 0 5 3-4 2 0 4-1 1 1 0 4 1 0 4-5 1 5 3-4 0 2 1-3 0 1 2 1 3-1 2 0 0 2 1-3 1 1 3 4 2-4 1 0 4 0 1 4 2-3 4 2 3 0 0 1 1-2 1-1 0 1 0 2 4-1 3 1 3-1 1-3 0 2 4-2 5 2 2-2 1-1 3 2 0 1 2-2 0 4 3-5 3 3 1 0 0 1 1 1 1-2 4 1 12-2 0 2 2-3 1-1 5 0 6 2 1 1 4-3 3 1 0 2 1-2 0 1 1 1 3 2 3-2 0 1 0 1 3-4 2 2 3-3 0 5 3-3 4 0 1 3 4-4 1 4 2-1 3-2 2-2 3 0 0 2 1 2 5-4 1 2 6 0 1-2 3 0 2 3 3 0 5-1 0 3 1 0 1-4 0 3 5-1 3-3 1 2 0 1 0 2 2-4 0 1 7-2 0 1 0 2 1-2 0 3 2 1 1-3 4 3 1-1 1 0 1-3 2-1 0 2 3-2 1 5 2-2 5-3 1 3 1 1 1-1 1 2 1-3 2 3 1-1 5 1 2-1 16-1 4-1 10 0 4 1 10-2 5 0 9 3 9-1-4 3-30 2-3 0-3 3-6-1-7 0-2 0-5-3 0 2-3 2-2-1-2-1-1 2-2-4-1-1-5 5-3-4-4 4-2-5-3 1-2 1-1 1-3-2-2 2-3 1-1-2-1 2-6-4 0 3-2-1 0 2-2 1-1 0-4-5-1 3-7 2-2-4 0 4-1-4-1 2-3 0-1-3-1 2-3-2-1 5-2-5 0 5-1-3 0 3-1-3-5 2-1-1-3-3 0 1-2-1-1 4-2-1-2-3-1 5-2-1-1-2-4 3-3 0-3-3-1-1 0 4-1-2-2-2-3 1 0 3-1-2-4 1-1-4 0 2 0 2-1-2 0 2-4-1-1 1-1-3 0 2 0 1-1-1-1-1-2-1-1 4-1-2-2-1-8-2-2 1-1 3-2-3-2 4-2-5-1 0 0 4-3-3 0 2-2-3 0 1-1 0 0 2-1-3 0 5-1-5-5 0-1 3-2-2-4 4-4-3-4 3-1-1-5 1-4 0-6-4-1 1-2-1 0 2-2-3-3 2 0 3-7-3-6-2-1 3-1-1-2-1-3 4-4 0-3-3 0 3-2-2-2 2-3 0-6-2-2-2-2 1-2 1-1-1-1 2-4-1-4 2-4-2-1 2-4-4 0 1-2-2-6 2-1 0-1 3-2-4 0 3-2-3 0 1-2-1 0 3-3-1-3-2-2 2-2 1-3-1-4-2-3 4-2-2-1 2-8-1-2-2-7 1-5 1-15-2-20 2-56 7 64-4 5 3 1-2 11-1 6 2 10-2 2 1 2 1 6-1 2-1 1 3 2-1 2 1 1-4 0 5 2-4 1 1 1-1 0 1 1-2 3 5 4-1 3-4 0 3 2-3 0 1 1 4 1-5 0 1 2 4 2-5 0 4 1 0 2 0 1 0 3-3 0 2 0 1 2-2 1 3 1-1 0 1 7-1 6-3 0 2 3 2 1-5 1 2 1 3 2 0 2 0 3 0 7-1 1 1 4-4 1-1 0 3 3-1 3-1 4 0 0 1 3 2 1 1 1-5 0 4 1-2 1 0 1 1 0 1 2 1 3-4 1 2 3-3 3 3 0 1 4-2 1 0 1-2 5 1 2 4 2-4 1 0 1 0 0 3 0 1 1-5 0 5 3-4 2-1 1 0 0 1 0 1 2 3 1-1 3 1 1-2 0 1 3-3 1 0 0 1 3 1 2 0 0 2 6-3 2 0 2 2 2-3 1 0 0 3 1 0 1-4 0 2 2-2 1 5 2-2 3-2 0 4 1-5 1 1 6 3 4 1 1-4 0 4 3-4 1-1 4 1 1 2 1-3 0 1 7 2 1 2 1-4 3 0 1-1 1 3 3 2 2-5 3 5 1-4 3 2 5-2 2 1 3 3 2-3 6-1 0 4 3-1 2-4 2 0 1 1 0 4 1-1 1-1 0 2 1-4 4 2 2 0 4 0 1-1 1 0 1-2 8 0 2 3 4 2 1-2 4-1 3 2 3-3 5 0 8 4 5-3 5-1 3 0 4 4 5-4 2 3 8-2 6 0 1-2 6 5 14-3 37 2-44 5-16 2-7-4-4 1-2 2-4 0-13-4 0 5-1-4-1 3-3 0-2-3-2 3-1-3 0 4-1-5 0 2 0 1-2-3-3 3-2-1-2-1-5 1-2 3-1-4-2 1 0 3-5-5-1 3 0 1-2-1-1 2-2-2-2 0-3 2-1 0-1-1 0 1-5-2-2-2-9-1-3 0-2 5-1-2-2 0-1-3 0 2-1 1-1-3-1 1-2 3-3 0-4 1-1-1-2 0-1-4 0 2 0 2-1-2-1-2 0 4-4 1-7-1-1-4 0 3-1-3-1 1-4-1 0 2-7-2-2 3-1-2-2 3-4-1-1-2-4-1-2 3-1 2-2-4-1 0-1-1-1 0 0 3-5 1-2-3 0 2-3-3-1 0-6 0 0 1-4 0-1 1-1-1-1 1 0 1 0 1-3-2-6 2-1-4-2 2-3 3-1-5 0 4-1-3-2-1-7 1-2 1 0 1-1-2-1 3-1-1-1 1-4-4-1 2-1 0-1-2-3 0-4 1-3-1 0 4-1-1-1 2-1-3 0 1-2-1-1 3-2-3-2 1-4 2-2-4-4-1-2 4-2-4-2 4-3-1-2-3-1 1-4-1-1 5-2 0-1-4-4-1-3 1-1 2-1-1 0 1-2 1-2-4-1 5-7 0-3-2-2 2-2-2-2 0-1-1-5-1 0 1-1-2-4 3-5-2-4 4-4-1-2-2 0 2-2-4-4 4-2-3-4 3-1-4-1 5-5-4-1 0-1 0 0 2-6 2-4-4-1 4-2-2-5 2-2-5-10 1-17 4-6 5 11-3 8-1 10 1 8 0 4-1 9 1 0 3 1-3 5-1 3 1 1-1 2 4 1-2 8 0 0 1 4 1 1-1 1 1 2-2 2 2 1-3 0 2 7 1 1-3 1 3 1-2 1-1 1 2 3 2 2-3 1-2 1 1 1 3 3-4 0 3 0 1 7 0 1-2 2-2 3 0 0 4 1 1 1-3 5-2 1 4 1-2 0 2 1-2 3 3 4 0 1-3 1 0 0 1 1 2 2-1 6-3 1 0 3 0 2-1 1 0 3 4 2-1 1 2 1-3 1 1 0 1 2-4 0 4 2 1 1-5 1 0 4 0 0 2 5-1 0 3 4-4 0 2 3 1 2-1 2 2 1 1 2-3 3-2 0 3 2 1 1 1 1 0 2 0 5-4 3 1 4-2 1 3 5-3 0 3 2-2 0 1 1-1 0 1 8 2 1 0 3-2 3 1 2 2 2-5 0 2 3 0 5 2 1-3 0 3 1-4 0 3 4-2 3 0 2 4 9-5 0 3 2-2 3 1 1 1 2 2 2-5 0 3 3-1 0 2 1-4 0 3 1 1 1-4 0 1 1 2 2-1 1 1 3 0 3 1 1 1 1 0 1-4 1 0 5 1 2 2 6-3 1 4 2-1 2-4 3 1 1 4 1-3 0 2 2-2 4-2 1 3 3 1 1 0 2-1 1-3 0 5 5 0 1-1 1-3 1 4 1-3 2 1 4-2 1 1 1 2 1-4 0 1 1 0 3 0 3 0 1 1 3 2 1 1 1-4 0 2 1-3 3 2 1 3 4 0 4-5 1 1 2 0 0 1 1 0 0 1 1-1 1-1 4 1 5-2 3 1 9 2 1 2 3-1 10-3 11 0 1 0 33 2 27 7-30 1-22-4-6 4-3-2-14-1-4 0-3 0-1 0-1 0-2 1-8-2-1 3-2 1-2-3 0 3-1-2-1-3-8 2-2 3-2 0-2-4-1-1 0 1-3 2-5-3 0 1-1 0-5 3 0 1-1-3-1 2-2 0-4 1-4-2-6-2-4 2-1 2-3-1-2-1-1-3 0 3-1 0-2-2 0 2-3 1-10 1-1-3 0 3-1-2-2-1 0 1-2 2-1 0-1-1-5 0-1-2-3 1-3-1-1-1-1 2 0 1-4-1-2 1-1-3-1 1-1-2-3 1-1 1-4-2-6 0-5 0-1 3-1-3 0 2-1 3-1-1-4-1 0 2-2 0-1-2-4 2-1-2-1-2-3 1-3-1 0 3-2 1-3 0-1-1-1 0 0 1-2-1-2-1-1 1-1-4-2 5-3-4-4 1-1 1-1-2 0 4-1-1-3 1-4-2-4-2-1 1 0 2-4-2 0 3-2-2 0 1 0 1-2-1 0 1-4 0-3-1-2-4-1 1 0 1-2 0-3 0-2 0-1 2-2 0-1-2-4-2-1 3-3-1-1-2-1 2-1 0-1 3-4-1-1-1-1-2 0 1 0 3-1-2-1-1-1 1 0 1-2-3-2 0-2 1 0 3-2-1-4 1-2-3 0 3-3-4 0 3 0 1-2-2-1-2-1 3-1 0-1-1-2 1-2-2 0 2-1 1-6-5 0 3-1-1-3 1-1 0-4 2-2 0-1-2-2-1-1-1-2-1-2 1 0 4-1-1-4-3 0 1-4 3-3-3-1 1-1-1-1 3-1 0-1-3-5 0-1 0-5 3-2-1-1 1-2 0-2 0-1-1-8-3 0 3-7-1-5 1-1 1-1-5 0 2-1 3-2-4-5 0 0 3-4-4-9 1-6 1-12-1-63-1 50 11 6-5 6 5 6-5 13 5 9-4 7-1 6 2 6-1 1 0 0 2 4-1 3-2 1 0 1 3 1-3 5 1 3 1 3 2 3-1 1 2 3-5 0 3 4-2 0 3 2-1 2-1 1 2 2-2 1 0 1-1 4 0 0 2 1 2 1 0 9-3 5-2 6 4 3-3 0 3 2-2 2-2 2 3 0 2 2-3 2 0 4 1 6-3 7 4 1-2 2 2 4-4 0 2 1 1 1 2 5-4 0 2 1 1 1 0 3 0 2-3 0 1 5 3 1 0 1-1 1-2 4 2 1-4 3 0 0 1 0 2 3 2 3 0 3-2 5 1 0 1 1 0 10-3 1 0 0 3 2-3 1 2 2-2 1 2 5-4 0 3 5 1 9-4 0 2 1 2 2-2 4-1 0 1 2 2 2-1 4-2 0 2 0 2 3-4 0 1 1-2 1 0 2 2 0 1 1 0 2-3 2 1 0 1 0 2 1-1 1-3 0 2 3 3 4 0 3-4 1-1 9 5 2-4 3 3 1 0 2-1 5-2 3-1 1 3 2 2 1-5 0 4 2-2 0 1 4 2 3-2 1-1 1 1 0 1 0 1 2-4 7 0 0 1 2-2 0 4 1-4 3 2 0 1 1 2 4-4 2 3 1-4 0 3 1 2 1-5 0 3 1 1 3-1 1-3 0 5 2-3 0 1 6 2 2-4 1-1 0 2 2-1 0 4 2-5 0 3 2 2 3-3 2-1 0 4 1-1 3 1 2-1 1-4 2 4 2 1 1-3 0 3 3-2 0 1 3 0 5-1 2 0 2-3 3 1 0 1 7 2 2-2 3 1 1 0 0 1 9 0 7 1 29-4 5 4 3-5 2 1 24-1-14 9-12-2-7 0-16-1-11 3-4-3-7 2-6 1-7-3 0 4 0 1-1 0-2-2-3 2-1-5-2 0-5 3-1-1 0 3-3-4 0 2-3 0 0 2-1-2 0 2-4-3 0 1-3 0-1-2 0 3-1-4-4 0 0 4-2-2-5 3-1-1-2-4-3 3 0 2-2-4-6 2-1-2-1-1-1 2-1-2 0 1-1 0-1-1 0 1-1 1-4-2-3 0 0 1 0 1-1 1 0 2-3 0-1-3-1-1 0 2-2 0-1-1-1 1-1 1-1-2 0 1-3-1-3 0-1 1-2-2-1 0-6 1-2 1-5-1-3 3-5-4-1 0-2 2-1 0-1-1 0 2-2-3-1-1-2 1-1 3-3-4-1 0 0 2-2 2-1 1-3-5-4 2-1 0-1-2-2 5-4-5-5 2 0 3-3-2-8 2-1-4 0 4-5-2-2 2-3-4-2-1-2 5-2-5 0 4-2-4-4 5-1-5-6 3-1-1-1 0-2 1-2 2-2-5 0 5-3-4-2 3-1-1-6-2 0 2-1 1-1-4-3 3-1 0-2 1-1 1-1-4-3 2-1-3 0 5-1-3 0 3-1-5-2 4-2 0-2 1-1-5-4 0 0 2-2 1-4 0-4-1-2-1 0 4-1-4-6 4-4-5-4 3 0 1-2-4-1 1-1 0-2-1-10 5-4-2-7-2-2 2-1 2-1-5 0 1-10-1-3 3-1-3-4 0-1 4-1 0-1-4-2 3-2 2-3 0-1-1-3-4-3 2 0 1-3 2-5-1-1 1-2 0-3 0-2 0-7-4-1 2 0 2-8-1-10-4-51 0-6 4 19 5 19-3 15 5 4-2 8 0 1-3 13 0 1 1 2-1 1 3 4-2 4 2 2 0 2-1 4 0 1-1 5 0 2 0 3 2 0 2 1-5 0 4 1-2 1-2 2 1 1 0 2 1 3 1 0 2 4 0 5-4 0 4 2-4 0 1 2-1 0 4 1-2 3-1 2 1 3-3 0 3 0 1 1-3 5-1 0 2 3-2 0 1 0 4 5-5 0 4 2 0 1-1 1 0 2-3 3 5 1-1 4 1 2-4 2-1 1 2 5 2 3 1 1-1 4-1 2 0 2-1 2 2 1-4 1 3 4-3 1 2 0 1 7 1 0 1 2 0 2-2 1 1 1 0 1-4 0 5 4-3 1 3 6-2 1 0 0 2 1-5 2 3 1-3 0 3 1-2 3 1 2 2 1-2 5 0 0 1 1-2 2-1 1 5 2 0 3-3 1 1 1-2 1-1 0 3 3-2 1 3 1-4 3 0 4 5 2-3 1 3 1-3 4 1 3 0 2 0 3 0 3 1 1 0 2-4 3 4 1 1 2-1 1-3 1 4 3-3 1 0 0 3 4-4 0 4 6-3 0 2 1 0 5 0 4-3 5 3 3-1 1 1 5-2 1 2 1-2 3-2 3 3 4 1 1-4 0 3 1 1 3-1 1-2 10-1 0 4 2-2 7 2 3 1 1-2 5-2 1-1 1 3 5-1 5-1 4 1 3-1 2 1 2 2 1-4 0 4 4 1 2-3 0 1 2 2 2-2 2 2 3-4 3 3 5 1 2-3 3 3 3 0 3-3 4 2 18-3 5 2 27-2 18 7-46-2-16 3-8 0-3-2 0 4-4-3-3 0-3 2-3 0-3-2-2-2-3 2 0 3-1-2-8 0-3 1-1-4-2 5-8-3-1 0 0 2-1-4-2 1-3 3-1-2-5 1-4-3 0 2-3 1-1-1-2-1-2 4-2-4-2 1-10-2-3 4-1 0-1-4 0 3-1-3-1 4-2 1-2-5-1 4-6-2 0 3-1-5-2 0-1 3-4-1-1 0-2 2-1-1-5 2-1 0-3-3-1 0-3 2-2-3 0 2-1-1-2 3-1-5-1 5-6 0-2-3-1-1-3-1 0 4-4-2-1-2-1 2-2-2 0 2-8-2 0 5-3-3-2 1-4-1-2 0-1 1-4-3-2 0-2 3-1 0-2 2-2-1-1 1-1-3-1 1-2-2-2 4-2-4-5 0 0 4-3-2-6 1 0 1-2-1 0 1-1-3-2-1-2 3-2-3-3 4-1-3-2 3-4-5-2 0-3 2-1 2-1-3-2-1-2 0-1 0 0 3-2-3 0 4-4-1-7-2-2-1-3 1-1 4-2-3 0 2-1-2-9-1-1-1 0 2-1-1-4 2-2 1-1-4-3 1-1-1-1 1 0 3-11 0-3 0-7-2-1 3-2-3-1-2-1 2-4-2-4 5-2-4 0 2 0 2-1 0-1-1-2-2 0 2-1-3-8 2-1-1 0 1-1-1-1-2-1 2 0 3-8-5-1 5-3-4 0 1 0 2-1-1-3 0 0 1 0 1-1-5-1 2-4 0-6 1-1-2 0 4-7-4-2-1-2 1-1-1-9 2-6-2-12 3-32-2 2 8 34 1 2 0 3 1 10-4 16 0 5 4 2-1 5-3 0 2 0 1 1-3 6 2 3 1 2-2 1 0 3 0 1 0 0 2 1-2 1-2 6 3 1 2 4-1 1-2 0 2 0 1 2-3 1 0 1 2 3-2 5 2 3 1 2 0 3-4 0 1 0 3 2-5 0 3 4-1 1 2 6-1 2 1 1-4 0 1 4 0 1 2 4-2 2 0 2-1 0 1 2-1 0 5 2-4 3-1 3 0 1 4 2-4 1 1 3-1 1 5 3-4 2 2 4 2 2-1 1-2 1 1 10-1 2 1 2-2 2-1 1 3 1 2 1-3 2 0 0 3 1-5 0 2 1-1 0 1 1 0 0 3 1-2 2 0 2 0 3 2 2-4 2 0 2 4 3-2 2 0 3-3 1 0 0 4 2-4 1 0 3 3 1 2 1-2 4-2 2 0 4 4 3-1 1-4 0 1 2-1 1 2 1 0 11 2 0 1 3-1 2 0 3-4 2 0 2 1 1-1 5 2 1-2 2 0 0 3 2 1 5-4 0 5 3-4 1 3 10-4 0 2 1 2 2 1 3-3 3 0 0 3 2-1 1 0 3 1 2-2 0 1 5-3 0 2 0 1 1 0 1 1 1-5 1 1 1 0 0 3 5-3 5-1 0 4 2-4 4 5 1-1 2-1 0 2 1-4 3 0 1 4 3-1 0 1 3-4 0 4 3-4 0 4 6-4 1-1 0 4 2 1 2-4 3 0 0 4 1-4 1 4 1-5 3 3 3 2 3 0 1-2 2 1 3 0 1-2 3-1 3 2 9 2 8-3 1-2 3 0 9 4 3-4 0 1 13 2 1 1 1-2 0 1 5 0 7 0 4 1 38 7-34-4-3 3-27 0-5 0-5-3-1 0-7 2-4-1 0 1-5 1-4-3-2 4-1-3-1 2-2 0-4-4-1 0-2 3-1 0-2-2-1-1-2 3-4-1-4-1 0 3-1 0-5 0-1 1-2-2-9 1-3 1-2-4-4 4-2-4-4 4-5-4-1 0-2-1 0 2-1-1-5 2-2 0-4 2-1-1-2-3 0 2-3-3 0 4-1-3-1 1-4-1-2 0-2 2-2 2-4-5 0 3-1-1-1-2-1 3 0 1-1-4-1 0 0 1-2 0-2 4-1-3-1 1-1-2-1 0-1 2-2 1-3-1-3-2-1 4-3-5 0 3-1-3-8 1-3 2-8-3 0 4-2-2 0 3-2 0-3 0-2-4-2 0-1 3-1-1 0 1-1-4-1 1-6-1-1 0-1 3-8-2 0 4-1 0-1 0-1-5-2 5-1 0-1-4-3 3-1-1-1 2-1-4 0 2-9 1-2-1-2 0-1-1-1-2 0 5-3-1-3-3-4 0-1-1 0 1 0 4-3-5-1 0-1 0 0 1-1 4-5-5-5 2-3-1-2 1-1 1-4 1-1-1-2 2-1-1-1-3-1-1 0 3 0 1-1-1-2-3-2 5-4 0-2-1-1-1-1 2-1-5-1 1-5-1 0 4-2 1-1-4 0 1 0 3-2-3 0 3-3-4 0 3-2-4-4 3-1-2-6 2-3-1-1 0-2-1 0 4-1-5 0 1 0 4-2-5 0 1 0 3-1-4-1 0 0 4-5-2-2 0-2-2-1 0 0 3-1-2-1 1-1 0-3 1-1 1-3 1-2 0-1-5-1 0 0 5-1-5-3 4 0 1-2 0-4-2 0 2-3-4 0 3-1 1-3-5-2 1 0 2-3-2 0 3-5-3-13 1-6 3-11-4-2 0-1 4-27-2-22 2 44 4 4-1 1 3 2 0 6-4 6 0 6 3 1-3 3 2 14-1 1-1 4 4 1-2 2 2 1-2 3-3 2 0 3 4 1 0 0 1 3-2 1-2 4 4 2-3 3-2 1 4 1-4 2 1 3 4 6-2 3-3 1 0 0 3 2 0 0 2 4-1 2-3 0 2 1-2 1-1 2 2 0 2 2-3 0 3 1-2 2-2 1 4 3-3 0 1 0 3 1-4 4 0 0 1 2-1 0 1 4 3 3-3 1 3 7-3 3 2 0 1 2 0 3-5 0 5 5-4 0 1 2-2 2 0 1 0 0 2 4-2 3 1 1 2 4-3 2 1 2 4 4-4 1 2 4 2 3-5 2 0 0 5 2-3 0 3 1-5 4 3 1-2 1-1 4 2 1 3 1-1 2-2 1 0 1-1 0 2 0 1 3-1 1 0 0 1 3-3 0 2 2 1 1 0 0 1 3-1 2-4 0 2 0 2 4-2 0 2 7 1 4 0 1-5 0 1 0 1 0 3 1-5 2 5 2-1 1-3 8 2 1-3 3 0 1 3 4 1 2 0 0 1 3-5 0 2 1 0 0 1 3-1 1 0 4 1 1 0 1-1 3 0 2 2 4-3 1 2 2 2 1 0 4-2 3 0 4 1 2-1 2-1 0 3 3-2 2-1 3 0 2 1 1-1 3-2 2 0 3 0 2 3 2-2 0 2 0 1 1 0 3-2 0 1 0 1 1-3 2 3 1 1 2-4 1 3 3-1 6-2 1-1 0 3 0 1 1-3 6 2 3 0 2 1 2-3 1 0 2 2 5 1 2-2 6-2 2 0 0 5 1-4 2 0 1 1 0 2 1-4 1 3 4 0 2 1 4-2 1 0 3 0 2 3 2-4 1 3 2-3 1 0 4-1 0 5 4-3 1 2 4-2 1 3 1-1 2 0 15-2 6-1 8 0 23 0-1 7-13 3-10-1-12-2-1-1-9 1-3-2 0 5-5-4-8 1 0 3-8 0-1-5-8 4 0 1-2-3-2-2 0 2 0 1-3-3 0 4-2-4-4 0-1 1 0 1-6 1-1 1-2-2-1-2-1 1-1 1-1-1-1 1-2-2-2 2-2 2-1 0 0 1-1-2-3 1-2-4-1 1 0 3-4 0-1-4 0 1 0 1-3 1-2-3 0 4-3-1-1-1-1-1-1 1-1 0-5-1-2-1 0 3-3-1 0 2-7-1 0 1-2-2-1 1-2-2-2 1 0 1-2 0-1 1-2-2 0 1-1-2-1 4-2-3-2 2 0 1-3-5 0 1 0 3-2-2-4-2-2 2-4-2-2 1 0 1-2-1-1 3 0 1-2-2 0 1-2-2 0 1-2 2-2-2-2 0-2-2-3 1-1 0-1 2-2 0-2-4 0 2 0 3-1-5-1 1-3-1 0 1-1 2-2-3 0 2-2-1 0 4-1-4-1-1-1 2 0 1 0 2-3-4-6 3-3-3-3 1 0 2-1-2 0 2-4-4 0 5-1-3 0 1-2 2-1-4 0 2-1-2 0 3-5-3-1-1-2 2-2 0 0 2-3 0-6-4-7 2-1-2 0 4-2-3 0 4-1-1-2-1-1-3-2 2-1 0-9 3-2-5-1 1-4 0-2-1 0 1-6 1-1-1-2 1-1 0-1-2-2 0-2 0-1 0 0 5-1-4-4 2 0 2-1-4-2-1 0 3-6-2-1 2-1 0-3-1-1-1-3 4-5 0-1-1-5-2 0 2-1-4-1 1-1-1-1 2-1 3-1-5-2 0 0 2-1 2-5-3-1 1 0 3-1-4-1-1 0 2-4 2-3 0-3 1-4-2-1 2-5-4-2 0-7 4-4 0-1 0-1-4-1 3-1-4 0 3-1-1-1 3-2-1-2-2-4 0-5 0-2 3-1-5 0 5-1-3-1 0-3-2-2 5-11-3-14-1-44 0-11 1 50 4 7 4 3 0 8-4 0 1 3 3 1-1 8 1 1-4 8 2 5 1 5 1 1 1 1 0 3-4 1 4 2-2 1 0 2-2 4-1 3 2 1 3 1-1 1-3 1-1 0 3 1 1 0 1 2-5 1 4 0 1 4-5 6 2 5 2 3-4 2 1 1 0 0 2 7-3 1 1 0 1 1-1 2 3 1-4 1 2 8 3 2-3 1-1 7-1 2 3 3 1 2-3 0 2 1-1 1 3 3-5 9 0 1 3 2-1 1-2 2 4 1-3 5 1 2 2 3 1 1-1 4-4 1 2 0 2 3-1 1 2 1-4 0 4 2-2 3 1 0 1 4-5 0 1 2 0 3 0 2 1 6-2 1 4 5-2 1 2 3 1 1-3 3-2 3 5 2 0 2-1 6-1 2-2 2 2 0 1 1 0 2-4 0 1 0 1 1 2 1-1 1 0 1-3 2 0 3 1 0 4 4-5 3 1 2-1 1 5 2-5 1 4 3 1 4-4 2 4 4-5 1 2 0 1 3-2 4 1 3 2 3 1 2-2 1-1 1 3 4-5 2 4 3 1 1 0 1-1 5-2 0 3 1-3 2 1 1-1 9-2 1 0 2 4 1-2 1 0 1 0 1-2 4 2 0 2 1-1 1-3 0 5 3 0 5-3 0 2 3-1 0 2 1-1 2-4 0 3 1-3 2 2 2-2 6 1 2 2 2-3 1 2 1 0 2 1 5 0 0 2 10-1 1 0 2 0 0 1 1-4 0 4 1-3 2 2 1-4 0 1 1 4 1-1 7-1 2 0 1-2 1 1 1-2 3 3 17-2 7 2 4 0 5-3 7 4 9-2 2 2-23 2-9 1-3 0-6 0-2 3-1-1-2 0 0 2-1-4-6 0-11 3-3 1-4-4 0 1 0 1-3 1-3-4-1 0-3 3-1-1-1-1 0 2-2-3-1 0-4 1-1 4-5-2-2 1 0 1-7-5 0 4-3-4-3 0-5 4-5-4 0 2-1 0-2-2-3 0-5 2-3 0-1 3-2-5-2 3-3-3 0 1-2 1-2-1-2-1-1 1 0 1 0 1 0 1-7-2-1 0-1-1-2 4-2-3-8 3-4-4-3 3-1-4-6 4-1-2-2 1 0 2-2-2-1-1-1 0-1-1-3-1-1 4-2-3-4 4-1-2 0 2-2-5-1 5-3-3-1 3-2 0-1-4 0 2-1-2-4 3-3-4-2 2-1 3-3-1-1-4-5 2 0 1-1 0-3-3 0 1 0 3-1-1 0 1-6 0 0 1-2-2-7 2-5-5-2 0-3 3-2-2-1 0 0 2-1 2-2-1-2-4 0 5-4-2-4-3 0 5-1-4-1 2-4 1 0 1-1-3-4-2 0 3-2-2-1 1 0 1-2-2-1 3-2-4-5 5-3-1-3-2 0 3-1-4 0 1-1 3-4-1-1-1-2-2 0 1-2 1-1-2-1 3-1-4-1 5-1-3-1 2-6 0 0 1-2-5-4 1 0 1 0 3-2-3-1-1-1 0-1 2-2 1-1-1-4 0-2 1-1-4-3 0-2 5-2-2-2-2-6-1 0 1-2 1-8-2-2 4-1-2-1 2-4 0-1-4-7 3-1-1 0 2-8 1-1-3-1-2-3 1 0 3-1-3-4-1 0 4-1-2-2 1-4-3 0 4-3 0-2-2-2 1-1-3-2 4-13-2-31 3-36 3 67-2 6 0 5 3 3-2 5 3 1-1 1 0 1-3 1 5 2-4 14 2 1 1 1-4 0 3 4 1 1 0 2-2 0 1 1 0 4-1 0 2 1-3 2 2 2-1 2 3 1 0 1-5 2 1 2 4 2-2 1 1 1-2 2 3 4-4 0 1 1-2 1 0 1 1 1-1 3 2 2-1 1 3 3-1 1 1 1-3 7 3 8-4 0 4 1-1 1-1 1 2 1-3 1 0 1 1 0 2 1 0 1-3 1-1 2 2 1-2 2 1 1 3 0 1 1 0 1-5 2 0 3 0 0 2 2-1 2-1 2 0 0 2 3 2 2-3 0 2 0 2 1-5 3 5 1-3 0 1 1-1 0 2 10-3 1-1 3 5 5-5 1 4 3-3 4 4 1-4 5-1 1 4 3-1 1-3 3 0 4 0 0 5 2-2 0 2 6-4 3 4 1-5 1 4 1-1 2 1 4-3 3 2 1-2 0 4 1-5 0 5 7 0 2-1 3 0 3-1 1 2 2-4 1 0 0 1 8-1 0 1 0 2 2-4 2 0 2 1 1-1 0 2 2-2 3 2 0 3 1-5 1 2 2 0 0 2 3-4 2 5 1-5 0 1 0 1 3 1 2 1 2-2 1 2 1-4 3 2 1 2 1-4 0 5 1-4 4 2 2 0 4-3 2 0 1 1 2 1 1 2 1-3 1-1 0 1 4 2 2-2 2 1 5 2 3-4 1 1 1 0 3 2 1-2 0 1 1-2 2 5 1 0 1-2 6 2 2 0 3-5 1 1 1-1 0 4 1-3 2-1 0 1 1-1 5 3 1-3 2 1 3 1 0 3 2-4 2 2 3 0 1-2 1 3 5 1 1-1 3-3 2 3 2 0 4-3 1-1 4 3 0 1 1 1 4-4 3 2 1 0 2-2 3 4 5-5 5 3 4-1 0 2 1-3 18 2 5 4-14 3-4-3-1 1-6 2-1-2-17 0-2 0 0 3-4-4-1 1-1-2-1 0-3 0-4 2 0 2 0 1-4-1-3-2-5 0-3 3-2-4 0 1-1-1-3 4-2-4-5-1-1 0-1 5-10-5 0 3-4-2-1 1-2-2 0 4-2-1-2 1-1-3-3 2-1-3 0 4-1 0-1-3 0 2-1-1 0 2-2-4 0 3-1-3-1 4 0 1-2-5 0 3-1-1-1 0-3-1-1 4-3-4-1 4-3-1-4-2-4 0-2-1-1-1-1 0-2 0 0 1-3 4-1-5 0 2 0 1-6-1-1 0-3 0 0 3-3-2 0 2-6-1-2-4 0 1-1 0 0 3-2-4 0 3 0 2-1 0-1-5-1 2-1-2-3 3-3-1-1-2-4 2-1-1-1 0 0 4-5-2 0 2-1-5-2 5-2-4-4 0-2-1-1 0-5 4-4-4-2 1 0 1-1-2 0 4 0 1-4-5-2 5-5-5-2 4-7-2-3 0 0 2-2-3-2-1-4 1 0 3-1-4-10 4-1 0-2 1-2-2-1-3 0 5-6-4 0 4-5-2-3 1 0 1-6 0-2-5 0 2-3-2-5 5-1-1-3 1-3-5-2 1-3 1-1 0-2 1-1 0-1-2 0 3-1 0-1 0-1-2-2 0-3-1-1 2-2 2-6-5 0 2-1 0-1-1 0 3-7-1-1-3-2 4-11-1-3-3-2 0 0 5-3-5-2 3-1 0 0 2-2-4 0 1-2 3-2-5-1 1-3-1-4 3-4-2-1-1-4 5-4-5-5 4-3 0-2-4-3 5-1-2-1 0-2-1-8 0-1-1-9 0-8 1-31-2-32 11 32 0 34-5 8 3 14-3 5 3 3 1 3 1 2-4 2 1 3-2 1 2 4 2 1-3 0 4 2-3 2 1 0 1 2 0 9-1 5-1 2-1 4 4 3-5 0 3 0 1 0 1 2 0 1-1 2-3 2 0 4 3 5-2 0 2 0 1 1-1 5-1 3-2 0 4 1-2 0 1 0 1 2-3 1-1 2 4 2-5 0 1 0 1 1-2 3 2 3 2 1-3 2 3 6 1 4-5 1 3 1-2 2 1 1-1 0 1 0 3 3-4 0 2 2-2 0 2 0 1 6-4 0 5 1-2 1-1 1 0 0 2 0 1 1-1 4-1 1-3 0 5 5-3 0 3 4 0 4-2 0 1 3-4 3 0 5 3 2-2 6 4 3-3 5-1 1 1 2 2 4-1 2 2 5-1 1-4 1 1 2 4 1-3 1 1 4 1 8 1 8-4 2-1 1 0 1 0 2 0 2 3 0 2 1-5 4 1 2-1 1 3 0 1 4 1 2-2 2-2 1 0 0 1 1-1 2 3 6 1 1-2 1 2 1-1 1-1 3-3 3 0 0 5 3 0 3-2 1-3 0 3 2-1 3-2 0 1 0 2 3 0 2-1 1 0 0 2 0 1 1-4 4 2 2 1 3-1 2 0 2-3 0 4 1-4 1 2 1 3 4 0 1-3 1 2 1-4 5 1 5 3 0 1 3-1 3-4 2 4 2-4 0 2 1 0 1 2 2-4 3 5 2-4 1 2 1-2 1-1 1 3 3 1 0 1 2-3 2 1 0 2 3-4 1-1 1 4 0 1 6-3 4 2 5-2 0 2 0 1 1-1 5 1 2-5 1 5 5-2 2-3 0 2 7-1 3-1 7 0 25 3 4 1 12 7-19 0-11-3-3 2-16-1-5-3 0 1-2 3 0 1-5-4 0 3-1-4-1 2 0 1-2-1-3 0-1 0 0 1 0 2-1-4-1-1 0 1 0 3-1 1-7 0-2-5 0 5-6-4-1 3-1-1-2 0-2 2-1-1-4-1 0 1-2-1 0 1-1-2-2-2-4 0 0 1 0 2-4 0-3 1 0 1-3-1-1-1-2-3-1 1-2 4-1-5 0 3-1-1 0 2-1-3-1 0-1-1-2 0-3 3-1-3-2 4-1-2-2 2-2-2-2-2-1 3 0 2-4 0-1-5 0 4-7-2-1 1-3-1-3-1-1-1-1 3-8 1-1-4 0 1 0 1 0 1-2 1-6-2-1-2-3 1-1 2-4 2-5-4-4 2-1 1-2-4-1 0 0 4 0 1-1-5-1 0 0 1-1 2-2-1 0 3-2-1-1-4-1 5-4-1-2-2-3-1-10 2-2-1 0 2-1-2-1 1-1 2-1-1-3 1-3-4-1 0-4 0-2 2-3-1-5-1-2-1-1 0 0 2-4-2-1 4-1-3 0 1-1 2-1-3-1 4-3 0-2-4-3 0 0 3-4-1-4 2-1-1-3-4-6 2-2-2-7 2-1 1 0 2-2-4-2-1-1 1-4 2 0 1-4-2-1 3-1-5-1 2-1-2 0 4 0 1-2-4-1 0-3 0-1 4-2-1-2 0-9-4-2 4-2 0-1-3 0 1-3-2 0 1-4 3-1 1-5-3 0 2-7 0-6-4-1 3-2-2-2-1-2 5-1 0-4-5-2 5-1-5 0 5-1-3-3-1-1 0 0 1-4 3-2-4-2-1-1 1-4 3-4-1-2-3-1 1-2 4-1-4 0 1-6-2-3 3-3-3 0 2-1 1-4-1-2 2-10-1 0 1-22-4-5 1-52 3 31 4 42 0 12 3 3 0 2-3 8-2 0 3 8-2 7 4 1-2 1-1 3 1 0 1 4-2 2 2 1-2 3-1 1 1 2 3 2-4 0 3 4-4 1 5 8 0 6-1 4-3 0 2 4-3 1 1 0 3 4-4 2 4 2 1 2-4 1 2 4 0 2 2 2-5 0 4 1-3 2 1 0 2 1-2 1 1 1-2 0 3 1 0 1-2 1 2 3-1 3-3 2 4 2-2 5 3 3-5 0 5 1 0 1-3 7 2 3-1 1-1 1 2 3 1 2-2 0 2 3-5 4 3 2-2 4 1 0 2 1-2 3 2 7-2 3-2 5 0 1 0 1 4 6-4 1 0 0 5 1-2 1 2 2 0 1 0 5-3 2 1 4-3 0 5 2-3 0 2 2 1 5 0 2-1 6-1 1-1 0 2 2 0 2-2 0 2 1 1 1 0 2-5 1 5 2-2 1 2 1-1 3-4 1 3 6 0 2-1 0 2 1-3 1 3 1 0 1-3 1 0 2 2 5 2 2-4 2 2 3-1 0 3 2-4 0 4 2-1 6-4 1 5 1-4 0 3 2-3 2 1 1 2 1-3 3 4 1-1 1 0 1-1 4 0 0 1 1-4 0 5 4 0 4 0 3-3 7 3 3-2 1-1 5-1 4 2 3-3 4 2 3-2 0 1 0 2 1 0 3 0 7 1 4 0 1-3 1 0 0 2 3-2 1 1 6 3 1-3 1 1 4-2 2 2 3-1 1-2 0 5 5-2 0 2 1-2 3 1 3-4 3 4 1-3 7 1 1 2 4-1 9 1 1-2 5 3 33 3-8 3-38 0-3-2-1-2-5 0 0 3-1 1-2-5-2 2 0 2-8-1-2 2-1-3 0 3-8 0-2-4-1 3 0 1-1-4 0 4-1 0-2-2-1-3-2 1 0 1-3-2-3 1 0 2-3 0-1 0-4 1-3-4-1 2-1-1-5-1-5 4-6 0-1-3-1 1 0 3-1-4-5 2-1 0-3 1-1-2-1 3-1-3-2 3-2-5-1 0 0 2-4-2 0 5-8 0-8-2-3-1-1 0-1 0-2-1 0 4-1-2-3-1 0 1-1 0 0 1-2-4-2 4-1-3 0 1-7-1-3 1 0 3-1-1-8-1-1-1 0 2-1-2-1 2-1 0-8-2-4 2-1-2-4 1 0 2-1 0-3-4-1 4-1-4 0 1-1 1-4-3 0 1-1 4-4-3-5 1 0 1-2-1 0 1-2-4 0 5-2-5 0 1 0 3-3-3-1 3-2-3-3 2 0 1 0 1-6-5 0 2-1 1-2-3-4 0-3 1 0 3-4-2 0 1-7 2-4-2-1-2-4 1-1-1 0 1-3-2-1 3-4 2-1 0-8-4-1 2-2-1 0 2-2 1-1-3-3 2-3 0-2-4 0 1-2 0-6 2-6-2-3 1-1 3-1-5 0 1-3 0-1 2-3-1-1-1 0 2-4-2 0 2-1-3 0 2-1-1-1 3-1-2-1 2-3 0-1-2-1-1-8-1-1 0-5 0-1 2 0 1-4-2-1 3-2-4 0 3-2-2-1-1-6 3-1 0-2-2-2 4-1-5-1 4-5-1 0 2-1-5-2 3-2 1-1-1-1 0 0 1-3 1-5-2 0 1-22 0-23 1 20 4 9-2 3 3 3-3 0 3 8-1 9-3 5 5 2-1 2-3 1 4 2-3 4-2 2 1 3-1 0 2 0 3 4-1 4-4 2 3 0 2 2-2 4-3 0 2 3 3 1-5 0 2 0 2 1 0 2 1 2-5 0 3 2-1 3-1 3 2 0 2 1-5 1 5 4-4 2 2 4-3 0 2 1-1 1-1 0 3 0 1 2-4 2 0 2 4 4-1 5 1 1-2 1-2 0 1 2 1 0 3 1-3 15 1 1 0 0 1 1-4 2 4 1 1 4-4 0 4 1-1 1-3 4-1 2 1 2 1 0 3 2-2 2-3 0 1 1 1 2-1 6 3 1-1 1 0 1 1 1-1 5-3 1 0 1 3 1-1 1 0 4-1 8-1 0 4 2-2 0 2 1 0 1 1 3-4 2 0 1-1 14 1 0 1 4-2 0 1 2 1 2 2 1-4 0 2 4-2 0 5 8-2 1 0 2 2 1-5 3 1 1 0 1 1 1-2 0 1 7 0 1 4 1 0 1-1 3 0 5 1 1 0 1-1 1-2 1-2 2 0 0 3 1-1 0 3 3-5 1 4 3-3 4-1 1 1 1 1 1 2 8-1 3-3 1 2 1-1 5 1 3-2 0 2 1-1 1-1 0 1 3 1 0 1 0 2 3-4 4 2 1 0 4-2 0 4 2-1 1-1 3-1 1-1 0 4 4 0 2-2 1-3 1 2 1 2 1-2 5 2 5 0 1-4 0 4 1-3 0 2 6 1 3 0 2-3 12 2 3 0 6-1 0 1 1-3 9 0 0 1 7 0 2-1 2 0 5 5 1-4 7 2 7 1 15-1 18-1-11 7-16-3-15 4-14 1-3-1-7 0-5-4-5 1-7-1-3 2-2 2 0 1-5-1-3 0-3-4 0 4-3-1-1-2-2 1 0 2-1-3-5 0-3 3-8 0 0 1-1-2-2-3-5 3-4 0 0 2-1-3-1-1-1 1 0 1-3-3-1 3-3 0-6-1-1 3-3-4-2 0-3 3-1-3 0 3-3-1-1-1 0 1 0 1-1 0-1-4-2 4-1-3-2 0-2 2-3-2-4 1-4 3-2 0-1-2-3 1-1-3 0 1-1 0-1-2 0 4-6-3 0 4-4-4-4 2-1 1-1 0-2-4-5 3-3-1-1 0-4 3-2-2 0 1-1-2 0 1-2-3-1 0 0 3 0 1-2 0-1-1-3 1-1-3-2 3-3 1-2-3-1 1-5 2-3-2-1-1 0 3-1-3-2 1-5 1-1-1 0 2-6-2-1-3 0 5-1-5-2 1-1 2 0 1 0 1-2-2-4-3-3 0 0 4-1 1-2-2-2-3-2 2-1 3-1-2-2-1-1 1-1 2-3 0-4-4-6-1-1 0 0 5-1-1-2-4-4 2-4-1-1 2-2-3-10 3-1-2 0 4-1 0-3-3-10-2-6 3-4 0-4-3-1 0-1 4-1-3 0 3-1 0-1 0-1 0-3-3-5 4-1-1-2-2-2 0-1 2-12-4-1 2-4-1-1 0-1 1-1-2 0 2-2-2 0 3 0 1-4-1-1-2-1 2 0 1-3-3-1 4-1 0-1-1-3-4 0 3-2-2-1 3-2-1-3 2-1-1-1-4-11 3-7-1-9-2-14 0-51 10 34-1 33 2 11-5 0 4 1-1 0 2 3-1 1-1 3-1 1 0 1 3 2-2 5 2 4-4 2 2 0 2 1-2 4 1 1-2 3 1 1-2 1 3 2-2 1-2 5 4 1 1 7-5 3 0 4 1 1 0 3 4 2 0 1-3 3 3 6-3 1 0 1-2 4 2 3-2 1 1 0 2 0 1 1-2 1 2 4 1 1-3 2 2 4 0 4-1 2 0 0 2 10-4 1 4 3-2 5 2 3-4 0 2 1-1 1 1 1-3 0 5 1 0 3-3 0 2 1-3 0 1 1-2 1 3 1 1 1-3 0 3 3 0 3 1 1 0 1-4 0 1 5-1 4 3 2 1 2-4 4 2 1-3 2 4 2-1 3-3 0 1 1 4 1-1 1-4 0 2 2-1 6-1 0 2 7-1 1-1 0 1 2 3 2-4 2 3 4 1 0 1 1-1 2-4 2 5 2-5 0 1 1 0 1 0 2 4 2-1 1-4 0 4 1 0 1-3 1 4 4-1 3-1 2 2 3-2 1-3 1 2 1 3 2 0 1-4 0 4 1-5 3 1 4 1 0 2 1-1 0 1 2-3 5 4 3-3 2 0 1 0 1 0 0 3 1-5 0 5 1-1 4 0 1-3 2 3 4-3 1 2 4-3 2 2 2 2 2 1 1-1 2-4 0 1 2-1 7 2 4-1 0 2 2-1 2 1 1-3 0 3 1-1 1-2 8 0 0 1 3-1 0 4 2 1 7-2 3-2 0 4 2-4 0 1 0 1 3-2 1 1 0 2 5-3 0 1 3-2 0 1 6 3 5-3 4 1 11-2 1 1 3 0 8 0 13 4 6-2 51 3-25 4-60 1-1 0-1-1-7-4 0 2-4-1-1 3-4-4-11 2-1-2-2 0-1 4 0 1-2 0-1 0-3-4-4 0 0 1 0 1-3-2-1 3-1-4-3 5-2-2-5-3-2 0-1 1 0 3-1-1-1 0-3 2-1-3-1-2-2 5-6-2-2-3-1 1-3 2-3 2-2-4-2-1-5 0-2 2-2 1-3-2-7 2-2 1-7-1 0 2-3 0-2-3-1 3-1-1-3-4-1 3-1 0-4-2-1 4-1-1-1-4-6 3-2-1-1 2-1-2-1 1-10 1-1 1-1-3-5 1-3-1-4 0-3-2-1 0-1 5-4-1-1-4-2 4-3-4-3 0 0 4-1 1-5-2-1-3 0 3-5-3-2 1 0 1-7 1-1-3-2 3 0 1-2-1-4-1-4-1-3 4-1-5-2 4-3-2-1 1-14 1-3 0-3-1-2-1 0 3-1-5-1 5-5-5 0 2-1 1-1-1-1 3-3-1-2-4-6 4-2-3-2 1 0 2-2 1-2-1-2 1-2-1 0 1-1 0-1-5-2 4-2 0-1-3-2 0-2 0-3 0-6 4-4-4-3 2-1-3-2 0-1 4-2 0-1-2 0 3-1-5-1 2-1-2-1 2-2 0-6-2 0 4-2-4-4 4-1 0-1 1-1-3-1 0-5-1-3-1-2 3-3 1-3-1-7-2-2 3-10-3-19 1-6-1-6-1-2 8 22-1 33 4 2-3 6 0 4-1 8 3 3 1 5-5 2 2 0 3 5-1 3 1 2-3 3-1 0 4 2-3 3-2 3 2 0 2 4 1 4-1 1-3 3 1 0 2 2 0 1-1 3-2 0 2 3-2 2 2 1 1 3-4 2 3 2-3 6 0 2 2 0 1 1-1 2-1 0 1 2-2 0 1 1 4 1-2 3 0 0 1 1-2 4 3 4-2 1-1 1 1 1 2 1-2 2-1 4-1 0 4 1-1 3 0 1 1 4-4 3 0 1 1 3 3 7 0 2-5 1 3 1-1 0 3 1 0 1-3 1 3 3-1 2-3 4 2 2 1 1-4 0 3 2 2 4 0 4-3 0 3 1-5 0 2 1 1 1-2 1 0 6 4 2-4 4 4 3-3 1-1 2 0 2 1 2 0 0 2 3-2 3 1 9-3 1 4 2-4 0 2 0 3 1 0 2-2 2 2 6-2 0 2 1 0 5-3 2 2 2-1 2-1 3 0 6-2 3 5 1-2 1-1 0 2 3-4 1 4 4-4 3 0 0 3 2-3 1 2 1 3 2-5 3 3 0 2 1-5 1 0 1 3 2-3 2 1 2 1 2 3 2-3 3 2 3-1 3 1 1-2 0 2 6 0 1-2 2 2 4-2 4 3 2-5 0 1 0 2 6 0 1-1 1 3 1-1 4-2 2 2 3-1 1-3 15 5 1-2 9 2 3-1 4-2 0 3 5-2 11 2 29-1-12 3-6 2-12 2-3-2-5 1-15-1-1 0-7-1-10-1 0 2-2 1-1-4-2 3-1-3-3 1-7 1 0 3-1-1-2-3-4-1-1 4-1 1-2-3-1-2-2 2-3-1-5-1-12 0-13 0 0 3-3-2-1-1 0 2-4 0-1 2-3-1-3 0-2 2-1-4 0 4-1-4-6-1-2 2 0 3-1-4 0 4-2-2-2-3 0 1 0 2-1 0-1-3-1 1 0 2-3-1-1 1-2 1-3-3 0 1-1-1-4 3-1-1 0 2-4-3 0 2-6-4-1 0 0 2-5 1 0 1-6-3-2 0-2-1-6 5-1-1-1 0-4-3 0 4-3-1-1-3-2 0-1 3-1-4 0 5-1 0-5-3 0 3-1-4-1 4-2-4 0 3-3 1-4-2-2-2-5-1-2 3-2-3-1 3-1 1 0 1-1-3-2 0 0 3-1-1-3 1-2-3-5-1-1 3-3 0-3 0-1 0-1-4 0 1-1 4-1-2-3 0-2 1-2 1-1-5-1 0-1 0 0 3-1-1-3 0-2 3-2 0-6-4-1 2-1 1-1-3-4-1-3 3-2 1-1-1-6-2 0 1-1-1-4 3-3-1-1 2-1-1-2 0-1-2 0 1-1 2-1-3 0 2-2-1-9-2-3 3 0 1-2-4-6 1-1-1-3 4-1-3-1 3-3-5 0 5-2-1-3-1-2-3-2 0 0 4-3-4-2 1-1-1-1 3-3-2-1-1-11 3-1 1-5 1-9-2-10 0-6 2-45 5 20 1 26-3 8-1 22 4 2-4 3 3 3-3 3 0 8 3 1-1 6 1 1-4 0 3 3-3 0 2 1-2 0 4 1 0 7-2 0 1 2-3 1 0 2 3 1 2 5-5 1 0 2 5 1-3 1-1 0 4 3-2 1-2 0 2 7-2 4-1 0 3 3 0 3-1 2 3 2-4 0 2 7 2 2-5 1 4 2-1 1 2 3 0 1-2 1-3 1 0 0 1 0 3 2-3 0 1 2 0 0 3 6 0 3-2 1-2 0 2 0 2 1-1 1-1 1-2 0 2 0 1 1-3 3 2 5 0 2-1 1 3 1-5 2 1 0 1 0 2 3 1 2 0 1-4 0 2 1 0 0 2 1-5 1 4 1-3 1 1 3-1 6-1 1 4 2 0 1 0 1-4 0 2 0 1 1-3 0 4 5-2 5 2 1-4 1 3 0 1 1-1 2-2 8-1 2 4 3 0 2 0 3-4 0 4 3-2 1 1 2-1 1-1 1 0 1 2 1 0 3-3 1 0 0 5 1-1 2-2 1 1 1-3 6 4 1 1 4-1 2-2 0 1 1 2 2-4 0 3 4-4 3 0 1 0 3 0 0 2 1 1 5-3 3 0 0 5 2-5 4 1 0 3 1-2 0 1 3 1 2-2 0 2 1-1 3-3 0 5 1 0 1-4 0 1 1 0 3 0 0 1 3-3 0 3 2-2 0 4 2-4 6-1 0 3 5 1 1-4 2 3 1-3 2 5 1-2 2-3 1 5 1-2 3-2 9 0 3-1 2 4 3 1 1-2 2 0 1-1 0 2 3 0 1-4 0 5 1-5 1 5 1-4 4-1 1 0 5 1 4 1 3 2 2 0 7-1 21 1 4 5-24-3-5 1-11 1-1 1-1-2-10 4-11-1-2-4-1 5-1 0-2-4-9 0-4 0 0 2-4-1-3 2-1-2-2 1-3-2-1-1-1 3-1-2-1 3-1-4-4 1-1 1-1 0-6-2 0 5-2 0-7-4-1 4-4 0-4-5-5 3-7-1 0 3-1-4-3 3-2-1-1-2-2 0-1 0-3 1-2-2-1 4 0 1-1-4 0 2 0 2-1-3-3 1-6-2-7 2-2-1-1 1-7-3-4 5-4-1-2-4-1 2-1 2-2-4-5 0 0 4-1-1-4 1-3 1-1-4 0 1-3 2-2-4-3 0-1 3-4-3-1 4-1-2 0 1-1-1-2 0-2 2-2-4-1 5-4-3-2 2-1 1-2-2-1-3-2 3-1 0-1 0-4-2 0 1-1 1-1 0-1 0 0 1-1-2-1 3-2-2-5-2-2 1 0 1-4-2 0 3-1-1-2-1 0 1 0 2-8-2-1-2-1 2-2 1-1-2-2 1-2-3 0 2-1 1-2 0 0 1-3-4 0 3-2-3 0 1-1 1-3-1-3-1-1 5-1-1-1-1 0 1-1-1-1 2-9-5-3 1 0 3-1-4-2 0-2 3-1-3 0 5-2-2-3-3-2 2 0 3-1-3-4-1-4 3-2-1-2-2-3-1-6 0-1 2-2 3-5-5-1 5-1-4 0 1-5-1-31 3-3-3-5 4-9 0-2-3-11 9 6-2 8-2 11 3 15-1 2 2 12-1 14-4 4 1 2-1 15 1 4 4 1-3 1-2 3 5 2-4 1 3 1-3 5 0 1 4 4-3 2-1 1 1 0 2 1-1 3-3 0 2 1 1 2 0 5 2 4-5 2 4 1-4 2 2 3 3 2-5 1 2 1 0 2-2 1 5 1-1 3-1 7-1 0 2 4-3 1 0 1 3 0 1 4-2 4 1 2 0 2-2 1 0 0 2 0 1 2-4 2 1 2-2 2 4 1 0 0 1 1-4 4 3 1-2 2 2 3-4 0 1 0 1 0 3 1-2 2-2 1 0 0 4 1-2 3-1 3 0 2 0 0 2 0 1 2-1 2-3 1 1 2-2 0 2 2 2 2-4 12 5 1-3 5-2 2 1 3 0 2-1 4 0 0 1 4 4 1-4 1 2 3 2 3-5 4 0 1 0 0 2 0 1 1 0 1-1 0 1 0 2 1-1 1 1 3-3 9-1 0 4 1 0 1 0 2-2 1 1 2 1 2-2 0 2 1-2 4 1 1 0 1-3 2 1 1-2 0 1 1 2 1-2 2 1 1-1 6-1 2 0 0 5 3-2 1-3 1 4 1-3 1-1 2 0 2 2 1 0 3 2 1 0 5 1 1-4 1 3 1-4 6 5 2-5 1 2 1-2 8 0 1 4 10-3 2 0 1 1 8-1 14 1 9 0 16-2 5 2 2-1 28 1 29 4-68 0-40 2-9 3-1 0-1 0-1-1-3-2 0 2-1 0-10-3 0 4-10-4-5-1-2 3-1-2-1 0-2 4-6-1-3 1-11-4-9 0-2 3-3-3-1 1 0 3-2-2-1-2-3 1-3-1-2 0-8 1-3 1-1-3 0 2-2 1 0 1-4-2-1 1 0 2-2-4-1-1 0 3-1-3-1 5-1-5-1 1-1 4-2-4-6 2-2-2-2 0-3 0 0 2-1-2-1-1-1 5-2-4-2-1-4 1 0 2-1-3-1 0-2 2-1 3-1-5-4 0 0 5-4-4-2 1-5-1-6 0 0 2 0 2-5-4 0 2-1 1-3-4-2 3-2 2-1-1-5 1-1-2-1-2-2-1 0 3-4 0-1-3 0 4-1 1-1-2-6-3-1 1-2 0-3 2-3-1-2-2-3 3-1-1-2-2-1 2-3 3-1-2-2 1-2-1-1-3-2 3-4-2-4 0-1 0-1 4-2-5 0 2-1-1-2 0 0 4-5-5-1 1 0 2-5-1-3-1 0 2 0 1-2 1-3-3-3-1-11-1-1 3-3 1-3-1-9-2-4 1-5 1-14-3-23 4-11-1-1-3-11 1-9 0 35 7 4 1 18-1 18 1 4-2 5-1 1 3 9 0 3-2 1 1 5-1 0 2 0 1 1-1 1 1 3-2 4-1 3-1 0 3 5-2 9 3 1-4 8 5 2-5 3 0 0 1 1-1 2 4 2-3 2-1 0 4 1-2 1-1 6-1 1 2 1-2 1 2 0 2 1-3 1 0 2-1 1 1 1 3 1-1 3-1 3-2 0 5 3-4 2 0 1-1 4 3 4-3 2 1 1 0 2 0 5 1 2-1 0 1 4 3 1-3 2 2 4-4 1 5 1-2 0 1 1-4 1 3 0 2 2-1 1-3 2 2 0 2 1-5 0 5 5-2 1 2 5-5 0 2 6-1 2 2 4 0 2 2 3-4 2 4 1-5 0 2 2 0 1-2 0 1 0 1 2 2 1-3 1-1 1 5 3-5 0 4 3-2 2 3 1-5 2 2 5 0 4-1 0 1 4-2 6 4 1-2 5-2 2 1 0 4 8 0 2-5 6 2 1-1 0 4 3-4 2 4 2-3 7-2 4 0 1 3 1-2 1 3 2-3 1 1 4 3 5-5 3 4 0 1 1-2 5 2 1-5 0 1 1 0 15 0 4 1 2-1 4-1 4 2 11 0 14 1 7-3 43 10-29 1-28-3-7-1-8 1-12 3-4-2 0 1-9-4-3 1-2 0-4 2 0 2-7-5-5 0 0 2-3 2-3-3-13 1-3 1-6 0-1-3 0 2 0 2-1-2 0 1-2 1-4-1 0 1-7-2-1 0-4 0 0 2 0 1-1-1-2-1-1-3 0 2-1 3-1-3-8 3-5-4 0 1-2 2-3-1 0 2-3-3-2 2-3-3-3 3-2-3 0 4-1-3-1-1-6 1-1-1-2 0-1-1 0 4 0 1-6 0-1-3-2 0 0 2-6 0-3-3 0 3-1-4-4 5-3-2-1 1-4-3-1 4-2 0-4-2-2 0-4 0-4 2-1 0-2-4-1 4-2-2-1-3-1 0-2 3-2-3 0 3-1-3 0 1-2 3 0 1-2 0-2-3-4-1-1 3-2-2-2-1 0 2-1 1-1-2 0 2-5-4-2 3-3 1-5-2-3 3-1-2 0 1 0 1-1-5 0 4-1-1-2-2-4-1-2 5-2-3 0 3-3-2-3 2-4-4-1-1 0 3-1-2 0 1-1-2 0 1 0 1-1-2-1 0-3 1 0 3-5 0-2-2-3 0-7-2-3 4-4-4-5 2-4 3-1-2-2-2-4-1-9 3-8-1-12 1-2 0 18 8 6-3 4-1 4 1 10-2 2 3 3-1 5 1 2 0 1 2 6 0 6 0 5-4 1 4 6-5 2 2 4-1 4-1 1 4 1-4 1 2 2 0 1 1 1 2 2-4 0 3 6-4 4 1 0 2 1-3 1 4 1 0 1 0 2-2 0 2 4 0 2-3 3 1 1 3 3 0 3-5 0 1 6 1 2 2 3 1 1-2 1 1 1-3 7-1 2 3 2-1 0 3 5-3 4-2 0 4 1-1 5 0 0 2 2-1 1-3 1 1 2 1 2 1 4-3 3 0 0 1 0 1 3-1 9-2 0 3 4-1 2 0 1 3 3-4 5 4 6-5 3 5 1-1 4-3 0 1 3 1 1-2 1 1 2-1 2 3 4-3 2 0 11 0 0 4 1 0 2-2 1-2 4-1 1 5 2-5 14 2 0 2 4-4 12 2 3 0 4 1 22-1 7 0 10 1 17-3 5 1 6 1 4 2 14-1 20 7-30 0-4-4-1 4-2-1-9-3-9 5-15-2-4 1-3-1-18 0 0 1-4-3-12 2-4 0-1 0-13-2 0 4-12 0-3-2-1 1-3 0-7-1-2-3-4 2-1-1-1 3-1-3-8 1-5 0-1 2-3 0-2 1-2-5-3 4-2 1-2-2-2-1-2 0-1 2-3-4 0 1-1 1-6 3-1-3-3 0-5 0-2-2-1 0-1 1-8 0-3 0 0 4-3-4-6 1-1-1-3 0 0 4-2-5-6 1 0 1-1 2-3 1-4-4-1 0-2 3-2-1-1 1 0 1-4-5-1 2-1 1-2 1-1-2-4-2 0 4-2-3 0 3-5-1-1 0-1 0-6-3-3 2 0 1-2-2-1 0-1 0-6 2-7 0-4-1-1 0-5-2-1 3-2 1-7-2-4 2-9 0-12-3-4 1 0 3-6-4-15 3-94 0 54 2 19 0 10 0 5 0 15 4 13-4 7 2 7-1 7 2 9-1 2 3 4-2 1-2 0 3 0 1 2 0 7-3 5 3 2-2 2-3 10 2 5 0 6-2 1 2 3-2 1 4 4-2 1 1 4-3 0 4 4 0 5-1 5 0 1-1 0 1 2 0 1 1 1-4 2 3 1-2 5 0 5 0 2 0 0 3 1 0 1 1 1-3 2 2 0 1 1-5 3 1 2 2 0 2 2 0 5-5 2 3 3 2 2-5 2 1 2-1 2 5 4-5 4 0 2 2 3 0 4 1 6-3 0 3 1-2 7 0 8 1 4 0 4-2 26 5 18-3 7-2 1 3 5-2 21-1 18 5 1-3 38 1 7-1 53 4-44 2-13-2-42 2-12-2-32 4-11 0-15-3-2-1-3 1-3 0-5 4-2-5-10 0-19 2-8 3-3-1-3-1-4-3-10 0-4 0-6 3-5 2-11-4 0 1-8 0-2-2-5 3-4-3-5 1-4 0-1 1-7 1-2 2-5-4-4 4-1-2-3 0-1-3 0 2-2 0-3-1-4-1 0 3-1 0 0 1-2-3 0 1-3 0-1-2 0 5-1-4 0 3-2 0-1-2-4 1-8 2-1 0-5-4-2-1-2 1-2 1-4 1-1 1-5-4-1 5-2-5-10 0-39 3-35 1 12 4 63-2 2 1 0 1 12 2 5-4 9 1 2 0 2 1 10-2 2 3 5 2 1-2 3 2 2-4 0 2 2 2 4-5 3 4 2-3 2 0 4 3 1 1 1-5 3 4 4 0 9-2 2-2 9 1 8-1 3 0 7 3 4-2 3 0 0 1 0 3 1-4 9 1 5 1 5-1 11 0 4 3 1-1 6-3 13 0 5 1 6 0 2 1 4 0 3 2 27-5 11 0 19 2 18 3 77-4 12 1-7 5-50 0-26 1-3 0-1 3-8-2-19-1-3 2-8-4-1 0-38 2-23-1-16 0-13 3-12-4-13 5-1-1-6-3-3-1-5 1 0 3-1-3-7 2-2 1-8-1-12-3-6 2-9 2-1-2-13 1-1 0-3 2-1-5-3 2-6-2-4 3-20-2-13-1-7 2-13-1-48 0-9 9 40-4 16 1 16 3 12-3 7-1 4 3 6-2 9 0 7-1 1 2 8-2 1 0 5 0 19 1 20 0 18 2 8-2 16 3 18 1 1 0 22-1 6 1 2-5 48 5 37-4 91 10-12-1-11-1-80 0-76-3-2 1-6 3-1-1-3-1-18-1 0 3-9-3-10 3-2-2-2-1-7 1-15-1-12 2-5-3-2 3-1 1-12 1-8-2-15 2-7 0-4-5-2 0-2 2-12-1-9 1-6 1-36 2 12 1 2 3 35 2 2 0 3-2 3 0 1 0 3-2 7-1 4 5 4-4 7 1 1-2 10 1 9 3 10 0 5-4 10 1 6 1 31 2 4 0 29-1 3 2 4-2 2-1 6 2 3-2 71 2 13-4 28 3-57 4-21 2-21 2-28-1-33-1-6-3-3 3-11-1-25-1-15 0-10 4-19-4-10-1-1 0-20 1-4 0-41 9 23-2 13 2 28 1 9-5 13 5 5-3 3-1 13 4 2-1 11-2 0 1 29-1 52 1 1 0 13-3 77 3 12-1 9 2 45-3 53 5-5 2-180 1-12-3-66 2-20 3-8 0-7-4 0 1-23-2-1 5-11-3-19 2-53 1 18 1 6 5 13-1 31 0 11-4 3 1 41 4 6-4 3 1 27 2 37 0 35-4 47 0-125 9-71 0-114-2 352 9 16-4 45 8-309 2-42 1-13 3 58 3 13-1 32-3 14 9-42-4-70 22 53-2 75 2-74 2"/>
<g fill="none" stroke="#000" stroke-width="3">
<rect x="190.5" y="75.5" width="567" height="550"/>
<rect x="772.5" y="75.5" width="567" height="550"/>
<rect x="1354.5" y="75.5" width="567" height="550"/>
<rect x="1936.5" y="75.5" width="567" height="550"/>
<rect x="2518.5" y="75.5" width="567" height="550"/>
</g>
<g font-family="Liberation Serif" font-size="100" fill="#000">
<text transform="matrix(0.9385 0 0 0.8174 389.96 61.18)">t</text>
<text transform="matrix(0.9032 0 0 0.7440 439.48 64.15)">=</text>
<text transform="matrix(0.8048 0 0 0.7556 514.98 61.24)">0</text>
<text transform="matrix(0.9308 0 0 0.8191 950.97 61.18)">t</text>
<text transform="matrix(0.9032 0 0 0.7560 1000.48 64.40)">=</text>
<text transform="matrix(0.8000 0 0 0.7496 1075.50 61.20)">7</text>
<text transform="matrix(0.8100 0 0 0.7519 1117.94 61.25)">5</text>
<text transform="matrix(0.9500 0 0 0.8226 1511.85 61.38)">t</text>
<text transform="matrix(0.9032 0 0 0.7600 1561.48 64.48)">=</text>
<text transform="matrix(0.7127 0 0 0.7606 1637.94 61.10)">1</text>
<text transform="matrix(0.8075 0 0 0.7549 1678.86 61.45)">5</text>
<text transform="matrix(0.8190 0 0 0.7600 1721.52 61.44)">0</text>
<text transform="matrix(0.9192 0 0 0.8226 2094.08 61.38)">t</text>
<text transform="matrix(0.9032 0 0 0.7600 2143.48 64.48)">=</text>
<text transform="matrix(0.7800 0 0 0.7606 2219.19 61.10)">2</text>
<text transform="matrix(0.7800 0 0 0.7606 2261.59 61.10)">2</text>
<text transform="matrix(0.8000 0 0 0.7549 2303.50 61.45)">5</text>
<text transform="matrix(0.9192 0 0 0.8226 2676.08 61.38)">t</text>
<text transform="matrix(0.9032 0 0 0.7600 2725.48 64.48)">=</text>
<text transform="matrix(0.7952 0 0 0.7657 2801.42 61.43)">3</text>
<text transform="matrix(0.8025 0 0 0.7549 2843.09 61.45)">5</text>
<text transform="matrix(0.8167 0 0 0.7600 2885.33 61.44)">0</text>
<text transform="matrix(0.8000 0 0 0.7609 103.20 369.00)" font-style="italic">x</text>
<text transform="matrix(0.6353 0 0 0.5739 138.64 379.43)" font-style="italic">t</text>
<text transform="matrix(0.7705 0 0 0.7299 13.90 922.31)" font-style="italic">q</text>
<text transform="matrix(0.6431 0 0 0.6703 54.81 919.59)">(</text>
<text transform="matrix(0.7778 0 0 0.7609 81.17 924.00)" font-style="italic">x</text>
<text transform="matrix(0.6118 0 0 0.5565 117.25 933.44)" font-style="italic">t</text>
<text transform="matrix(0.6192 0 0 0.6703 139.64 919.59)">)</text>
</g>
</svg>
</body></html>
